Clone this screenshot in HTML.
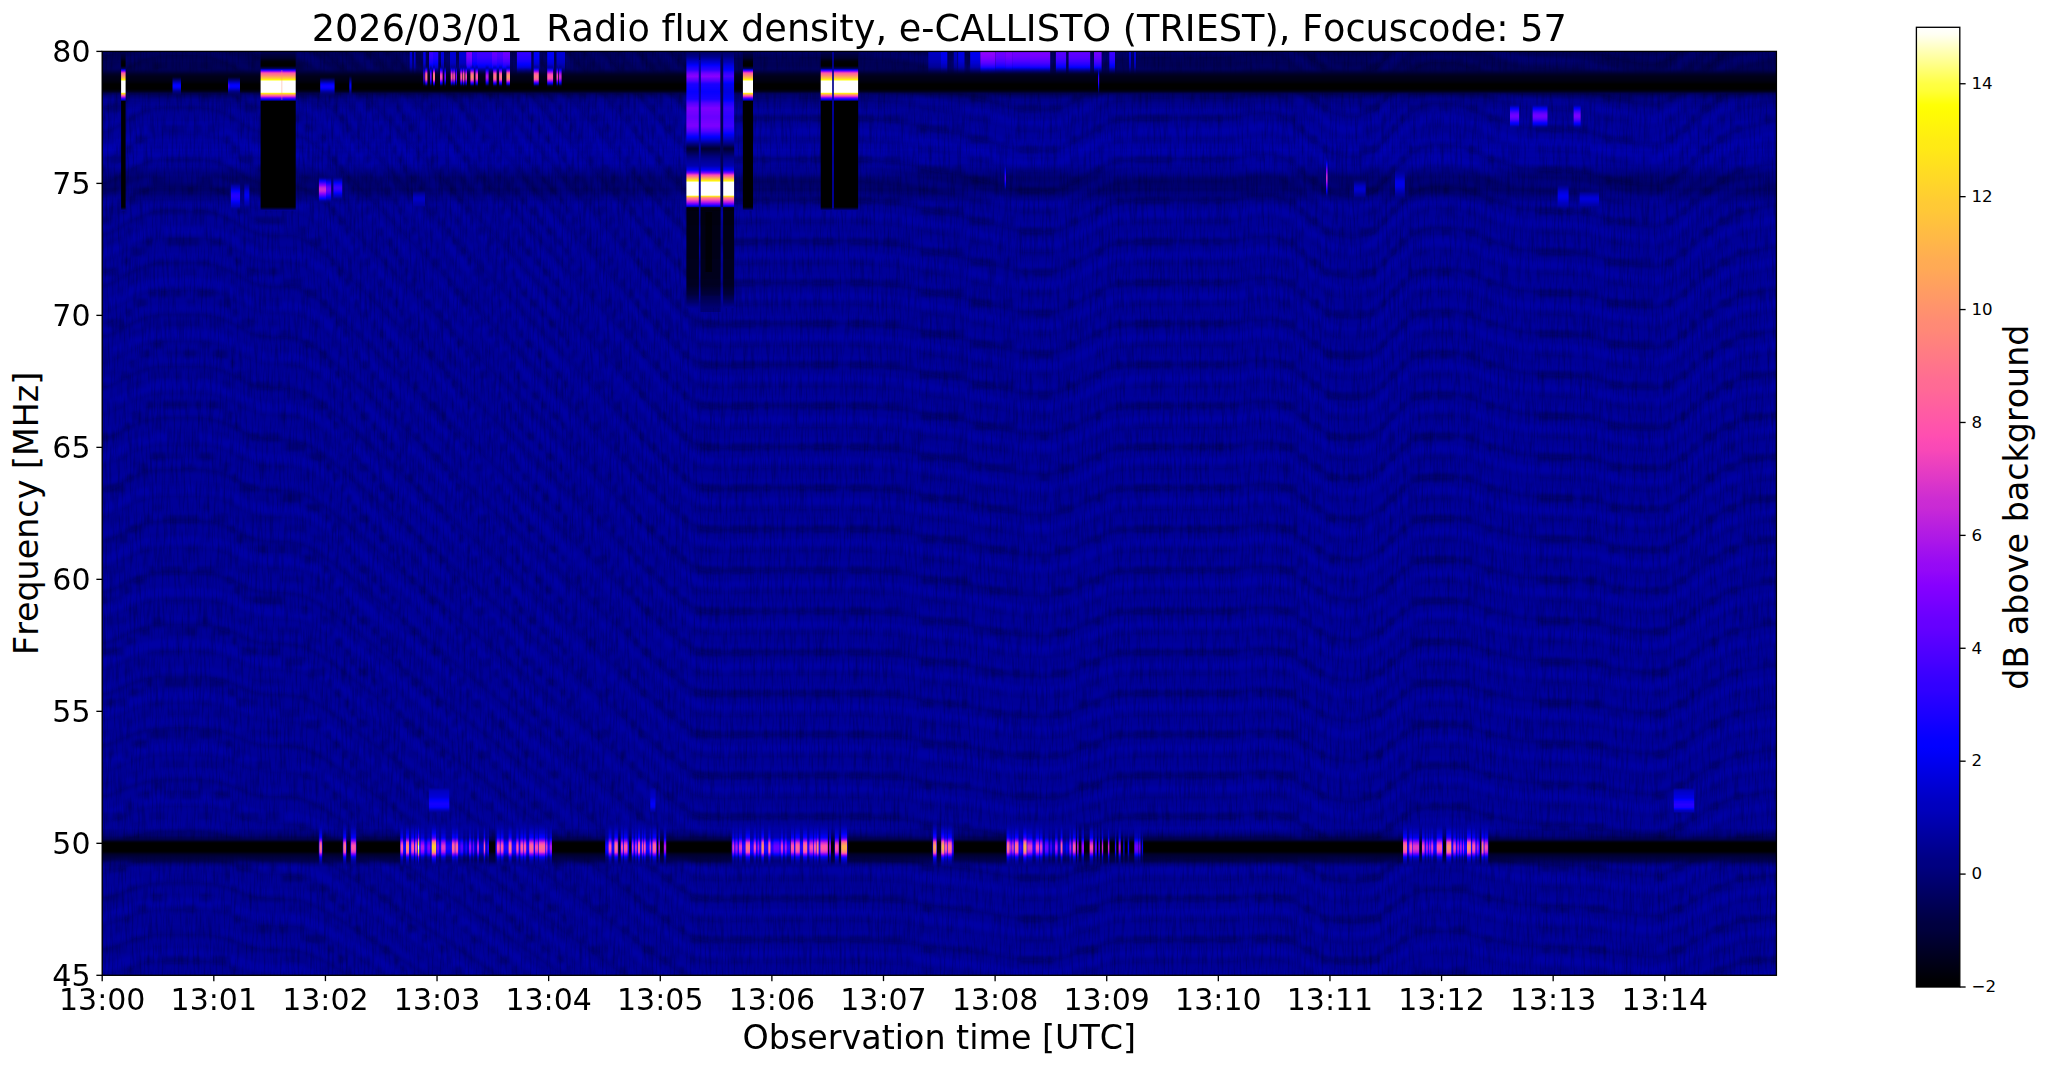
<!DOCTYPE html>
<html lang="en"><head><meta charset="utf-8"><title>e-CALLISTO TRIEST spectrogram</title>
<style>
html,body{margin:0;padding:0;background:#fff;overflow:hidden}
svg{display:block;font-family:"DejaVu Sans","Liberation Sans",sans-serif;fill:#000}
text{font-variant-ligatures:none;font-feature-settings:"liga" 0,"clig" 0;font-kerning:none}
</style></head><body>
<svg width="2047" height="1067" viewBox="0 0 2047 1067">
<defs>
<linearGradient id="cb" x1="0" y1="0" x2="0" y2="1"><stop offset="0.0000" stop-color="#ffffff"/><stop offset="0.0074" stop-color="#fffff3"/><stop offset="0.0147" stop-color="#ffffda"/><stop offset="0.0221" stop-color="#ffffc0"/><stop offset="0.0294" stop-color="#ffffa7"/><stop offset="0.0368" stop-color="#ffff8e"/><stop offset="0.0441" stop-color="#ffff75"/><stop offset="0.0515" stop-color="#ffff5c"/><stop offset="0.0588" stop-color="#ffff43"/><stop offset="0.0662" stop-color="#ffff37"/><stop offset="0.0735" stop-color="#ffff1e"/><stop offset="0.0809" stop-color="#ffff05"/><stop offset="0.0882" stop-color="#fffc03"/><stop offset="0.0956" stop-color="#fff807"/><stop offset="0.1029" stop-color="#fff40b"/><stop offset="0.1103" stop-color="#fff00f"/><stop offset="0.1176" stop-color="#ffec13"/><stop offset="0.1250" stop-color="#ffea15"/><stop offset="0.1324" stop-color="#ffe619"/><stop offset="0.1397" stop-color="#ffe21d"/><stop offset="0.1471" stop-color="#ffde21"/><stop offset="0.1544" stop-color="#ffda25"/><stop offset="0.1618" stop-color="#ffd629"/><stop offset="0.1691" stop-color="#ffd22d"/><stop offset="0.1765" stop-color="#ffce31"/><stop offset="0.1838" stop-color="#ffca35"/><stop offset="0.1912" stop-color="#ffc837"/><stop offset="0.1985" stop-color="#ffc43b"/><stop offset="0.2059" stop-color="#ffc03f"/><stop offset="0.2132" stop-color="#ffbc43"/><stop offset="0.2206" stop-color="#ffb847"/><stop offset="0.2279" stop-color="#ffb44b"/><stop offset="0.2353" stop-color="#ffb04f"/><stop offset="0.2426" stop-color="#ffac53"/><stop offset="0.2500" stop-color="#ffaa55"/><stop offset="0.2574" stop-color="#ffa659"/><stop offset="0.2647" stop-color="#ffa25d"/><stop offset="0.2721" stop-color="#ff9e61"/><stop offset="0.2794" stop-color="#ff9a65"/><stop offset="0.2868" stop-color="#ff9669"/><stop offset="0.2941" stop-color="#ff926d"/><stop offset="0.3015" stop-color="#ff8e71"/><stop offset="0.3088" stop-color="#ff8a75"/><stop offset="0.3162" stop-color="#ff8877"/><stop offset="0.3235" stop-color="#ff847b"/><stop offset="0.3309" stop-color="#ff807f"/><stop offset="0.3382" stop-color="#ff7c83"/><stop offset="0.3456" stop-color="#ff7887"/><stop offset="0.3529" stop-color="#ff748b"/><stop offset="0.3603" stop-color="#ff708f"/><stop offset="0.3676" stop-color="#ff6c93"/><stop offset="0.3750" stop-color="#ff6a95"/><stop offset="0.3824" stop-color="#ff6699"/><stop offset="0.3897" stop-color="#ff629d"/><stop offset="0.3971" stop-color="#ff5ea1"/><stop offset="0.4044" stop-color="#ff5aa5"/><stop offset="0.4118" stop-color="#ff56a9"/><stop offset="0.4191" stop-color="#ff52ad"/><stop offset="0.4265" stop-color="#ff4eb1"/><stop offset="0.4338" stop-color="#fb4ab5"/><stop offset="0.4412" stop-color="#f848b7"/><stop offset="0.4485" stop-color="#f144bb"/><stop offset="0.4559" stop-color="#eb40bf"/><stop offset="0.4632" stop-color="#e53cc3"/><stop offset="0.4706" stop-color="#df38c7"/><stop offset="0.4779" stop-color="#d834cb"/><stop offset="0.4853" stop-color="#d230cf"/><stop offset="0.4926" stop-color="#cc2cd3"/><stop offset="0.5000" stop-color="#c92ad5"/><stop offset="0.5074" stop-color="#c326d9"/><stop offset="0.5147" stop-color="#bc22dd"/><stop offset="0.5221" stop-color="#b61ee1"/><stop offset="0.5294" stop-color="#b01ae5"/><stop offset="0.5368" stop-color="#aa16e9"/><stop offset="0.5441" stop-color="#a312ed"/><stop offset="0.5515" stop-color="#9d0ef1"/><stop offset="0.5588" stop-color="#970af5"/><stop offset="0.5662" stop-color="#9408f7"/><stop offset="0.5735" stop-color="#8d04fb"/><stop offset="0.5809" stop-color="#8700ff"/><stop offset="0.5882" stop-color="#8100ff"/><stop offset="0.5956" stop-color="#7b00ff"/><stop offset="0.6029" stop-color="#7400ff"/><stop offset="0.6103" stop-color="#6e00ff"/><stop offset="0.6176" stop-color="#6800ff"/><stop offset="0.6250" stop-color="#6500ff"/><stop offset="0.6324" stop-color="#5f00ff"/><stop offset="0.6397" stop-color="#5800ff"/><stop offset="0.6471" stop-color="#5200ff"/><stop offset="0.6544" stop-color="#4c00ff"/><stop offset="0.6618" stop-color="#4600ff"/><stop offset="0.6691" stop-color="#3f00ff"/><stop offset="0.6765" stop-color="#3900ff"/><stop offset="0.6838" stop-color="#3300ff"/><stop offset="0.6912" stop-color="#3000ff"/><stop offset="0.6985" stop-color="#2900ff"/><stop offset="0.7059" stop-color="#2300ff"/><stop offset="0.7132" stop-color="#1d00ff"/><stop offset="0.7206" stop-color="#1700ff"/><stop offset="0.7279" stop-color="#1000ff"/><stop offset="0.7353" stop-color="#0a00ff"/><stop offset="0.7426" stop-color="#0400ff"/><stop offset="0.7500" stop-color="#0100ff"/><stop offset="0.7574" stop-color="#0000f8"/><stop offset="0.7647" stop-color="#0000f0"/><stop offset="0.7721" stop-color="#0000e8"/><stop offset="0.7794" stop-color="#0000e0"/><stop offset="0.7868" stop-color="#0000d8"/><stop offset="0.7941" stop-color="#0000d0"/><stop offset="0.8015" stop-color="#0000c8"/><stop offset="0.8088" stop-color="#0000c0"/><stop offset="0.8162" stop-color="#0000bc"/><stop offset="0.8235" stop-color="#0000b4"/><stop offset="0.8309" stop-color="#0000ac"/><stop offset="0.8382" stop-color="#0000a4"/><stop offset="0.8456" stop-color="#00009c"/><stop offset="0.8529" stop-color="#000094"/><stop offset="0.8603" stop-color="#00008c"/><stop offset="0.8676" stop-color="#000084"/><stop offset="0.8750" stop-color="#000080"/><stop offset="0.8824" stop-color="#000078"/><stop offset="0.8897" stop-color="#000070"/><stop offset="0.8971" stop-color="#000068"/><stop offset="0.9044" stop-color="#000060"/><stop offset="0.9118" stop-color="#000058"/><stop offset="0.9191" stop-color="#000050"/><stop offset="0.9265" stop-color="#000048"/><stop offset="0.9338" stop-color="#000040"/><stop offset="0.9412" stop-color="#00003c"/><stop offset="0.9485" stop-color="#000034"/><stop offset="0.9559" stop-color="#00002c"/><stop offset="0.9632" stop-color="#000024"/><stop offset="0.9706" stop-color="#00001c"/><stop offset="0.9779" stop-color="#000014"/><stop offset="0.9853" stop-color="#00000c"/><stop offset="0.9926" stop-color="#000004"/><stop offset="1.0000" stop-color="#000000"/></linearGradient>
<clipPath id="axclip"><rect x="102.20" y="51.40" width="1674.20" height="923.90"/></clipPath>
<linearGradient id="g1" gradientUnits="userSpaceOnUse" x1="0" y1="51.40" x2="0" y2="975.30"><stop offset="0" stop-color="#000058"/><stop offset="0.004329" stop-color="#000058"/><stop offset="0.005411" stop-color="#00005c"/><stop offset="0.01082" stop-color="#00005c"/><stop offset="0.0119" stop-color="#000058"/><stop offset="0.04654" stop-color="#000058"/><stop offset="0.04762" stop-color="#000068"/><stop offset="0.0487" stop-color="#000070"/><stop offset="0.04978" stop-color="#000078"/><stop offset="0.05087" stop-color="#000080"/><stop offset="0.05195" stop-color="#000088"/><stop offset="0.05411" stop-color="#000088"/><stop offset="0.05519" stop-color="#00008c"/><stop offset="0.05628" stop-color="#00008c"/><stop offset="0.05736" stop-color="#000090"/><stop offset="0.05952" stop-color="#000090"/><stop offset="0.06061" stop-color="#000094"/><stop offset="0.06169" stop-color="#000094"/><stop offset="0.06277" stop-color="#000098"/><stop offset="0.07468" stop-color="#000098"/><stop offset="0.07576" stop-color="#00009c"/><stop offset="0.09416" stop-color="#00009c"/><stop offset="0.09524" stop-color="#0000a0"/><stop offset="0.09957" stop-color="#0000a0"/><stop offset="0.1006" stop-color="#0000a4"/><stop offset="0.105" stop-color="#0000a4"/><stop offset="0.1061" stop-color="#0000a8"/><stop offset="0.1071" stop-color="#0000a8"/><stop offset="0.1082" stop-color="#0000a4"/><stop offset="0.1136" stop-color="#0000a4"/><stop offset="0.1147" stop-color="#0000a0"/><stop offset="0.1212" stop-color="#0000a0"/><stop offset="0.1223" stop-color="#00009c"/><stop offset="0.1234" stop-color="#000098"/><stop offset="0.1245" stop-color="#000098"/><stop offset="0.1255" stop-color="#000094"/><stop offset="0.1266" stop-color="#000090"/><stop offset="0.1277" stop-color="#00008c"/><stop offset="0.1288" stop-color="#00008c"/><stop offset="0.1299" stop-color="#000088"/><stop offset="0.131" stop-color="#000084"/><stop offset="0.132" stop-color="#000080"/><stop offset="0.1331" stop-color="#00007c"/><stop offset="0.1342" stop-color="#000078"/><stop offset="0.1353" stop-color="#000074"/><stop offset="0.1364" stop-color="#000070"/><stop offset="0.1472" stop-color="#000070"/><stop offset="0.1483" stop-color="#00006c"/><stop offset="0.1504" stop-color="#00006c"/><stop offset="0.1515" stop-color="#000070"/><stop offset="0.1526" stop-color="#000074"/><stop offset="0.1537" stop-color="#000074"/><stop offset="0.1548" stop-color="#000078"/><stop offset="0.1558" stop-color="#00007c"/><stop offset="0.1569" stop-color="#000080"/><stop offset="0.158" stop-color="#000084"/><stop offset="0.1591" stop-color="#000088"/><stop offset="0.1602" stop-color="#000088"/><stop offset="0.1613" stop-color="#00008c"/><stop offset="0.1623" stop-color="#000090"/><stop offset="0.1634" stop-color="#000094"/><stop offset="0.1645" stop-color="#000094"/><stop offset="0.1656" stop-color="#000098"/><stop offset="0.8409" stop-color="#000098"/><stop offset="0.842" stop-color="#000090"/><stop offset="0.8431" stop-color="#00008c"/><stop offset="0.8442" stop-color="#000088"/><stop offset="0.8452" stop-color="#000084"/><stop offset="0.8463" stop-color="#000080"/><stop offset="0.8474" stop-color="#000078"/><stop offset="0.8485" stop-color="#000074"/><stop offset="0.8496" stop-color="#000068"/><stop offset="0.8506" stop-color="#00005c"/><stop offset="0.8517" stop-color="#000058"/><stop offset="0.8766" stop-color="#000058"/><stop offset="0.8777" stop-color="#000064"/><stop offset="0.8788" stop-color="#000074"/><stop offset="0.8799" stop-color="#000080"/><stop offset="0.881" stop-color="#000088"/><stop offset="0.882" stop-color="#000090"/><stop offset="0.8831" stop-color="#000098"/><stop offset="1" stop-color="#000098"/></linearGradient>
<filter id="tb" x="0" y="0" width="100%" height="100%"><feGaussianBlur stdDeviation="1.1 1.6"/></filter>
<polyline id="wl" points="98,-382.3 107,-384.2 116,-388.6 125,-394.1 134,-399.1 143,-402.9 152,-405.5 161,-406.8 170,-407.0 179,-407.0 188,-407.0 197,-407.0 206,-406.4 215,-404.6 224,-401.6 233,-397.3 242,-391.9 251,-386.8 260,-383.7 269,-382.4 278,-382.1 287,-381.9 296,-380.8 305,-377.9 314,-372.5 323,-365.7 332,-358.1 341,-349.7 350,-340.8 359,-331.8 368,-322.8 377,-313.8 386,-304.8 395,-295.8 404,-286.8 413,-277.8 422,-268.8 431,-259.8 440,-250.8 449,-241.8 458,-232.8 467,-223.8 476,-214.8 485,-205.8 494,-196.8 503,-187.8 512,-178.8 521,-169.8 530,-160.8 539,-151.8 548,-142.8 557,-133.8 566,-124.8 575,-115.8 584,-106.8 593,-97.8 602,-88.8 611,-79.8 620,-70.8 629,-61.8 638,-52.8 647,-43.8 656,-34.8 665,-26.0 674,-17.8 683,-10.5 692,-5.0 701,-1.4 710,0.5 719,1.3 728,1.1 737,0.8 746,0.5 755,0.3" fill="none" vector-effect="non-scaling-stroke"/>
<polyline id="wr" points="755,0.0 764,0.0 773,0.0 782,0.0 791,0.0 800,0.0 809,0.0 818,0.0 827,0.0 836,0.0 845,0.0 854,0.0 863,0.4 872,1.1 881,1.9 890,2.8 899,3.6 908,4.5 917,5.8 926,7.3 935,8.8 944,10.3 953,11.8 962,13.3 971,14.8 980,16.4 989,18.2 998,20.2 1007,22.3 1016,24.1 1025,25.0 1034,25.0 1043,25.0 1052,25.0 1061,23.6 1070,20.2 1079,16.2 1088,12.2 1097,8.3 1106,4.6 1115,2.5 1124,1.5 1133,0.6 1142,0.1 1151,0.0 1160,0.0 1169,0.0 1178,0.0 1187,0.0 1196,0.0 1205,0.0 1214,0.0 1223,0.0 1232,-0.3 1241,-1.4 1250,-3.1 1259,-4.0 1268,-3.9 1277,-3.2 1286,-0.4 1295,5.2 1304,11.2 1313,16.8 1322,21.8 1331,26.3 1340,28.8 1349,29.9 1358,29.8 1367,26.9 1376,22.4 1385,15.8 1394,7.9 1403,0.7 1412,-5.0 1421,-9.2 1430,-11.0 1439,-11.0 1448,-11.0 1457,-10.4 1466,-8.3 1475,-5.3 1484,-2.5 1493,0.1 1502,2.7 1511,5.2 1520,6.9 1529,7.6 1538,8.0 1547,8.4 1556,8.8 1565,9.2 1574,9.6 1583,10.5 1592,12.0 1601,13.8 1610,15.6 1619,17.4 1628,19.1 1637,20.4 1646,21.1 1655,21.2 1664,18.9 1673,15.0 1682,10.3 1691,4.2 1700,-2.7 1709,-8.9 1718,-14.4 1727,-19.4 1736,-22.8 1745,-24.6 1754,-26.2 1763,-27.9 1772,-29.4 1781,-29.9" fill="none" vector-effect="non-scaling-stroke"/>
<filter id="vn" x="0" y="0" width="100%" height="100%" color-interpolation-filters="sRGB"><feTurbulence type="fractalNoise" baseFrequency="0.5 0.035" numOctaves="2" seed="7" result="n"/><feColorMatrix in="n" type="matrix" values="0 0 0 0 0  0 0 0 0 0  0 0 0 0 0.05  0.62 0 0 0 -0.275"/></filter>
<linearGradient id="g2" gradientUnits="userSpaceOnUse" x1="0" y1="66.00" x2="0" y2="99.00"><stop offset="0" stop-color="#000058" stop-opacity="0.03"/><stop offset="0.0303" stop-color="#000058" stop-opacity="0.05"/><stop offset="0.06061" stop-color="#000054" stop-opacity="0.06"/><stop offset="0.09091" stop-color="#00004c" stop-opacity="0.23"/><stop offset="0.1212" stop-color="#000044" stop-opacity="0.41"/><stop offset="0.1515" stop-color="#00003c" stop-opacity="0.58"/><stop offset="0.1818" stop-color="#000034" stop-opacity="0.75"/><stop offset="0.2121" stop-color="#000030" stop-opacity="0.88"/><stop offset="0.2424" stop-color="#000028"/><stop offset="0.2727" stop-color="#000024"/><stop offset="0.303" stop-color="#00001c"/><stop offset="0.3333" stop-color="#000018"/><stop offset="0.3636" stop-color="#000018"/><stop offset="0.3939" stop-color="#000014"/><stop offset="0.4242" stop-color="#000014"/><stop offset="0.4545" stop-color="#000010"/><stop offset="0.4848" stop-color="#00000c"/><stop offset="0.5152" stop-color="#000008"/><stop offset="0.5455" stop-color="#000000"/><stop offset="0.697" stop-color="#000000"/><stop offset="0.7273" stop-color="#00000c"/><stop offset="0.7576" stop-color="#000018"/><stop offset="0.7879" stop-color="#000028"/><stop offset="0.8182" stop-color="#00003c" stop-opacity="0.61"/><stop offset="0.8485" stop-color="#000050" stop-opacity="0.18"/><stop offset="0.8788" stop-color="#000064" stop-opacity="0"/><stop offset="0.9091" stop-color="#00006c" stop-opacity="0"/><stop offset="0.9394" stop-color="#000074" stop-opacity="0"/><stop offset="0.9697" stop-color="#00007c" stop-opacity="0"/><stop offset="1" stop-color="#000084" stop-opacity="0"/></linearGradient>
<linearGradient id="g3" gradientUnits="userSpaceOnUse" x1="0" y1="832.00" x2="0" y2="866.00"><stop offset="0" stop-color="#000084" stop-opacity="0"/><stop offset="0.02941" stop-color="#000080" stop-opacity="0"/><stop offset="0.05882" stop-color="#00007c" stop-opacity="0"/><stop offset="0.08824" stop-color="#000078" stop-opacity="0"/><stop offset="0.1176" stop-color="#00006c" stop-opacity="0"/><stop offset="0.1471" stop-color="#000060" stop-opacity="0"/><stop offset="0.1765" stop-color="#000054" stop-opacity="0.13"/><stop offset="0.2059" stop-color="#000048" stop-opacity="0.38"/><stop offset="0.2353" stop-color="#000038" stop-opacity="0.7"/><stop offset="0.2647" stop-color="#000024"/><stop offset="0.2941" stop-color="#000010"/><stop offset="0.3235" stop-color="#000000"/><stop offset="0.5588" stop-color="#000000"/><stop offset="0.5882" stop-color="#000008"/><stop offset="0.6176" stop-color="#000018"/><stop offset="0.6471" stop-color="#000028"/><stop offset="0.6765" stop-color="#00002c" stop-opacity="0.92"/><stop offset="0.7059" stop-color="#000030" stop-opacity="0.83"/><stop offset="0.7353" stop-color="#000034" stop-opacity="0.75"/><stop offset="0.7647" stop-color="#000038" stop-opacity="0.67"/><stop offset="0.7941" stop-color="#00003c" stop-opacity="0.58"/><stop offset="0.8235" stop-color="#000040" stop-opacity="0.5"/><stop offset="0.8529" stop-color="#000050" stop-opacity="0.18"/><stop offset="0.8824" stop-color="#000060" stop-opacity="0"/><stop offset="0.9118" stop-color="#000070" stop-opacity="0"/><stop offset="0.9412" stop-color="#00007c" stop-opacity="0"/><stop offset="0.9706" stop-color="#000084" stop-opacity="0"/><stop offset="1" stop-color="#000090" stop-opacity="0"/></linearGradient>
<linearGradient id="g4" gradientUnits="userSpaceOnUse" x1="0" y1="51.40" x2="0" y2="210.50"><stop offset="0" stop-color="#000054"/><stop offset="0.004695" stop-color="#000050"/><stop offset="0.00939" stop-color="#00004c"/><stop offset="0.01408" stop-color="#000048"/><stop offset="0.01878" stop-color="#000040"/><stop offset="0.02347" stop-color="#00003c"/><stop offset="0.02817" stop-color="#000038"/><stop offset="0.03286" stop-color="#000034"/><stop offset="0.03756" stop-color="#000030"/><stop offset="0.04225" stop-color="#00002c"/><stop offset="0.04695" stop-color="#000024"/><stop offset="0.05164" stop-color="#00001c"/><stop offset="0.05634" stop-color="#000014"/><stop offset="0.06103" stop-color="#00000c"/><stop offset="0.06573" stop-color="#000004"/><stop offset="0.07042" stop-color="#000004"/><stop offset="0.07512" stop-color="#000000"/><stop offset="0.0892" stop-color="#000000"/><stop offset="0.0939" stop-color="#00000c"/><stop offset="0.09859" stop-color="#000024"/><stop offset="0.1033" stop-color="#000040"/><stop offset="0.108" stop-color="#000060"/><stop offset="0.1127" stop-color="#0000bc"/><stop offset="0.1174" stop-color="#1000ff"/><stop offset="0.1221" stop-color="#5800ff"/><stop offset="0.1268" stop-color="#9d0ef1"/><stop offset="0.1315" stop-color="#d834cb"/><stop offset="0.1362" stop-color="#ff58a7"/><stop offset="0.1408" stop-color="#ff6699"/><stop offset="0.1455" stop-color="#ff7689"/><stop offset="0.1502" stop-color="#ff847b"/><stop offset="0.1549" stop-color="#ff946b"/><stop offset="0.1596" stop-color="#ffa659"/><stop offset="0.1643" stop-color="#ffb847"/><stop offset="0.169" stop-color="#ffca35"/><stop offset="0.1737" stop-color="#ffe21d"/><stop offset="0.1784" stop-color="#fffe01"/><stop offset="0.1831" stop-color="#ffff8e"/><stop offset="0.1878" stop-color="#ffffff"/><stop offset="0.2535" stop-color="#ffffff"/><stop offset="0.2582" stop-color="#ffffcd"/><stop offset="0.2629" stop-color="#fff609"/><stop offset="0.2676" stop-color="#ffc639"/><stop offset="0.2723" stop-color="#ff9669"/><stop offset="0.277" stop-color="#ff6897"/><stop offset="0.2817" stop-color="#ee42bd"/><stop offset="0.2864" stop-color="#b31ce3"/><stop offset="0.2911" stop-color="#7800ff"/><stop offset="0.2958" stop-color="#3c00ff"/><stop offset="0.3005" stop-color="#0d00ff"/><stop offset="0.3052" stop-color="#0000d4"/><stop offset="0.3099" stop-color="#000060"/><stop offset="0.3146" stop-color="#000000"/><stop offset="0.9765" stop-color="#000000"/><stop offset="0.9812" stop-color="#000014"/><stop offset="0.9859" stop-color="#000030"/><stop offset="0.9906" stop-color="#000050"/><stop offset="0.9953" stop-color="#000074"/><stop offset="1" stop-color="#000098"/></linearGradient>
<linearGradient id="g5" gradientUnits="userSpaceOnUse" x1="0" y1="51.40" x2="0" y2="308.00"><stop offset="0" stop-color="#000064"/><stop offset="0.003115" stop-color="#000068"/><stop offset="0.006231" stop-color="#000070"/><stop offset="0.009346" stop-color="#000074"/><stop offset="0.01246" stop-color="#000078"/><stop offset="0.01558" stop-color="#000080"/><stop offset="0.01869" stop-color="#000084"/><stop offset="0.02181" stop-color="#000090"/><stop offset="0.02492" stop-color="#000098"/><stop offset="0.02804" stop-color="#0000a4"/><stop offset="0.03115" stop-color="#0000b0"/><stop offset="0.03427" stop-color="#0000b8"/><stop offset="0.03738" stop-color="#0000c4"/><stop offset="0.0405" stop-color="#0000d0"/><stop offset="0.04361" stop-color="#0000d8"/><stop offset="0.04673" stop-color="#0000e4"/><stop offset="0.04984" stop-color="#0000f0"/><stop offset="0.05296" stop-color="#0000fc"/><stop offset="0.05607" stop-color="#0700ff"/><stop offset="0.05919" stop-color="#1000ff"/><stop offset="0.06231" stop-color="#1700ff"/><stop offset="0.06542" stop-color="#1d00ff"/><stop offset="0.06854" stop-color="#2300ff"/><stop offset="0.07165" stop-color="#2900ff"/><stop offset="0.07477" stop-color="#3900ff"/><stop offset="0.07788" stop-color="#4900ff"/><stop offset="0.081" stop-color="#5800ff"/><stop offset="0.08411" stop-color="#6800ff"/><stop offset="0.08723" stop-color="#7100ff"/><stop offset="0.09034" stop-color="#7b00ff"/><stop offset="0.09346" stop-color="#8100ff"/><stop offset="0.09657" stop-color="#8a02fd"/><stop offset="0.09969" stop-color="#8100ff"/><stop offset="0.1028" stop-color="#7800ff"/><stop offset="0.1059" stop-color="#6b00ff"/><stop offset="0.109" stop-color="#6200ff"/><stop offset="0.1121" stop-color="#5800ff"/><stop offset="0.1153" stop-color="#4c00ff"/><stop offset="0.1184" stop-color="#3f00ff"/><stop offset="0.1215" stop-color="#3000ff"/><stop offset="0.1246" stop-color="#2300ff"/><stop offset="0.1277" stop-color="#1a00ff"/><stop offset="0.1308" stop-color="#1700ff"/><stop offset="0.134" stop-color="#1400ff"/><stop offset="0.1371" stop-color="#1400ff"/><stop offset="0.1402" stop-color="#1000ff"/><stop offset="0.1433" stop-color="#1000ff"/><stop offset="0.1464" stop-color="#0d00ff"/><stop offset="0.1495" stop-color="#0a00ff"/><stop offset="0.1526" stop-color="#0a00ff"/><stop offset="0.1558" stop-color="#0700ff"/><stop offset="0.1589" stop-color="#0700ff"/><stop offset="0.162" stop-color="#0a00ff"/><stop offset="0.1651" stop-color="#0a00ff"/><stop offset="0.1682" stop-color="#0d00ff"/><stop offset="0.1713" stop-color="#1000ff"/><stop offset="0.1745" stop-color="#1000ff"/><stop offset="0.1776" stop-color="#1400ff"/><stop offset="0.1807" stop-color="#1700ff"/><stop offset="0.1838" stop-color="#1700ff"/><stop offset="0.1869" stop-color="#1d00ff"/><stop offset="0.19" stop-color="#2900ff"/><stop offset="0.1931" stop-color="#3600ff"/><stop offset="0.1963" stop-color="#3f00ff"/><stop offset="0.1994" stop-color="#4c00ff"/><stop offset="0.2025" stop-color="#5500ff"/><stop offset="0.2056" stop-color="#5b00ff"/><stop offset="0.2087" stop-color="#6200ff"/><stop offset="0.2118" stop-color="#6800ff"/><stop offset="0.215" stop-color="#6e00ff"/><stop offset="0.2181" stop-color="#7800ff"/><stop offset="0.2212" stop-color="#7b00ff"/><stop offset="0.2243" stop-color="#7b00ff"/><stop offset="0.2274" stop-color="#7800ff"/><stop offset="0.2305" stop-color="#7800ff"/><stop offset="0.2336" stop-color="#7400ff"/><stop offset="0.2368" stop-color="#7400ff"/><stop offset="0.2399" stop-color="#7100ff"/><stop offset="0.243" stop-color="#7100ff"/><stop offset="0.2461" stop-color="#6e00ff"/><stop offset="0.2492" stop-color="#6b00ff"/><stop offset="0.2523" stop-color="#6b00ff"/><stop offset="0.2555" stop-color="#6800ff"/><stop offset="0.2586" stop-color="#6b00ff"/><stop offset="0.2617" stop-color="#6b00ff"/><stop offset="0.2648" stop-color="#6e00ff"/><stop offset="0.2679" stop-color="#6e00ff"/><stop offset="0.271" stop-color="#7100ff"/><stop offset="0.2741" stop-color="#7400ff"/><stop offset="0.2773" stop-color="#7400ff"/><stop offset="0.2804" stop-color="#7800ff"/><stop offset="0.2835" stop-color="#7800ff"/><stop offset="0.2866" stop-color="#7b00ff"/><stop offset="0.2897" stop-color="#7b00ff"/><stop offset="0.2928" stop-color="#7800ff"/><stop offset="0.296" stop-color="#7100ff"/><stop offset="0.2991" stop-color="#6b00ff"/><stop offset="0.3022" stop-color="#6200ff"/><stop offset="0.3053" stop-color="#5b00ff"/><stop offset="0.3084" stop-color="#5500ff"/><stop offset="0.3115" stop-color="#4c00ff"/><stop offset="0.3146" stop-color="#4200ff"/><stop offset="0.3178" stop-color="#3600ff"/><stop offset="0.3209" stop-color="#2900ff"/><stop offset="0.324" stop-color="#2000ff"/><stop offset="0.3271" stop-color="#1400ff"/><stop offset="0.3302" stop-color="#0a00ff"/><stop offset="0.3333" stop-color="#0100ff"/><stop offset="0.3364" stop-color="#0000f4"/><stop offset="0.3396" stop-color="#0000e8"/><stop offset="0.3427" stop-color="#0000dc"/><stop offset="0.3458" stop-color="#0000d0"/><stop offset="0.3489" stop-color="#0000c0"/><stop offset="0.352" stop-color="#0000b0"/><stop offset="0.3551" stop-color="#0000a0"/><stop offset="0.3583" stop-color="#00008c"/><stop offset="0.3614" stop-color="#00007c"/><stop offset="0.3645" stop-color="#000070"/><stop offset="0.3676" stop-color="#000060"/><stop offset="0.3707" stop-color="#000050"/><stop offset="0.3738" stop-color="#000044"/><stop offset="0.3769" stop-color="#000034"/><stop offset="0.3801" stop-color="#000034"/><stop offset="0.3832" stop-color="#000038"/><stop offset="0.3863" stop-color="#000040"/><stop offset="0.3894" stop-color="#000048"/><stop offset="0.3925" stop-color="#000050"/><stop offset="0.3956" stop-color="#000058"/><stop offset="0.3988" stop-color="#000060"/><stop offset="0.4019" stop-color="#000068"/><stop offset="0.405" stop-color="#000070"/><stop offset="0.4081" stop-color="#000078"/><stop offset="0.4112" stop-color="#000080"/><stop offset="0.4143" stop-color="#000084"/><stop offset="0.4174" stop-color="#00008c"/><stop offset="0.4206" stop-color="#000090"/><stop offset="0.4237" stop-color="#000094"/><stop offset="0.4268" stop-color="#000098"/><stop offset="0.4299" stop-color="#00009c"/><stop offset="0.433" stop-color="#0000a0"/><stop offset="0.4361" stop-color="#0000a4"/><stop offset="0.4393" stop-color="#0000a8"/><stop offset="0.4424" stop-color="#0000ac"/><stop offset="0.4455" stop-color="#0000b0"/><stop offset="0.4486" stop-color="#0000bc"/><stop offset="0.4517" stop-color="#0000cc"/><stop offset="0.4548" stop-color="#0000d8"/><stop offset="0.4579" stop-color="#0000e8"/><stop offset="0.4611" stop-color="#0000f4"/><stop offset="0.4642" stop-color="#1400ff"/><stop offset="0.4673" stop-color="#3600ff"/><stop offset="0.4704" stop-color="#5800ff"/><stop offset="0.4735" stop-color="#8100ff"/><stop offset="0.4766" stop-color="#b01ae5"/><stop offset="0.4798" stop-color="#df38c7"/><stop offset="0.4829" stop-color="#ff50af"/><stop offset="0.486" stop-color="#ff6897"/><stop offset="0.4891" stop-color="#ff807f"/><stop offset="0.4922" stop-color="#ff9867"/><stop offset="0.4953" stop-color="#ffb04f"/><stop offset="0.4984" stop-color="#ffc837"/><stop offset="0.5016" stop-color="#ffe01f"/><stop offset="0.5047" stop-color="#fff807"/><stop offset="0.5078" stop-color="#ffff9b"/><stop offset="0.5109" stop-color="#ffffff"/><stop offset="0.5576" stop-color="#ffffff"/><stop offset="0.5607" stop-color="#fffff3"/><stop offset="0.5639" stop-color="#fff609"/><stop offset="0.567" stop-color="#ffbe41"/><stop offset="0.5701" stop-color="#ff8c73"/><stop offset="0.5732" stop-color="#ff748b"/><stop offset="0.5763" stop-color="#ff5ca3"/><stop offset="0.5794" stop-color="#f546b9"/><stop offset="0.5826" stop-color="#dc36c9"/><stop offset="0.5857" stop-color="#c326d9"/><stop offset="0.5888" stop-color="#aa16e9"/><stop offset="0.5919" stop-color="#8a02fd"/><stop offset="0.595" stop-color="#6500ff"/><stop offset="0.5981" stop-color="#3f00ff"/><stop offset="0.6012" stop-color="#1000ff"/><stop offset="0.6044" stop-color="#0000d4"/><stop offset="0.6075" stop-color="#000038"/><stop offset="0.6106" stop-color="#00000c"/><stop offset="0.6199" stop-color="#00000c"/><stop offset="0.6231" stop-color="#000010"/><stop offset="0.676" stop-color="#000010"/><stop offset="0.6791" stop-color="#000014"/><stop offset="0.7321" stop-color="#000014"/><stop offset="0.7352" stop-color="#000018"/><stop offset="0.8069" stop-color="#000018"/><stop offset="0.81" stop-color="#00001c"/><stop offset="0.8847" stop-color="#00001c"/><stop offset="0.8879" stop-color="#000020"/><stop offset="0.9097" stop-color="#000020"/><stop offset="0.9128" stop-color="#000024"/><stop offset="0.9159" stop-color="#000024"/><stop offset="0.919" stop-color="#000028"/><stop offset="0.9221" stop-color="#00002c"/><stop offset="0.9252" stop-color="#00002c"/><stop offset="0.9283" stop-color="#000030"/><stop offset="0.9315" stop-color="#000030"/><stop offset="0.9346" stop-color="#000034"/><stop offset="0.9377" stop-color="#000034"/><stop offset="0.9408" stop-color="#000038"/><stop offset="0.9439" stop-color="#000038"/><stop offset="0.947" stop-color="#00003c"/><stop offset="0.9502" stop-color="#000040"/><stop offset="0.9533" stop-color="#000048"/><stop offset="0.9564" stop-color="#00004c"/><stop offset="0.9595" stop-color="#000050"/><stop offset="0.9626" stop-color="#000054"/><stop offset="0.9657" stop-color="#000058"/><stop offset="0.9688" stop-color="#000060"/><stop offset="0.972" stop-color="#000064"/><stop offset="0.9751" stop-color="#000068"/><stop offset="0.9782" stop-color="#00006c"/><stop offset="0.9813" stop-color="#000074"/><stop offset="0.9844" stop-color="#000078"/><stop offset="0.9875" stop-color="#000080"/><stop offset="0.9907" stop-color="#000084"/><stop offset="0.9938" stop-color="#00008c"/><stop offset="0.9969" stop-color="#000090"/><stop offset="1" stop-color="#000098"/></linearGradient>
<linearGradient id="g6" gradientUnits="userSpaceOnUse" x1="0" y1="51.40" x2="0" y2="308.00"><stop offset="0" stop-color="#000064"/><stop offset="0.003115" stop-color="#000068"/><stop offset="0.006231" stop-color="#000070"/><stop offset="0.009346" stop-color="#000074"/><stop offset="0.01246" stop-color="#000078"/><stop offset="0.01558" stop-color="#00007c"/><stop offset="0.01869" stop-color="#000080"/><stop offset="0.02181" stop-color="#000088"/><stop offset="0.02492" stop-color="#000090"/><stop offset="0.02804" stop-color="#000098"/><stop offset="0.03115" stop-color="#0000a0"/><stop offset="0.03427" stop-color="#0000a8"/><stop offset="0.03738" stop-color="#0000b0"/><stop offset="0.0405" stop-color="#0000b4"/><stop offset="0.04361" stop-color="#0000bc"/><stop offset="0.04673" stop-color="#0000c8"/><stop offset="0.04984" stop-color="#0000d0"/><stop offset="0.05296" stop-color="#0000d8"/><stop offset="0.05607" stop-color="#0000e0"/><stop offset="0.05919" stop-color="#0000e8"/><stop offset="0.06231" stop-color="#0000ec"/><stop offset="0.06542" stop-color="#0000f4"/><stop offset="0.06854" stop-color="#0000f8"/><stop offset="0.07165" stop-color="#0100ff"/><stop offset="0.07477" stop-color="#0a00ff"/><stop offset="0.07788" stop-color="#1700ff"/><stop offset="0.081" stop-color="#2300ff"/><stop offset="0.08411" stop-color="#2d00ff"/><stop offset="0.08723" stop-color="#3300ff"/><stop offset="0.09034" stop-color="#3900ff"/><stop offset="0.09346" stop-color="#3f00ff"/><stop offset="0.09657" stop-color="#4600ff"/><stop offset="0.09969" stop-color="#3f00ff"/><stop offset="0.1028" stop-color="#3600ff"/><stop offset="0.1059" stop-color="#3000ff"/><stop offset="0.109" stop-color="#2900ff"/><stop offset="0.1121" stop-color="#2000ff"/><stop offset="0.1153" stop-color="#1700ff"/><stop offset="0.1184" stop-color="#0d00ff"/><stop offset="0.1215" stop-color="#0400ff"/><stop offset="0.1246" stop-color="#0000f8"/><stop offset="0.1277" stop-color="#0000f0"/><stop offset="0.1308" stop-color="#0000ec"/><stop offset="0.1371" stop-color="#0000ec"/><stop offset="0.1402" stop-color="#0000e8"/><stop offset="0.1433" stop-color="#0000e8"/><stop offset="0.1464" stop-color="#0000e4"/><stop offset="0.1495" stop-color="#0000e4"/><stop offset="0.1526" stop-color="#0000e0"/><stop offset="0.162" stop-color="#0000e0"/><stop offset="0.1651" stop-color="#0000e4"/><stop offset="0.1682" stop-color="#0000e4"/><stop offset="0.1713" stop-color="#0000e8"/><stop offset="0.1745" stop-color="#0000e8"/><stop offset="0.1776" stop-color="#0000ec"/><stop offset="0.1807" stop-color="#0000ec"/><stop offset="0.1838" stop-color="#0000f0"/><stop offset="0.1869" stop-color="#0000f4"/><stop offset="0.19" stop-color="#0100ff"/><stop offset="0.1931" stop-color="#0700ff"/><stop offset="0.1963" stop-color="#1000ff"/><stop offset="0.1994" stop-color="#1a00ff"/><stop offset="0.2025" stop-color="#2000ff"/><stop offset="0.2056" stop-color="#2300ff"/><stop offset="0.2087" stop-color="#2900ff"/><stop offset="0.2118" stop-color="#2d00ff"/><stop offset="0.215" stop-color="#3300ff"/><stop offset="0.2181" stop-color="#3600ff"/><stop offset="0.2212" stop-color="#3c00ff"/><stop offset="0.2243" stop-color="#3900ff"/><stop offset="0.2305" stop-color="#3900ff"/><stop offset="0.2336" stop-color="#3600ff"/><stop offset="0.2368" stop-color="#3600ff"/><stop offset="0.2399" stop-color="#3300ff"/><stop offset="0.2461" stop-color="#3300ff"/><stop offset="0.2492" stop-color="#3000ff"/><stop offset="0.2523" stop-color="#3000ff"/><stop offset="0.2555" stop-color="#2d00ff"/><stop offset="0.2586" stop-color="#3000ff"/><stop offset="0.2617" stop-color="#3000ff"/><stop offset="0.2648" stop-color="#3300ff"/><stop offset="0.271" stop-color="#3300ff"/><stop offset="0.2741" stop-color="#3600ff"/><stop offset="0.2804" stop-color="#3600ff"/><stop offset="0.2835" stop-color="#3900ff"/><stop offset="0.2866" stop-color="#3900ff"/><stop offset="0.2897" stop-color="#3c00ff"/><stop offset="0.2928" stop-color="#3900ff"/><stop offset="0.296" stop-color="#3300ff"/><stop offset="0.2991" stop-color="#3000ff"/><stop offset="0.3022" stop-color="#2900ff"/><stop offset="0.3053" stop-color="#2300ff"/><stop offset="0.3084" stop-color="#2000ff"/><stop offset="0.3115" stop-color="#1a00ff"/><stop offset="0.3146" stop-color="#1000ff"/><stop offset="0.3178" stop-color="#0a00ff"/><stop offset="0.3209" stop-color="#0100ff"/><stop offset="0.324" stop-color="#0000f4"/><stop offset="0.3271" stop-color="#0000ec"/><stop offset="0.3302" stop-color="#0000e4"/><stop offset="0.3333" stop-color="#0000dc"/><stop offset="0.3364" stop-color="#0000d0"/><stop offset="0.3396" stop-color="#0000c8"/><stop offset="0.3427" stop-color="#0000c0"/><stop offset="0.3458" stop-color="#0000b4"/><stop offset="0.3489" stop-color="#0000ac"/><stop offset="0.352" stop-color="#0000a0"/><stop offset="0.3551" stop-color="#000094"/><stop offset="0.3583" stop-color="#000088"/><stop offset="0.3614" stop-color="#00007c"/><stop offset="0.3645" stop-color="#000070"/><stop offset="0.3676" stop-color="#000060"/><stop offset="0.3707" stop-color="#000050"/><stop offset="0.3738" stop-color="#000044"/><stop offset="0.3769" stop-color="#000034"/><stop offset="0.3801" stop-color="#000034"/><stop offset="0.3832" stop-color="#000038"/><stop offset="0.3863" stop-color="#000040"/><stop offset="0.3894" stop-color="#000048"/><stop offset="0.3925" stop-color="#000050"/><stop offset="0.3956" stop-color="#000058"/><stop offset="0.3988" stop-color="#000060"/><stop offset="0.4019" stop-color="#000068"/><stop offset="0.405" stop-color="#000070"/><stop offset="0.4081" stop-color="#000078"/><stop offset="0.4112" stop-color="#000080"/><stop offset="0.4143" stop-color="#000084"/><stop offset="0.4174" stop-color="#00008c"/><stop offset="0.4206" stop-color="#000090"/><stop offset="0.4237" stop-color="#000094"/><stop offset="0.4268" stop-color="#000098"/><stop offset="0.4299" stop-color="#00009c"/><stop offset="0.433" stop-color="#0000a0"/><stop offset="0.4361" stop-color="#0000a4"/><stop offset="0.4393" stop-color="#0000a8"/><stop offset="0.4424" stop-color="#0000ac"/><stop offset="0.4455" stop-color="#0000b0"/><stop offset="0.4486" stop-color="#0000bc"/><stop offset="0.4517" stop-color="#0000cc"/><stop offset="0.4548" stop-color="#0000d8"/><stop offset="0.4579" stop-color="#0000e8"/><stop offset="0.4611" stop-color="#0000f4"/><stop offset="0.4642" stop-color="#1400ff"/><stop offset="0.4673" stop-color="#3600ff"/><stop offset="0.4704" stop-color="#5800ff"/><stop offset="0.4735" stop-color="#8100ff"/><stop offset="0.4766" stop-color="#b01ae5"/><stop offset="0.4798" stop-color="#df38c7"/><stop offset="0.4829" stop-color="#ff50af"/><stop offset="0.486" stop-color="#ff6897"/><stop offset="0.4891" stop-color="#ff807f"/><stop offset="0.4922" stop-color="#ff9867"/><stop offset="0.4953" stop-color="#ffb04f"/><stop offset="0.4984" stop-color="#ffc837"/><stop offset="0.5016" stop-color="#ffe01f"/><stop offset="0.5047" stop-color="#fff807"/><stop offset="0.5078" stop-color="#ffff9b"/><stop offset="0.5109" stop-color="#ffffff"/><stop offset="0.5576" stop-color="#ffffff"/><stop offset="0.5607" stop-color="#fffff3"/><stop offset="0.5639" stop-color="#fff609"/><stop offset="0.567" stop-color="#ffbe41"/><stop offset="0.5701" stop-color="#ff8c73"/><stop offset="0.5732" stop-color="#ff748b"/><stop offset="0.5763" stop-color="#ff5ca3"/><stop offset="0.5794" stop-color="#f546b9"/><stop offset="0.5826" stop-color="#dc36c9"/><stop offset="0.5857" stop-color="#c326d9"/><stop offset="0.5888" stop-color="#aa16e9"/><stop offset="0.5919" stop-color="#8a02fd"/><stop offset="0.595" stop-color="#6500ff"/><stop offset="0.5981" stop-color="#3f00ff"/><stop offset="0.6012" stop-color="#1000ff"/><stop offset="0.6044" stop-color="#0000d4"/><stop offset="0.6075" stop-color="#000038"/><stop offset="0.6106" stop-color="#00000c"/><stop offset="0.6199" stop-color="#00000c"/><stop offset="0.6231" stop-color="#000010"/><stop offset="0.676" stop-color="#000010"/><stop offset="0.6791" stop-color="#000014"/><stop offset="0.7321" stop-color="#000014"/><stop offset="0.7352" stop-color="#000018"/><stop offset="0.8069" stop-color="#000018"/><stop offset="0.81" stop-color="#00001c"/><stop offset="0.8847" stop-color="#00001c"/><stop offset="0.8879" stop-color="#000020"/><stop offset="0.9097" stop-color="#000020"/><stop offset="0.9128" stop-color="#000024"/><stop offset="0.9159" stop-color="#000024"/><stop offset="0.919" stop-color="#000028"/><stop offset="0.9221" stop-color="#00002c"/><stop offset="0.9252" stop-color="#00002c"/><stop offset="0.9283" stop-color="#000030"/><stop offset="0.9315" stop-color="#000030"/><stop offset="0.9346" stop-color="#000034"/><stop offset="0.9377" stop-color="#000034"/><stop offset="0.9408" stop-color="#000038"/><stop offset="0.9439" stop-color="#000038"/><stop offset="0.947" stop-color="#00003c"/><stop offset="0.9502" stop-color="#000040"/><stop offset="0.9533" stop-color="#000048"/><stop offset="0.9564" stop-color="#00004c"/><stop offset="0.9595" stop-color="#000050"/><stop offset="0.9626" stop-color="#000054"/><stop offset="0.9657" stop-color="#000058"/><stop offset="0.9688" stop-color="#000060"/><stop offset="0.972" stop-color="#000064"/><stop offset="0.9751" stop-color="#000068"/><stop offset="0.9782" stop-color="#00006c"/><stop offset="0.9813" stop-color="#000074"/><stop offset="0.9844" stop-color="#000078"/><stop offset="0.9875" stop-color="#000080"/><stop offset="0.9907" stop-color="#000084"/><stop offset="0.9938" stop-color="#00008c"/><stop offset="0.9969" stop-color="#000090"/><stop offset="1" stop-color="#000098"/></linearGradient>
<linearGradient id="g7" gradientUnits="userSpaceOnUse" x1="0" y1="787.00" x2="0" y2="813.00"><stop offset="0" stop-color="#000098" stop-opacity="0"/><stop offset="0.03846" stop-color="#0000a0" stop-opacity="0.45"/><stop offset="0.07692" stop-color="#0000ac" stop-opacity="0.9"/><stop offset="0.1154" stop-color="#0000b4"/><stop offset="0.1538" stop-color="#0000c0"/><stop offset="0.1923" stop-color="#0000c4"/><stop offset="0.2308" stop-color="#0000c8"/><stop offset="0.2692" stop-color="#0000cc"/><stop offset="0.3077" stop-color="#0000d0"/><stop offset="0.3462" stop-color="#0000d4"/><stop offset="0.3846" stop-color="#0000d8"/><stop offset="0.4231" stop-color="#0000e4"/><stop offset="0.4615" stop-color="#0000f0"/><stop offset="0.5" stop-color="#0000fc"/><stop offset="0.5385" stop-color="#0400ff"/><stop offset="0.5769" stop-color="#0a00ff"/><stop offset="0.6154" stop-color="#1000ff"/><stop offset="0.6538" stop-color="#1400ff"/><stop offset="0.6923" stop-color="#1000ff"/><stop offset="0.7308" stop-color="#0d00ff"/><stop offset="0.7692" stop-color="#0a00ff"/><stop offset="0.8077" stop-color="#0000f4"/><stop offset="0.8462" stop-color="#0000d8"/><stop offset="0.8846" stop-color="#0000c0"/><stop offset="0.9231" stop-color="#0000b0"/><stop offset="0.9615" stop-color="#0000a4" stop-opacity="0.6"/><stop offset="1" stop-color="#000098" stop-opacity="0"/></linearGradient>
<linearGradient id="g8" gradientUnits="userSpaceOnUse" x1="0" y1="787.00" x2="0" y2="813.00"><stop offset="0" stop-color="#000098" stop-opacity="0"/><stop offset="0.03846" stop-color="#0000a0" stop-opacity="0.45"/><stop offset="0.07692" stop-color="#0000a8" stop-opacity="0.9"/><stop offset="0.1154" stop-color="#0000ac"/><stop offset="0.1538" stop-color="#0000b4"/><stop offset="0.1923" stop-color="#0000b8"/><stop offset="0.2308" stop-color="#0000bc"/><stop offset="0.2692" stop-color="#0000c0"/><stop offset="0.3077" stop-color="#0000c4"/><stop offset="0.3462" stop-color="#0000c4"/><stop offset="0.3846" stop-color="#0000c8"/><stop offset="0.4231" stop-color="#0000d0"/><stop offset="0.4615" stop-color="#0000dc"/><stop offset="0.5" stop-color="#0000e4"/><stop offset="0.5385" stop-color="#0000ec"/><stop offset="0.5769" stop-color="#0000f0"/><stop offset="0.6154" stop-color="#0000f8"/><stop offset="0.6538" stop-color="#0000fc"/><stop offset="0.6923" stop-color="#0000f8"/><stop offset="0.7308" stop-color="#0000f4"/><stop offset="0.7692" stop-color="#0000f0"/><stop offset="0.8077" stop-color="#0000dc"/><stop offset="0.8462" stop-color="#0000c8"/><stop offset="0.8846" stop-color="#0000b4"/><stop offset="0.9231" stop-color="#0000ac"/><stop offset="0.9615" stop-color="#0000a0" stop-opacity="0.6"/><stop offset="1" stop-color="#000098" stop-opacity="0"/></linearGradient>
<linearGradient id="g9" gradientUnits="userSpaceOnUse" x1="0" y1="787.50" x2="0" y2="813.50"><stop offset="0" stop-color="#000098" stop-opacity="0"/><stop offset="0.03846" stop-color="#0000a4" stop-opacity="0.45"/><stop offset="0.07692" stop-color="#0000b0" stop-opacity="0.9"/><stop offset="0.1154" stop-color="#0000bc"/><stop offset="0.1538" stop-color="#0000c4"/><stop offset="0.1923" stop-color="#0000cc"/><stop offset="0.2308" stop-color="#0000d0"/><stop offset="0.2692" stop-color="#0000d4"/><stop offset="0.3077" stop-color="#0000dc"/><stop offset="0.3462" stop-color="#0000e0"/><stop offset="0.3846" stop-color="#0000e4"/><stop offset="0.4231" stop-color="#0000f0"/><stop offset="0.4615" stop-color="#0100ff"/><stop offset="0.5" stop-color="#0a00ff"/><stop offset="0.5385" stop-color="#1700ff"/><stop offset="0.5769" stop-color="#1a00ff"/><stop offset="0.6154" stop-color="#2000ff"/><stop offset="0.6538" stop-color="#2600ff"/><stop offset="0.6923" stop-color="#2300ff"/><stop offset="0.7308" stop-color="#2000ff"/><stop offset="0.7692" stop-color="#1a00ff"/><stop offset="0.8077" stop-color="#0400ff"/><stop offset="0.8462" stop-color="#0000e4"/><stop offset="0.8846" stop-color="#0000c4"/><stop offset="0.9231" stop-color="#0000b8"/><stop offset="0.9615" stop-color="#0000a8" stop-opacity="0.6"/><stop offset="1" stop-color="#000098" stop-opacity="0"/></linearGradient>
<linearGradient id="g10" gradientUnits="userSpaceOnUse" x1="0" y1="74.75" x2="0" y2="97.25"><stop offset="0" stop-color="#000024" stop-opacity="0"/><stop offset="0.05263" stop-color="#000028" stop-opacity="0.17"/><stop offset="0.1053" stop-color="#000034" stop-opacity="0.45"/><stop offset="0.1579" stop-color="#000048" stop-opacity="0.86"/><stop offset="0.2105" stop-color="#000064"/><stop offset="0.2632" stop-color="#000088"/><stop offset="0.3158" stop-color="#0000ac"/><stop offset="0.3684" stop-color="#0000d0"/><stop offset="0.4211" stop-color="#0000f0"/><stop offset="0.4737" stop-color="#0100ff"/><stop offset="0.5263" stop-color="#0100ff"/><stop offset="0.5789" stop-color="#0000f0"/><stop offset="0.6316" stop-color="#0000d0"/><stop offset="0.6842" stop-color="#0000ac"/><stop offset="0.7368" stop-color="#00008c"/><stop offset="0.7895" stop-color="#000078"/><stop offset="0.8421" stop-color="#000070" stop-opacity="0.86"/><stop offset="0.8947" stop-color="#000074" stop-opacity="0.45"/><stop offset="0.9474" stop-color="#000074" stop-opacity="0.17"/><stop offset="1" stop-color="#000078" stop-opacity="0"/></linearGradient>
<linearGradient id="g11" gradientUnits="userSpaceOnUse" x1="0" y1="76.00" x2="0" y2="96.00"><stop offset="0" stop-color="#00001c" stop-opacity="0"/><stop offset="0.05882" stop-color="#000028" stop-opacity="0.19"/><stop offset="0.1176" stop-color="#000044" stop-opacity="0.53"/><stop offset="0.1765" stop-color="#00006c"/><stop offset="0.2353" stop-color="#0000a0"/><stop offset="0.2941" stop-color="#0000d8"/><stop offset="0.3529" stop-color="#1000ff"/><stop offset="0.4118" stop-color="#3900ff"/><stop offset="0.4706" stop-color="#4f00ff"/><stop offset="0.5294" stop-color="#4f00ff"/><stop offset="0.5882" stop-color="#3900ff"/><stop offset="0.6471" stop-color="#1000ff"/><stop offset="0.7059" stop-color="#0000d8"/><stop offset="0.7647" stop-color="#0000a4"/><stop offset="0.8235" stop-color="#000080"/><stop offset="0.8824" stop-color="#000070" stop-opacity="0.53"/><stop offset="0.9412" stop-color="#00006c" stop-opacity="0.19"/><stop offset="1" stop-color="#00006c" stop-opacity="0"/></linearGradient>
<linearGradient id="g12" gradientUnits="userSpaceOnUse" x1="0" y1="75.25" x2="0" y2="97.75"><stop offset="0" stop-color="#000020" stop-opacity="0"/><stop offset="0.05263" stop-color="#000024" stop-opacity="0.17"/><stop offset="0.1053" stop-color="#000034" stop-opacity="0.45"/><stop offset="0.1579" stop-color="#00004c" stop-opacity="0.86"/><stop offset="0.2105" stop-color="#00006c"/><stop offset="0.2632" stop-color="#000090"/><stop offset="0.3158" stop-color="#0000b8"/><stop offset="0.3684" stop-color="#0000e0"/><stop offset="0.4211" stop-color="#0100ff"/><stop offset="0.4737" stop-color="#0d00ff"/><stop offset="0.5263" stop-color="#0d00ff"/><stop offset="0.5789" stop-color="#0100ff"/><stop offset="0.6316" stop-color="#0000e0"/><stop offset="0.6842" stop-color="#0000bc"/><stop offset="0.7368" stop-color="#00009c"/><stop offset="0.7895" stop-color="#000084"/><stop offset="0.8421" stop-color="#00007c" stop-opacity="0.86"/><stop offset="0.8947" stop-color="#00007c" stop-opacity="0.45"/><stop offset="0.9474" stop-color="#000078" stop-opacity="0.17"/><stop offset="1" stop-color="#00007c" stop-opacity="0"/></linearGradient>
<linearGradient id="g13" gradientUnits="userSpaceOnUse" x1="0" y1="73.50" x2="0" y2="98.50"><stop offset="0" stop-color="#00002c" stop-opacity="0"/><stop offset="0.04762" stop-color="#00002c" stop-opacity="0.15"/><stop offset="0.09524" stop-color="#000034" stop-opacity="0.39"/><stop offset="0.1429" stop-color="#000044" stop-opacity="0.73"/><stop offset="0.1905" stop-color="#000058"/><stop offset="0.2381" stop-color="#000074"/><stop offset="0.2857" stop-color="#000094"/><stop offset="0.3333" stop-color="#0000b4"/><stop offset="0.381" stop-color="#0000d4"/><stop offset="0.4286" stop-color="#0000ec"/><stop offset="0.4762" stop-color="#0000f8"/><stop offset="0.5238" stop-color="#0000f8"/><stop offset="0.5714" stop-color="#0000ec"/><stop offset="0.619" stop-color="#0000d4"/><stop offset="0.6667" stop-color="#0000b4"/><stop offset="0.7143" stop-color="#000098"/><stop offset="0.7619" stop-color="#000088"/><stop offset="0.8095" stop-color="#00007c"/><stop offset="0.8571" stop-color="#000080" stop-opacity="0.73"/><stop offset="0.9048" stop-color="#00007c" stop-opacity="0.39"/><stop offset="0.9524" stop-color="#00007c" stop-opacity="0.15"/><stop offset="1" stop-color="#000080" stop-opacity="0"/></linearGradient>
<linearGradient id="g14" gradientUnits="userSpaceOnUse" x1="0" y1="179.75" x2="0" y2="212.25"><stop offset="0" stop-color="#000070" stop-opacity="0"/><stop offset="0.03571" stop-color="#000074" stop-opacity="0.1"/><stop offset="0.07143" stop-color="#00007c" stop-opacity="0.25"/><stop offset="0.1071" stop-color="#000084" stop-opacity="0.46"/><stop offset="0.1429" stop-color="#000090" stop-opacity="0.73"/><stop offset="0.1786" stop-color="#0000a0"/><stop offset="0.2143" stop-color="#0000b0"/><stop offset="0.25" stop-color="#0000c4"/><stop offset="0.2857" stop-color="#0000d8"/><stop offset="0.3214" stop-color="#0000ec"/><stop offset="0.3571" stop-color="#0100ff"/><stop offset="0.3929" stop-color="#1000ff"/><stop offset="0.4286" stop-color="#1a00ff"/><stop offset="0.4643" stop-color="#2000ff"/><stop offset="0.5" stop-color="#2300ff"/><stop offset="0.5357" stop-color="#2000ff"/><stop offset="0.5714" stop-color="#1a00ff"/><stop offset="0.6071" stop-color="#1400ff"/><stop offset="0.6429" stop-color="#0700ff"/><stop offset="0.6786" stop-color="#0000f8"/><stop offset="0.7143" stop-color="#0000e8"/><stop offset="0.75" stop-color="#0000dc"/><stop offset="0.7857" stop-color="#0000cc"/><stop offset="0.8214" stop-color="#0000c0"/><stop offset="0.8571" stop-color="#0000b4" stop-opacity="0.73"/><stop offset="0.8929" stop-color="#0000a8" stop-opacity="0.46"/><stop offset="0.9286" stop-color="#0000a0" stop-opacity="0.25"/><stop offset="0.9643" stop-color="#00009c" stop-opacity="0.1"/><stop offset="1" stop-color="#000098" stop-opacity="0"/></linearGradient>
<linearGradient id="g15" gradientUnits="userSpaceOnUse" x1="0" y1="180.00" x2="0" y2="210.00"><stop offset="0" stop-color="#000070" stop-opacity="0"/><stop offset="0.04" stop-color="#000074" stop-opacity="0.12"/><stop offset="0.08" stop-color="#000078" stop-opacity="0.3"/><stop offset="0.12" stop-color="#000080" stop-opacity="0.55"/><stop offset="0.16" stop-color="#00008c" stop-opacity="0.87"/><stop offset="0.2" stop-color="#000098"/><stop offset="0.24" stop-color="#0000a4"/><stop offset="0.28" stop-color="#0000b4"/><stop offset="0.32" stop-color="#0000c4"/><stop offset="0.36" stop-color="#0000d4"/><stop offset="0.4" stop-color="#0000e0"/><stop offset="0.44" stop-color="#0000e8"/><stop offset="0.48" stop-color="#0000f0"/><stop offset="0.52" stop-color="#0000f0"/><stop offset="0.56" stop-color="#0000ec"/><stop offset="0.6" stop-color="#0000e4"/><stop offset="0.64" stop-color="#0000d8"/><stop offset="0.68" stop-color="#0000d0"/><stop offset="0.72" stop-color="#0000c4"/><stop offset="0.76" stop-color="#0000bc"/><stop offset="0.8" stop-color="#0000b4"/><stop offset="0.84" stop-color="#0000ac" stop-opacity="0.87"/><stop offset="0.88" stop-color="#0000a4" stop-opacity="0.55"/><stop offset="0.92" stop-color="#0000a0" stop-opacity="0.3"/><stop offset="0.96" stop-color="#00009c" stop-opacity="0.12"/><stop offset="1" stop-color="#000098" stop-opacity="0"/></linearGradient>
<linearGradient id="g16" gradientUnits="userSpaceOnUse" x1="0" y1="174.50" x2="0" y2="204.50"><stop offset="0" stop-color="#00007c" stop-opacity="0"/><stop offset="0.04" stop-color="#000080" stop-opacity="0.12"/><stop offset="0.08" stop-color="#000090" stop-opacity="0.3"/><stop offset="0.12" stop-color="#0000a8" stop-opacity="0.55"/><stop offset="0.16" stop-color="#0000c8" stop-opacity="0.87"/><stop offset="0.2" stop-color="#0000f0"/><stop offset="0.24" stop-color="#1700ff"/><stop offset="0.28" stop-color="#3c00ff"/><stop offset="0.32" stop-color="#6500ff"/><stop offset="0.36" stop-color="#8700ff"/><stop offset="0.4" stop-color="#a614eb"/><stop offset="0.44" stop-color="#bf24db"/><stop offset="0.48" stop-color="#cc2cd3"/><stop offset="0.52" stop-color="#cc2cd3"/><stop offset="0.56" stop-color="#bf24db"/><stop offset="0.6" stop-color="#a614eb"/><stop offset="0.64" stop-color="#8a02fd"/><stop offset="0.68" stop-color="#6800ff"/><stop offset="0.72" stop-color="#4200ff"/><stop offset="0.76" stop-color="#2000ff"/><stop offset="0.8" stop-color="#0100ff"/><stop offset="0.84" stop-color="#0000dc" stop-opacity="0.87"/><stop offset="0.88" stop-color="#0000c0" stop-opacity="0.55"/><stop offset="0.92" stop-color="#0000ac" stop-opacity="0.3"/><stop offset="0.96" stop-color="#0000a0" stop-opacity="0.12"/><stop offset="1" stop-color="#000098" stop-opacity="0"/></linearGradient>
<linearGradient id="g17" gradientUnits="userSpaceOnUse" x1="0" y1="174.50" x2="0" y2="204.50"><stop offset="0" stop-color="#00007c" stop-opacity="0"/><stop offset="0.04" stop-color="#00007c" stop-opacity="0.12"/><stop offset="0.08" stop-color="#000084" stop-opacity="0.3"/><stop offset="0.12" stop-color="#000098" stop-opacity="0.55"/><stop offset="0.16" stop-color="#0000ac" stop-opacity="0.87"/><stop offset="0.2" stop-color="#0000c8"/><stop offset="0.24" stop-color="#0000e8"/><stop offset="0.28" stop-color="#0700ff"/><stop offset="0.32" stop-color="#2000ff"/><stop offset="0.36" stop-color="#3900ff"/><stop offset="0.4" stop-color="#4f00ff"/><stop offset="0.44" stop-color="#5f00ff"/><stop offset="0.48" stop-color="#6800ff"/><stop offset="0.52" stop-color="#6800ff"/><stop offset="0.56" stop-color="#5f00ff"/><stop offset="0.6" stop-color="#4f00ff"/><stop offset="0.64" stop-color="#3c00ff"/><stop offset="0.68" stop-color="#2300ff"/><stop offset="0.72" stop-color="#0d00ff"/><stop offset="0.76" stop-color="#0000f0"/><stop offset="0.8" stop-color="#0000d8"/><stop offset="0.84" stop-color="#0000c0" stop-opacity="0.87"/><stop offset="0.88" stop-color="#0000b0" stop-opacity="0.55"/><stop offset="0.92" stop-color="#0000a4" stop-opacity="0.3"/><stop offset="0.96" stop-color="#00009c" stop-opacity="0.12"/><stop offset="1" stop-color="#000098" stop-opacity="0"/></linearGradient>
<linearGradient id="g18" gradientUnits="userSpaceOnUse" x1="0" y1="174.25" x2="0" y2="201.75"><stop offset="0" stop-color="#00007c" stop-opacity="0"/><stop offset="0.04348" stop-color="#00007c" stop-opacity="0.13"/><stop offset="0.08696" stop-color="#000084" stop-opacity="0.34"/><stop offset="0.1304" stop-color="#000090" stop-opacity="0.63"/><stop offset="0.1739" stop-color="#0000a4"/><stop offset="0.2174" stop-color="#0000bc"/><stop offset="0.2609" stop-color="#0000d8"/><stop offset="0.3043" stop-color="#0000f4"/><stop offset="0.3478" stop-color="#0d00ff"/><stop offset="0.3913" stop-color="#2000ff"/><stop offset="0.4348" stop-color="#2d00ff"/><stop offset="0.4783" stop-color="#3600ff"/><stop offset="0.5217" stop-color="#3600ff"/><stop offset="0.5652" stop-color="#2d00ff"/><stop offset="0.6087" stop-color="#2000ff"/><stop offset="0.6522" stop-color="#0d00ff"/><stop offset="0.6957" stop-color="#0000f4"/><stop offset="0.7391" stop-color="#0000dc"/><stop offset="0.7826" stop-color="#0000c4"/><stop offset="0.8261" stop-color="#0000b4"/><stop offset="0.8696" stop-color="#0000a4" stop-opacity="0.63"/><stop offset="0.913" stop-color="#000098" stop-opacity="0.34"/><stop offset="0.9565" stop-color="#000094" stop-opacity="0.13"/><stop offset="1" stop-color="#000090" stop-opacity="0"/></linearGradient>
<linearGradient id="g19" gradientUnits="userSpaceOnUse" x1="0" y1="189.00" x2="0" y2="209.00"><stop offset="0" stop-color="#00006c" stop-opacity="0"/><stop offset="0.05882" stop-color="#000070" stop-opacity="0.19"/><stop offset="0.1176" stop-color="#00007c" stop-opacity="0.53"/><stop offset="0.1765" stop-color="#000088"/><stop offset="0.2353" stop-color="#000098"/><stop offset="0.2941" stop-color="#0000a8"/><stop offset="0.3529" stop-color="#0000b4"/><stop offset="0.4118" stop-color="#0000c0"/><stop offset="0.4706" stop-color="#0000c4"/><stop offset="0.5294" stop-color="#0000c4"/><stop offset="0.5882" stop-color="#0000c0"/><stop offset="0.6471" stop-color="#0000b8"/><stop offset="0.7059" stop-color="#0000b0"/><stop offset="0.7647" stop-color="#0000ac"/><stop offset="0.8235" stop-color="#0000a4"/><stop offset="0.8824" stop-color="#00009c" stop-opacity="0.53"/><stop offset="0.9412" stop-color="#000098" stop-opacity="0.19"/><stop offset="1" stop-color="#000098" stop-opacity="0"/></linearGradient>
<linearGradient id="g20" gradientUnits="userSpaceOnUse" x1="0" y1="102.25" x2="0" y2="129.75"><stop offset="0" stop-color="#00008c" stop-opacity="0"/><stop offset="0.04348" stop-color="#000094" stop-opacity="0.13"/><stop offset="0.08696" stop-color="#0000a4" stop-opacity="0.34"/><stop offset="0.1304" stop-color="#0000b8" stop-opacity="0.63"/><stop offset="0.1739" stop-color="#0000d0"/><stop offset="0.2174" stop-color="#0000f0"/><stop offset="0.2609" stop-color="#0d00ff"/><stop offset="0.3043" stop-color="#2600ff"/><stop offset="0.3478" stop-color="#3f00ff"/><stop offset="0.3913" stop-color="#5500ff"/><stop offset="0.4348" stop-color="#6500ff"/><stop offset="0.4783" stop-color="#6e00ff"/><stop offset="0.5217" stop-color="#6e00ff"/><stop offset="0.5652" stop-color="#6500ff"/><stop offset="0.6087" stop-color="#5500ff"/><stop offset="0.6522" stop-color="#3f00ff"/><stop offset="0.6957" stop-color="#2600ff"/><stop offset="0.7391" stop-color="#0d00ff"/><stop offset="0.7826" stop-color="#0000f4"/><stop offset="0.8261" stop-color="#0000d8"/><stop offset="0.8696" stop-color="#0000c0" stop-opacity="0.63"/><stop offset="0.913" stop-color="#0000b0" stop-opacity="0.34"/><stop offset="0.9565" stop-color="#0000a4" stop-opacity="0.13"/><stop offset="1" stop-color="#00009c" stop-opacity="0"/></linearGradient>
<linearGradient id="g21" gradientUnits="userSpaceOnUse" x1="0" y1="102.25" x2="0" y2="129.75"><stop offset="0" stop-color="#00008c" stop-opacity="0"/><stop offset="0.04348" stop-color="#000094" stop-opacity="0.13"/><stop offset="0.08696" stop-color="#0000a4" stop-opacity="0.34"/><stop offset="0.1304" stop-color="#0000bc" stop-opacity="0.63"/><stop offset="0.1739" stop-color="#0000d4"/><stop offset="0.2174" stop-color="#0000f4"/><stop offset="0.2609" stop-color="#1000ff"/><stop offset="0.3043" stop-color="#2d00ff"/><stop offset="0.3478" stop-color="#4600ff"/><stop offset="0.3913" stop-color="#5b00ff"/><stop offset="0.4348" stop-color="#6e00ff"/><stop offset="0.4783" stop-color="#7800ff"/><stop offset="0.5217" stop-color="#7800ff"/><stop offset="0.5652" stop-color="#6e00ff"/><stop offset="0.6087" stop-color="#5b00ff"/><stop offset="0.6522" stop-color="#4600ff"/><stop offset="0.6957" stop-color="#2d00ff"/><stop offset="0.7391" stop-color="#1400ff"/><stop offset="0.7826" stop-color="#0000f8"/><stop offset="0.8261" stop-color="#0000dc"/><stop offset="0.8696" stop-color="#0000c4" stop-opacity="0.63"/><stop offset="0.913" stop-color="#0000b0" stop-opacity="0.34"/><stop offset="0.9565" stop-color="#0000a4" stop-opacity="0.13"/><stop offset="1" stop-color="#00009c" stop-opacity="0"/></linearGradient>
<linearGradient id="g22" gradientUnits="userSpaceOnUse" x1="0" y1="181.00" x2="0" y2="211.00"><stop offset="0" stop-color="#000070" stop-opacity="0"/><stop offset="0.04" stop-color="#000074" stop-opacity="0.12"/><stop offset="0.08" stop-color="#000078" stop-opacity="0.3"/><stop offset="0.12" stop-color="#000080" stop-opacity="0.55"/><stop offset="0.16" stop-color="#00008c" stop-opacity="0.87"/><stop offset="0.2" stop-color="#000098"/><stop offset="0.24" stop-color="#0000a4"/><stop offset="0.28" stop-color="#0000b4"/><stop offset="0.32" stop-color="#0000c4"/><stop offset="0.36" stop-color="#0000d4"/><stop offset="0.4" stop-color="#0000e0"/><stop offset="0.44" stop-color="#0000e8"/><stop offset="0.48" stop-color="#0000f0"/><stop offset="0.52" stop-color="#0000f0"/><stop offset="0.56" stop-color="#0000ec"/><stop offset="0.6" stop-color="#0000e4"/><stop offset="0.64" stop-color="#0000d8"/><stop offset="0.68" stop-color="#0000d0"/><stop offset="0.72" stop-color="#0000c4"/><stop offset="0.76" stop-color="#0000bc"/><stop offset="0.8" stop-color="#0000b4"/><stop offset="0.84" stop-color="#0000ac" stop-opacity="0.87"/><stop offset="0.88" stop-color="#0000a4" stop-opacity="0.55"/><stop offset="0.92" stop-color="#0000a0" stop-opacity="0.3"/><stop offset="0.96" stop-color="#00009c" stop-opacity="0.12"/><stop offset="1" stop-color="#000098" stop-opacity="0"/></linearGradient>
<linearGradient id="g23" gradientUnits="userSpaceOnUse" x1="0" y1="189.00" x2="0" y2="209.00"><stop offset="0" stop-color="#00006c" stop-opacity="0"/><stop offset="0.05882" stop-color="#000074" stop-opacity="0.19"/><stop offset="0.1176" stop-color="#00007c" stop-opacity="0.53"/><stop offset="0.1765" stop-color="#00008c"/><stop offset="0.2353" stop-color="#0000a0"/><stop offset="0.2941" stop-color="#0000b0"/><stop offset="0.3529" stop-color="#0000c4"/><stop offset="0.4118" stop-color="#0000d0"/><stop offset="0.4706" stop-color="#0000d8"/><stop offset="0.5294" stop-color="#0000d8"/><stop offset="0.5882" stop-color="#0000d0"/><stop offset="0.6471" stop-color="#0000c8"/><stop offset="0.7059" stop-color="#0000bc"/><stop offset="0.7647" stop-color="#0000b0"/><stop offset="0.8235" stop-color="#0000a8"/><stop offset="0.8824" stop-color="#0000a0" stop-opacity="0.53"/><stop offset="0.9412" stop-color="#00009c" stop-opacity="0.19"/><stop offset="1" stop-color="#000098" stop-opacity="0"/></linearGradient>
<linearGradient id="g24" gradientUnits="userSpaceOnUse" x1="0" y1="177.75" x2="0" y2="200.25"><stop offset="0" stop-color="#000070" stop-opacity="0"/><stop offset="0.05263" stop-color="#000074" stop-opacity="0.17"/><stop offset="0.1053" stop-color="#00007c" stop-opacity="0.45"/><stop offset="0.1579" stop-color="#000084" stop-opacity="0.86"/><stop offset="0.2105" stop-color="#000090"/><stop offset="0.2632" stop-color="#0000a0"/><stop offset="0.3158" stop-color="#0000b0"/><stop offset="0.3684" stop-color="#0000c0"/><stop offset="0.4211" stop-color="#0000c8"/><stop offset="0.4737" stop-color="#0000d0"/><stop offset="0.5263" stop-color="#0000d0"/><stop offset="0.5789" stop-color="#0000c8"/><stop offset="0.6316" stop-color="#0000c0"/><stop offset="0.6842" stop-color="#0000b0"/><stop offset="0.7368" stop-color="#0000a4"/><stop offset="0.7895" stop-color="#00009c"/><stop offset="0.8421" stop-color="#000094" stop-opacity="0.86"/><stop offset="0.8947" stop-color="#00008c" stop-opacity="0.45"/><stop offset="0.9474" stop-color="#00008c" stop-opacity="0.17"/><stop offset="1" stop-color="#00008c" stop-opacity="0"/></linearGradient>
<linearGradient id="g25" gradientUnits="userSpaceOnUse" x1="0" y1="166.50" x2="0" y2="201.50"><stop offset="0" stop-color="#000098" stop-opacity="0"/><stop offset="0.03333" stop-color="#000094" stop-opacity="0.09"/><stop offset="0.06667" stop-color="#000094" stop-opacity="0.23"/><stop offset="0.1" stop-color="#000094" stop-opacity="0.42"/><stop offset="0.1333" stop-color="#000098" stop-opacity="0.65"/><stop offset="0.1667" stop-color="#00009c" stop-opacity="0.94"/><stop offset="0.2" stop-color="#0000a0"/><stop offset="0.2333" stop-color="#0000a8"/><stop offset="0.2667" stop-color="#0000b0"/><stop offset="0.3" stop-color="#0000b8"/><stop offset="0.3333" stop-color="#0000c4"/><stop offset="0.3667" stop-color="#0000d0"/><stop offset="0.4" stop-color="#0000dc"/><stop offset="0.4333" stop-color="#0000e4"/><stop offset="0.4667" stop-color="#0000e8"/><stop offset="0.5333" stop-color="#0000e8"/><stop offset="0.5667" stop-color="#0000e4"/><stop offset="0.6" stop-color="#0000dc"/><stop offset="0.6333" stop-color="#0000d0"/><stop offset="0.6667" stop-color="#0000c4"/><stop offset="0.7" stop-color="#0000b8"/><stop offset="0.7333" stop-color="#0000b0"/><stop offset="0.7667" stop-color="#0000a4"/><stop offset="0.8" stop-color="#00009c"/><stop offset="0.8333" stop-color="#000098" stop-opacity="0.94"/><stop offset="0.8667" stop-color="#000094" stop-opacity="0.65"/><stop offset="0.9" stop-color="#000090" stop-opacity="0.42"/><stop offset="0.9333" stop-color="#000090" stop-opacity="0.23"/><stop offset="0.9667" stop-color="#000090" stop-opacity="0.09"/><stop offset="1" stop-color="#000090" stop-opacity="0"/></linearGradient>
<linearGradient id="g26" gradientUnits="userSpaceOnUse" x1="0" y1="155.50" x2="0" y2="200.50"><stop offset="0" stop-color="#0000a4" stop-opacity="0"/><stop offset="0.02632" stop-color="#0000a8" stop-opacity="0.07"/><stop offset="0.05263" stop-color="#0000b0" stop-opacity="0.17"/><stop offset="0.07895" stop-color="#0000bc" stop-opacity="0.29"/><stop offset="0.1053" stop-color="#0000c8" stop-opacity="0.45"/><stop offset="0.1316" stop-color="#0000d8" stop-opacity="0.64"/><stop offset="0.1579" stop-color="#0000e8" stop-opacity="0.86"/><stop offset="0.1842" stop-color="#0100ff"/><stop offset="0.2105" stop-color="#1000ff"/><stop offset="0.2368" stop-color="#2300ff"/><stop offset="0.2632" stop-color="#3900ff"/><stop offset="0.2895" stop-color="#4f00ff"/><stop offset="0.3158" stop-color="#6500ff"/><stop offset="0.3421" stop-color="#7b00ff"/><stop offset="0.3684" stop-color="#8d04fb"/><stop offset="0.3947" stop-color="#a010ef"/><stop offset="0.4211" stop-color="#b01ae5"/><stop offset="0.4474" stop-color="#bc22dd"/><stop offset="0.4737" stop-color="#c628d7"/><stop offset="0.5" stop-color="#c92ad5"/><stop offset="0.5263" stop-color="#c628d7"/><stop offset="0.5526" stop-color="#bc22dd"/><stop offset="0.5789" stop-color="#b01ae5"/><stop offset="0.6053" stop-color="#a010ef"/><stop offset="0.6316" stop-color="#8a02fd"/><stop offset="0.6579" stop-color="#7400ff"/><stop offset="0.6842" stop-color="#5b00ff"/><stop offset="0.7105" stop-color="#4200ff"/><stop offset="0.7368" stop-color="#2900ff"/><stop offset="0.7632" stop-color="#1000ff"/><stop offset="0.7895" stop-color="#0000f8"/><stop offset="0.8158" stop-color="#0000e0"/><stop offset="0.8421" stop-color="#0000c8" stop-opacity="0.86"/><stop offset="0.8684" stop-color="#0000b8" stop-opacity="0.64"/><stop offset="0.8947" stop-color="#0000a8" stop-opacity="0.45"/><stop offset="0.9211" stop-color="#0000a0" stop-opacity="0.29"/><stop offset="0.9474" stop-color="#000094" stop-opacity="0.17"/><stop offset="0.9737" stop-color="#000090" stop-opacity="0.07"/><stop offset="1" stop-color="#00008c" stop-opacity="0"/></linearGradient>
<linearGradient id="g27" gradientUnits="userSpaceOnUse" x1="0" y1="163.00" x2="0" y2="193.00"><stop offset="0" stop-color="#0000a0" stop-opacity="0"/><stop offset="0.04" stop-color="#0000a4" stop-opacity="0.12"/><stop offset="0.08" stop-color="#0000a8" stop-opacity="0.3"/><stop offset="0.12" stop-color="#0000b0" stop-opacity="0.55"/><stop offset="0.16" stop-color="#0000bc" stop-opacity="0.87"/><stop offset="0.2" stop-color="#0000c8"/><stop offset="0.24" stop-color="#0000dc"/><stop offset="0.28" stop-color="#0000f0"/><stop offset="0.32" stop-color="#0700ff"/><stop offset="0.36" stop-color="#1700ff"/><stop offset="0.4" stop-color="#2600ff"/><stop offset="0.44" stop-color="#3300ff"/><stop offset="0.48" stop-color="#3900ff"/><stop offset="0.52" stop-color="#3900ff"/><stop offset="0.56" stop-color="#3300ff"/><stop offset="0.6" stop-color="#2600ff"/><stop offset="0.64" stop-color="#1700ff"/><stop offset="0.68" stop-color="#0100ff"/><stop offset="0.72" stop-color="#0000e8"/><stop offset="0.76" stop-color="#0000cc"/><stop offset="0.8" stop-color="#0000b4"/><stop offset="0.84" stop-color="#00009c" stop-opacity="0.87"/><stop offset="0.88" stop-color="#00008c" stop-opacity="0.55"/><stop offset="0.92" stop-color="#00007c" stop-opacity="0.3"/><stop offset="0.96" stop-color="#000078" stop-opacity="0.12"/><stop offset="1" stop-color="#000074" stop-opacity="0"/></linearGradient>
<linearGradient id="g28" gradientUnits="userSpaceOnUse" x1="0" y1="62.50" x2="0" y2="97.50"><stop offset="0" stop-color="#000058" stop-opacity="0"/><stop offset="0.03333" stop-color="#000060" stop-opacity="0.09"/><stop offset="0.06667" stop-color="#000064" stop-opacity="0.23"/><stop offset="0.1" stop-color="#000070" stop-opacity="0.42"/><stop offset="0.1333" stop-color="#00007c" stop-opacity="0.65"/><stop offset="0.1667" stop-color="#00008c" stop-opacity="0.94"/><stop offset="0.2" stop-color="#00009c"/><stop offset="0.2333" stop-color="#0000ac"/><stop offset="0.2667" stop-color="#0000c0"/><stop offset="0.3" stop-color="#0000dc"/><stop offset="0.3333" stop-color="#0000f4"/><stop offset="0.3667" stop-color="#0d00ff"/><stop offset="0.4" stop-color="#2000ff"/><stop offset="0.4333" stop-color="#2d00ff"/><stop offset="0.4667" stop-color="#3600ff"/><stop offset="0.5" stop-color="#3900ff"/><stop offset="0.5333" stop-color="#3600ff"/><stop offset="0.5667" stop-color="#2d00ff"/><stop offset="0.6" stop-color="#1d00ff"/><stop offset="0.6333" stop-color="#0700ff"/><stop offset="0.6667" stop-color="#0000e8"/><stop offset="0.7" stop-color="#0000c8"/><stop offset="0.7333" stop-color="#0000a8"/><stop offset="0.7667" stop-color="#000088"/><stop offset="0.8" stop-color="#000074"/><stop offset="0.8333" stop-color="#000064" stop-opacity="0.94"/><stop offset="0.8667" stop-color="#000064" stop-opacity="0.65"/><stop offset="0.9" stop-color="#000068" stop-opacity="0.42"/><stop offset="0.9333" stop-color="#000074" stop-opacity="0.23"/><stop offset="0.9667" stop-color="#000074" stop-opacity="0.09"/><stop offset="1" stop-color="#000078" stop-opacity="0"/></linearGradient>
<linearGradient id="g29" gradientUnits="userSpaceOnUse" x1="0" y1="51.40" x2="0" y2="75.00"><stop offset="0" stop-color="#0000d8"/><stop offset="0.05263" stop-color="#0000d8"/><stop offset="0.1053" stop-color="#0000d4"/><stop offset="0.2105" stop-color="#0000d4"/><stop offset="0.2632" stop-color="#0000d0"/><stop offset="0.3158" stop-color="#0000cc"/><stop offset="0.3684" stop-color="#0000c8"/><stop offset="0.4211" stop-color="#0000c4"/><stop offset="0.4737" stop-color="#0000c0"/><stop offset="0.5263" stop-color="#0000b8"/><stop offset="0.5789" stop-color="#0000b0"/><stop offset="0.6316" stop-color="#0000a8"/><stop offset="0.6842" stop-color="#0000a0" stop-opacity="0.95"/><stop offset="0.7368" stop-color="#000090" stop-opacity="0.79"/><stop offset="0.7895" stop-color="#000080" stop-opacity="0.63"/><stop offset="0.8421" stop-color="#00006c" stop-opacity="0.47"/><stop offset="0.8947" stop-color="#000054" stop-opacity="0.32"/><stop offset="0.9474" stop-color="#00003c" stop-opacity="0.16"/><stop offset="1" stop-color="#000024" stop-opacity="0"/></linearGradient>
<linearGradient id="g30" gradientUnits="userSpaceOnUse" x1="0" y1="51.40" x2="0" y2="75.00"><stop offset="0" stop-color="#0000f0"/><stop offset="0.05263" stop-color="#0000f0"/><stop offset="0.1053" stop-color="#0000ec"/><stop offset="0.2105" stop-color="#0000ec"/><stop offset="0.2632" stop-color="#0000e8"/><stop offset="0.3158" stop-color="#0000e4"/><stop offset="0.3684" stop-color="#0000e0"/><stop offset="0.4211" stop-color="#0000d8"/><stop offset="0.4737" stop-color="#0000d4"/><stop offset="0.5263" stop-color="#0000cc"/><stop offset="0.5789" stop-color="#0000c0"/><stop offset="0.6316" stop-color="#0000b8"/><stop offset="0.6842" stop-color="#0000ac" stop-opacity="0.95"/><stop offset="0.7368" stop-color="#00009c" stop-opacity="0.79"/><stop offset="0.7895" stop-color="#000088" stop-opacity="0.63"/><stop offset="0.8421" stop-color="#000074" stop-opacity="0.47"/><stop offset="0.8947" stop-color="#00005c" stop-opacity="0.32"/><stop offset="0.9474" stop-color="#000040" stop-opacity="0.16"/><stop offset="1" stop-color="#000024" stop-opacity="0"/></linearGradient>
<linearGradient id="g31" gradientUnits="userSpaceOnUse" x1="0" y1="51.40" x2="0" y2="75.00"><stop offset="0" stop-color="#3600ff"/><stop offset="0.05263" stop-color="#3600ff"/><stop offset="0.1053" stop-color="#3300ff"/><stop offset="0.1579" stop-color="#3300ff"/><stop offset="0.2105" stop-color="#3000ff"/><stop offset="0.2632" stop-color="#2d00ff"/><stop offset="0.3158" stop-color="#2600ff"/><stop offset="0.3684" stop-color="#2000ff"/><stop offset="0.4211" stop-color="#1a00ff"/><stop offset="0.4737" stop-color="#1400ff"/><stop offset="0.5263" stop-color="#0a00ff"/><stop offset="0.5789" stop-color="#0000fc"/><stop offset="0.6316" stop-color="#0000ec"/><stop offset="0.6842" stop-color="#0000dc" stop-opacity="0.95"/><stop offset="0.7368" stop-color="#0000c8" stop-opacity="0.79"/><stop offset="0.7895" stop-color="#0000ac" stop-opacity="0.63"/><stop offset="0.8421" stop-color="#00008c" stop-opacity="0.47"/><stop offset="0.8947" stop-color="#00006c" stop-opacity="0.32"/><stop offset="0.9474" stop-color="#000048" stop-opacity="0.16"/><stop offset="1" stop-color="#000024" stop-opacity="0"/></linearGradient>
<linearGradient id="g32" gradientUnits="userSpaceOnUse" x1="0" y1="51.40" x2="0" y2="75.00"><stop offset="0" stop-color="#2300ff"/><stop offset="0.05263" stop-color="#2300ff"/><stop offset="0.1053" stop-color="#2000ff"/><stop offset="0.1579" stop-color="#2000ff"/><stop offset="0.2105" stop-color="#1d00ff"/><stop offset="0.2632" stop-color="#1a00ff"/><stop offset="0.3158" stop-color="#1700ff"/><stop offset="0.3684" stop-color="#1000ff"/><stop offset="0.4211" stop-color="#0a00ff"/><stop offset="0.4737" stop-color="#0400ff"/><stop offset="0.5263" stop-color="#0000f8"/><stop offset="0.5789" stop-color="#0000ec"/><stop offset="0.6316" stop-color="#0000dc"/><stop offset="0.6842" stop-color="#0000d0" stop-opacity="0.95"/><stop offset="0.7368" stop-color="#0000bc" stop-opacity="0.79"/><stop offset="0.7895" stop-color="#0000a4" stop-opacity="0.63"/><stop offset="0.8421" stop-color="#000088" stop-opacity="0.47"/><stop offset="0.8947" stop-color="#000068" stop-opacity="0.32"/><stop offset="0.9474" stop-color="#000048" stop-opacity="0.16"/><stop offset="1" stop-color="#000024" stop-opacity="0"/></linearGradient>
<linearGradient id="g33" gradientUnits="userSpaceOnUse" x1="0" y1="51.40" x2="0" y2="75.00"><stop offset="0" stop-color="#0000e4"/><stop offset="0.05263" stop-color="#0000e4"/><stop offset="0.1053" stop-color="#0000e0"/><stop offset="0.2105" stop-color="#0000e0"/><stop offset="0.2632" stop-color="#0000dc"/><stop offset="0.3158" stop-color="#0000d8"/><stop offset="0.3684" stop-color="#0000d4"/><stop offset="0.4211" stop-color="#0000d0"/><stop offset="0.4737" stop-color="#0000c8"/><stop offset="0.5263" stop-color="#0000c0"/><stop offset="0.5789" stop-color="#0000b8"/><stop offset="0.6316" stop-color="#0000b0"/><stop offset="0.6842" stop-color="#0000a4" stop-opacity="0.95"/><stop offset="0.7368" stop-color="#000098" stop-opacity="0.79"/><stop offset="0.7895" stop-color="#000084" stop-opacity="0.63"/><stop offset="0.8421" stop-color="#000070" stop-opacity="0.47"/><stop offset="0.8947" stop-color="#000058" stop-opacity="0.32"/><stop offset="0.9474" stop-color="#000040" stop-opacity="0.16"/><stop offset="1" stop-color="#000024" stop-opacity="0"/></linearGradient>
<linearGradient id="g34" gradientUnits="userSpaceOnUse" x1="0" y1="51.40" x2="0" y2="75.00"><stop offset="0" stop-color="#8100ff"/><stop offset="0.05263" stop-color="#8100ff"/><stop offset="0.1053" stop-color="#7e00ff"/><stop offset="0.1579" stop-color="#7b00ff"/><stop offset="0.2105" stop-color="#7800ff"/><stop offset="0.2632" stop-color="#7400ff"/><stop offset="0.3158" stop-color="#6b00ff"/><stop offset="0.3684" stop-color="#6500ff"/><stop offset="0.4211" stop-color="#5b00ff"/><stop offset="0.4737" stop-color="#4f00ff"/><stop offset="0.5263" stop-color="#4200ff"/><stop offset="0.5789" stop-color="#3300ff"/><stop offset="0.6316" stop-color="#2300ff"/><stop offset="0.6842" stop-color="#1000ff" stop-opacity="0.95"/><stop offset="0.7368" stop-color="#0000f4" stop-opacity="0.79"/><stop offset="0.7895" stop-color="#0000d4" stop-opacity="0.63"/><stop offset="0.8421" stop-color="#0000ac" stop-opacity="0.47"/><stop offset="0.8947" stop-color="#000080" stop-opacity="0.32"/><stop offset="0.9474" stop-color="#000054" stop-opacity="0.16"/><stop offset="1" stop-color="#000024" stop-opacity="0"/></linearGradient>
<linearGradient id="g35" gradientUnits="userSpaceOnUse" x1="0" y1="51.40" x2="0" y2="75.00"><stop offset="0" stop-color="#2d00ff"/><stop offset="0.05263" stop-color="#2d00ff"/><stop offset="0.1053" stop-color="#2900ff"/><stop offset="0.1579" stop-color="#2900ff"/><stop offset="0.2105" stop-color="#2600ff"/><stop offset="0.2632" stop-color="#2300ff"/><stop offset="0.3158" stop-color="#1d00ff"/><stop offset="0.3684" stop-color="#1a00ff"/><stop offset="0.4211" stop-color="#1400ff"/><stop offset="0.4737" stop-color="#0a00ff"/><stop offset="0.5263" stop-color="#0100ff"/><stop offset="0.5789" stop-color="#0000f4"/><stop offset="0.6316" stop-color="#0000e4"/><stop offset="0.6842" stop-color="#0000d4" stop-opacity="0.95"/><stop offset="0.7368" stop-color="#0000c0" stop-opacity="0.79"/><stop offset="0.7895" stop-color="#0000a8" stop-opacity="0.63"/><stop offset="0.8421" stop-color="#000088" stop-opacity="0.47"/><stop offset="0.8947" stop-color="#000068" stop-opacity="0.32"/><stop offset="0.9474" stop-color="#000048" stop-opacity="0.16"/><stop offset="1" stop-color="#000024" stop-opacity="0"/></linearGradient>
<linearGradient id="g36" gradientUnits="userSpaceOnUse" x1="0" y1="51.40" x2="0" y2="75.00"><stop offset="0" stop-color="#3f00ff"/><stop offset="0.05263" stop-color="#3f00ff"/><stop offset="0.1053" stop-color="#3c00ff"/><stop offset="0.1579" stop-color="#3c00ff"/><stop offset="0.2105" stop-color="#3900ff"/><stop offset="0.2632" stop-color="#3600ff"/><stop offset="0.3158" stop-color="#3000ff"/><stop offset="0.3684" stop-color="#2900ff"/><stop offset="0.4211" stop-color="#2300ff"/><stop offset="0.4737" stop-color="#1a00ff"/><stop offset="0.5263" stop-color="#1000ff"/><stop offset="0.5789" stop-color="#0400ff"/><stop offset="0.6316" stop-color="#0000f4"/><stop offset="0.6842" stop-color="#0000e4" stop-opacity="0.95"/><stop offset="0.7368" stop-color="#0000cc" stop-opacity="0.79"/><stop offset="0.7895" stop-color="#0000b0" stop-opacity="0.63"/><stop offset="0.8421" stop-color="#000090" stop-opacity="0.47"/><stop offset="0.8947" stop-color="#000070" stop-opacity="0.32"/><stop offset="0.9474" stop-color="#00004c" stop-opacity="0.16"/><stop offset="1" stop-color="#000024" stop-opacity="0"/></linearGradient>
<linearGradient id="g37" gradientUnits="userSpaceOnUse" x1="0" y1="51.40" x2="0" y2="75.00"><stop offset="0" stop-color="#6500ff"/><stop offset="0.05263" stop-color="#6500ff"/><stop offset="0.1053" stop-color="#6200ff"/><stop offset="0.1579" stop-color="#6200ff"/><stop offset="0.2105" stop-color="#5b00ff"/><stop offset="0.2632" stop-color="#5800ff"/><stop offset="0.3158" stop-color="#5200ff"/><stop offset="0.3684" stop-color="#4c00ff"/><stop offset="0.4211" stop-color="#4200ff"/><stop offset="0.4737" stop-color="#3900ff"/><stop offset="0.5263" stop-color="#2d00ff"/><stop offset="0.5789" stop-color="#2000ff"/><stop offset="0.6316" stop-color="#1000ff"/><stop offset="0.6842" stop-color="#0100ff" stop-opacity="0.95"/><stop offset="0.7368" stop-color="#0000e4" stop-opacity="0.79"/><stop offset="0.7895" stop-color="#0000c4" stop-opacity="0.63"/><stop offset="0.8421" stop-color="#0000a0" stop-opacity="0.47"/><stop offset="0.8947" stop-color="#000078" stop-opacity="0.32"/><stop offset="0.9474" stop-color="#000050" stop-opacity="0.16"/><stop offset="1" stop-color="#000024" stop-opacity="0"/></linearGradient>
<linearGradient id="g38" gradientUnits="userSpaceOnUse" x1="0" y1="51.40" x2="0" y2="75.00"><stop offset="0" stop-color="#5200ff"/><stop offset="0.05263" stop-color="#5200ff"/><stop offset="0.1053" stop-color="#4f00ff"/><stop offset="0.1579" stop-color="#4f00ff"/><stop offset="0.2105" stop-color="#4c00ff"/><stop offset="0.2632" stop-color="#4600ff"/><stop offset="0.3158" stop-color="#4200ff"/><stop offset="0.3684" stop-color="#3900ff"/><stop offset="0.4211" stop-color="#3300ff"/><stop offset="0.4737" stop-color="#2900ff"/><stop offset="0.5263" stop-color="#1d00ff"/><stop offset="0.5789" stop-color="#1000ff"/><stop offset="0.6316" stop-color="#0400ff"/><stop offset="0.6842" stop-color="#0000f0" stop-opacity="0.95"/><stop offset="0.7368" stop-color="#0000d8" stop-opacity="0.79"/><stop offset="0.7895" stop-color="#0000bc" stop-opacity="0.63"/><stop offset="0.8421" stop-color="#000098" stop-opacity="0.47"/><stop offset="0.8947" stop-color="#000074" stop-opacity="0.32"/><stop offset="0.9474" stop-color="#00004c" stop-opacity="0.16"/><stop offset="1" stop-color="#000024" stop-opacity="0"/></linearGradient>
<linearGradient id="g39" gradientUnits="userSpaceOnUse" x1="0" y1="51.40" x2="0" y2="75.00"><stop offset="0" stop-color="#6e00ff"/><stop offset="0.05263" stop-color="#6e00ff"/><stop offset="0.1053" stop-color="#6b00ff"/><stop offset="0.1579" stop-color="#6b00ff"/><stop offset="0.2105" stop-color="#6500ff"/><stop offset="0.2632" stop-color="#6200ff"/><stop offset="0.3158" stop-color="#5b00ff"/><stop offset="0.3684" stop-color="#5200ff"/><stop offset="0.4211" stop-color="#4c00ff"/><stop offset="0.4737" stop-color="#3f00ff"/><stop offset="0.5263" stop-color="#3300ff"/><stop offset="0.5789" stop-color="#2600ff"/><stop offset="0.6316" stop-color="#1700ff"/><stop offset="0.6842" stop-color="#0400ff" stop-opacity="0.95"/><stop offset="0.7368" stop-color="#0000e8" stop-opacity="0.79"/><stop offset="0.7895" stop-color="#0000c8" stop-opacity="0.63"/><stop offset="0.8421" stop-color="#0000a4" stop-opacity="0.47"/><stop offset="0.8947" stop-color="#00007c" stop-opacity="0.32"/><stop offset="0.9474" stop-color="#000050" stop-opacity="0.16"/><stop offset="1" stop-color="#000024" stop-opacity="0"/></linearGradient>
<linearGradient id="g40" gradientUnits="userSpaceOnUse" x1="0" y1="51.40" x2="0" y2="75.00"><stop offset="0" stop-color="#3000ff"/><stop offset="0.1053" stop-color="#3000ff"/><stop offset="0.1579" stop-color="#2d00ff"/><stop offset="0.2105" stop-color="#2900ff"/><stop offset="0.2632" stop-color="#2600ff"/><stop offset="0.3158" stop-color="#2300ff"/><stop offset="0.3684" stop-color="#1d00ff"/><stop offset="0.4211" stop-color="#1700ff"/><stop offset="0.4737" stop-color="#0d00ff"/><stop offset="0.5263" stop-color="#0400ff"/><stop offset="0.5789" stop-color="#0000f8"/><stop offset="0.6316" stop-color="#0000e8"/><stop offset="0.6842" stop-color="#0000d8" stop-opacity="0.95"/><stop offset="0.7368" stop-color="#0000c4" stop-opacity="0.79"/><stop offset="0.7895" stop-color="#0000a8" stop-opacity="0.63"/><stop offset="0.8421" stop-color="#00008c" stop-opacity="0.47"/><stop offset="0.8947" stop-color="#00006c" stop-opacity="0.32"/><stop offset="0.9474" stop-color="#000048" stop-opacity="0.16"/><stop offset="1" stop-color="#000024" stop-opacity="0"/></linearGradient>
<linearGradient id="g41" gradientUnits="userSpaceOnUse" x1="0" y1="51.40" x2="0" y2="75.00"><stop offset="0" stop-color="#0000fc"/><stop offset="0.05263" stop-color="#0000fc"/><stop offset="0.1053" stop-color="#0000f8"/><stop offset="0.1579" stop-color="#0000f8"/><stop offset="0.2105" stop-color="#0000f4"/><stop offset="0.2632" stop-color="#0000f4"/><stop offset="0.3158" stop-color="#0000f0"/><stop offset="0.3684" stop-color="#0000e8"/><stop offset="0.4211" stop-color="#0000e4"/><stop offset="0.4737" stop-color="#0000dc"/><stop offset="0.5263" stop-color="#0000d4"/><stop offset="0.5789" stop-color="#0000c8"/><stop offset="0.6316" stop-color="#0000c0"/><stop offset="0.6842" stop-color="#0000b4" stop-opacity="0.95"/><stop offset="0.7368" stop-color="#0000a4" stop-opacity="0.79"/><stop offset="0.7895" stop-color="#000090" stop-opacity="0.63"/><stop offset="0.8421" stop-color="#000078" stop-opacity="0.47"/><stop offset="0.8947" stop-color="#00005c" stop-opacity="0.32"/><stop offset="0.9474" stop-color="#000040" stop-opacity="0.16"/><stop offset="1" stop-color="#000024" stop-opacity="0"/></linearGradient>
<linearGradient id="g42" gradientUnits="userSpaceOnUse" x1="0" y1="51.40" x2="0" y2="75.00"><stop offset="0" stop-color="#0000c0"/><stop offset="0.1053" stop-color="#0000c0"/><stop offset="0.1579" stop-color="#0000bc"/><stop offset="0.2105" stop-color="#0000bc"/><stop offset="0.2632" stop-color="#0000b8"/><stop offset="0.3158" stop-color="#0000b8"/><stop offset="0.3684" stop-color="#0000b4"/><stop offset="0.4211" stop-color="#0000b0"/><stop offset="0.4737" stop-color="#0000ac"/><stop offset="0.5263" stop-color="#0000a4"/><stop offset="0.5789" stop-color="#0000a0"/><stop offset="0.6316" stop-color="#000098"/><stop offset="0.6842" stop-color="#000090" stop-opacity="0.95"/><stop offset="0.7368" stop-color="#000084" stop-opacity="0.79"/><stop offset="0.7895" stop-color="#000078" stop-opacity="0.63"/><stop offset="0.8421" stop-color="#000064" stop-opacity="0.47"/><stop offset="0.8947" stop-color="#000050" stop-opacity="0.32"/><stop offset="0.9474" stop-color="#00003c" stop-opacity="0.16"/><stop offset="1" stop-color="#000024" stop-opacity="0"/></linearGradient>
<linearGradient id="g43" gradientUnits="userSpaceOnUse" x1="0" y1="51.40" x2="0" y2="75.00"><stop offset="0" stop-color="#8d04fb"/><stop offset="0.1053" stop-color="#8d04fb"/><stop offset="0.1579" stop-color="#8a02fd"/><stop offset="0.2105" stop-color="#8700ff"/><stop offset="0.2632" stop-color="#8100ff"/><stop offset="0.3158" stop-color="#7b00ff"/><stop offset="0.3684" stop-color="#7100ff"/><stop offset="0.4211" stop-color="#6500ff"/><stop offset="0.4737" stop-color="#5b00ff"/><stop offset="0.5263" stop-color="#4c00ff"/><stop offset="0.5789" stop-color="#3c00ff"/><stop offset="0.6316" stop-color="#2900ff"/><stop offset="0.6842" stop-color="#1700ff" stop-opacity="0.95"/><stop offset="0.7368" stop-color="#0100ff" stop-opacity="0.79"/><stop offset="0.7895" stop-color="#0000dc" stop-opacity="0.63"/><stop offset="0.8421" stop-color="#0000b0" stop-opacity="0.47"/><stop offset="0.8947" stop-color="#000084" stop-opacity="0.32"/><stop offset="0.9474" stop-color="#000058" stop-opacity="0.16"/><stop offset="1" stop-color="#000024" stop-opacity="0"/></linearGradient>
<linearGradient id="g44" gradientUnits="userSpaceOnUse" x1="0" y1="51.40" x2="0" y2="75.00"><stop offset="0" stop-color="#7b00ff"/><stop offset="0.1053" stop-color="#7b00ff"/><stop offset="0.1579" stop-color="#7800ff"/><stop offset="0.2105" stop-color="#7400ff"/><stop offset="0.2632" stop-color="#6e00ff"/><stop offset="0.3158" stop-color="#6800ff"/><stop offset="0.3684" stop-color="#5f00ff"/><stop offset="0.4211" stop-color="#5500ff"/><stop offset="0.4737" stop-color="#4c00ff"/><stop offset="0.5263" stop-color="#3f00ff"/><stop offset="0.5789" stop-color="#3000ff"/><stop offset="0.6316" stop-color="#2000ff"/><stop offset="0.6842" stop-color="#0d00ff" stop-opacity="0.95"/><stop offset="0.7368" stop-color="#0000f4" stop-opacity="0.79"/><stop offset="0.7895" stop-color="#0000d0" stop-opacity="0.63"/><stop offset="0.8421" stop-color="#0000ac" stop-opacity="0.47"/><stop offset="0.8947" stop-color="#000080" stop-opacity="0.32"/><stop offset="0.9474" stop-color="#000054" stop-opacity="0.16"/><stop offset="1" stop-color="#000024" stop-opacity="0"/></linearGradient>
<linearGradient id="g45" gradientUnits="userSpaceOnUse" x1="0" y1="51.40" x2="0" y2="75.00"><stop offset="0" stop-color="#7100ff"/><stop offset="0.1053" stop-color="#7100ff"/><stop offset="0.1579" stop-color="#6e00ff"/><stop offset="0.2105" stop-color="#6b00ff"/><stop offset="0.2632" stop-color="#6500ff"/><stop offset="0.3158" stop-color="#5f00ff"/><stop offset="0.3684" stop-color="#5800ff"/><stop offset="0.4211" stop-color="#4f00ff"/><stop offset="0.4737" stop-color="#4200ff"/><stop offset="0.5263" stop-color="#3600ff"/><stop offset="0.5789" stop-color="#2900ff"/><stop offset="0.6316" stop-color="#1a00ff"/><stop offset="0.6842" stop-color="#0700ff" stop-opacity="0.95"/><stop offset="0.7368" stop-color="#0000ec" stop-opacity="0.79"/><stop offset="0.7895" stop-color="#0000cc" stop-opacity="0.63"/><stop offset="0.8421" stop-color="#0000a8" stop-opacity="0.47"/><stop offset="0.8947" stop-color="#00007c" stop-opacity="0.32"/><stop offset="0.9474" stop-color="#000050" stop-opacity="0.16"/><stop offset="1" stop-color="#000024" stop-opacity="0"/></linearGradient>
<linearGradient id="g46" gradientUnits="userSpaceOnUse" x1="0" y1="51.40" x2="0" y2="75.00"><stop offset="0" stop-color="#5500ff"/><stop offset="0.1053" stop-color="#5500ff"/><stop offset="0.1579" stop-color="#5200ff"/><stop offset="0.2105" stop-color="#4f00ff"/><stop offset="0.2632" stop-color="#4c00ff"/><stop offset="0.3158" stop-color="#4600ff"/><stop offset="0.3684" stop-color="#3f00ff"/><stop offset="0.4211" stop-color="#3600ff"/><stop offset="0.4737" stop-color="#2d00ff"/><stop offset="0.5263" stop-color="#2000ff"/><stop offset="0.5789" stop-color="#1400ff"/><stop offset="0.6316" stop-color="#0700ff"/><stop offset="0.6842" stop-color="#0000f4" stop-opacity="0.95"/><stop offset="0.7368" stop-color="#0000dc" stop-opacity="0.79"/><stop offset="0.7895" stop-color="#0000bc" stop-opacity="0.63"/><stop offset="0.8421" stop-color="#00009c" stop-opacity="0.47"/><stop offset="0.8947" stop-color="#000074" stop-opacity="0.32"/><stop offset="0.9474" stop-color="#00004c" stop-opacity="0.16"/><stop offset="1" stop-color="#000024" stop-opacity="0"/></linearGradient>
<linearGradient id="g47" gradientUnits="userSpaceOnUse" x1="0" y1="51.40" x2="0" y2="75.00"><stop offset="0" stop-color="#5f00ff"/><stop offset="0.1053" stop-color="#5f00ff"/><stop offset="0.1579" stop-color="#5b00ff"/><stop offset="0.2105" stop-color="#5800ff"/><stop offset="0.2632" stop-color="#5500ff"/><stop offset="0.3158" stop-color="#4f00ff"/><stop offset="0.3684" stop-color="#4600ff"/><stop offset="0.4211" stop-color="#3f00ff"/><stop offset="0.4737" stop-color="#3300ff"/><stop offset="0.5263" stop-color="#2900ff"/><stop offset="0.5789" stop-color="#1d00ff"/><stop offset="0.6316" stop-color="#0d00ff"/><stop offset="0.6842" stop-color="#0000fc" stop-opacity="0.95"/><stop offset="0.7368" stop-color="#0000e0" stop-opacity="0.79"/><stop offset="0.7895" stop-color="#0000c0" stop-opacity="0.63"/><stop offset="0.8421" stop-color="#0000a0" stop-opacity="0.47"/><stop offset="0.8947" stop-color="#000078" stop-opacity="0.32"/><stop offset="0.9474" stop-color="#000050" stop-opacity="0.16"/><stop offset="1" stop-color="#000024" stop-opacity="0"/></linearGradient>
<linearGradient id="g48" gradientUnits="userSpaceOnUse" x1="0" y1="51.40" x2="0" y2="75.00"><stop offset="0" stop-color="#3900ff"/><stop offset="0.1053" stop-color="#3900ff"/><stop offset="0.1579" stop-color="#3600ff"/><stop offset="0.2105" stop-color="#3300ff"/><stop offset="0.2632" stop-color="#3000ff"/><stop offset="0.3158" stop-color="#2d00ff"/><stop offset="0.3684" stop-color="#2600ff"/><stop offset="0.4211" stop-color="#1d00ff"/><stop offset="0.4737" stop-color="#1700ff"/><stop offset="0.5263" stop-color="#0d00ff"/><stop offset="0.5789" stop-color="#0100ff"/><stop offset="0.6316" stop-color="#0000f0"/><stop offset="0.6842" stop-color="#0000e0" stop-opacity="0.95"/><stop offset="0.7368" stop-color="#0000c8" stop-opacity="0.79"/><stop offset="0.7895" stop-color="#0000b0" stop-opacity="0.63"/><stop offset="0.8421" stop-color="#000090" stop-opacity="0.47"/><stop offset="0.8947" stop-color="#00006c" stop-opacity="0.32"/><stop offset="0.9474" stop-color="#000048" stop-opacity="0.16"/><stop offset="1" stop-color="#000024" stop-opacity="0"/></linearGradient>
<linearGradient id="g49" gradientUnits="userSpaceOnUse" x1="0" y1="64.10" x2="0" y2="89.10"><stop offset="0" stop-color="#000058" stop-opacity="0"/><stop offset="0.04762" stop-color="#000060" stop-opacity="0.09"/><stop offset="0.09524" stop-color="#00006c" stop-opacity="0.29"/><stop offset="0.1429" stop-color="#000084" stop-opacity="0.63"/><stop offset="0.1905" stop-color="#0000a4"/><stop offset="0.2381" stop-color="#0000d0"/><stop offset="0.2857" stop-color="#0100ff"/><stop offset="0.3333" stop-color="#2900ff"/><stop offset="0.381" stop-color="#4900ff"/><stop offset="0.4286" stop-color="#5f00ff"/><stop offset="0.4762" stop-color="#6800ff"/><stop offset="0.5238" stop-color="#6800ff"/><stop offset="0.5714" stop-color="#5f00ff"/><stop offset="0.619" stop-color="#4900ff"/><stop offset="0.6667" stop-color="#2300ff"/><stop offset="0.7143" stop-color="#0000f0"/><stop offset="0.7619" stop-color="#0000ac"/><stop offset="0.8095" stop-color="#000070"/><stop offset="0.8571" stop-color="#00003c" stop-opacity="0.63"/><stop offset="0.9048" stop-color="#00001c" stop-opacity="0.29"/><stop offset="0.9524" stop-color="#000008" stop-opacity="0.09"/><stop offset="1" stop-color="#000000" stop-opacity="0"/></linearGradient>
<linearGradient id="g50" gradientUnits="userSpaceOnUse" x1="0" y1="64.10" x2="0" y2="89.10"><stop offset="0" stop-color="#000058" stop-opacity="0"/><stop offset="0.04762" stop-color="#000064" stop-opacity="0.09"/><stop offset="0.09524" stop-color="#000080" stop-opacity="0.29"/><stop offset="0.1429" stop-color="#0000b0" stop-opacity="0.63"/><stop offset="0.1905" stop-color="#0000f0"/><stop offset="0.2381" stop-color="#3600ff"/><stop offset="0.2857" stop-color="#8100ff"/><stop offset="0.3333" stop-color="#c92ad5"/><stop offset="0.381" stop-color="#ff50af"/><stop offset="0.4286" stop-color="#ff6a95"/><stop offset="0.4762" stop-color="#ff748b"/><stop offset="0.5238" stop-color="#ff748b"/><stop offset="0.5714" stop-color="#ff6a95"/><stop offset="0.619" stop-color="#ff50af"/><stop offset="0.6667" stop-color="#c326d9"/><stop offset="0.7143" stop-color="#7400ff"/><stop offset="0.7619" stop-color="#1d00ff"/><stop offset="0.8095" stop-color="#0000bc"/><stop offset="0.8571" stop-color="#000068" stop-opacity="0.63"/><stop offset="0.9048" stop-color="#000030" stop-opacity="0.29"/><stop offset="0.9524" stop-color="#00000c" stop-opacity="0.09"/><stop offset="1" stop-color="#000000" stop-opacity="0"/></linearGradient>
<linearGradient id="g51" gradientUnits="userSpaceOnUse" x1="0" y1="64.10" x2="0" y2="89.10"><stop offset="0" stop-color="#000058" stop-opacity="0"/><stop offset="0.04762" stop-color="#000064" stop-opacity="0.09"/><stop offset="0.09524" stop-color="#000080" stop-opacity="0.29"/><stop offset="0.1429" stop-color="#0000b4" stop-opacity="0.63"/><stop offset="0.1905" stop-color="#0000fc"/><stop offset="0.2381" stop-color="#4200ff"/><stop offset="0.2857" stop-color="#9106f9"/><stop offset="0.3333" stop-color="#dc36c9"/><stop offset="0.381" stop-color="#ff5ea1"/><stop offset="0.4286" stop-color="#ff7887"/><stop offset="0.4762" stop-color="#ff827d"/><stop offset="0.5238" stop-color="#ff827d"/><stop offset="0.5714" stop-color="#ff7887"/><stop offset="0.619" stop-color="#ff5ca3"/><stop offset="0.6667" stop-color="#d532cd"/><stop offset="0.7143" stop-color="#8100ff"/><stop offset="0.7619" stop-color="#2600ff"/><stop offset="0.8095" stop-color="#0000c4"/><stop offset="0.8571" stop-color="#00006c" stop-opacity="0.63"/><stop offset="0.9048" stop-color="#000030" stop-opacity="0.29"/><stop offset="0.9524" stop-color="#000010" stop-opacity="0.09"/><stop offset="1" stop-color="#000000" stop-opacity="0"/></linearGradient>
<linearGradient id="g52" gradientUnits="userSpaceOnUse" x1="0" y1="64.10" x2="0" y2="89.10"><stop offset="0" stop-color="#000058" stop-opacity="0"/><stop offset="0.04762" stop-color="#000064" stop-opacity="0.09"/><stop offset="0.09524" stop-color="#000078" stop-opacity="0.29"/><stop offset="0.1429" stop-color="#0000a0" stop-opacity="0.63"/><stop offset="0.1905" stop-color="#0000d8"/><stop offset="0.2381" stop-color="#1a00ff"/><stop offset="0.2857" stop-color="#5800ff"/><stop offset="0.3333" stop-color="#9408f7"/><stop offset="0.381" stop-color="#c628d7"/><stop offset="0.4286" stop-color="#e83ec1"/><stop offset="0.4762" stop-color="#f546b9"/><stop offset="0.5238" stop-color="#f546b9"/><stop offset="0.5714" stop-color="#e83ec1"/><stop offset="0.619" stop-color="#c628d7"/><stop offset="0.6667" stop-color="#8d04fb"/><stop offset="0.7143" stop-color="#4900ff"/><stop offset="0.7619" stop-color="#0000fc"/><stop offset="0.8095" stop-color="#0000a0"/><stop offset="0.8571" stop-color="#000058" stop-opacity="0.63"/><stop offset="0.9048" stop-color="#000028" stop-opacity="0.29"/><stop offset="0.9524" stop-color="#00000c" stop-opacity="0.09"/><stop offset="1" stop-color="#000000" stop-opacity="0"/></linearGradient>
<linearGradient id="g53" gradientUnits="userSpaceOnUse" x1="0" y1="64.10" x2="0" y2="89.10"><stop offset="0" stop-color="#000058" stop-opacity="0"/><stop offset="0.04762" stop-color="#000064" stop-opacity="0.09"/><stop offset="0.09524" stop-color="#00007c" stop-opacity="0.29"/><stop offset="0.1429" stop-color="#0000a8" stop-opacity="0.63"/><stop offset="0.1905" stop-color="#0000e0"/><stop offset="0.2381" stop-color="#2300ff"/><stop offset="0.2857" stop-color="#6500ff"/><stop offset="0.3333" stop-color="#a614eb"/><stop offset="0.381" stop-color="#dc36c9"/><stop offset="0.4286" stop-color="#fe4cb3"/><stop offset="0.4762" stop-color="#ff56a9"/><stop offset="0.5238" stop-color="#ff56a9"/><stop offset="0.5714" stop-color="#fe4cb3"/><stop offset="0.619" stop-color="#d834cb"/><stop offset="0.6667" stop-color="#a010ef"/><stop offset="0.7143" stop-color="#5500ff"/><stop offset="0.7619" stop-color="#0700ff"/><stop offset="0.8095" stop-color="#0000a8"/><stop offset="0.8571" stop-color="#000060" stop-opacity="0.63"/><stop offset="0.9048" stop-color="#00002c" stop-opacity="0.29"/><stop offset="0.9524" stop-color="#00000c" stop-opacity="0.09"/><stop offset="1" stop-color="#000000" stop-opacity="0"/></linearGradient>
<linearGradient id="g54" gradientUnits="userSpaceOnUse" x1="0" y1="64.10" x2="0" y2="89.10"><stop offset="0" stop-color="#000058" stop-opacity="0"/><stop offset="0.04762" stop-color="#000060" stop-opacity="0.09"/><stop offset="0.09524" stop-color="#000070" stop-opacity="0.29"/><stop offset="0.1429" stop-color="#00008c" stop-opacity="0.63"/><stop offset="0.1905" stop-color="#0000b0"/><stop offset="0.2381" stop-color="#0000dc"/><stop offset="0.2857" stop-color="#1000ff"/><stop offset="0.3333" stop-color="#3c00ff"/><stop offset="0.381" stop-color="#5f00ff"/><stop offset="0.4286" stop-color="#7800ff"/><stop offset="0.4762" stop-color="#8100ff"/><stop offset="0.5238" stop-color="#8100ff"/><stop offset="0.5714" stop-color="#7400ff"/><stop offset="0.619" stop-color="#5b00ff"/><stop offset="0.6667" stop-color="#3600ff"/><stop offset="0.7143" stop-color="#0100ff"/><stop offset="0.7619" stop-color="#0000b8"/><stop offset="0.8095" stop-color="#000078"/><stop offset="0.8571" stop-color="#000044" stop-opacity="0.63"/><stop offset="0.9048" stop-color="#00001c" stop-opacity="0.29"/><stop offset="0.9524" stop-color="#000008" stop-opacity="0.09"/><stop offset="1" stop-color="#000000" stop-opacity="0"/></linearGradient>
<linearGradient id="g55" gradientUnits="userSpaceOnUse" x1="0" y1="64.10" x2="0" y2="89.10"><stop offset="0" stop-color="#000058" stop-opacity="0"/><stop offset="0.04762" stop-color="#000064" stop-opacity="0.09"/><stop offset="0.09524" stop-color="#000084" stop-opacity="0.29"/><stop offset="0.1429" stop-color="#0000b4" stop-opacity="0.63"/><stop offset="0.1905" stop-color="#0000fc"/><stop offset="0.2381" stop-color="#4200ff"/><stop offset="0.2857" stop-color="#9408f7"/><stop offset="0.3333" stop-color="#df38c7"/><stop offset="0.381" stop-color="#ff609f"/><stop offset="0.4286" stop-color="#ff7a85"/><stop offset="0.4762" stop-color="#ff8679"/><stop offset="0.5238" stop-color="#ff8679"/><stop offset="0.5714" stop-color="#ff7a85"/><stop offset="0.619" stop-color="#ff609f"/><stop offset="0.6667" stop-color="#d834cb"/><stop offset="0.7143" stop-color="#8400ff"/><stop offset="0.7619" stop-color="#2900ff"/><stop offset="0.8095" stop-color="#0000c4"/><stop offset="0.8571" stop-color="#00006c" stop-opacity="0.63"/><stop offset="0.9048" stop-color="#000030" stop-opacity="0.29"/><stop offset="0.9524" stop-color="#000010" stop-opacity="0.09"/><stop offset="1" stop-color="#000000" stop-opacity="0"/></linearGradient>
<linearGradient id="g56" gradientUnits="userSpaceOnUse" x1="0" y1="64.10" x2="0" y2="89.10"><stop offset="0" stop-color="#000058" stop-opacity="0"/><stop offset="0.04762" stop-color="#000060" stop-opacity="0.09"/><stop offset="0.09524" stop-color="#000074" stop-opacity="0.29"/><stop offset="0.1429" stop-color="#000094" stop-opacity="0.63"/><stop offset="0.1905" stop-color="#0000c0"/><stop offset="0.2381" stop-color="#0000f8"/><stop offset="0.2857" stop-color="#2d00ff"/><stop offset="0.3333" stop-color="#5f00ff"/><stop offset="0.381" stop-color="#8700ff"/><stop offset="0.4286" stop-color="#a312ed"/><stop offset="0.4762" stop-color="#b01ae5"/><stop offset="0.5238" stop-color="#b01ae5"/><stop offset="0.5714" stop-color="#a312ed"/><stop offset="0.619" stop-color="#8700ff"/><stop offset="0.6667" stop-color="#5800ff"/><stop offset="0.7143" stop-color="#1d00ff"/><stop offset="0.7619" stop-color="#0000d4"/><stop offset="0.8095" stop-color="#000088"/><stop offset="0.8571" stop-color="#00004c" stop-opacity="0.63"/><stop offset="0.9048" stop-color="#000020" stop-opacity="0.29"/><stop offset="0.9524" stop-color="#000008" stop-opacity="0.09"/><stop offset="1" stop-color="#000000" stop-opacity="0"/></linearGradient>
<linearGradient id="g57" gradientUnits="userSpaceOnUse" x1="0" y1="64.10" x2="0" y2="89.10"><stop offset="0" stop-color="#000058" stop-opacity="0"/><stop offset="0.04762" stop-color="#000064" stop-opacity="0.09"/><stop offset="0.09524" stop-color="#000084" stop-opacity="0.29"/><stop offset="0.1429" stop-color="#0000b8" stop-opacity="0.63"/><stop offset="0.1905" stop-color="#0400ff"/><stop offset="0.2381" stop-color="#4c00ff"/><stop offset="0.2857" stop-color="#9d0ef1"/><stop offset="0.3333" stop-color="#ee42bd"/><stop offset="0.381" stop-color="#ff6c93"/><stop offset="0.4286" stop-color="#ff8679"/><stop offset="0.4762" stop-color="#ff926d"/><stop offset="0.5238" stop-color="#ff926d"/><stop offset="0.5714" stop-color="#ff8679"/><stop offset="0.619" stop-color="#ff6a95"/><stop offset="0.6667" stop-color="#e83ec1"/><stop offset="0.7143" stop-color="#9106f9"/><stop offset="0.7619" stop-color="#3000ff"/><stop offset="0.8095" stop-color="#0000cc"/><stop offset="0.8571" stop-color="#000070" stop-opacity="0.63"/><stop offset="0.9048" stop-color="#000034" stop-opacity="0.29"/><stop offset="0.9524" stop-color="#000010" stop-opacity="0.09"/><stop offset="1" stop-color="#000000" stop-opacity="0"/></linearGradient>
<linearGradient id="g58" gradientUnits="userSpaceOnUse" x1="0" y1="64.10" x2="0" y2="89.10"><stop offset="0" stop-color="#000058" stop-opacity="0"/><stop offset="0.04762" stop-color="#000060" stop-opacity="0.09"/><stop offset="0.09524" stop-color="#000074" stop-opacity="0.29"/><stop offset="0.1429" stop-color="#000098" stop-opacity="0.63"/><stop offset="0.1905" stop-color="#0000c8"/><stop offset="0.2381" stop-color="#0400ff"/><stop offset="0.2857" stop-color="#3c00ff"/><stop offset="0.3333" stop-color="#7100ff"/><stop offset="0.381" stop-color="#9d0ef1"/><stop offset="0.4286" stop-color="#b920df"/><stop offset="0.4762" stop-color="#c628d7"/><stop offset="0.5238" stop-color="#c628d7"/><stop offset="0.5714" stop-color="#b920df"/><stop offset="0.619" stop-color="#9a0cf3"/><stop offset="0.6667" stop-color="#6b00ff"/><stop offset="0.7143" stop-color="#2d00ff"/><stop offset="0.7619" stop-color="#0000e0"/><stop offset="0.8095" stop-color="#000090"/><stop offset="0.8571" stop-color="#000050" stop-opacity="0.63"/><stop offset="0.9048" stop-color="#000024" stop-opacity="0.29"/><stop offset="0.9524" stop-color="#00000c" stop-opacity="0.09"/><stop offset="1" stop-color="#000000" stop-opacity="0"/></linearGradient>
<linearGradient id="g59" gradientUnits="userSpaceOnUse" x1="0" y1="819.30" x2="0" y2="867.30"><stop offset="0" stop-color="#000098" stop-opacity="0"/><stop offset="0.02083" stop-color="#000098" stop-opacity="0.06"/><stop offset="0.04167" stop-color="#000098" stop-opacity="0.12"/><stop offset="0.0625" stop-color="#00009c" stop-opacity="0.18"/><stop offset="0.08333" stop-color="#00009c" stop-opacity="0.24"/><stop offset="0.1042" stop-color="#00009c" stop-opacity="0.31"/><stop offset="0.125" stop-color="#0000a0" stop-opacity="0.38"/><stop offset="0.1458" stop-color="#0000a0" stop-opacity="0.45"/><stop offset="0.1667" stop-color="#0000a0" stop-opacity="0.52"/><stop offset="0.1875" stop-color="#0000a0" stop-opacity="0.61"/><stop offset="0.2083" stop-color="#0000a0" stop-opacity="0.75"/><stop offset="0.2292" stop-color="#00009c" stop-opacity="0.88"/><stop offset="0.25" stop-color="#00009c"/><stop offset="0.2708" stop-color="#000098"/><stop offset="0.2917" stop-color="#000098"/><stop offset="0.3125" stop-color="#00009c"/><stop offset="0.3333" stop-color="#00009c"/><stop offset="0.3542" stop-color="#000098"/><stop offset="0.375" stop-color="#000098"/><stop offset="0.3958" stop-color="#0000a0"/><stop offset="0.4167" stop-color="#0000b0"/><stop offset="0.4375" stop-color="#0000c4"/><stop offset="0.4583" stop-color="#0000d8"/><stop offset="0.4792" stop-color="#0000f0"/><stop offset="0.5" stop-color="#0000fc"/><stop offset="0.5208" stop-color="#0a00ff"/><stop offset="0.5417" stop-color="#1400ff"/><stop offset="0.5625" stop-color="#1a00ff"/><stop offset="0.6042" stop-color="#1a00ff"/><stop offset="0.625" stop-color="#1400ff"/><stop offset="0.6458" stop-color="#0d00ff"/><stop offset="0.6667" stop-color="#0400ff"/><stop offset="0.6875" stop-color="#0000f8"/><stop offset="0.7083" stop-color="#0000e0"/><stop offset="0.7292" stop-color="#0000c8"/><stop offset="0.75" stop-color="#0000ac"/><stop offset="0.7708" stop-color="#000094"/><stop offset="0.7917" stop-color="#000080"/><stop offset="0.8125" stop-color="#00007c"/><stop offset="0.8333" stop-color="#000074"/><stop offset="0.8542" stop-color="#000070"/><stop offset="0.875" stop-color="#000074"/><stop offset="0.8958" stop-color="#000078" stop-opacity="0.89"/><stop offset="0.9167" stop-color="#000084" stop-opacity="0.71"/><stop offset="0.9375" stop-color="#000088" stop-opacity="0.53"/><stop offset="0.9583" stop-color="#000090" stop-opacity="0.36"/><stop offset="0.9792" stop-color="#000094" stop-opacity="0.18"/><stop offset="1" stop-color="#000098" stop-opacity="0"/></linearGradient>
<linearGradient id="g60" gradientUnits="userSpaceOnUse" x1="0" y1="819.30" x2="0" y2="867.30"><stop offset="0" stop-color="#000098" stop-opacity="0"/><stop offset="0.02083" stop-color="#000098" stop-opacity="0.06"/><stop offset="0.04167" stop-color="#000098" stop-opacity="0.12"/><stop offset="0.0625" stop-color="#000098" stop-opacity="0.18"/><stop offset="0.08333" stop-color="#000098" stop-opacity="0.24"/><stop offset="0.1042" stop-color="#00009c" stop-opacity="0.31"/><stop offset="0.125" stop-color="#00009c" stop-opacity="0.38"/><stop offset="0.1458" stop-color="#00009c" stop-opacity="0.45"/><stop offset="0.1667" stop-color="#00009c" stop-opacity="0.52"/><stop offset="0.1875" stop-color="#00009c" stop-opacity="0.61"/><stop offset="0.2083" stop-color="#000098" stop-opacity="0.75"/><stop offset="0.2292" stop-color="#000094" stop-opacity="0.88"/><stop offset="0.25" stop-color="#000090"/><stop offset="0.2708" stop-color="#000090"/><stop offset="0.2917" stop-color="#00008c"/><stop offset="0.3333" stop-color="#00008c"/><stop offset="0.3542" stop-color="#000084"/><stop offset="0.375" stop-color="#000080"/><stop offset="0.3958" stop-color="#000084"/><stop offset="0.4167" stop-color="#00008c"/><stop offset="0.4375" stop-color="#000098"/><stop offset="0.4583" stop-color="#0000a4"/><stop offset="0.4792" stop-color="#0000b4"/><stop offset="0.5" stop-color="#0000bc"/><stop offset="0.5208" stop-color="#0000c8"/><stop offset="0.5417" stop-color="#0000d0"/><stop offset="0.5625" stop-color="#0000d8"/><stop offset="0.6042" stop-color="#0000d8"/><stop offset="0.625" stop-color="#0000d4"/><stop offset="0.6458" stop-color="#0000cc"/><stop offset="0.6667" stop-color="#0000c4"/><stop offset="0.6875" stop-color="#0000bc"/><stop offset="0.7083" stop-color="#0000a8"/><stop offset="0.7292" stop-color="#000098"/><stop offset="0.75" stop-color="#000088"/><stop offset="0.7708" stop-color="#000078"/><stop offset="0.7917" stop-color="#00006c"/><stop offset="0.8125" stop-color="#000064"/><stop offset="0.8333" stop-color="#000060"/><stop offset="0.8542" stop-color="#000060"/><stop offset="0.875" stop-color="#000068"/><stop offset="0.8958" stop-color="#000070" stop-opacity="0.89"/><stop offset="0.9167" stop-color="#00007c" stop-opacity="0.71"/><stop offset="0.9375" stop-color="#000084" stop-opacity="0.53"/><stop offset="0.9583" stop-color="#00008c" stop-opacity="0.36"/><stop offset="0.9792" stop-color="#000094" stop-opacity="0.18"/><stop offset="1" stop-color="#000098" stop-opacity="0"/></linearGradient>
<linearGradient id="g61" gradientUnits="userSpaceOnUse" x1="0" y1="819.30" x2="0" y2="867.30"><stop offset="0" stop-color="#000098" stop-opacity="0"/><stop offset="0.02083" stop-color="#000098" stop-opacity="0.06"/><stop offset="0.04167" stop-color="#000098" stop-opacity="0.12"/><stop offset="0.0625" stop-color="#00009c" stop-opacity="0.18"/><stop offset="0.08333" stop-color="#00009c" stop-opacity="0.24"/><stop offset="0.1042" stop-color="#00009c" stop-opacity="0.31"/><stop offset="0.125" stop-color="#0000a0" stop-opacity="0.38"/><stop offset="0.1458" stop-color="#0000a0" stop-opacity="0.45"/><stop offset="0.1667" stop-color="#0000a0" stop-opacity="0.52"/><stop offset="0.1875" stop-color="#0000a0" stop-opacity="0.61"/><stop offset="0.2083" stop-color="#0000a0" stop-opacity="0.75"/><stop offset="0.2292" stop-color="#0000a0" stop-opacity="0.88"/><stop offset="0.25" stop-color="#00009c"/><stop offset="0.2917" stop-color="#00009c"/><stop offset="0.3125" stop-color="#0000a0"/><stop offset="0.3333" stop-color="#0000a0"/><stop offset="0.3542" stop-color="#00009c"/><stop offset="0.375" stop-color="#00009c"/><stop offset="0.3958" stop-color="#0000a4"/><stop offset="0.4167" stop-color="#0000b8"/><stop offset="0.4375" stop-color="#0000c8"/><stop offset="0.4583" stop-color="#0000e0"/><stop offset="0.4792" stop-color="#0000f8"/><stop offset="0.5" stop-color="#0700ff"/><stop offset="0.5208" stop-color="#1000ff"/><stop offset="0.5417" stop-color="#1d00ff"/><stop offset="0.5625" stop-color="#2300ff"/><stop offset="0.6042" stop-color="#2300ff"/><stop offset="0.625" stop-color="#1d00ff"/><stop offset="0.6458" stop-color="#1700ff"/><stop offset="0.6667" stop-color="#0d00ff"/><stop offset="0.6875" stop-color="#0400ff"/><stop offset="0.7083" stop-color="#0000e8"/><stop offset="0.7292" stop-color="#0000d0"/><stop offset="0.75" stop-color="#0000b4"/><stop offset="0.7708" stop-color="#000098"/><stop offset="0.7917" stop-color="#000084"/><stop offset="0.8125" stop-color="#00007c"/><stop offset="0.8333" stop-color="#000074"/><stop offset="0.8542" stop-color="#000070"/><stop offset="0.875" stop-color="#000074"/><stop offset="0.8958" stop-color="#00007c" stop-opacity="0.89"/><stop offset="0.9167" stop-color="#000084" stop-opacity="0.71"/><stop offset="0.9375" stop-color="#000088" stop-opacity="0.53"/><stop offset="0.9583" stop-color="#000090" stop-opacity="0.36"/><stop offset="0.9792" stop-color="#000094" stop-opacity="0.18"/><stop offset="1" stop-color="#000098" stop-opacity="0"/></linearGradient>
<linearGradient id="g62" gradientUnits="userSpaceOnUse" x1="0" y1="819.30" x2="0" y2="867.30"><stop offset="0" stop-color="#000098" stop-opacity="0"/><stop offset="0.02083" stop-color="#000098" stop-opacity="0.06"/><stop offset="0.04167" stop-color="#000098" stop-opacity="0.12"/><stop offset="0.0625" stop-color="#00009c" stop-opacity="0.18"/><stop offset="0.08333" stop-color="#00009c" stop-opacity="0.24"/><stop offset="0.1042" stop-color="#00009c" stop-opacity="0.31"/><stop offset="0.125" stop-color="#0000a0" stop-opacity="0.38"/><stop offset="0.1458" stop-color="#0000a0" stop-opacity="0.45"/><stop offset="0.1667" stop-color="#0000a0" stop-opacity="0.52"/><stop offset="0.1875" stop-color="#0000a4" stop-opacity="0.61"/><stop offset="0.2083" stop-color="#0000a0" stop-opacity="0.75"/><stop offset="0.2292" stop-color="#0000a0" stop-opacity="0.88"/><stop offset="0.25" stop-color="#0000a0"/><stop offset="0.2708" stop-color="#00009c"/><stop offset="0.2917" stop-color="#0000a0"/><stop offset="0.3125" stop-color="#0000a0"/><stop offset="0.3333" stop-color="#0000a4"/><stop offset="0.3542" stop-color="#0000a0"/><stop offset="0.375" stop-color="#0000a0"/><stop offset="0.3958" stop-color="#0000ac"/><stop offset="0.4167" stop-color="#0000bc"/><stop offset="0.4375" stop-color="#0000d0"/><stop offset="0.4583" stop-color="#0000e8"/><stop offset="0.4792" stop-color="#0400ff"/><stop offset="0.5" stop-color="#0d00ff"/><stop offset="0.5208" stop-color="#1a00ff"/><stop offset="0.5417" stop-color="#2600ff"/><stop offset="0.5625" stop-color="#2d00ff"/><stop offset="0.6042" stop-color="#2d00ff"/><stop offset="0.625" stop-color="#2600ff"/><stop offset="0.6458" stop-color="#2000ff"/><stop offset="0.6667" stop-color="#1700ff"/><stop offset="0.6875" stop-color="#0d00ff"/><stop offset="0.7083" stop-color="#0000f0"/><stop offset="0.7292" stop-color="#0000d8"/><stop offset="0.75" stop-color="#0000bc"/><stop offset="0.7708" stop-color="#0000a0"/><stop offset="0.7917" stop-color="#000088"/><stop offset="0.8125" stop-color="#000080"/><stop offset="0.8333" stop-color="#000078"/><stop offset="0.8542" stop-color="#000074"/><stop offset="0.875" stop-color="#000074"/><stop offset="0.8958" stop-color="#00007c" stop-opacity="0.89"/><stop offset="0.9167" stop-color="#000084" stop-opacity="0.71"/><stop offset="0.9375" stop-color="#00008c" stop-opacity="0.53"/><stop offset="0.9583" stop-color="#000090" stop-opacity="0.36"/><stop offset="0.9792" stop-color="#000094" stop-opacity="0.18"/><stop offset="1" stop-color="#000098" stop-opacity="0"/></linearGradient>
<linearGradient id="g63" gradientUnits="userSpaceOnUse" x1="0" y1="819.30" x2="0" y2="867.30"><stop offset="0" stop-color="#000098" stop-opacity="0"/><stop offset="0.02083" stop-color="#000098" stop-opacity="0.06"/><stop offset="0.04167" stop-color="#00009c" stop-opacity="0.12"/><stop offset="0.0625" stop-color="#00009c" stop-opacity="0.18"/><stop offset="0.08333" stop-color="#00009c" stop-opacity="0.24"/><stop offset="0.1042" stop-color="#0000a0" stop-opacity="0.31"/><stop offset="0.125" stop-color="#0000a0" stop-opacity="0.38"/><stop offset="0.1458" stop-color="#0000a0" stop-opacity="0.45"/><stop offset="0.1667" stop-color="#0000a4" stop-opacity="0.52"/><stop offset="0.1875" stop-color="#0000a4" stop-opacity="0.61"/><stop offset="0.2083" stop-color="#0000a4" stop-opacity="0.75"/><stop offset="0.2292" stop-color="#0000a0" stop-opacity="0.88"/><stop offset="0.25" stop-color="#0000a0"/><stop offset="0.2917" stop-color="#0000a0"/><stop offset="0.3125" stop-color="#0000a4"/><stop offset="0.3333" stop-color="#0000a8"/><stop offset="0.3542" stop-color="#0000a4"/><stop offset="0.375" stop-color="#0000a4"/><stop offset="0.3958" stop-color="#0000b0"/><stop offset="0.4167" stop-color="#0000c8"/><stop offset="0.4375" stop-color="#0000dc"/><stop offset="0.4583" stop-color="#0000f4"/><stop offset="0.4792" stop-color="#0d00ff"/><stop offset="0.5" stop-color="#1a00ff"/><stop offset="0.5208" stop-color="#2600ff"/><stop offset="0.5417" stop-color="#3300ff"/><stop offset="0.5625" stop-color="#3900ff"/><stop offset="0.6042" stop-color="#3900ff"/><stop offset="0.625" stop-color="#3600ff"/><stop offset="0.6458" stop-color="#2d00ff"/><stop offset="0.6667" stop-color="#2300ff"/><stop offset="0.6875" stop-color="#1700ff"/><stop offset="0.7083" stop-color="#0100ff"/><stop offset="0.7292" stop-color="#0000e0"/><stop offset="0.75" stop-color="#0000c4"/><stop offset="0.7708" stop-color="#0000a8"/><stop offset="0.7917" stop-color="#000090"/><stop offset="0.8125" stop-color="#000084"/><stop offset="0.8333" stop-color="#00007c"/><stop offset="0.8542" stop-color="#000078"/><stop offset="0.875" stop-color="#000078"/><stop offset="0.8958" stop-color="#00007c" stop-opacity="0.89"/><stop offset="0.9167" stop-color="#000088" stop-opacity="0.71"/><stop offset="0.9375" stop-color="#00008c" stop-opacity="0.53"/><stop offset="0.9583" stop-color="#000090" stop-opacity="0.36"/><stop offset="0.9792" stop-color="#000094" stop-opacity="0.18"/><stop offset="1" stop-color="#000098" stop-opacity="0"/></linearGradient>
<linearGradient id="g64" gradientUnits="userSpaceOnUse" x1="0" y1="819.30" x2="0" y2="867.30"><stop offset="0" stop-color="#000098" stop-opacity="0"/><stop offset="0.02083" stop-color="#000098" stop-opacity="0.06"/><stop offset="0.04167" stop-color="#000098" stop-opacity="0.12"/><stop offset="0.0625" stop-color="#000098" stop-opacity="0.18"/><stop offset="0.08333" stop-color="#000098" stop-opacity="0.24"/><stop offset="0.1042" stop-color="#000098" stop-opacity="0.31"/><stop offset="0.125" stop-color="#00009c" stop-opacity="0.38"/><stop offset="0.1458" stop-color="#00009c" stop-opacity="0.45"/><stop offset="0.1667" stop-color="#00009c" stop-opacity="0.52"/><stop offset="0.1875" stop-color="#00009c" stop-opacity="0.61"/><stop offset="0.2083" stop-color="#000098" stop-opacity="0.75"/><stop offset="0.2292" stop-color="#000094" stop-opacity="0.88"/><stop offset="0.25" stop-color="#000090"/><stop offset="0.2708" stop-color="#000090"/><stop offset="0.2917" stop-color="#00008c"/><stop offset="0.3125" stop-color="#00008c"/><stop offset="0.3333" stop-color="#000088"/><stop offset="0.3542" stop-color="#000084"/><stop offset="0.375" stop-color="#000080"/><stop offset="0.3958" stop-color="#000084"/><stop offset="0.4167" stop-color="#00008c"/><stop offset="0.4375" stop-color="#000094"/><stop offset="0.4583" stop-color="#0000a0"/><stop offset="0.4792" stop-color="#0000b0"/><stop offset="0.5" stop-color="#0000b8"/><stop offset="0.5208" stop-color="#0000c0"/><stop offset="0.5417" stop-color="#0000cc"/><stop offset="0.5625" stop-color="#0000d0"/><stop offset="0.6042" stop-color="#0000d0"/><stop offset="0.625" stop-color="#0000cc"/><stop offset="0.6458" stop-color="#0000c4"/><stop offset="0.6667" stop-color="#0000bc"/><stop offset="0.6875" stop-color="#0000b4"/><stop offset="0.7083" stop-color="#0000a4"/><stop offset="0.7292" stop-color="#000094"/><stop offset="0.75" stop-color="#000084"/><stop offset="0.7708" stop-color="#000074"/><stop offset="0.7917" stop-color="#000068"/><stop offset="0.8125" stop-color="#000064"/><stop offset="0.8333" stop-color="#000060"/><stop offset="0.8542" stop-color="#000060"/><stop offset="0.875" stop-color="#000068"/><stop offset="0.8958" stop-color="#000070" stop-opacity="0.89"/><stop offset="0.9167" stop-color="#00007c" stop-opacity="0.71"/><stop offset="0.9375" stop-color="#000084" stop-opacity="0.53"/><stop offset="0.9583" stop-color="#00008c" stop-opacity="0.36"/><stop offset="0.9792" stop-color="#000094" stop-opacity="0.18"/><stop offset="1" stop-color="#000098" stop-opacity="0"/></linearGradient>
<linearGradient id="g65" gradientUnits="userSpaceOnUse" x1="0" y1="819.30" x2="0" y2="867.30"><stop offset="0" stop-color="#000098" stop-opacity="0"/><stop offset="0.02083" stop-color="#00009c" stop-opacity="0.06"/><stop offset="0.04167" stop-color="#0000a0" stop-opacity="0.12"/><stop offset="0.0625" stop-color="#0000a4" stop-opacity="0.18"/><stop offset="0.08333" stop-color="#0000a8" stop-opacity="0.24"/><stop offset="0.1042" stop-color="#0000ac" stop-opacity="0.31"/><stop offset="0.125" stop-color="#0000b0" stop-opacity="0.38"/><stop offset="0.1458" stop-color="#0000b4" stop-opacity="0.45"/><stop offset="0.1667" stop-color="#0000b8" stop-opacity="0.52"/><stop offset="0.1875" stop-color="#0000bc" stop-opacity="0.61"/><stop offset="0.2083" stop-color="#0000c0" stop-opacity="0.75"/><stop offset="0.2292" stop-color="#0000c4" stop-opacity="0.88"/><stop offset="0.25" stop-color="#0000cc"/><stop offset="0.2708" stop-color="#0000d0"/><stop offset="0.2917" stop-color="#0000d8"/><stop offset="0.3125" stop-color="#0000e8"/><stop offset="0.3333" stop-color="#0000f4"/><stop offset="0.3542" stop-color="#0100ff"/><stop offset="0.375" stop-color="#0a00ff"/><stop offset="0.3958" stop-color="#2900ff"/><stop offset="0.4167" stop-color="#5500ff"/><stop offset="0.4375" stop-color="#8100ff"/><stop offset="0.4583" stop-color="#b01ae5"/><stop offset="0.4792" stop-color="#e53cc3"/><stop offset="0.5" stop-color="#fe4cb3"/><stop offset="0.5208" stop-color="#ff5ca3"/><stop offset="0.5417" stop-color="#ff6c93"/><stop offset="0.5625" stop-color="#ff748b"/><stop offset="0.6042" stop-color="#ff748b"/><stop offset="0.625" stop-color="#ff6e91"/><stop offset="0.6458" stop-color="#ff629d"/><stop offset="0.6667" stop-color="#ff56a9"/><stop offset="0.6875" stop-color="#f848b7"/><stop offset="0.7083" stop-color="#c326d9"/><stop offset="0.7292" stop-color="#9106f9"/><stop offset="0.75" stop-color="#5b00ff"/><stop offset="0.7708" stop-color="#2600ff"/><stop offset="0.7917" stop-color="#0000fc"/><stop offset="0.8125" stop-color="#0000e4"/><stop offset="0.8333" stop-color="#0000cc"/><stop offset="0.8542" stop-color="#0000b8"/><stop offset="0.875" stop-color="#0000a8"/><stop offset="0.8958" stop-color="#0000a4" stop-opacity="0.89"/><stop offset="0.9167" stop-color="#0000a4" stop-opacity="0.71"/><stop offset="0.9375" stop-color="#0000a0" stop-opacity="0.53"/><stop offset="0.9583" stop-color="#0000a0" stop-opacity="0.36"/><stop offset="0.9792" stop-color="#00009c" stop-opacity="0.18"/><stop offset="1" stop-color="#000098" stop-opacity="0"/></linearGradient>
<linearGradient id="g66" gradientUnits="userSpaceOnUse" x1="0" y1="819.30" x2="0" y2="867.30"><stop offset="0" stop-color="#000098" stop-opacity="0"/><stop offset="0.02083" stop-color="#00009c" stop-opacity="0.06"/><stop offset="0.04167" stop-color="#0000a0" stop-opacity="0.12"/><stop offset="0.0625" stop-color="#0000a0" stop-opacity="0.18"/><stop offset="0.08333" stop-color="#0000a4" stop-opacity="0.24"/><stop offset="0.1042" stop-color="#0000a8" stop-opacity="0.31"/><stop offset="0.125" stop-color="#0000ac" stop-opacity="0.38"/><stop offset="0.1458" stop-color="#0000b0" stop-opacity="0.45"/><stop offset="0.1667" stop-color="#0000b4" stop-opacity="0.52"/><stop offset="0.1875" stop-color="#0000b8" stop-opacity="0.61"/><stop offset="0.2083" stop-color="#0000bc" stop-opacity="0.75"/><stop offset="0.2292" stop-color="#0000c0" stop-opacity="0.88"/><stop offset="0.25" stop-color="#0000c4"/><stop offset="0.2708" stop-color="#0000c8"/><stop offset="0.2917" stop-color="#0000d0"/><stop offset="0.3125" stop-color="#0000dc"/><stop offset="0.3333" stop-color="#0000e8"/><stop offset="0.3542" stop-color="#0000f0"/><stop offset="0.375" stop-color="#0000f8"/><stop offset="0.3958" stop-color="#1700ff"/><stop offset="0.4167" stop-color="#3f00ff"/><stop offset="0.4375" stop-color="#6500ff"/><stop offset="0.4583" stop-color="#9106f9"/><stop offset="0.4792" stop-color="#bc22dd"/><stop offset="0.5" stop-color="#d532cd"/><stop offset="0.5208" stop-color="#eb40bf"/><stop offset="0.5417" stop-color="#ff4eb1"/><stop offset="0.5625" stop-color="#ff56a9"/><stop offset="0.6042" stop-color="#ff56a9"/><stop offset="0.625" stop-color="#ff50af"/><stop offset="0.6458" stop-color="#f546b9"/><stop offset="0.6667" stop-color="#e53cc3"/><stop offset="0.6875" stop-color="#cf2ed1"/><stop offset="0.7083" stop-color="#a010ef"/><stop offset="0.7292" stop-color="#7100ff"/><stop offset="0.75" stop-color="#4200ff"/><stop offset="0.7708" stop-color="#1400ff"/><stop offset="0.7917" stop-color="#0000e8"/><stop offset="0.8125" stop-color="#0000d4"/><stop offset="0.8333" stop-color="#0000bc"/><stop offset="0.8542" stop-color="#0000ac"/><stop offset="0.875" stop-color="#0000a0"/><stop offset="0.8958" stop-color="#00009c" stop-opacity="0.89"/><stop offset="0.9167" stop-color="#0000a0" stop-opacity="0.71"/><stop offset="0.9375" stop-color="#00009c" stop-opacity="0.53"/><stop offset="0.9583" stop-color="#00009c" stop-opacity="0.36"/><stop offset="0.9792" stop-color="#00009c" stop-opacity="0.18"/><stop offset="1" stop-color="#000098" stop-opacity="0"/></linearGradient>
<linearGradient id="g67" gradientUnits="userSpaceOnUse" x1="0" y1="819.30" x2="0" y2="867.30"><stop offset="0" stop-color="#000098" stop-opacity="0"/><stop offset="0.02083" stop-color="#00009c" stop-opacity="0.06"/><stop offset="0.04167" stop-color="#0000a0" stop-opacity="0.12"/><stop offset="0.0625" stop-color="#0000a4" stop-opacity="0.18"/><stop offset="0.08333" stop-color="#0000a8" stop-opacity="0.24"/><stop offset="0.1042" stop-color="#0000ac" stop-opacity="0.31"/><stop offset="0.125" stop-color="#0000b4" stop-opacity="0.38"/><stop offset="0.1458" stop-color="#0000b8" stop-opacity="0.45"/><stop offset="0.1667" stop-color="#0000bc" stop-opacity="0.52"/><stop offset="0.1875" stop-color="#0000c0" stop-opacity="0.61"/><stop offset="0.2083" stop-color="#0000c8" stop-opacity="0.75"/><stop offset="0.2292" stop-color="#0000cc" stop-opacity="0.88"/><stop offset="0.25" stop-color="#0000d4"/><stop offset="0.2708" stop-color="#0000d8"/><stop offset="0.2917" stop-color="#0000e4"/><stop offset="0.3125" stop-color="#0000f4"/><stop offset="0.3333" stop-color="#0400ff"/><stop offset="0.3542" stop-color="#0d00ff"/><stop offset="0.375" stop-color="#1700ff"/><stop offset="0.3958" stop-color="#3c00ff"/><stop offset="0.4167" stop-color="#6e00ff"/><stop offset="0.4375" stop-color="#a010ef"/><stop offset="0.4583" stop-color="#d230cf"/><stop offset="0.4792" stop-color="#ff54ab"/><stop offset="0.5" stop-color="#ff6897"/><stop offset="0.5208" stop-color="#ff7887"/><stop offset="0.5417" stop-color="#ff8a75"/><stop offset="0.5625" stop-color="#ff926d"/><stop offset="0.6042" stop-color="#ff926d"/><stop offset="0.625" stop-color="#ff8c73"/><stop offset="0.6458" stop-color="#ff7e81"/><stop offset="0.6667" stop-color="#ff728d"/><stop offset="0.6875" stop-color="#ff629d"/><stop offset="0.7083" stop-color="#e53cc3"/><stop offset="0.7292" stop-color="#ad18e7"/><stop offset="0.75" stop-color="#7400ff"/><stop offset="0.7708" stop-color="#3c00ff"/><stop offset="0.7917" stop-color="#0d00ff"/><stop offset="0.8125" stop-color="#0000f4"/><stop offset="0.8333" stop-color="#0000d8"/><stop offset="0.8542" stop-color="#0000c0"/><stop offset="0.875" stop-color="#0000b0"/><stop offset="0.8958" stop-color="#0000a8" stop-opacity="0.89"/><stop offset="0.9167" stop-color="#0000a8" stop-opacity="0.71"/><stop offset="0.9375" stop-color="#0000a4" stop-opacity="0.53"/><stop offset="0.9583" stop-color="#0000a0" stop-opacity="0.36"/><stop offset="0.9792" stop-color="#00009c" stop-opacity="0.18"/><stop offset="1" stop-color="#000098" stop-opacity="0"/></linearGradient>
<linearGradient id="g68" gradientUnits="userSpaceOnUse" x1="0" y1="819.30" x2="0" y2="867.30"><stop offset="0" stop-color="#000098" stop-opacity="0"/><stop offset="0.02083" stop-color="#00009c" stop-opacity="0.06"/><stop offset="0.04167" stop-color="#0000a4" stop-opacity="0.12"/><stop offset="0.0625" stop-color="#0000ac" stop-opacity="0.18"/><stop offset="0.08333" stop-color="#0000b0" stop-opacity="0.24"/><stop offset="0.1042" stop-color="#0000b8" stop-opacity="0.31"/><stop offset="0.125" stop-color="#0000c0" stop-opacity="0.38"/><stop offset="0.1458" stop-color="#0000c8" stop-opacity="0.45"/><stop offset="0.1667" stop-color="#0000d0" stop-opacity="0.52"/><stop offset="0.1875" stop-color="#0000d8" stop-opacity="0.61"/><stop offset="0.2083" stop-color="#0000e0" stop-opacity="0.75"/><stop offset="0.2292" stop-color="#0000ec" stop-opacity="0.88"/><stop offset="0.25" stop-color="#0000f4"/><stop offset="0.2708" stop-color="#0100ff"/><stop offset="0.2917" stop-color="#1000ff"/><stop offset="0.3125" stop-color="#2300ff"/><stop offset="0.3333" stop-color="#3600ff"/><stop offset="0.3542" stop-color="#4900ff"/><stop offset="0.375" stop-color="#5800ff"/><stop offset="0.3958" stop-color="#9106f9"/><stop offset="0.4167" stop-color="#d834cb"/><stop offset="0.4375" stop-color="#ff629d"/><stop offset="0.4583" stop-color="#ff926d"/><stop offset="0.4792" stop-color="#ffc43b"/><stop offset="0.5" stop-color="#ffde21"/><stop offset="0.5208" stop-color="#fff609"/><stop offset="0.5417" stop-color="#ffff5c"/><stop offset="0.5625" stop-color="#ffffa7"/><stop offset="0.6042" stop-color="#ffffa7"/><stop offset="0.625" stop-color="#ffff75"/><stop offset="0.6458" stop-color="#ffff05"/><stop offset="0.6667" stop-color="#ffee11"/><stop offset="0.6875" stop-color="#ffd629"/><stop offset="0.7083" stop-color="#ffa25d"/><stop offset="0.7292" stop-color="#ff708f"/><stop offset="0.75" stop-color="#e53cc3"/><stop offset="0.7708" stop-color="#9408f7"/><stop offset="0.7917" stop-color="#5200ff"/><stop offset="0.8125" stop-color="#3300ff"/><stop offset="0.8333" stop-color="#1400ff"/><stop offset="0.8542" stop-color="#0000f4"/><stop offset="0.875" stop-color="#0000d8"/><stop offset="0.8958" stop-color="#0000c8" stop-opacity="0.89"/><stop offset="0.9167" stop-color="#0000c0" stop-opacity="0.71"/><stop offset="0.9375" stop-color="#0000b8" stop-opacity="0.53"/><stop offset="0.9583" stop-color="#0000ac" stop-opacity="0.36"/><stop offset="0.9792" stop-color="#0000a4" stop-opacity="0.18"/><stop offset="1" stop-color="#000098" stop-opacity="0"/></linearGradient>
<linearGradient id="g69" gradientUnits="userSpaceOnUse" x1="0" y1="819.30" x2="0" y2="867.30"><stop offset="0" stop-color="#000098" stop-opacity="0"/><stop offset="0.02083" stop-color="#00009c" stop-opacity="0.06"/><stop offset="0.04167" stop-color="#00009c" stop-opacity="0.12"/><stop offset="0.0625" stop-color="#0000a0" stop-opacity="0.18"/><stop offset="0.08333" stop-color="#0000a0" stop-opacity="0.24"/><stop offset="0.1042" stop-color="#0000a4" stop-opacity="0.31"/><stop offset="0.125" stop-color="#0000a8" stop-opacity="0.38"/><stop offset="0.1458" stop-color="#0000ac" stop-opacity="0.45"/><stop offset="0.1667" stop-color="#0000ac" stop-opacity="0.52"/><stop offset="0.1875" stop-color="#0000b0" stop-opacity="0.61"/><stop offset="0.2083" stop-color="#0000b0" stop-opacity="0.75"/><stop offset="0.2292" stop-color="#0000b4" stop-opacity="0.88"/><stop offset="0.25" stop-color="#0000b4"/><stop offset="0.2708" stop-color="#0000b4"/><stop offset="0.2917" stop-color="#0000bc"/><stop offset="0.3125" stop-color="#0000c4"/><stop offset="0.3333" stop-color="#0000cc"/><stop offset="0.3542" stop-color="#0000d0"/><stop offset="0.375" stop-color="#0000d4"/><stop offset="0.3958" stop-color="#0000ec"/><stop offset="0.4167" stop-color="#1000ff"/><stop offset="0.4375" stop-color="#2d00ff"/><stop offset="0.4583" stop-color="#4c00ff"/><stop offset="0.4792" stop-color="#6e00ff"/><stop offset="0.5" stop-color="#8400ff"/><stop offset="0.5208" stop-color="#9408f7"/><stop offset="0.5417" stop-color="#a614eb"/><stop offset="0.5625" stop-color="#b01ae5"/><stop offset="0.6042" stop-color="#b01ae5"/><stop offset="0.625" stop-color="#aa16e9"/><stop offset="0.6458" stop-color="#9a0cf3"/><stop offset="0.6667" stop-color="#8d04fb"/><stop offset="0.6875" stop-color="#7e00ff"/><stop offset="0.7083" stop-color="#5800ff"/><stop offset="0.7292" stop-color="#3600ff"/><stop offset="0.75" stop-color="#1000ff"/><stop offset="0.7708" stop-color="#0000e4"/><stop offset="0.7917" stop-color="#0000c0"/><stop offset="0.8125" stop-color="#0000b0"/><stop offset="0.8333" stop-color="#0000a0"/><stop offset="0.8542" stop-color="#000094"/><stop offset="0.875" stop-color="#000090"/><stop offset="0.8958" stop-color="#000090" stop-opacity="0.89"/><stop offset="0.9167" stop-color="#000094" stop-opacity="0.71"/><stop offset="0.9375" stop-color="#000094" stop-opacity="0.53"/><stop offset="0.9583" stop-color="#000098" stop-opacity="0.36"/><stop offset="0.9792" stop-color="#000098" stop-opacity="0.18"/><stop offset="1" stop-color="#000098" stop-opacity="0"/></linearGradient>
<linearGradient id="g70" gradientUnits="userSpaceOnUse" x1="0" y1="819.30" x2="0" y2="867.30"><stop offset="0" stop-color="#000098" stop-opacity="0"/><stop offset="0.02083" stop-color="#000098" stop-opacity="0.06"/><stop offset="0.04167" stop-color="#00009c" stop-opacity="0.12"/><stop offset="0.0625" stop-color="#00009c" stop-opacity="0.18"/><stop offset="0.08333" stop-color="#0000a0" stop-opacity="0.24"/><stop offset="0.1042" stop-color="#0000a0" stop-opacity="0.31"/><stop offset="0.125" stop-color="#0000a4" stop-opacity="0.38"/><stop offset="0.1458" stop-color="#0000a8" stop-opacity="0.45"/><stop offset="0.1667" stop-color="#0000a8" stop-opacity="0.52"/><stop offset="0.1875" stop-color="#0000ac" stop-opacity="0.61"/><stop offset="0.2083" stop-color="#0000ac" stop-opacity="0.75"/><stop offset="0.2292" stop-color="#0000ac" stop-opacity="0.88"/><stop offset="0.25" stop-color="#0000ac"/><stop offset="0.2708" stop-color="#0000ac"/><stop offset="0.2917" stop-color="#0000b0"/><stop offset="0.3125" stop-color="#0000b8"/><stop offset="0.3333" stop-color="#0000bc"/><stop offset="0.3542" stop-color="#0000bc"/><stop offset="0.375" stop-color="#0000c0"/><stop offset="0.3958" stop-color="#0000d4"/><stop offset="0.4167" stop-color="#0000f4"/><stop offset="0.4375" stop-color="#1000ff"/><stop offset="0.4583" stop-color="#2900ff"/><stop offset="0.4792" stop-color="#4900ff"/><stop offset="0.5" stop-color="#5800ff"/><stop offset="0.5208" stop-color="#6800ff"/><stop offset="0.5417" stop-color="#7800ff"/><stop offset="0.5625" stop-color="#8100ff"/><stop offset="0.6042" stop-color="#8100ff"/><stop offset="0.625" stop-color="#7b00ff"/><stop offset="0.6458" stop-color="#6e00ff"/><stop offset="0.6667" stop-color="#6200ff"/><stop offset="0.6875" stop-color="#5500ff"/><stop offset="0.7083" stop-color="#3600ff"/><stop offset="0.7292" stop-color="#1700ff"/><stop offset="0.75" stop-color="#0000f4"/><stop offset="0.7708" stop-color="#0000cc"/><stop offset="0.7917" stop-color="#0000ac"/><stop offset="0.8125" stop-color="#0000a0"/><stop offset="0.8333" stop-color="#000094"/><stop offset="0.8542" stop-color="#000088"/><stop offset="0.875" stop-color="#000084"/><stop offset="0.8958" stop-color="#000088" stop-opacity="0.89"/><stop offset="0.9167" stop-color="#000090" stop-opacity="0.71"/><stop offset="0.9375" stop-color="#000090" stop-opacity="0.53"/><stop offset="0.9583" stop-color="#000094" stop-opacity="0.36"/><stop offset="0.9792" stop-color="#000098" stop-opacity="0.18"/><stop offset="1" stop-color="#000098" stop-opacity="0"/></linearGradient>
<linearGradient id="g71" gradientUnits="userSpaceOnUse" x1="0" y1="819.30" x2="0" y2="867.30"><stop offset="0" stop-color="#000098" stop-opacity="0"/><stop offset="0.02083" stop-color="#00009c" stop-opacity="0.06"/><stop offset="0.04167" stop-color="#0000a0" stop-opacity="0.12"/><stop offset="0.0625" stop-color="#0000a8" stop-opacity="0.18"/><stop offset="0.08333" stop-color="#0000ac" stop-opacity="0.24"/><stop offset="0.1042" stop-color="#0000b4" stop-opacity="0.31"/><stop offset="0.125" stop-color="#0000b8" stop-opacity="0.38"/><stop offset="0.1458" stop-color="#0000c0" stop-opacity="0.45"/><stop offset="0.1667" stop-color="#0000c4" stop-opacity="0.52"/><stop offset="0.1875" stop-color="#0000cc" stop-opacity="0.61"/><stop offset="0.2083" stop-color="#0000d4" stop-opacity="0.75"/><stop offset="0.2292" stop-color="#0000d8" stop-opacity="0.88"/><stop offset="0.25" stop-color="#0000e0"/><stop offset="0.2708" stop-color="#0000e8"/><stop offset="0.2917" stop-color="#0000f8"/><stop offset="0.3125" stop-color="#0a00ff"/><stop offset="0.3333" stop-color="#1a00ff"/><stop offset="0.3542" stop-color="#2600ff"/><stop offset="0.375" stop-color="#3600ff"/><stop offset="0.3958" stop-color="#6200ff"/><stop offset="0.4167" stop-color="#9d0ef1"/><stop offset="0.4375" stop-color="#d834cb"/><stop offset="0.4583" stop-color="#ff5ca3"/><stop offset="0.4792" stop-color="#ff8679"/><stop offset="0.5" stop-color="#ff9c63"/><stop offset="0.5208" stop-color="#ffb04f"/><stop offset="0.5417" stop-color="#ffc43b"/><stop offset="0.5625" stop-color="#ffce31"/><stop offset="0.6042" stop-color="#ffce31"/><stop offset="0.625" stop-color="#ffc837"/><stop offset="0.6458" stop-color="#ffb847"/><stop offset="0.6667" stop-color="#ffa857"/><stop offset="0.6875" stop-color="#ff9669"/><stop offset="0.7083" stop-color="#ff6a95"/><stop offset="0.7292" stop-color="#e83ec1"/><stop offset="0.75" stop-color="#a614eb"/><stop offset="0.7708" stop-color="#6200ff"/><stop offset="0.7917" stop-color="#2d00ff"/><stop offset="0.8125" stop-color="#1400ff"/><stop offset="0.8333" stop-color="#0000f8"/><stop offset="0.8542" stop-color="#0000d8"/><stop offset="0.875" stop-color="#0000c4"/><stop offset="0.8958" stop-color="#0000b8" stop-opacity="0.89"/><stop offset="0.9167" stop-color="#0000b4" stop-opacity="0.71"/><stop offset="0.9375" stop-color="#0000ac" stop-opacity="0.53"/><stop offset="0.9583" stop-color="#0000a8" stop-opacity="0.36"/><stop offset="0.9792" stop-color="#0000a0" stop-opacity="0.18"/><stop offset="1" stop-color="#000098" stop-opacity="0"/></linearGradient>
<linearGradient id="g72" gradientUnits="userSpaceOnUse" x1="0" y1="819.30" x2="0" y2="867.30"><stop offset="0" stop-color="#000098" stop-opacity="0"/><stop offset="0.02083" stop-color="#00009c" stop-opacity="0.06"/><stop offset="0.04167" stop-color="#00009c" stop-opacity="0.12"/><stop offset="0.0625" stop-color="#0000a0" stop-opacity="0.18"/><stop offset="0.08333" stop-color="#0000a4" stop-opacity="0.24"/><stop offset="0.1042" stop-color="#0000a8" stop-opacity="0.31"/><stop offset="0.125" stop-color="#0000ac" stop-opacity="0.38"/><stop offset="0.1458" stop-color="#0000ac" stop-opacity="0.45"/><stop offset="0.1667" stop-color="#0000b0" stop-opacity="0.52"/><stop offset="0.1875" stop-color="#0000b4" stop-opacity="0.61"/><stop offset="0.2083" stop-color="#0000b8" stop-opacity="0.75"/><stop offset="0.2292" stop-color="#0000b8" stop-opacity="0.88"/><stop offset="0.25" stop-color="#0000bc"/><stop offset="0.2708" stop-color="#0000bc"/><stop offset="0.2917" stop-color="#0000c4"/><stop offset="0.3125" stop-color="#0000d0"/><stop offset="0.3333" stop-color="#0000d8"/><stop offset="0.3542" stop-color="#0000e0"/><stop offset="0.375" stop-color="#0000e4"/><stop offset="0.3958" stop-color="#0400ff"/><stop offset="0.4167" stop-color="#2600ff"/><stop offset="0.4375" stop-color="#4900ff"/><stop offset="0.4583" stop-color="#6e00ff"/><stop offset="0.4792" stop-color="#970af5"/><stop offset="0.5" stop-color="#ad18e7"/><stop offset="0.5208" stop-color="#bf24db"/><stop offset="0.5417" stop-color="#d532cd"/><stop offset="0.5625" stop-color="#df38c7"/><stop offset="0.6042" stop-color="#df38c7"/><stop offset="0.625" stop-color="#d834cb"/><stop offset="0.6458" stop-color="#c92ad5"/><stop offset="0.6667" stop-color="#b920df"/><stop offset="0.6875" stop-color="#a614eb"/><stop offset="0.7083" stop-color="#7b00ff"/><stop offset="0.7292" stop-color="#5200ff"/><stop offset="0.75" stop-color="#2900ff"/><stop offset="0.7708" stop-color="#0100ff"/><stop offset="0.7917" stop-color="#0000d4"/><stop offset="0.8125" stop-color="#0000c0"/><stop offset="0.8333" stop-color="#0000b0"/><stop offset="0.8542" stop-color="#0000a0"/><stop offset="0.875" stop-color="#000098"/><stop offset="0.8958" stop-color="#000094" stop-opacity="0.89"/><stop offset="0.9167" stop-color="#000098" stop-opacity="0.71"/><stop offset="0.9375" stop-color="#000098" stop-opacity="0.53"/><stop offset="0.9583" stop-color="#000098" stop-opacity="0.36"/><stop offset="0.9792" stop-color="#000098" stop-opacity="0.18"/><stop offset="1" stop-color="#000098" stop-opacity="0"/></linearGradient>
<linearGradient id="g73" gradientUnits="userSpaceOnUse" x1="0" y1="819.30" x2="0" y2="867.30"><stop offset="0" stop-color="#000098" stop-opacity="0"/><stop offset="0.02083" stop-color="#00009c" stop-opacity="0.06"/><stop offset="0.04167" stop-color="#0000a0" stop-opacity="0.12"/><stop offset="0.0625" stop-color="#0000a4" stop-opacity="0.18"/><stop offset="0.08333" stop-color="#0000a4" stop-opacity="0.24"/><stop offset="0.1042" stop-color="#0000ac" stop-opacity="0.31"/><stop offset="0.125" stop-color="#0000b0" stop-opacity="0.38"/><stop offset="0.1458" stop-color="#0000b4" stop-opacity="0.45"/><stop offset="0.1667" stop-color="#0000b8" stop-opacity="0.52"/><stop offset="0.1875" stop-color="#0000bc" stop-opacity="0.61"/><stop offset="0.2083" stop-color="#0000c0" stop-opacity="0.75"/><stop offset="0.2292" stop-color="#0000c4" stop-opacity="0.88"/><stop offset="0.25" stop-color="#0000c8"/><stop offset="0.2708" stop-color="#0000cc"/><stop offset="0.2917" stop-color="#0000d4"/><stop offset="0.3125" stop-color="#0000e4"/><stop offset="0.3333" stop-color="#0000f0"/><stop offset="0.3542" stop-color="#0000f8"/><stop offset="0.375" stop-color="#0100ff"/><stop offset="0.3958" stop-color="#2000ff"/><stop offset="0.4167" stop-color="#4900ff"/><stop offset="0.4375" stop-color="#7400ff"/><stop offset="0.4583" stop-color="#a010ef"/><stop offset="0.4792" stop-color="#cf2ed1"/><stop offset="0.5" stop-color="#eb40bf"/><stop offset="0.5208" stop-color="#ff4eb1"/><stop offset="0.5417" stop-color="#ff5ea1"/><stop offset="0.5625" stop-color="#ff6699"/><stop offset="0.6042" stop-color="#ff6699"/><stop offset="0.625" stop-color="#ff609f"/><stop offset="0.6458" stop-color="#ff54ab"/><stop offset="0.6667" stop-color="#f848b7"/><stop offset="0.6875" stop-color="#e23ac5"/><stop offset="0.7083" stop-color="#b01ae5"/><stop offset="0.7292" stop-color="#8100ff"/><stop offset="0.75" stop-color="#4f00ff"/><stop offset="0.7708" stop-color="#1d00ff"/><stop offset="0.7917" stop-color="#0000f0"/><stop offset="0.8125" stop-color="#0000dc"/><stop offset="0.8333" stop-color="#0000c4"/><stop offset="0.8542" stop-color="#0000b0"/><stop offset="0.875" stop-color="#0000a4"/><stop offset="0.8958" stop-color="#0000a0" stop-opacity="0.89"/><stop offset="0.9167" stop-color="#0000a0" stop-opacity="0.71"/><stop offset="0.9375" stop-color="#0000a0" stop-opacity="0.53"/><stop offset="0.9583" stop-color="#00009c" stop-opacity="0.36"/><stop offset="0.9792" stop-color="#00009c" stop-opacity="0.18"/><stop offset="1" stop-color="#000098" stop-opacity="0"/></linearGradient>
<linearGradient id="g74" gradientUnits="userSpaceOnUse" x1="0" y1="819.30" x2="0" y2="867.30"><stop offset="0" stop-color="#000098" stop-opacity="0"/><stop offset="0.02083" stop-color="#000098" stop-opacity="0.06"/><stop offset="0.04167" stop-color="#00009c" stop-opacity="0.12"/><stop offset="0.0625" stop-color="#00009c" stop-opacity="0.18"/><stop offset="0.08333" stop-color="#00009c" stop-opacity="0.24"/><stop offset="0.1042" stop-color="#0000a0" stop-opacity="0.31"/><stop offset="0.125" stop-color="#0000a0" stop-opacity="0.38"/><stop offset="0.1458" stop-color="#0000a4" stop-opacity="0.45"/><stop offset="0.1667" stop-color="#0000a4" stop-opacity="0.52"/><stop offset="0.1875" stop-color="#0000a8" stop-opacity="0.61"/><stop offset="0.2083" stop-color="#0000a4" stop-opacity="0.75"/><stop offset="0.2292" stop-color="#0000a4" stop-opacity="0.88"/><stop offset="0.25" stop-color="#0000a4"/><stop offset="0.2708" stop-color="#0000a4"/><stop offset="0.2917" stop-color="#0000a8"/><stop offset="0.3125" stop-color="#0000ac"/><stop offset="0.375" stop-color="#0000ac"/><stop offset="0.3958" stop-color="#0000bc"/><stop offset="0.4167" stop-color="#0000d4"/><stop offset="0.4375" stop-color="#0000f0"/><stop offset="0.4583" stop-color="#0a00ff"/><stop offset="0.4792" stop-color="#2300ff"/><stop offset="0.5" stop-color="#3000ff"/><stop offset="0.5208" stop-color="#3c00ff"/><stop offset="0.5417" stop-color="#4c00ff"/><stop offset="0.5625" stop-color="#5200ff"/><stop offset="0.6042" stop-color="#5200ff"/><stop offset="0.625" stop-color="#4c00ff"/><stop offset="0.6458" stop-color="#4200ff"/><stop offset="0.6667" stop-color="#3900ff"/><stop offset="0.6875" stop-color="#2d00ff"/><stop offset="0.7083" stop-color="#1000ff"/><stop offset="0.7292" stop-color="#0000f4"/><stop offset="0.75" stop-color="#0000d4"/><stop offset="0.7708" stop-color="#0000b4"/><stop offset="0.7917" stop-color="#000098"/><stop offset="0.8125" stop-color="#000090"/><stop offset="0.8333" stop-color="#000084"/><stop offset="0.8542" stop-color="#00007c"/><stop offset="0.875" stop-color="#00007c"/><stop offset="0.8958" stop-color="#000080" stop-opacity="0.89"/><stop offset="0.9167" stop-color="#000088" stop-opacity="0.71"/><stop offset="0.9375" stop-color="#00008c" stop-opacity="0.53"/><stop offset="0.9583" stop-color="#000090" stop-opacity="0.36"/><stop offset="0.9792" stop-color="#000094" stop-opacity="0.18"/><stop offset="1" stop-color="#000098" stop-opacity="0"/></linearGradient>
<linearGradient id="g75" gradientUnits="userSpaceOnUse" x1="0" y1="819.30" x2="0" y2="867.30"><stop offset="0" stop-color="#000098" stop-opacity="0"/><stop offset="0.02083" stop-color="#000098" stop-opacity="0.06"/><stop offset="0.04167" stop-color="#00009c" stop-opacity="0.12"/><stop offset="0.0625" stop-color="#0000a0" stop-opacity="0.18"/><stop offset="0.08333" stop-color="#0000a0" stop-opacity="0.24"/><stop offset="0.1042" stop-color="#0000a4" stop-opacity="0.31"/><stop offset="0.125" stop-color="#0000a4" stop-opacity="0.38"/><stop offset="0.1458" stop-color="#0000a8" stop-opacity="0.45"/><stop offset="0.1667" stop-color="#0000ac" stop-opacity="0.52"/><stop offset="0.1875" stop-color="#0000ac" stop-opacity="0.61"/><stop offset="0.2083" stop-color="#0000ac" stop-opacity="0.75"/><stop offset="0.2292" stop-color="#0000b0" stop-opacity="0.88"/><stop offset="0.25" stop-color="#0000b0"/><stop offset="0.2708" stop-color="#0000b0"/><stop offset="0.2917" stop-color="#0000b4"/><stop offset="0.3125" stop-color="#0000bc"/><stop offset="0.3333" stop-color="#0000c4"/><stop offset="0.3542" stop-color="#0000c8"/><stop offset="0.375" stop-color="#0000c8"/><stop offset="0.3958" stop-color="#0000e0"/><stop offset="0.4167" stop-color="#0400ff"/><stop offset="0.4375" stop-color="#1d00ff"/><stop offset="0.4583" stop-color="#3c00ff"/><stop offset="0.4792" stop-color="#5b00ff"/><stop offset="0.5" stop-color="#6e00ff"/><stop offset="0.5208" stop-color="#7e00ff"/><stop offset="0.5417" stop-color="#9106f9"/><stop offset="0.5625" stop-color="#970af5"/><stop offset="0.6042" stop-color="#970af5"/><stop offset="0.625" stop-color="#9106f9"/><stop offset="0.6458" stop-color="#8400ff"/><stop offset="0.6667" stop-color="#7800ff"/><stop offset="0.6875" stop-color="#6800ff"/><stop offset="0.7083" stop-color="#4600ff"/><stop offset="0.7292" stop-color="#2600ff"/><stop offset="0.75" stop-color="#0400ff"/><stop offset="0.7708" stop-color="#0000d8"/><stop offset="0.7917" stop-color="#0000b8"/><stop offset="0.8125" stop-color="#0000a8"/><stop offset="0.8333" stop-color="#000098"/><stop offset="0.8542" stop-color="#00008c"/><stop offset="0.875" stop-color="#00008c"/><stop offset="0.8958" stop-color="#00008c" stop-opacity="0.89"/><stop offset="0.9167" stop-color="#000090" stop-opacity="0.71"/><stop offset="0.9375" stop-color="#000094" stop-opacity="0.53"/><stop offset="0.9583" stop-color="#000094" stop-opacity="0.36"/><stop offset="0.9792" stop-color="#000098" stop-opacity="0.18"/><stop offset="1" stop-color="#000098" stop-opacity="0"/></linearGradient>
<linearGradient id="g76" gradientUnits="userSpaceOnUse" x1="0" y1="819.30" x2="0" y2="867.30"><stop offset="0" stop-color="#000098" stop-opacity="0"/><stop offset="0.02083" stop-color="#000098" stop-opacity="0.06"/><stop offset="0.04167" stop-color="#00009c" stop-opacity="0.12"/><stop offset="0.0625" stop-color="#00009c" stop-opacity="0.18"/><stop offset="0.08333" stop-color="#0000a0" stop-opacity="0.24"/><stop offset="0.1042" stop-color="#0000a0" stop-opacity="0.31"/><stop offset="0.125" stop-color="#0000a4" stop-opacity="0.38"/><stop offset="0.1458" stop-color="#0000a4" stop-opacity="0.45"/><stop offset="0.1667" stop-color="#0000a8" stop-opacity="0.52"/><stop offset="0.1875" stop-color="#0000a8" stop-opacity="0.61"/><stop offset="0.2083" stop-color="#0000a8" stop-opacity="0.75"/><stop offset="0.2292" stop-color="#0000a8" stop-opacity="0.88"/><stop offset="0.25" stop-color="#0000a8"/><stop offset="0.2708" stop-color="#0000a8"/><stop offset="0.2917" stop-color="#0000ac"/><stop offset="0.3125" stop-color="#0000b0"/><stop offset="0.3333" stop-color="#0000b4"/><stop offset="0.3542" stop-color="#0000b4"/><stop offset="0.375" stop-color="#0000b8"/><stop offset="0.3958" stop-color="#0000c8"/><stop offset="0.4167" stop-color="#0000e4"/><stop offset="0.4375" stop-color="#0100ff"/><stop offset="0.4583" stop-color="#1a00ff"/><stop offset="0.4792" stop-color="#3600ff"/><stop offset="0.5" stop-color="#4600ff"/><stop offset="0.5208" stop-color="#5200ff"/><stop offset="0.5417" stop-color="#6200ff"/><stop offset="0.5625" stop-color="#6800ff"/><stop offset="0.6042" stop-color="#6800ff"/><stop offset="0.625" stop-color="#6500ff"/><stop offset="0.6458" stop-color="#5800ff"/><stop offset="0.6667" stop-color="#4f00ff"/><stop offset="0.6875" stop-color="#3f00ff"/><stop offset="0.7083" stop-color="#2300ff"/><stop offset="0.7292" stop-color="#0700ff"/><stop offset="0.75" stop-color="#0000e4"/><stop offset="0.7708" stop-color="#0000c0"/><stop offset="0.7917" stop-color="#0000a4"/><stop offset="0.8125" stop-color="#000098"/><stop offset="0.8333" stop-color="#00008c"/><stop offset="0.8542" stop-color="#000084"/><stop offset="0.875" stop-color="#000080"/><stop offset="0.8958" stop-color="#000084" stop-opacity="0.89"/><stop offset="0.9167" stop-color="#00008c" stop-opacity="0.71"/><stop offset="0.9375" stop-color="#000090" stop-opacity="0.53"/><stop offset="0.9583" stop-color="#000094" stop-opacity="0.36"/><stop offset="0.9792" stop-color="#000098" stop-opacity="0.18"/><stop offset="1" stop-color="#000098" stop-opacity="0"/></linearGradient>
<linearGradient id="g77" gradientUnits="userSpaceOnUse" x1="0" y1="819.30" x2="0" y2="867.30"><stop offset="0" stop-color="#000098" stop-opacity="0"/><stop offset="0.02083" stop-color="#00009c" stop-opacity="0.06"/><stop offset="0.04167" stop-color="#00009c" stop-opacity="0.12"/><stop offset="0.0625" stop-color="#0000a0" stop-opacity="0.18"/><stop offset="0.08333" stop-color="#0000a4" stop-opacity="0.24"/><stop offset="0.1042" stop-color="#0000a4" stop-opacity="0.31"/><stop offset="0.125" stop-color="#0000a8" stop-opacity="0.38"/><stop offset="0.1458" stop-color="#0000ac" stop-opacity="0.45"/><stop offset="0.1667" stop-color="#0000b0" stop-opacity="0.52"/><stop offset="0.1875" stop-color="#0000b0" stop-opacity="0.61"/><stop offset="0.2083" stop-color="#0000b4" stop-opacity="0.75"/><stop offset="0.2292" stop-color="#0000b4" stop-opacity="0.88"/><stop offset="0.25" stop-color="#0000b8"/><stop offset="0.2708" stop-color="#0000b8"/><stop offset="0.2917" stop-color="#0000c0"/><stop offset="0.3125" stop-color="#0000c8"/><stop offset="0.3333" stop-color="#0000d0"/><stop offset="0.3542" stop-color="#0000d8"/><stop offset="0.375" stop-color="#0000dc"/><stop offset="0.3958" stop-color="#0000f8"/><stop offset="0.4167" stop-color="#1a00ff"/><stop offset="0.4375" stop-color="#3c00ff"/><stop offset="0.4583" stop-color="#5f00ff"/><stop offset="0.4792" stop-color="#8400ff"/><stop offset="0.5" stop-color="#970af5"/><stop offset="0.5208" stop-color="#aa16e9"/><stop offset="0.5417" stop-color="#bc22dd"/><stop offset="0.5625" stop-color="#c92ad5"/><stop offset="0.6042" stop-color="#c92ad5"/><stop offset="0.625" stop-color="#bf24db"/><stop offset="0.6458" stop-color="#b31ce3"/><stop offset="0.6667" stop-color="#a312ed"/><stop offset="0.6875" stop-color="#9106f9"/><stop offset="0.7083" stop-color="#6b00ff"/><stop offset="0.7292" stop-color="#4200ff"/><stop offset="0.75" stop-color="#1d00ff"/><stop offset="0.7708" stop-color="#0000f0"/><stop offset="0.7917" stop-color="#0000cc"/><stop offset="0.8125" stop-color="#0000b8"/><stop offset="0.8333" stop-color="#0000a8"/><stop offset="0.8542" stop-color="#000098"/><stop offset="0.875" stop-color="#000094"/><stop offset="0.8958" stop-color="#000090" stop-opacity="0.89"/><stop offset="0.9167" stop-color="#000098" stop-opacity="0.71"/><stop offset="0.9375" stop-color="#000098" stop-opacity="0.53"/><stop offset="0.9583" stop-color="#000098" stop-opacity="0.36"/><stop offset="0.9792" stop-color="#000098" stop-opacity="0.18"/><stop offset="1" stop-color="#000098" stop-opacity="0"/></linearGradient>
<linearGradient id="g78" gradientUnits="userSpaceOnUse" x1="0" y1="819.30" x2="0" y2="867.30"><stop offset="0" stop-color="#000098" stop-opacity="0"/><stop offset="0.02083" stop-color="#00009c" stop-opacity="0.06"/><stop offset="0.04167" stop-color="#00009c" stop-opacity="0.12"/><stop offset="0.0625" stop-color="#0000a0" stop-opacity="0.18"/><stop offset="0.08333" stop-color="#0000a4" stop-opacity="0.24"/><stop offset="0.1042" stop-color="#0000a8" stop-opacity="0.31"/><stop offset="0.125" stop-color="#0000ac" stop-opacity="0.38"/><stop offset="0.1458" stop-color="#0000b0" stop-opacity="0.45"/><stop offset="0.1667" stop-color="#0000b4" stop-opacity="0.52"/><stop offset="0.1875" stop-color="#0000b8" stop-opacity="0.61"/><stop offset="0.2083" stop-color="#0000b8" stop-opacity="0.75"/><stop offset="0.2292" stop-color="#0000bc" stop-opacity="0.88"/><stop offset="0.25" stop-color="#0000c0"/><stop offset="0.2708" stop-color="#0000c4"/><stop offset="0.2917" stop-color="#0000cc"/><stop offset="0.3125" stop-color="#0000d4"/><stop offset="0.3333" stop-color="#0000e0"/><stop offset="0.3542" stop-color="#0000e8"/><stop offset="0.375" stop-color="#0000f0"/><stop offset="0.3958" stop-color="#0d00ff"/><stop offset="0.4167" stop-color="#3300ff"/><stop offset="0.4375" stop-color="#5800ff"/><stop offset="0.4583" stop-color="#7e00ff"/><stop offset="0.4792" stop-color="#aa16e9"/><stop offset="0.5" stop-color="#bf24db"/><stop offset="0.5208" stop-color="#d532cd"/><stop offset="0.5417" stop-color="#eb40bf"/><stop offset="0.5625" stop-color="#f848b7"/><stop offset="0.6042" stop-color="#f848b7"/><stop offset="0.625" stop-color="#ee42bd"/><stop offset="0.6458" stop-color="#df38c7"/><stop offset="0.6667" stop-color="#cf2ed1"/><stop offset="0.6875" stop-color="#b920df"/><stop offset="0.7083" stop-color="#8d04fb"/><stop offset="0.7292" stop-color="#6200ff"/><stop offset="0.75" stop-color="#3600ff"/><stop offset="0.7708" stop-color="#0a00ff"/><stop offset="0.7917" stop-color="#0000e0"/><stop offset="0.8125" stop-color="#0000c8"/><stop offset="0.8333" stop-color="#0000b4"/><stop offset="0.8542" stop-color="#0000a4"/><stop offset="0.875" stop-color="#00009c"/><stop offset="0.8958" stop-color="#000098" stop-opacity="0.89"/><stop offset="0.9167" stop-color="#00009c" stop-opacity="0.71"/><stop offset="0.9375" stop-color="#00009c" stop-opacity="0.53"/><stop offset="0.9583" stop-color="#00009c" stop-opacity="0.36"/><stop offset="0.9792" stop-color="#00009c" stop-opacity="0.18"/><stop offset="1" stop-color="#000098" stop-opacity="0"/></linearGradient>
<linearGradient id="g79" gradientUnits="userSpaceOnUse" x1="0" y1="819.30" x2="0" y2="867.30"><stop offset="0" stop-color="#000098" stop-opacity="0"/><stop offset="0.02083" stop-color="#00009c" stop-opacity="0.06"/><stop offset="0.04167" stop-color="#0000a0" stop-opacity="0.12"/><stop offset="0.0625" stop-color="#0000a4" stop-opacity="0.18"/><stop offset="0.08333" stop-color="#0000a8" stop-opacity="0.24"/><stop offset="0.1042" stop-color="#0000ac" stop-opacity="0.31"/><stop offset="0.125" stop-color="#0000b0" stop-opacity="0.38"/><stop offset="0.1458" stop-color="#0000b4" stop-opacity="0.45"/><stop offset="0.1667" stop-color="#0000b8" stop-opacity="0.52"/><stop offset="0.1875" stop-color="#0000bc" stop-opacity="0.61"/><stop offset="0.2083" stop-color="#0000c0" stop-opacity="0.75"/><stop offset="0.2292" stop-color="#0000c4" stop-opacity="0.88"/><stop offset="0.25" stop-color="#0000c8"/><stop offset="0.2708" stop-color="#0000cc"/><stop offset="0.2917" stop-color="#0000d4"/><stop offset="0.3125" stop-color="#0000e4"/><stop offset="0.3333" stop-color="#0000f0"/><stop offset="0.3542" stop-color="#0000f8"/><stop offset="0.375" stop-color="#0400ff"/><stop offset="0.3958" stop-color="#2300ff"/><stop offset="0.4167" stop-color="#4c00ff"/><stop offset="0.4375" stop-color="#7800ff"/><stop offset="0.4583" stop-color="#a312ed"/><stop offset="0.4792" stop-color="#d532cd"/><stop offset="0.5" stop-color="#ee42bd"/><stop offset="0.5208" stop-color="#ff52ad"/><stop offset="0.5417" stop-color="#ff609f"/><stop offset="0.5625" stop-color="#ff6897"/><stop offset="0.6042" stop-color="#ff6897"/><stop offset="0.625" stop-color="#ff629d"/><stop offset="0.6458" stop-color="#ff58a7"/><stop offset="0.6667" stop-color="#fe4cb3"/><stop offset="0.6875" stop-color="#e83ec1"/><stop offset="0.7083" stop-color="#b31ce3"/><stop offset="0.7292" stop-color="#8400ff"/><stop offset="0.75" stop-color="#5200ff"/><stop offset="0.7708" stop-color="#2000ff"/><stop offset="0.7917" stop-color="#0000f4"/><stop offset="0.8125" stop-color="#0000dc"/><stop offset="0.8333" stop-color="#0000c4"/><stop offset="0.8542" stop-color="#0000b0"/><stop offset="0.875" stop-color="#0000a4"/><stop offset="0.8958" stop-color="#0000a0" stop-opacity="0.89"/><stop offset="0.9167" stop-color="#0000a0" stop-opacity="0.71"/><stop offset="0.9375" stop-color="#0000a0" stop-opacity="0.53"/><stop offset="0.9583" stop-color="#00009c" stop-opacity="0.36"/><stop offset="0.9792" stop-color="#00009c" stop-opacity="0.18"/><stop offset="1" stop-color="#000098" stop-opacity="0"/></linearGradient>
<linearGradient id="g80" gradientUnits="userSpaceOnUse" x1="0" y1="819.30" x2="0" y2="867.30"><stop offset="0" stop-color="#000098" stop-opacity="0"/><stop offset="0.02083" stop-color="#00009c" stop-opacity="0.06"/><stop offset="0.04167" stop-color="#0000a0" stop-opacity="0.12"/><stop offset="0.0625" stop-color="#0000a4" stop-opacity="0.18"/><stop offset="0.08333" stop-color="#0000ac" stop-opacity="0.24"/><stop offset="0.1042" stop-color="#0000b0" stop-opacity="0.31"/><stop offset="0.125" stop-color="#0000b4" stop-opacity="0.38"/><stop offset="0.1458" stop-color="#0000bc" stop-opacity="0.45"/><stop offset="0.1667" stop-color="#0000c0" stop-opacity="0.52"/><stop offset="0.1875" stop-color="#0000c8" stop-opacity="0.61"/><stop offset="0.2083" stop-color="#0000cc" stop-opacity="0.75"/><stop offset="0.2292" stop-color="#0000d4" stop-opacity="0.88"/><stop offset="0.25" stop-color="#0000d8"/><stop offset="0.2708" stop-color="#0000e0"/><stop offset="0.2917" stop-color="#0000f0"/><stop offset="0.3125" stop-color="#0100ff"/><stop offset="0.3333" stop-color="#1000ff"/><stop offset="0.3542" stop-color="#1a00ff"/><stop offset="0.375" stop-color="#2600ff"/><stop offset="0.3958" stop-color="#4f00ff"/><stop offset="0.4167" stop-color="#8400ff"/><stop offset="0.4375" stop-color="#bc22dd"/><stop offset="0.4583" stop-color="#f546b9"/><stop offset="0.4792" stop-color="#ff6c93"/><stop offset="0.5" stop-color="#ff827d"/><stop offset="0.5208" stop-color="#ff946b"/><stop offset="0.5417" stop-color="#ffa857"/><stop offset="0.5625" stop-color="#ffb04f"/><stop offset="0.6042" stop-color="#ffb04f"/><stop offset="0.625" stop-color="#ffaa55"/><stop offset="0.6458" stop-color="#ff9c63"/><stop offset="0.6667" stop-color="#ff8e71"/><stop offset="0.6875" stop-color="#ff7c83"/><stop offset="0.7083" stop-color="#ff54ab"/><stop offset="0.7292" stop-color="#cc2cd3"/><stop offset="0.75" stop-color="#8d04fb"/><stop offset="0.7708" stop-color="#4f00ff"/><stop offset="0.7917" stop-color="#1d00ff"/><stop offset="0.8125" stop-color="#0400ff"/><stop offset="0.8333" stop-color="#0000e8"/><stop offset="0.8542" stop-color="#0000cc"/><stop offset="0.875" stop-color="#0000bc"/><stop offset="0.8958" stop-color="#0000b0" stop-opacity="0.89"/><stop offset="0.9167" stop-color="#0000b0" stop-opacity="0.71"/><stop offset="0.9375" stop-color="#0000a8" stop-opacity="0.53"/><stop offset="0.9583" stop-color="#0000a4" stop-opacity="0.36"/><stop offset="0.9792" stop-color="#0000a0" stop-opacity="0.18"/><stop offset="1" stop-color="#000098" stop-opacity="0"/></linearGradient>
<linearGradient id="g81" gradientUnits="userSpaceOnUse" x1="0" y1="819.30" x2="0" y2="867.30"><stop offset="0" stop-color="#000098" stop-opacity="0"/><stop offset="0.02083" stop-color="#00009c" stop-opacity="0.06"/><stop offset="0.04167" stop-color="#0000a0" stop-opacity="0.12"/><stop offset="0.0625" stop-color="#0000a4" stop-opacity="0.18"/><stop offset="0.08333" stop-color="#0000a8" stop-opacity="0.24"/><stop offset="0.1042" stop-color="#0000b0" stop-opacity="0.31"/><stop offset="0.125" stop-color="#0000b4" stop-opacity="0.38"/><stop offset="0.1458" stop-color="#0000b8" stop-opacity="0.45"/><stop offset="0.1667" stop-color="#0000c0" stop-opacity="0.52"/><stop offset="0.1875" stop-color="#0000c4" stop-opacity="0.61"/><stop offset="0.2083" stop-color="#0000c8" stop-opacity="0.75"/><stop offset="0.2292" stop-color="#0000d0" stop-opacity="0.88"/><stop offset="0.25" stop-color="#0000d4"/><stop offset="0.2708" stop-color="#0000dc"/><stop offset="0.2917" stop-color="#0000e8"/><stop offset="0.3125" stop-color="#0000fc"/><stop offset="0.3333" stop-color="#0a00ff"/><stop offset="0.3542" stop-color="#1400ff"/><stop offset="0.375" stop-color="#2000ff"/><stop offset="0.3958" stop-color="#4600ff"/><stop offset="0.4167" stop-color="#7b00ff"/><stop offset="0.4375" stop-color="#ad18e7"/><stop offset="0.4583" stop-color="#e53cc3"/><stop offset="0.4792" stop-color="#ff609f"/><stop offset="0.5" stop-color="#ff748b"/><stop offset="0.5208" stop-color="#ff8679"/><stop offset="0.5417" stop-color="#ff9867"/><stop offset="0.5625" stop-color="#ffa25d"/><stop offset="0.6042" stop-color="#ffa25d"/><stop offset="0.625" stop-color="#ff9a65"/><stop offset="0.6458" stop-color="#ff8e71"/><stop offset="0.6667" stop-color="#ff807f"/><stop offset="0.6875" stop-color="#ff6e91"/><stop offset="0.7083" stop-color="#f848b7"/><stop offset="0.7292" stop-color="#bc22dd"/><stop offset="0.75" stop-color="#8100ff"/><stop offset="0.7708" stop-color="#4600ff"/><stop offset="0.7917" stop-color="#1400ff"/><stop offset="0.8125" stop-color="#0000fc"/><stop offset="0.8333" stop-color="#0000e0"/><stop offset="0.8542" stop-color="#0000c8"/><stop offset="0.875" stop-color="#0000b8"/><stop offset="0.8958" stop-color="#0000ac" stop-opacity="0.89"/><stop offset="0.9167" stop-color="#0000ac" stop-opacity="0.71"/><stop offset="0.9375" stop-color="#0000a8" stop-opacity="0.53"/><stop offset="0.9583" stop-color="#0000a4" stop-opacity="0.36"/><stop offset="0.9792" stop-color="#0000a0" stop-opacity="0.18"/><stop offset="1" stop-color="#000098" stop-opacity="0"/></linearGradient>
<linearGradient id="g82" gradientUnits="userSpaceOnUse" x1="0" y1="819.30" x2="0" y2="867.30"><stop offset="0" stop-color="#000098" stop-opacity="0"/><stop offset="0.02083" stop-color="#000098" stop-opacity="0.06"/><stop offset="0.04167" stop-color="#000098" stop-opacity="0.12"/><stop offset="0.0625" stop-color="#00009c" stop-opacity="0.18"/><stop offset="0.08333" stop-color="#00009c" stop-opacity="0.24"/><stop offset="0.1042" stop-color="#00009c" stop-opacity="0.31"/><stop offset="0.125" stop-color="#00009c" stop-opacity="0.38"/><stop offset="0.1458" stop-color="#0000a0" stop-opacity="0.45"/><stop offset="0.1667" stop-color="#0000a0" stop-opacity="0.52"/><stop offset="0.1875" stop-color="#0000a0" stop-opacity="0.61"/><stop offset="0.2083" stop-color="#00009c" stop-opacity="0.75"/><stop offset="0.2292" stop-color="#00009c" stop-opacity="0.88"/><stop offset="0.25" stop-color="#000098"/><stop offset="0.3333" stop-color="#000098"/><stop offset="0.3542" stop-color="#000094"/><stop offset="0.375" stop-color="#000090"/><stop offset="0.3958" stop-color="#000098"/><stop offset="0.4167" stop-color="#0000a8"/><stop offset="0.4375" stop-color="#0000b8"/><stop offset="0.4583" stop-color="#0000c8"/><stop offset="0.4792" stop-color="#0000e0"/><stop offset="0.5" stop-color="#0000ec"/><stop offset="0.5208" stop-color="#0000f8"/><stop offset="0.5417" stop-color="#0700ff"/><stop offset="0.5625" stop-color="#0a00ff"/><stop offset="0.6042" stop-color="#0a00ff"/><stop offset="0.625" stop-color="#0700ff"/><stop offset="0.6458" stop-color="#0100ff"/><stop offset="0.6667" stop-color="#0000f4"/><stop offset="0.6875" stop-color="#0000e8"/><stop offset="0.7083" stop-color="#0000d0"/><stop offset="0.7292" stop-color="#0000bc"/><stop offset="0.75" stop-color="#0000a4"/><stop offset="0.7708" stop-color="#00008c"/><stop offset="0.7917" stop-color="#00007c"/><stop offset="0.8125" stop-color="#000074"/><stop offset="0.8333" stop-color="#000070"/><stop offset="0.8542" stop-color="#00006c"/><stop offset="0.875" stop-color="#000070"/><stop offset="0.8958" stop-color="#000078" stop-opacity="0.89"/><stop offset="0.9167" stop-color="#000080" stop-opacity="0.71"/><stop offset="0.9375" stop-color="#000088" stop-opacity="0.53"/><stop offset="0.9583" stop-color="#00008c" stop-opacity="0.36"/><stop offset="0.9792" stop-color="#000094" stop-opacity="0.18"/><stop offset="1" stop-color="#000098" stop-opacity="0"/></linearGradient>
<linearGradient id="g83" gradientUnits="userSpaceOnUse" x1="0" y1="819.30" x2="0" y2="867.30"><stop offset="0" stop-color="#000098" stop-opacity="0"/><stop offset="0.02083" stop-color="#000098" stop-opacity="0.06"/><stop offset="0.04167" stop-color="#000098" stop-opacity="0.12"/><stop offset="0.0625" stop-color="#000098" stop-opacity="0.18"/><stop offset="0.08333" stop-color="#00009c" stop-opacity="0.24"/><stop offset="0.1042" stop-color="#00009c" stop-opacity="0.31"/><stop offset="0.125" stop-color="#00009c" stop-opacity="0.38"/><stop offset="0.1458" stop-color="#00009c" stop-opacity="0.45"/><stop offset="0.1667" stop-color="#0000a0" stop-opacity="0.52"/><stop offset="0.1875" stop-color="#00009c" stop-opacity="0.61"/><stop offset="0.2083" stop-color="#00009c" stop-opacity="0.75"/><stop offset="0.2292" stop-color="#000098" stop-opacity="0.88"/><stop offset="0.25" stop-color="#000098"/><stop offset="0.2708" stop-color="#000094"/><stop offset="0.3333" stop-color="#000094"/><stop offset="0.3542" stop-color="#000090"/><stop offset="0.375" stop-color="#00008c"/><stop offset="0.3958" stop-color="#000094"/><stop offset="0.4167" stop-color="#0000a0"/><stop offset="0.4375" stop-color="#0000ac"/><stop offset="0.4583" stop-color="#0000bc"/><stop offset="0.4792" stop-color="#0000d0"/><stop offset="0.5" stop-color="#0000dc"/><stop offset="0.5208" stop-color="#0000e8"/><stop offset="0.5417" stop-color="#0000f4"/><stop offset="0.5625" stop-color="#0000fc"/><stop offset="0.6042" stop-color="#0000fc"/><stop offset="0.625" stop-color="#0000f8"/><stop offset="0.6458" stop-color="#0000ec"/><stop offset="0.6667" stop-color="#0000e4"/><stop offset="0.6875" stop-color="#0000dc"/><stop offset="0.7083" stop-color="#0000c4"/><stop offset="0.7292" stop-color="#0000b0"/><stop offset="0.75" stop-color="#00009c"/><stop offset="0.7708" stop-color="#000084"/><stop offset="0.7917" stop-color="#000074"/><stop offset="0.8125" stop-color="#000070"/><stop offset="0.8333" stop-color="#00006c"/><stop offset="0.8542" stop-color="#000068"/><stop offset="0.875" stop-color="#00006c"/><stop offset="0.8958" stop-color="#000074" stop-opacity="0.89"/><stop offset="0.9167" stop-color="#000080" stop-opacity="0.71"/><stop offset="0.9375" stop-color="#000088" stop-opacity="0.53"/><stop offset="0.9583" stop-color="#00008c" stop-opacity="0.36"/><stop offset="0.9792" stop-color="#000094" stop-opacity="0.18"/><stop offset="1" stop-color="#000098" stop-opacity="0"/></linearGradient>
<linearGradient id="g84" gradientUnits="userSpaceOnUse" x1="0" y1="819.30" x2="0" y2="867.30"><stop offset="0" stop-color="#000098" stop-opacity="0"/><stop offset="0.02083" stop-color="#00009c" stop-opacity="0.06"/><stop offset="0.04167" stop-color="#0000a0" stop-opacity="0.12"/><stop offset="0.0625" stop-color="#0000a4" stop-opacity="0.18"/><stop offset="0.08333" stop-color="#0000a8" stop-opacity="0.24"/><stop offset="0.1042" stop-color="#0000ac" stop-opacity="0.31"/><stop offset="0.125" stop-color="#0000b0" stop-opacity="0.38"/><stop offset="0.1458" stop-color="#0000b4" stop-opacity="0.45"/><stop offset="0.1667" stop-color="#0000bc" stop-opacity="0.52"/><stop offset="0.1875" stop-color="#0000c0" stop-opacity="0.61"/><stop offset="0.2083" stop-color="#0000c4" stop-opacity="0.75"/><stop offset="0.2292" stop-color="#0000c8" stop-opacity="0.88"/><stop offset="0.25" stop-color="#0000d0"/><stop offset="0.2708" stop-color="#0000d4"/><stop offset="0.2917" stop-color="#0000e0"/><stop offset="0.3125" stop-color="#0000f0"/><stop offset="0.3333" stop-color="#0000fc"/><stop offset="0.3542" stop-color="#0700ff"/><stop offset="0.375" stop-color="#1000ff"/><stop offset="0.3958" stop-color="#3300ff"/><stop offset="0.4167" stop-color="#6200ff"/><stop offset="0.4375" stop-color="#9106f9"/><stop offset="0.4583" stop-color="#c326d9"/><stop offset="0.4792" stop-color="#f848b7"/><stop offset="0.5" stop-color="#ff5aa5"/><stop offset="0.5208" stop-color="#ff6a95"/><stop offset="0.5417" stop-color="#ff7c83"/><stop offset="0.5625" stop-color="#ff847b"/><stop offset="0.6042" stop-color="#ff847b"/><stop offset="0.625" stop-color="#ff7e81"/><stop offset="0.6458" stop-color="#ff708f"/><stop offset="0.6667" stop-color="#ff649b"/><stop offset="0.6875" stop-color="#ff54ab"/><stop offset="0.7083" stop-color="#d532cd"/><stop offset="0.7292" stop-color="#9d0ef1"/><stop offset="0.75" stop-color="#6800ff"/><stop offset="0.7708" stop-color="#3000ff"/><stop offset="0.7917" stop-color="#0400ff"/><stop offset="0.8125" stop-color="#0000ec"/><stop offset="0.8333" stop-color="#0000d4"/><stop offset="0.8542" stop-color="#0000bc"/><stop offset="0.875" stop-color="#0000ac"/><stop offset="0.8958" stop-color="#0000a4" stop-opacity="0.89"/><stop offset="0.9167" stop-color="#0000a8" stop-opacity="0.71"/><stop offset="0.9375" stop-color="#0000a4" stop-opacity="0.53"/><stop offset="0.9583" stop-color="#0000a0" stop-opacity="0.36"/><stop offset="0.9792" stop-color="#00009c" stop-opacity="0.18"/><stop offset="1" stop-color="#000098" stop-opacity="0"/></linearGradient>
</defs>
<rect x="102.20" y="51.40" width="1674.20" height="923.90" fill="#000084"/>
<rect x="102.20" y="51.40" width="1674.20" height="923.90" fill="url(#g1)"/>
<g clip-path="url(#axclip)"><g filter="url(#tb)">
<g stroke="#000020" stroke-opacity="0.10" stroke-width="6.0">
<use href="#wl" transform="translate(0 34.7) scale(1 1.344)"/>
<use href="#wr" transform="translate(0 34.7) scale(1 1.344)"/>
<use href="#wl" transform="translate(0 75.8) scale(1 1.318)"/>
<use href="#wr" transform="translate(0 75.8) scale(1 1.318)"/>
<use href="#wl" transform="translate(0 116.9) scale(1 1.292)"/>
<use href="#wr" transform="translate(0 116.9) scale(1 1.292)"/>
<use href="#wl" transform="translate(0 158.0) scale(1 1.266)"/>
<use href="#wr" transform="translate(0 158.0) scale(1 1.266)"/>
<use href="#wl" transform="translate(0 199.1) scale(1 1.240)"/>
<use href="#wr" transform="translate(0 199.1) scale(1 1.240)"/>
<use href="#wl" transform="translate(0 240.2) scale(1 1.214)"/>
<use href="#wr" transform="translate(0 240.2) scale(1 1.214)"/>
<use href="#wl" transform="translate(0 281.3) scale(1 1.188)"/>
<use href="#wr" transform="translate(0 281.3) scale(1 1.188)"/>
<use href="#wl" transform="translate(0 322.4) scale(1 1.162)"/>
<use href="#wr" transform="translate(0 322.4) scale(1 1.162)"/>
<use href="#wl" transform="translate(0 363.5) scale(1 1.136)"/>
<use href="#wr" transform="translate(0 363.5) scale(1 1.136)"/>
<use href="#wl" transform="translate(0 404.6) scale(1 1.110)"/>
<use href="#wr" transform="translate(0 404.6) scale(1 1.110)"/>
<use href="#wl" transform="translate(0 445.7) scale(1 1.084)"/>
<use href="#wr" transform="translate(0 445.7) scale(1 1.084)"/>
<use href="#wl" transform="translate(0 486.8) scale(1 1.058)"/>
<use href="#wr" transform="translate(0 486.8) scale(1 1.058)"/>
<use href="#wl" transform="translate(0 527.9) scale(1 1.033)"/>
<use href="#wr" transform="translate(0 527.9) scale(1 1.033)"/>
<use href="#wl" transform="translate(0 569.0) scale(1 1.007)"/>
<use href="#wr" transform="translate(0 569.0) scale(1 1.007)"/>
<use href="#wl" transform="translate(0 610.1) scale(1 0.981)"/>
<use href="#wr" transform="translate(0 610.1) scale(1 0.981)"/>
<use href="#wl" transform="translate(0 651.2) scale(1 0.955)"/>
<use href="#wr" transform="translate(0 651.2) scale(1 0.955)"/>
<use href="#wl" transform="translate(0 692.3) scale(1 0.929)"/>
<use href="#wr" transform="translate(0 692.3) scale(1 0.929)"/>
<use href="#wl" transform="translate(0 733.4) scale(1 0.903)"/>
<use href="#wr" transform="translate(0 733.4) scale(1 0.903)"/>
<use href="#wl" transform="translate(0 774.5) scale(1 0.877)"/>
<use href="#wr" transform="translate(0 774.5) scale(1 0.877)"/>
<use href="#wl" transform="translate(0 815.6) scale(1 0.851)"/>
<use href="#wr" transform="translate(0 815.6) scale(1 0.851)"/>
<use href="#wl" transform="translate(0 856.7) scale(1 0.825)"/>
<use href="#wr" transform="translate(0 856.7) scale(1 0.825)"/>
<use href="#wl" transform="translate(0 897.8) scale(1 0.799)"/>
<use href="#wr" transform="translate(0 897.8) scale(1 0.799)"/>
<use href="#wl" transform="translate(0 938.9) scale(1 0.773)"/>
<use href="#wr" transform="translate(0 938.9) scale(1 0.773)"/>
<use href="#wl" transform="translate(0 980.0) scale(1 0.747)"/>
<use href="#wr" transform="translate(0 980.0) scale(1 0.747)"/>
<use href="#wl" transform="translate(0 1021.1) scale(1 0.721)"/>
<use href="#wl" transform="translate(0 1062.2) scale(1 0.695)"/>
<use href="#wl" transform="translate(0 1103.3) scale(1 0.669)"/>
<use href="#wl" transform="translate(0 1144.4) scale(1 0.643)"/>
<use href="#wl" transform="translate(0 1185.5) scale(1 0.617)"/>
<use href="#wl" transform="translate(0 1226.6) scale(1 0.591)"/>
</g>
<g stroke="#000020" stroke-opacity="0.05" stroke-width="5.5">
<use href="#wl" transform="translate(0 14.1) scale(1 1.357)"/>
<use href="#wr" transform="translate(0 14.1) scale(1 1.357)"/>
<use href="#wl" transform="translate(0 55.2) scale(1 1.331)"/>
<use href="#wr" transform="translate(0 55.2) scale(1 1.331)"/>
<use href="#wl" transform="translate(0 96.3) scale(1 1.305)"/>
<use href="#wr" transform="translate(0 96.3) scale(1 1.305)"/>
<use href="#wl" transform="translate(0 137.4) scale(1 1.279)"/>
<use href="#wr" transform="translate(0 137.4) scale(1 1.279)"/>
<use href="#wl" transform="translate(0 178.6) scale(1 1.253)"/>
<use href="#wr" transform="translate(0 178.6) scale(1 1.253)"/>
<use href="#wl" transform="translate(0 219.7) scale(1 1.227)"/>
<use href="#wr" transform="translate(0 219.7) scale(1 1.227)"/>
<use href="#wl" transform="translate(0 260.8) scale(1 1.201)"/>
<use href="#wr" transform="translate(0 260.8) scale(1 1.201)"/>
<use href="#wl" transform="translate(0 301.9) scale(1 1.175)"/>
<use href="#wr" transform="translate(0 301.9) scale(1 1.175)"/>
<use href="#wl" transform="translate(0 342.9) scale(1 1.149)"/>
<use href="#wr" transform="translate(0 342.9) scale(1 1.149)"/>
<use href="#wl" transform="translate(0 384.1) scale(1 1.123)"/>
<use href="#wr" transform="translate(0 384.1) scale(1 1.123)"/>
<use href="#wl" transform="translate(0 425.2) scale(1 1.097)"/>
<use href="#wr" transform="translate(0 425.2) scale(1 1.097)"/>
<use href="#wl" transform="translate(0 466.2) scale(1 1.071)"/>
<use href="#wr" transform="translate(0 466.2) scale(1 1.071)"/>
<use href="#wl" transform="translate(0 507.4) scale(1 1.045)"/>
<use href="#wr" transform="translate(0 507.4) scale(1 1.045)"/>
<use href="#wl" transform="translate(0 548.5) scale(1 1.020)"/>
<use href="#wr" transform="translate(0 548.5) scale(1 1.020)"/>
<use href="#wl" transform="translate(0 589.6) scale(1 0.994)"/>
<use href="#wr" transform="translate(0 589.6) scale(1 0.994)"/>
<use href="#wl" transform="translate(0 630.6) scale(1 0.968)"/>
<use href="#wr" transform="translate(0 630.6) scale(1 0.968)"/>
<use href="#wl" transform="translate(0 671.8) scale(1 0.942)"/>
<use href="#wr" transform="translate(0 671.8) scale(1 0.942)"/>
<use href="#wl" transform="translate(0 712.9) scale(1 0.916)"/>
<use href="#wr" transform="translate(0 712.9) scale(1 0.916)"/>
<use href="#wl" transform="translate(0 754.0) scale(1 0.890)"/>
<use href="#wr" transform="translate(0 754.0) scale(1 0.890)"/>
<use href="#wl" transform="translate(0 795.1) scale(1 0.864)"/>
<use href="#wr" transform="translate(0 795.1) scale(1 0.864)"/>
<use href="#wl" transform="translate(0 836.1) scale(1 0.838)"/>
<use href="#wr" transform="translate(0 836.1) scale(1 0.838)"/>
<use href="#wl" transform="translate(0 877.2) scale(1 0.812)"/>
<use href="#wr" transform="translate(0 877.2) scale(1 0.812)"/>
<use href="#wl" transform="translate(0 918.4) scale(1 0.786)"/>
<use href="#wr" transform="translate(0 918.4) scale(1 0.786)"/>
<use href="#wl" transform="translate(0 959.5) scale(1 0.760)"/>
<use href="#wr" transform="translate(0 959.5) scale(1 0.760)"/>
<use href="#wl" transform="translate(0 1000.6) scale(1 0.734)"/>
<use href="#wr" transform="translate(0 1000.6) scale(1 0.734)"/>
<use href="#wl" transform="translate(0 1041.7) scale(1 0.708)"/>
<use href="#wl" transform="translate(0 1082.8) scale(1 0.682)"/>
<use href="#wl" transform="translate(0 1123.9) scale(1 0.656)"/>
<use href="#wl" transform="translate(0 1165.0) scale(1 0.630)"/>
<use href="#wl" transform="translate(0 1206.0) scale(1 0.604)"/>
</g>
<g stroke="#1818ff" stroke-opacity="0.12" stroke-width="9.0">
<use href="#wl" transform="translate(0 9.2) scale(1 1.360)"/>
<use href="#wl" transform="translate(0 50.3) scale(1 1.334)"/>
<use href="#wr" transform="translate(0 50.3) scale(1 1.334)"/>
<use href="#wl" transform="translate(0 91.4) scale(1 1.308)"/>
<use href="#wr" transform="translate(0 91.4) scale(1 1.308)"/>
<use href="#wl" transform="translate(0 132.5) scale(1 1.282)"/>
<use href="#wr" transform="translate(0 132.5) scale(1 1.282)"/>
<use href="#wl" transform="translate(0 173.6) scale(1 1.256)"/>
<use href="#wr" transform="translate(0 173.6) scale(1 1.256)"/>
<use href="#wl" transform="translate(0 214.7) scale(1 1.230)"/>
<use href="#wr" transform="translate(0 214.7) scale(1 1.230)"/>
<use href="#wl" transform="translate(0 255.8) scale(1 1.204)"/>
<use href="#wr" transform="translate(0 255.8) scale(1 1.204)"/>
<use href="#wl" transform="translate(0 296.9) scale(1 1.178)"/>
<use href="#wr" transform="translate(0 296.9) scale(1 1.178)"/>
<use href="#wl" transform="translate(0 338.0) scale(1 1.152)"/>
<use href="#wr" transform="translate(0 338.0) scale(1 1.152)"/>
<use href="#wl" transform="translate(0 379.1) scale(1 1.126)"/>
<use href="#wr" transform="translate(0 379.1) scale(1 1.126)"/>
<use href="#wl" transform="translate(0 420.2) scale(1 1.100)"/>
<use href="#wr" transform="translate(0 420.2) scale(1 1.100)"/>
<use href="#wl" transform="translate(0 461.3) scale(1 1.075)"/>
<use href="#wr" transform="translate(0 461.3) scale(1 1.075)"/>
<use href="#wl" transform="translate(0 502.4) scale(1 1.049)"/>
<use href="#wr" transform="translate(0 502.4) scale(1 1.049)"/>
<use href="#wl" transform="translate(0 543.5) scale(1 1.023)"/>
<use href="#wr" transform="translate(0 543.5) scale(1 1.023)"/>
<use href="#wl" transform="translate(0 584.6) scale(1 0.997)"/>
<use href="#wr" transform="translate(0 584.6) scale(1 0.997)"/>
<use href="#wl" transform="translate(0 625.7) scale(1 0.971)"/>
<use href="#wr" transform="translate(0 625.7) scale(1 0.971)"/>
<use href="#wl" transform="translate(0 666.8) scale(1 0.945)"/>
<use href="#wr" transform="translate(0 666.8) scale(1 0.945)"/>
<use href="#wl" transform="translate(0 707.9) scale(1 0.919)"/>
<use href="#wr" transform="translate(0 707.9) scale(1 0.919)"/>
<use href="#wl" transform="translate(0 749.0) scale(1 0.893)"/>
<use href="#wr" transform="translate(0 749.0) scale(1 0.893)"/>
<use href="#wl" transform="translate(0 790.1) scale(1 0.867)"/>
<use href="#wr" transform="translate(0 790.1) scale(1 0.867)"/>
<use href="#wl" transform="translate(0 831.2) scale(1 0.841)"/>
<use href="#wr" transform="translate(0 831.2) scale(1 0.841)"/>
<use href="#wl" transform="translate(0 872.3) scale(1 0.815)"/>
<use href="#wr" transform="translate(0 872.3) scale(1 0.815)"/>
<use href="#wl" transform="translate(0 913.4) scale(1 0.789)"/>
<use href="#wr" transform="translate(0 913.4) scale(1 0.789)"/>
<use href="#wl" transform="translate(0 954.5) scale(1 0.763)"/>
<use href="#wr" transform="translate(0 954.5) scale(1 0.763)"/>
<use href="#wl" transform="translate(0 995.6) scale(1 0.737)"/>
<use href="#wr" transform="translate(0 995.6) scale(1 0.737)"/>
<use href="#wl" transform="translate(0 1036.7) scale(1 0.711)"/>
<use href="#wl" transform="translate(0 1077.8) scale(1 0.685)"/>
<use href="#wl" transform="translate(0 1118.9) scale(1 0.659)"/>
<use href="#wl" transform="translate(0 1160.0) scale(1 0.633)"/>
<use href="#wl" transform="translate(0 1201.1) scale(1 0.608)"/>
<use href="#wl" transform="translate(0 1242.2) scale(1 0.582)"/>
</g>
<g stroke="#1818ff" stroke-opacity="0.06" stroke-width="7.0">
<use href="#wl" transform="translate(0 29.8) scale(1 1.347)"/>
<use href="#wr" transform="translate(0 29.8) scale(1 1.347)"/>
<use href="#wl" transform="translate(0 70.9) scale(1 1.321)"/>
<use href="#wr" transform="translate(0 70.9) scale(1 1.321)"/>
<use href="#wl" transform="translate(0 112.0) scale(1 1.295)"/>
<use href="#wr" transform="translate(0 112.0) scale(1 1.295)"/>
<use href="#wl" transform="translate(0 153.1) scale(1 1.269)"/>
<use href="#wr" transform="translate(0 153.1) scale(1 1.269)"/>
<use href="#wl" transform="translate(0 194.2) scale(1 1.243)"/>
<use href="#wr" transform="translate(0 194.2) scale(1 1.243)"/>
<use href="#wl" transform="translate(0 235.3) scale(1 1.217)"/>
<use href="#wr" transform="translate(0 235.3) scale(1 1.217)"/>
<use href="#wl" transform="translate(0 276.4) scale(1 1.191)"/>
<use href="#wr" transform="translate(0 276.4) scale(1 1.191)"/>
<use href="#wl" transform="translate(0 317.5) scale(1 1.165)"/>
<use href="#wr" transform="translate(0 317.5) scale(1 1.165)"/>
<use href="#wl" transform="translate(0 358.6) scale(1 1.139)"/>
<use href="#wr" transform="translate(0 358.6) scale(1 1.139)"/>
<use href="#wl" transform="translate(0 399.7) scale(1 1.113)"/>
<use href="#wr" transform="translate(0 399.7) scale(1 1.113)"/>
<use href="#wl" transform="translate(0 440.8) scale(1 1.088)"/>
<use href="#wr" transform="translate(0 440.8) scale(1 1.088)"/>
<use href="#wl" transform="translate(0 481.9) scale(1 1.062)"/>
<use href="#wr" transform="translate(0 481.9) scale(1 1.062)"/>
<use href="#wl" transform="translate(0 523.0) scale(1 1.036)"/>
<use href="#wr" transform="translate(0 523.0) scale(1 1.036)"/>
<use href="#wl" transform="translate(0 564.1) scale(1 1.010)"/>
<use href="#wr" transform="translate(0 564.1) scale(1 1.010)"/>
<use href="#wl" transform="translate(0 605.2) scale(1 0.984)"/>
<use href="#wr" transform="translate(0 605.2) scale(1 0.984)"/>
<use href="#wl" transform="translate(0 646.3) scale(1 0.958)"/>
<use href="#wr" transform="translate(0 646.3) scale(1 0.958)"/>
<use href="#wl" transform="translate(0 687.4) scale(1 0.932)"/>
<use href="#wr" transform="translate(0 687.4) scale(1 0.932)"/>
<use href="#wl" transform="translate(0 728.5) scale(1 0.906)"/>
<use href="#wr" transform="translate(0 728.5) scale(1 0.906)"/>
<use href="#wl" transform="translate(0 769.6) scale(1 0.880)"/>
<use href="#wr" transform="translate(0 769.6) scale(1 0.880)"/>
<use href="#wl" transform="translate(0 810.7) scale(1 0.854)"/>
<use href="#wr" transform="translate(0 810.7) scale(1 0.854)"/>
<use href="#wl" transform="translate(0 851.8) scale(1 0.828)"/>
<use href="#wr" transform="translate(0 851.8) scale(1 0.828)"/>
<use href="#wl" transform="translate(0 892.9) scale(1 0.802)"/>
<use href="#wr" transform="translate(0 892.9) scale(1 0.802)"/>
<use href="#wl" transform="translate(0 934.0) scale(1 0.776)"/>
<use href="#wr" transform="translate(0 934.0) scale(1 0.776)"/>
<use href="#wl" transform="translate(0 975.1) scale(1 0.750)"/>
<use href="#wr" transform="translate(0 975.1) scale(1 0.750)"/>
<use href="#wl" transform="translate(0 1016.2) scale(1 0.724)"/>
<use href="#wl" transform="translate(0 1057.3) scale(1 0.698)"/>
<use href="#wl" transform="translate(0 1098.4) scale(1 0.672)"/>
<use href="#wl" transform="translate(0 1139.5) scale(1 0.646)"/>
<use href="#wl" transform="translate(0 1180.6) scale(1 0.620)"/>
<use href="#wl" transform="translate(0 1221.7) scale(1 0.595)"/>
</g>
<path d="M107 56.8h13M134 56.8h11M226 56.8h5M245 56.8h8M260 56.8h7M279 56.8h4M316 56.8h8M334 56.8h2M339 56.8h2M350 56.8h3M363 56.8h3M370 56.8h2M382 56.8h5M397 56.8h2M400 56.8h2M410 56.8h6M426 56.8h2M431 56.8h3M445 56.8h3M457 56.8h2M462 56.8h2M472 56.8h3M490 56.8h2M495 56.8h2M506 56.8h5M518 56.8h2M521 56.8h2M536 56.8h4M551 56.8h3M558 56.8h2M567 56.8h3M580 56.8h2M585 56.8h2M596 56.8h7M614 56.8h2M617 56.8h2M629 56.8h4M640 56.8h2M645 56.8h3M660 56.8h4M678 56.8h2M682 56.8h2M701 56.8h21M731 56.8h39M782 56.8h5M799 56.8h37M850 56.8h24M882 56.8h20M967 56.8h3M977 56.8h6M984 56.8h8M1007 56.8h2M1070 56.8h3M1077 56.8h14M1114 56.8h10M1133 56.8h38M1185 56.8h9M1198 56.8h36M1282 56.8h15M1307 56.8h3M1316 56.8h2M1383 56.8h2M1387 56.8h2M1400 56.8h4M1455 56.8h9M1488 56.8h6M1601 56.8h4M1610 56.8h12M1630 56.8h20M1667 56.8h2M1674 56.8h3M1691 56.8h3M1714 56.8h3M1722 56.8h5M1759 56.8h17M127 67.0h5M152 67.0h3M161 67.0h5M199 67.0h12M233 67.0h4M282 67.0h4M303 67.0h2M326 67.0h4M340 67.0h2M345 67.0h2M354 67.0h4M372 67.0h2M376 67.0h2M390 67.0h4M401 67.0h2M404 67.0h2M418 67.0h4M434 67.0h3M441 67.0h2M450 67.0h3M464 67.0h2M468 67.0h2M479 67.0h7M496 67.0h2M500 67.0h2M513 67.0h3M523 67.0h2M529 67.0h2M543 67.0h4M560 67.0h2M564 67.0h2M572 67.0h5M587 67.0h2M591 67.0h2M608 67.0h3M620 67.0h2M624 67.0h2M635 67.0h3M650 67.0h3M656 67.0h2M668 67.0h7M684 67.0h2M689 67.0h2M919 67.0h44M1014 67.0h3M1036 67.0h6M1046 67.0h5M1057 67.0h8M1097 67.0h5M1241 67.0h12M1300 67.0h4M1320 67.0h2M1325 67.0h3M1341 67.0h3M1360 67.0h7M1379 67.0h2M1391 67.0h5M1407 67.0h2M1412 67.0h17M1440 67.0h11M1467 67.0h3M1479 67.0h5M1536 67.0h53M1655 67.0h10M1682 67.0h5M1697 67.0h4M1709 67.0h3M1734 67.0h6M108 77.3h16M142 77.3h4M150 77.3h3M164 77.3h19M197 77.3h3M210 77.3h4M224 77.3h4M239 77.3h13M305 77.3h3M315 77.3h6M332 77.3h3M346 77.3h2M350 77.3h2M360 77.3h7M378 77.3h2M382 77.3h3M396 77.3h2M406 77.3h2M411 77.3h2M424 77.3h4M443 77.3h2M446 77.3h2M456 77.3h4M469 77.3h2M473 77.3h2M490 77.3h3M503 77.3h2M508 77.3h2M518 77.3h3M532 77.3h3M538 77.3h2M551 77.3h6M565 77.3h2M569 77.3h2M580 77.3h4M594 77.3h2M600 77.3h4M614 77.3h3M628 77.3h2M632 77.3h2M641 77.3h4M659 77.3h2M663 77.3h2M679 77.3h3M694 77.3h9M720 77.3h13M756 77.3h7M769 77.3h31M807 77.3h5M834 77.3h5M848 77.3h4M872 77.3h12M900 77.3h13M969 77.3h20M1071 77.3h7M1108 77.3h8M1123 77.3h12M1170 77.3h4M1181 77.3h20M1208 77.3h6M1222 77.3h16M1258 77.3h4M1277 77.3h13M1296 77.3h2M1309 77.3h8M1351 77.3h5M1384 77.3h3M1399 77.3h2M1404 77.3h2M1486 77.3h3M1493 77.3h17M1604 77.3h8M1619 77.3h14M1668 77.3h7M1690 77.3h2M1694 77.3h2M1716 77.3h8M1745 77.3h17M1773 77.3h4M102 87.6h3M130 87.6h2M138 87.6h5M227 87.6h3M232 87.6h2M256 87.6h17M274 87.6h11M320 87.6h3M326 87.6h2M338 87.6h4M351 87.6h2M354 87.6h2M370 87.6h4M385 87.6h2M390 87.6h2M400 87.6h3M414 87.6h2M419 87.6h2M431 87.6h7M448 87.6h2M451 87.6h2M463 87.6h3M475 87.6h2M481 87.6h3M496 87.6h3M511 87.6h2M514 87.6h2M523 87.6h4M540 87.6h2M545 87.6h2M560 87.6h3M570 87.6h2M575 87.6h2M587 87.6h4M605 87.6h2M610 87.6h2M620 87.6h5M634 87.6h2M637 87.6h2M651 87.6h5M667 87.6h2M673 87.6h3M685 87.6h4M917 87.6h3M926 87.6h5M947 87.6h10M960 87.6h5M1016 87.6h23M1049 87.6h9M1095 87.6h3M1101 87.6h3M1244 87.6h6M1299 87.6h2M1304 87.6h2M1322 87.6h4M1363 87.6h17M1390 87.6h2M1395 87.6h2M1408 87.6h6M1444 87.6h4M1468 87.6h13M1515 87.6h9M1534 87.6h3M1545 87.6h2M1561 87.6h7M1575 87.6h7M1588 87.6h4M1659 87.6h2M1680 87.6h3M1687 87.6h2M1699 87.6h12M1732 87.6h3M1739 87.6h3M123 97.8h2M128 97.8h2M151 97.8h17M176 97.8h5M198 97.8h14M234 97.8h2M239 97.8h2M300 97.8h7M328 97.8h2M331 97.8h2M344 97.8h4M355 97.8h2M360 97.8h3M376 97.8h4M392 97.8h2M396 97.8h2M405 97.8h3M421 97.8h2M425 97.8h2M441 97.8h4M452 97.8h2M457 97.8h2M468 97.8h4M485 97.8h3M491 97.8h2M502 97.8h5M516 97.8h2M519 97.8h2M532 97.8h5M547 97.8h3M554 97.8h3M565 97.8h3M578 97.8h2M583 97.8h2M594 97.8h6M612 97.8h2M616 97.8h2M628 97.8h4M639 97.8h2M644 97.8h2M660 97.8h4M677 97.8h2M682 97.8h2M700 97.8h22M731 97.8h39M782 97.8h5M798 97.8h38M850 97.8h24M882 97.8h20M968 97.8h2M987 97.8h5M1005 97.8h6M1069 97.8h3M1077 97.8h5M1088 97.8h2M1114 97.8h10M1133 97.8h38M1185 97.8h10M1198 97.8h37M1281 97.8h16M1308 97.8h3M1316 97.8h3M1383 97.8h2M1387 97.8h2M1400 97.8h5M1455 97.8h9M1488 97.8h6M1601 97.8h4M1611 97.8h10M1632 97.8h20M1667 97.8h2M1673 97.8h4M1691 97.8h3M1715 97.8h2M1723 97.8h6M1761 97.8h13M102 108.1h3M120 108.1h3M140 108.1h8M187 108.1h7M217 108.1h12M241 108.1h4M255 108.1h5M267 108.1h12M311 108.1h12M333 108.1h2M337 108.1h3M349 108.1h3M363 108.1h3M370 108.1h2M382 108.1h6M397 108.1h2M400 108.1h2M411 108.1h6M427 108.1h2M433 108.1h3M447 108.1h3M459 108.1h2M464 108.1h2M474 108.1h4M493 108.1h2M497 108.1h2M510 108.1h3M521 108.1h2M525 108.1h2M540 108.1h4M558 108.1h2M562 108.1h2M570 108.1h4M585 108.1h2M589 108.1h2M606 108.1h4M618 108.1h2M623 108.1h2M634 108.1h3M648 108.1h3M655 108.1h2M668 108.1h6M684 108.1h2M688 108.1h3M919 108.1h44M1015 108.1h3M1038 108.1h12M1056 108.1h6M1097 108.1h5M1241 108.1h12M1300 108.1h5M1321 108.1h2M1326 108.1h3M1338 108.1h9M1359 108.1h5M1379 108.1h2M1391 108.1h5M1407 108.1h2M1413 108.1h18M1439 108.1h13M1466 108.1h4M1478 108.1h6M1536 108.1h53M1656 108.1h8M1682 108.1h5M1697 108.1h4M1710 108.1h3M1735 108.1h6M102 118.3h2M129 118.3h6M231 118.3h4M259 118.3h9M278 118.3h4M299 118.3h4M325 118.3h4M339 118.3h2M344 118.3h2M354 118.3h3M372 118.3h2M376 118.3h2M390 118.3h4M402 118.3h2M405 118.3h2M419 118.3h4M437 118.3h2M442 118.3h2M451 118.3h4M466 118.3h2M469 118.3h2M483 118.3h7M499 118.3h2M504 118.3h2M515 118.3h3M527 118.3h3M534 118.3h3M547 118.3h6M564 118.3h2M567 118.3h2M578 118.3h4M592 118.3h2M597 118.3h3M613 118.3h3M626 118.3h2M631 118.3h2M640 118.3h4M658 118.3h2M663 118.3h2M678 118.3h4M694 118.3h9M720 118.3h12M756 118.3h7M769 118.3h31M806 118.3h6M834 118.3h5M848 118.3h3M872 118.3h12M900 118.3h13M969 118.3h21M1071 118.3h7M1107 118.3h9M1123 118.3h12M1170 118.3h4M1181 118.3h20M1208 118.3h7M1222 118.3h16M1258 118.3h5M1276 118.3h14M1296 118.3h2M1310 118.3h7M1383 118.3h4M1399 118.3h2M1404 118.3h2M1486 118.3h3M1493 118.3h5M1499 118.3h12M1604 118.3h9M1618 118.3h17M1644 118.3h4M1668 118.3h6M1690 118.3h2M1694 118.3h2M1717 118.3h8M1758 118.3h6M1771 118.3h6M121 128.6h6M146 128.6h3M153 128.6h10M185 128.6h11M202 128.6h6M215 128.6h8M237 128.6h7M302 128.6h3M310 128.6h7M331 128.6h3M346 128.6h2M349 128.6h2M359 128.6h7M378 128.6h2M383 128.6h2M396 128.6h3M407 128.6h2M412 128.6h3M425 128.6h5M444 128.6h2M447 128.6h2M458 128.6h4M471 128.6h2M475 128.6h2M492 128.6h4M507 128.6h2M511 128.6h2M520 128.6h4M537 128.6h2M542 128.6h2M557 128.6h4M569 128.6h2M572 128.6h2M585 128.6h4M602 128.6h3M609 128.6h2M619 128.6h4M633 128.6h2M636 128.6h2M649 128.6h7M666 128.6h2M673 128.6h2M685 128.6h4M917 128.6h3M927 128.6h3M948 128.6h8M961 128.6h5M1017 128.6h23M1048 128.6h9M1095 128.6h2M1101 128.6h3M1245 128.6h4M1299 128.6h2M1304 128.6h2M1322 128.6h5M1361 128.6h19M1390 128.6h2M1395 128.6h2M1408 128.6h7M1443 128.6h6M1468 128.6h13M1516 128.6h7M1534 128.6h3M1562 128.6h5M1575 128.6h7M1588 128.6h5M1680 128.6h3M1687 128.6h2M1699 128.6h12M1733 128.6h3M1740 128.6h3M102 138.9h6M133 138.9h3M144 138.9h3M221 138.9h5M230 138.9h2M252 138.9h29M315 138.9h6M325 138.9h2M336 138.9h5M350 138.9h2M354 138.9h2M370 138.9h4M385 138.9h2M391 138.9h2M400 138.9h3M415 138.9h2M420 138.9h2M434 138.9h6M449 138.9h2M452 138.9h2M465 138.9h3M478 138.9h3M486 138.9h3M498 138.9h4M513 138.9h2M517 138.9h2M527 138.9h6M544 138.9h2M550 138.9h2M564 138.9h2M575 138.9h2M580 138.9h2M592 138.9h4M611 138.9h2M615 138.9h2M627 138.9h4M638 138.9h2M642 138.9h3M659 138.9h4M677 138.9h2M681 138.9h2M700 138.9h22M731 138.9h39M782 138.9h6M798 138.9h38M850 138.9h24M882 138.9h20M968 138.9h3M988 138.9h5M1003 138.9h9M1068 138.9h4M1076 138.9h4M1114 138.9h10M1133 138.9h38M1185 138.9h11M1197 138.9h38M1281 138.9h16M1308 138.9h3M1317 138.9h2M1382 138.9h2M1386 138.9h2M1400 138.9h5M1456 138.9h7M1488 138.9h6M1602 138.9h4M1611 138.9h9M1633 138.9h20M1666 138.9h3M1673 138.9h3M1691 138.9h3M1715 138.9h3M1724 138.9h6M1763 138.9h9M125 149.1h2M131 149.1h3M155 149.1h6M232 149.1h2M236 149.1h2M285 149.1h20M326 149.1h2M331 149.1h2M343 149.1h4M355 149.1h2M360 149.1h2M376 149.1h4M393 149.1h2M396 149.1h2M405 149.1h4M422 149.1h2M426 149.1h2M443 149.1h3M454 149.1h2M459 149.1h2M470 149.1h4M489 149.1h2M494 149.1h2M506 149.1h4M518 149.1h2M522 149.1h2M537 149.1h4M554 149.1h2M559 149.1h2M569 149.1h3M583 149.1h2M587 149.1h2M603 149.1h5M617 149.1h2M621 149.1h2M633 149.1h3M647 149.1h3M654 149.1h2M667 149.1h6M684 149.1h2M688 149.1h2M919 149.1h45M1015 149.1h4M1039 149.1h10M1055 149.1h5M1096 149.1h6M1242 149.1h11M1301 149.1h4M1321 149.1h2M1326 149.1h4M1336 149.1h13M1358 149.1h4M1378 149.1h3M1391 149.1h5M1407 149.1h2M1413 149.1h20M1437 149.1h16M1466 149.1h3M1477 149.1h6M1536 149.1h41M1580 149.1h10M1657 149.1h6M1682 149.1h5M1698 149.1h3M1710 149.1h3M1735 149.1h6M105 159.4h5M123 159.4h3M145 159.4h7M166 159.4h33M211 159.4h14M238 159.4h2M250 159.4h5M308 159.4h13M332 159.4h2M336 159.4h2M349 159.4h3M362 159.4h3M370 159.4h2M382 159.4h6M398 159.4h2M401 159.4h2M413 159.4h5M428 159.4h3M436 159.4h3M448 159.4h3M461 159.4h2M466 159.4h2M476 159.4h7M496 159.4h2M500 159.4h2M513 159.4h3M524 159.4h2M529 159.4h3M544 159.4h5M562 159.4h2M565 159.4h2M575 159.4h5M590 159.4h2M594 159.4h3M611 159.4h4M625 159.4h2M630 159.4h2M639 159.4h4M658 159.4h2M662 159.4h2M678 159.4h4M694 159.4h9M720 159.4h12M756 159.4h7M769 159.4h31M806 159.4h6M834 159.4h5M847 159.4h4M872 159.4h12M900 159.4h13M970 159.4h21M1070 159.4h7M1107 159.4h9M1123 159.4h12M1170 159.4h4M1181 159.4h20M1208 159.4h7M1222 159.4h16M1257 159.4h7M1276 159.4h14M1296 159.4h2M1310 159.4h8M1383 159.4h4M1399 159.4h2M1404 159.4h2M1486 159.4h2M1493 159.4h5M1500 159.4h11M1605 159.4h31M1641 159.4h9M1667 159.4h7M1690 159.4h2M1694 159.4h2M1717 159.4h10M1760 159.4h15M103 169.6h3M131 169.6h11M228 169.6h5M254 169.6h5M268 169.6h11M285 169.6h14M324 169.6h4M338 169.6h2M343 169.6h2M353 169.6h4M372 169.6h2M376 169.6h2M391 169.6h4M402 169.6h2M406 169.6h2M420 169.6h4M439 169.6h2M444 169.6h2M453 169.6h4M468 169.6h2M471 169.6h2M488 169.6h4M502 169.6h2M508 169.6h2M518 169.6h3M533 169.6h3M539 169.6h2M553 169.6h6M567 169.6h2M570 169.6h2M583 169.6h4M599 169.6h3M607 169.6h2M617 169.6h4M632 169.6h2M635 169.6h2M648 169.6h7M665 169.6h3M672 169.6h3M685 169.6h4M917 169.6h3M928 169.6h2M949 169.6h5M962 169.6h4M1018 169.6h24M1046 169.6h10M1094 169.6h3M1101 169.6h3M1245 169.6h4M1300 169.6h2M1304 169.6h2M1322 169.6h6M1339 169.6h7M1360 169.6h19M1389 169.6h2M1395 169.6h2M1408 169.6h7M1422 169.6h4M1442 169.6h8M1468 169.6h12M1516 169.6h7M1534 169.6h4M1562 169.6h5M1574 169.6h9M1588 169.6h6M1679 169.6h4M1686 169.6h2M1700 169.6h12M1734 169.6h3M1741 169.6h3M124 179.9h5M150 179.9h2M164 179.9h19M197 179.9h3M210 179.9h4M235 179.9h5M298 179.9h5M307 179.9h4M330 179.9h3M345 179.9h2M349 179.9h2M359 179.9h7M378 179.9h2M383 179.9h2M396 179.9h3M407 179.9h3M414 179.9h2M426 179.9h6M445 179.9h2M449 179.9h2M460 179.9h4M473 179.9h2M478 179.9h3M495 179.9h4M510 179.9h2M514 179.9h2M523 179.9h5M541 179.9h2M546 179.9h2M562 179.9h3M573 179.9h2M578 179.9h2M590 179.9h4M610 179.9h2M614 179.9h2M625 179.9h5M638 179.9h2M641 179.9h2M658 179.9h4M677 179.9h2M681 179.9h2M699 179.9h23M730 179.9h41M781 179.9h7M798 179.9h38M850 179.9h24M882 179.9h20M968 179.9h3M989 179.9h6M1002 179.9h11M1067 179.9h4M1076 179.9h4M1114 179.9h10M1133 179.9h38M1185 179.9h50M1280 179.9h17M1308 179.9h4M1317 179.9h3M1382 179.9h2M1386 179.9h2M1400 179.9h5M1457 179.9h5M1487 179.9h7M1603 179.9h3M1612 179.9h7M1634 179.9h20M1666 179.9h2M1672 179.9h4M1691 179.9h3M1716 179.9h2M1725 179.9h7M1765 179.9h5M103 190.2h18M137 190.2h6M148 190.2h2M168 190.2h7M181 190.2h7M193 190.2h5M213 190.2h6M228 190.2h2M243 190.2h15M269 190.2h9M310 190.2h7M323 190.2h3M335 190.2h5M350 190.2h2M353 190.2h2M369 190.2h5M385 190.2h3M391 190.2h2M401 190.2h3M416 190.2h2M421 190.2h2M437 190.2h5M450 190.2h2M454 190.2h2M467 190.2h3M482 190.2h4M490 190.2h2M501 190.2h5M516 190.2h2M519 190.2h2M533 190.2h5M549 190.2h3M556 190.2h3M567 190.2h3M581 190.2h2M586 190.2h2M599 190.2h8M616 190.2h2M620 190.2h2M632 190.2h4M645 190.2h3M653 190.2h3M666 190.2h7M684 190.2h2M688 190.2h2M919 190.2h45M1016 190.2h4M1040 190.2h8M1054 190.2h4M1096 190.2h6M1242 190.2h11M1301 190.2h4M1321 190.2h2M1327 190.2h24M1355 190.2h6M1378 190.2h2M1390 190.2h6M1407 190.2h2M1413 190.2h31M1448 190.2h5M1466 190.2h3M1477 190.2h6M1537 190.2h39M1581 190.2h9M1658 190.2h4M1682 190.2h5M1698 190.2h4M1711 190.2h3M1736 190.2h6M128 200.4h2M134 200.4h5M229 200.4h2M234 200.4h2M282 200.4h20M325 200.4h2M330 200.4h2M343 200.4h4M355 200.4h2M359 200.4h3M376 200.4h4M393 200.4h2M397 200.4h2M406 200.4h5M423 200.4h2M427 200.4h3M444 200.4h3M456 200.4h2M461 200.4h2M472 200.4h4M492 200.4h2M496 200.4h2M510 200.4h3M521 200.4h2M525 200.4h2M541 200.4h4M559 200.4h2M563 200.4h2M572 200.4h5M588 200.4h2M592 200.4h2M610 200.4h3M623 200.4h2M628 200.4h2M638 200.4h4M657 200.4h2M661 200.4h2M678 200.4h4M693 200.4h10M720 200.4h12M756 200.4h7M769 200.4h31M806 200.4h7M834 200.4h5M847 200.4h4M872 200.4h12M900 200.4h14M970 200.4h22M1005 200.4h6M1069 200.4h8M1107 200.4h9M1123 200.4h12M1170 200.4h4M1180 200.4h21M1208 200.4h7M1222 200.4h16M1257 200.4h8M1275 200.4h15M1296 200.4h2M1311 200.4h7M1383 200.4h4M1399 200.4h2M1404 200.4h2M1486 200.4h2M1492 200.4h6M1500 200.4h11M1605 200.4h46M1667 200.4h6M1690 200.4h2M1694 200.4h2M1718 200.4h11M1762 200.4h11M109 210.7h13M126 210.7h2M149 210.7h37M195 210.7h21M236 210.7h2M242 210.7h8M305 210.7h11M331 210.7h2M335 210.7h2M348 210.7h3M361 210.7h4M370 210.7h2M383 210.7h5M398 210.7h2M401 210.7h2M414 210.7h5M430 210.7h3M438 210.7h3M449 210.7h3M464 210.7h2M468 210.7h2M480 210.7h8M498 210.7h2M503 210.7h2M515 210.7h3M528 210.7h3M535 210.7h3M549 210.7h7M565 210.7h2M568 210.7h2M581 210.7h4M595 210.7h3M604 210.7h3M616 210.7h4M631 210.7h2M635 210.7h2M646 210.7h8M665 210.7h2M671 210.7h3M685 210.7h4M917 210.7h4M963 210.7h3M1019 210.7h36M1094 210.7h3M1101 210.7h3M1246 210.7h2M1300 210.7h2M1304 210.7h2M1323 210.7h6M1337 210.7h11M1358 210.7h21M1389 210.7h2M1395 210.7h2M1408 210.7h8M1419 210.7h9M1441 210.7h10M1467 210.7h13M1516 210.7h6M1535 210.7h3M1563 210.7h3M1574 210.7h9M1589 210.7h7M1679 210.7h4M1686 210.7h2M1700 210.7h12M1735 210.7h2M1742 210.7h4M1752 210.7h5M106 220.9h12M135 220.9h11M224 220.9h7M247 220.9h8M281 220.9h4M322 220.9h5M337 220.9h2M343 220.9h2M353 220.9h3M372 220.9h2M376 220.9h2M391 220.9h4M402 220.9h2M406 220.9h2M421 220.9h4M441 220.9h2M445 220.9h2M455 220.9h5M469 220.9h2M473 220.9h2M491 220.9h4M506 220.9h2M511 220.9h2M520 220.9h4M538 220.9h2M543 220.9h2M559 220.9h4M570 220.9h2M575 220.9h2M588 220.9h4M608 220.9h2M612 220.9h2M624 220.9h4M637 220.9h2M640 220.9h2M658 220.9h4M676 220.9h2M681 220.9h2M699 220.9h23M730 220.9h41M781 220.9h7M798 220.9h38M850 220.9h24M882 220.9h20M969 220.9h3M990 220.9h6M1000 220.9h14M1065 220.9h5M1075 220.9h4M1113 220.9h11M1133 220.9h39M1184 220.9h51M1280 220.9h17M1309 220.9h3M1318 220.9h2M1382 220.9h2M1386 220.9h2M1400 220.9h5M1458 220.9h4M1487 220.9h7M1603 220.9h4M1613 220.9h4M1636 220.9h7M1649 220.9h5M1665 220.9h3M1672 220.9h3M1691 220.9h3M1716 220.9h3M1727 220.9h6M127 231.2h5M153 231.2h10M202 231.2h6M233 231.2h4M284 231.2h15M305 231.2h3M329 231.2h3M344 231.2h2M348 231.2h2M358 231.2h7M378 231.2h2M383 231.2h2M397 231.2h3M408 231.2h3M415 231.2h2M428 231.2h7M447 231.2h2M450 231.2h2M462 231.2h4M475 231.2h3M483 231.2h4M497 231.2h5M513 231.2h2M517 231.2h2M527 231.2h7M545 231.2h3M552 231.2h3M565 231.2h3M578 231.2h2M584 231.2h2M596 231.2h8M615 231.2h2M618 231.2h2M631 231.2h4M644 231.2h2M652 231.2h3M666 231.2h6M684 231.2h2M688 231.2h2M919 231.2h46M1017 231.2h4M1042 231.2h4M1053 231.2h4M1096 231.2h6M1242 231.2h10M1301 231.2h4M1322 231.2h2M1328 231.2h11M1346 231.2h13M1377 231.2h3M1390 231.2h6M1407 231.2h2M1414 231.2h29M1449 231.2h5M1465 231.2h4M1476 231.2h7M1537 231.2h39M1581 231.2h10M1681 231.2h6M1698 231.2h4M1711 231.2h3M1737 231.2h7M106 241.5h18M144 241.5h3M151 241.5h3M162 241.5h5M199 241.5h5M206 241.5h6M222 241.5h5M239 241.5h15M307 241.5h4M321 241.5h3M334 241.5h5M349 241.5h2M353 241.5h2M369 241.5h5M385 241.5h3M392 241.5h2M401 241.5h3M417 241.5h2M422 241.5h2M439 241.5h5M452 241.5h2M456 241.5h2M469 241.5h3M487 241.5h3M493 241.5h2M505 241.5h5M518 241.5h2M522 241.5h2M538 241.5h4M556 241.5h3M561 241.5h2M570 241.5h4M586 241.5h2M590 241.5h2M608 241.5h4M621 241.5h3M627 241.5h2M637 241.5h4M656 241.5h2M661 241.5h2M677 241.5h4M693 241.5h9M720 241.5h12M756 241.5h7M769 241.5h31M806 241.5h7M834 241.5h5M847 241.5h4M872 241.5h12M900 241.5h14M971 241.5h22M1004 241.5h8M1068 241.5h8M1107 241.5h9M1123 241.5h12M1170 241.5h4M1180 241.5h21M1207 241.5h8M1222 241.5h17M1256 241.5h9M1275 241.5h15M1296 241.5h2M1311 241.5h8M1383 241.5h3M1399 241.5h2M1404 241.5h2M1486 241.5h2M1492 241.5h5M1500 241.5h11M1606 241.5h46M1667 241.5h6M1690 241.5h2M1694 241.5h2M1718 241.5h12M1764 241.5h7M102 251.7h2M130 251.7h3M140 251.7h5M226 251.7h3M232 251.7h2M258 251.7h11M278 251.7h19M324 251.7h2M329 251.7h2M342 251.7h4M354 251.7h2M359 251.7h2M376 251.7h4M393 251.7h2M397 251.7h2M406 251.7h6M424 251.7h2M429 251.7h3M446 251.7h3M458 251.7h3M464 251.7h2M474 251.7h6M495 251.7h2M499 251.7h2M513 251.7h3M524 251.7h2M530 251.7h3M545 251.7h6M563 251.7h2M567 251.7h2M578 251.7h5M593 251.7h2M600 251.7h4M615 251.7h3M630 251.7h2M634 251.7h2M644 251.7h8M664 251.7h2M670 251.7h4M684 251.7h4M918 251.7h3M963 251.7h4M1020 251.7h34M1094 251.7h3M1101 251.7h2M1300 251.7h2M1304 251.7h3M1323 251.7h7M1335 251.7h15M1357 251.7h21M1389 251.7h2M1395 251.7h2M1408 251.7h22M1440 251.7h12M1467 251.7h12M1517 251.7h5M1535 251.7h3M1574 251.7h9M1589 251.7h9M1678 251.7h4M1686 251.7h2M1700 251.7h12M1736 251.7h2M1743 251.7h17M1775 251.7h2M122 262.0h3M128 262.0h3M152 262.0h13M200 262.0h10M234 262.0h2M239 262.0h3M302 262.0h8M330 262.0h2M334 262.0h2M348 262.0h3M361 262.0h3M370 262.0h2M383 262.0h6M398 262.0h2M402 262.0h2M415 262.0h5M432 262.0h4M440 262.0h2M451 262.0h3M466 262.0h2M470 262.0h2M486 262.0h5M501 262.0h3M507 262.0h2M518 262.0h3M534 262.0h3M540 262.0h2M556 262.0h5M569 262.0h2M572 262.0h2M586 262.0h4M606 262.0h2M611 262.0h2M622 262.0h5M636 262.0h2M640 262.0h2M657 262.0h4M676 262.0h2M681 262.0h2M698 262.0h24M730 262.0h41M781 262.0h8M798 262.0h38M850 262.0h24M882 262.0h21M969 262.0h3M991 262.0h15M1010 262.0h5M1062 262.0h8M1075 262.0h3M1113 262.0h11M1133 262.0h39M1184 262.0h26M1212 262.0h24M1279 262.0h18M1309 262.0h4M1318 262.0h2M1381 262.0h2M1386 262.0h2M1400 262.0h5M1487 262.0h7M1604 262.0h3M1651 262.0h4M1665 262.0h2M1671 262.0h4M1690 262.0h4M1717 262.0h3M1729 262.0h4M102 272.2h2M118 272.2h5M142 272.2h7M184 272.2h12M215 272.2h13M241 272.2h6M257 272.2h13M277 272.2h4M318 272.2h8M336 272.2h2M342 272.2h2M352 272.2h4M372 272.2h2M376 272.2h2M391 272.2h4M403 272.2h2M407 272.2h2M422 272.2h5M442 272.2h2M446 272.2h2M457 272.2h5M471 272.2h2M476 272.2h2M494 272.2h4M510 272.2h2M514 272.2h2M523 272.2h6M542 272.2h2M548 272.2h2M563 272.2h3M575 272.2h3M581 272.2h2M593 272.2h7M613 272.2h2M617 272.2h2M630 272.2h4M642 272.2h3M650 272.2h3M665 272.2h6M683 272.2h2M688 272.2h2M920 272.2h45M1018 272.2h5M1027 272.2h7M1052 272.2h4M1096 272.2h6M1242 272.2h10M1301 272.2h4M1322 272.2h2M1329 272.2h8M1348 272.2h10M1376 272.2h3M1390 272.2h6M1407 272.2h2M1414 272.2h9M1426 272.2h16M1450 272.2h4M1465 272.2h3M1475 272.2h8M1537 272.2h38M1582 272.2h9M1681 272.2h6M1698 272.2h5M1711 272.2h3M1738 272.2h7M129 282.5h7M230 282.5h5M263 282.5h2M280 282.5h4M302 282.5h3M328 282.5h3M343 282.5h2M348 282.5h2M358 282.5h7M378 282.5h2M383 282.5h3M397 282.5h3M409 282.5h3M416 282.5h2M430 282.5h8M448 282.5h2M451 282.5h2M465 282.5h3M479 282.5h4M488 282.5h2M500 282.5h6M516 282.5h2M519 282.5h2M534 282.5h5M552 282.5h3M559 282.5h2M568 282.5h4M584 282.5h2M588 282.5h2M606 282.5h5M620 282.5h2M625 282.5h2M636 282.5h4M655 282.5h2M660 282.5h2M677 282.5h4M692 282.5h10M720 282.5h12M755 282.5h8M769 282.5h31M806 282.5h7M834 282.5h5M847 282.5h4M872 282.5h12M900 282.5h14M971 282.5h23M1002 282.5h11M1067 282.5h9M1107 282.5h9M1123 282.5h12M1161 282.5h2M1170 282.5h5M1180 282.5h8M1190 282.5h10M1207 282.5h8M1223 282.5h16M1256 282.5h10M1274 282.5h16M1296 282.5h2M1312 282.5h7M1382 282.5h4M1399 282.5h2M1404 282.5h2M1486 282.5h2M1492 282.5h5M1500 282.5h11M1606 282.5h47M1666 282.5h6M1689 282.5h2M1694 282.5h2M1719 282.5h13M120 292.8h7M148 292.8h2M156 292.8h4M168 292.8h7M181 292.8h7M193 292.8h5M213 292.8h7M237 292.8h8M304 292.8h4M317 292.8h5M333 292.8h5M349 292.8h2M352 292.8h2M369 292.8h5M386 292.8h3M392 292.8h2M402 292.8h3M418 292.8h2M423 292.8h2M441 292.8h4M453 292.8h2M458 292.8h3M470 292.8h4M491 292.8h2M495 292.8h2M509 292.8h4M521 292.8h2M525 292.8h3M542 292.8h5M561 292.8h2M565 292.8h2M575 292.8h6M591 292.8h2M596 292.8h4M614 292.8h3M629 292.8h2M633 292.8h2M643 292.8h8M663 292.8h2M670 292.8h3M684 292.8h4M918 292.8h3M964 292.8h3M1021 292.8h32M1093 292.8h4M1101 292.8h2M1300 292.8h2M1305 292.8h2M1324 292.8h53M1389 292.8h2M1395 292.8h2M1409 292.8h22M1438 292.8h14M1467 292.8h12M1517 292.8h4M1535 292.8h3M1573 292.8h11M1590 292.8h10M1678 292.8h4M1686 292.8h2M1700 292.8h13M1736 292.8h3M1744 292.8h18M1773 292.8h4M102 303.0h4M133 303.0h5M146 303.0h2M186 303.0h9M217 303.0h8M230 303.0h2M254 303.0h29M322 303.0h2M327 303.0h2M340 303.0h5M354 303.0h2M358 303.0h2M376 303.0h4M394 303.0h2M397 303.0h2M407 303.0h6M425 303.0h2M431 303.0h4M447 303.0h3M461 303.0h2M466 303.0h2M477 303.0h9M497 303.0h2M502 303.0h3M515 303.0h3M529 303.0h3M536 303.0h3M551 303.0h7M567 303.0h2M570 303.0h2M584 303.0h4M603 303.0h3M609 303.0h2M620 303.0h5M635 303.0h2M639 303.0h2M656 303.0h5M675 303.0h2M680 303.0h2M697 303.0h25M730 303.0h29M760 303.0h11M781 303.0h8M798 303.0h38M850 303.0h24M882 303.0h21M969 303.0h4M992 303.0h12M1012 303.0h4M1059 303.0h10M1074 303.0h3M1113 303.0h11M1133 303.0h39M1184 303.0h26M1212 303.0h24M1279 303.0h18M1310 303.0h4M1319 303.0h2M1381 303.0h2M1385 303.0h2M1400 303.0h5M1487 303.0h7M1604 303.0h4M1652 303.0h4M1664 303.0h3M1671 303.0h3M1690 303.0h4M1717 303.0h3M1730 303.0h4M125 313.3h2M131 313.3h3M231 313.3h2M236 313.3h2M298 313.3h9M329 313.3h2M333 313.3h2M347 313.3h3M360 313.3h4M369 313.3h3M383 313.3h6M399 313.3h2M402 313.3h2M416 313.3h5M435 313.3h4M442 313.3h2M452 313.3h4M468 313.3h2M471 313.3h2M490 313.3h4M505 313.3h3M511 313.3h2M520 313.3h4M539 313.3h2M544 313.3h2M561 313.3h3M573 313.3h2M578 313.3h3M591 313.3h5M612 313.3h2M616 313.3h2M629 313.3h4M641 313.3h2M648 313.3h4M664 313.3h6M683 313.3h2M687 313.3h2M920 313.3h45M1019 313.3h17M1051 313.3h4M1095 313.3h7M1242 313.3h10M1301 313.3h5M1323 313.3h2M1330 313.3h5M1350 313.3h6M1365 313.3h6M1374 313.3h5M1390 313.3h5M1407 313.3h2M1415 313.3h6M1428 313.3h13M1451 313.3h4M1464 313.3h4M1474 313.3h8M1537 313.3h38M1582 313.3h10M1680 313.3h7M1698 313.3h5M1712 313.3h3M1738 313.3h21M1775 313.3h2M103 323.5h4M123 323.5h3M146 323.5h7M163 323.5h38M209 323.5h15M238 323.5h3M252 323.5h5M269 323.5h9M311 323.5h13M335 323.5h2M340 323.5h3M352 323.5h3M372 323.5h2M376 323.5h2M392 323.5h4M404 323.5h2M408 323.5h2M423 323.5h5M444 323.5h2M448 323.5h2M459 323.5h5M473 323.5h2M479 323.5h5M497 323.5h4M513 323.5h2M517 323.5h2M528 323.5h7M547 323.5h3M555 323.5h3M567 323.5h3M582 323.5h2M586 323.5h2M603 323.5h6M618 323.5h2M624 323.5h2M635 323.5h4M654 323.5h3M660 323.5h2M676 323.5h5M692 323.5h10M720 323.5h12M755 323.5h8M769 323.5h31M806 323.5h7M834 323.5h5M847 323.5h4M872 323.5h12M900 323.5h14M971 323.5h24M1001 323.5h13M1065 323.5h10M1107 323.5h9M1123 323.5h12M1161 323.5h2M1170 323.5h5M1180 323.5h8M1191 323.5h9M1207 323.5h8M1223 323.5h16M1255 323.5h12M1274 323.5h9M1286 323.5h3M1296 323.5h2M1312 323.5h8M1382 323.5h4M1399 323.5h2M1404 323.5h2M1485 323.5h3M1492 323.5h5M1500 323.5h12M1528 323.5h3M1607 323.5h47M1666 323.5h6M1689 323.5h2M1694 323.5h2M1719 323.5h14M102 333.8h2M132 333.8h11M228 333.8h5M256 333.8h15M276 333.8h5M288 333.8h14M326 333.8h4M342 333.8h2M347 333.8h2M357 333.8h7M378 333.8h2M383 333.8h3M397 333.8h3M411 333.8h2M417 333.8h2M432 333.8h8M449 333.8h2M453 333.8h2M467 333.8h3M485 333.8h3M492 333.8h2M504 333.8h6M518 333.8h2M522 333.8h2M539 333.8h4M559 333.8h2M563 333.8h2M573 333.8h5M589 333.8h2M594 333.8h2M612 333.8h4M627 333.8h2M632 333.8h2M642 333.8h7M663 333.8h2M669 333.8h3M684 333.8h4M918 333.8h3M964 333.8h3M1023 333.8h4M1034 333.8h18M1082 333.8h2M1093 333.8h4M1100 333.8h3M1300 333.8h2M1305 333.8h2M1324 333.8h52M1388 333.8h3M1394 333.8h3M1409 333.8h25M1436 333.8h17M1466 333.8h12M1518 333.8h3M1535 333.8h4M1573 333.8h11M1590 333.8h11M1677 333.8h5M1686 333.8h2M1701 333.8h12M1737 333.8h3M1745 333.8h8M1756 333.8h8M1771 333.8h5M124 344.1h5M151 344.1h3M162 344.1h5M199 344.1h5M206 344.1h6M235 344.1h5M301 344.1h4M310 344.1h9M332 344.1h5M348 344.1h2M352 344.1h2M369 344.1h5M386 344.1h3M392 344.1h2M402 344.1h4M420 344.1h2M424 344.1h2M443 344.1h3M455 344.1h2M461 344.1h2M472 344.1h5M494 344.1h2M498 344.1h2M512 344.1h4M524 344.1h2M531 344.1h4M547 344.1h7M565 344.1h2M568 344.1h2M582 344.1h4M598 344.1h5M607 344.1h2M619 344.1h5M634 344.1h2M638 344.1h2M655 344.1h5M674 344.1h3M680 344.1h2M696 344.1h26M730 344.1h28M761 344.1h10M780 344.1h9M798 344.1h38M849 344.1h25M882 344.1h21M970 344.1h3M993 344.1h10M1013 344.1h3M1058 344.1h10M1074 344.1h3M1113 344.1h12M1133 344.1h39M1184 344.1h26M1213 344.1h23M1278 344.1h19M1310 344.1h4M1319 344.1h2M1381 344.1h2M1385 344.1h2M1400 344.1h5M1487 344.1h6M1605 344.1h3M1625 344.1h3M1653 344.1h4M1663 344.1h3M1671 344.1h3M1690 344.1h4M1718 344.1h3M1732 344.1h3M102 354.3h19M139 354.3h5M149 354.3h3M165 354.3h19M196 354.3h4M211 354.3h4M227 354.3h3M244 354.3h17M266 354.3h14M318 354.3h5M326 354.3h2M339 354.3h5M353 354.3h2M357 354.3h3M376 354.3h4M394 354.3h2M398 354.3h2M408 354.3h7M426 354.3h3M434 354.3h4M448 354.3h4M463 354.3h2M468 354.3h2M482 354.3h8M501 354.3h2M507 354.3h2M518 354.3h3M536 354.3h2M541 354.3h2M558 354.3h4M570 354.3h2M575 354.3h2M589 354.3h4M610 354.3h2M614 354.3h2M628 354.3h4M640 354.3h2M646 354.3h4M664 354.3h6M683 354.3h2M687 354.3h2M920 354.3h46M1020 354.3h17M1050 354.3h4M1095 354.3h6M1243 354.3h8M1301 354.3h5M1323 354.3h2M1363 354.3h15M1390 354.3h5M1407 354.3h3M1416 354.3h3M1429 354.3h11M1452 354.3h4M1464 354.3h3M1474 354.3h8M1537 354.3h37M1583 354.3h10M1680 354.3h7M1698 354.3h6M1712 354.3h3M1739 354.3h22M1773 354.3h4M128 364.6h2M135 364.6h6M229 364.6h2M234 364.6h2M284 364.6h20M328 364.6h2M332 364.6h2M346 364.6h4M360 364.6h3M369 364.6h3M383 364.6h7M399 364.6h2M403 364.6h2M418 364.6h4M438 364.6h3M444 364.6h2M454 364.6h5M470 364.6h2M474 364.6h2M493 364.6h4M510 364.6h2M514 364.6h2M524 364.6h6M544 364.6h2M550 364.6h3M565 364.6h3M579 364.6h2M584 364.6h2M599 364.6h8M617 364.6h2M622 364.6h2M635 364.6h3M653 364.6h3M659 364.6h2M676 364.6h4M692 364.6h9M720 364.6h12M755 364.6h9M769 364.6h30M805 364.6h8M835 364.6h4M847 364.6h4M872 364.6h12M900 364.6h15M972 364.6h43M1062 364.6h12M1107 364.6h9M1123 364.6h12M1160 364.6h3M1170 364.6h5M1179 364.6h8M1191 364.6h9M1207 364.6h8M1223 364.6h16M1255 364.6h13M1273 364.6h9M1287 364.6h2M1296 364.6h2M1313 364.6h7M1382 364.6h4M1399 364.6h2M1404 364.6h2M1485 364.6h3M1492 364.6h5M1500 364.6h12M1527 364.6h4M1607 364.6h48M1665 364.6h6M1689 364.6h2M1694 364.6h2M1720 364.6h14M107 374.8h15M126 374.8h2M150 374.8h20M173 374.8h9M197 374.8h17M235 374.8h3M242 374.8h10M308 374.8h14M334 374.8h2M339 374.8h3M351 374.8h4M371 374.8h3M376 374.8h2M392 374.8h4M404 374.8h2M409 374.8h3M425 374.8h5M445 374.8h2M449 374.8h2M462 374.8h4M476 374.8h3M486 374.8h3M500 374.8h5M516 374.8h2M519 374.8h2M535 374.8h5M555 374.8h2M561 374.8h2M570 374.8h5M587 374.8h2M591 374.8h2M611 374.8h3M626 374.8h2M631 374.8h2M641 374.8h6M662 374.8h2M668 374.8h3M684 374.8h4M918 374.8h3M965 374.8h3M1036 374.8h15M1080 374.8h7M1092 374.8h4M1100 374.8h3M1300 374.8h2M1305 374.8h3M1325 374.8h40M1371 374.8h4M1388 374.8h2M1394 374.8h3M1409 374.8h44M1466 374.8h11M1535 374.8h4M1573 374.8h11M1591 374.8h10M1677 374.8h4M1686 374.8h2M1701 374.8h13M1738 374.8h2M1759 374.8h15M104 385.1h4M136 385.1h11M188 385.1h5M222 385.1h8M251 385.1h5M270 385.1h7M283 385.1h14M325 385.1h4M341 385.1h3M346 385.1h2M357 385.1h6M378 385.1h2M384 385.1h3M398 385.1h3M412 385.1h3M419 385.1h2M435 385.1h7M451 385.1h2M455 385.1h2M469 385.1h3M490 385.1h2M494 385.1h2M509 385.1h4M521 385.1h2M526 385.1h3M543 385.1h5M563 385.1h2M566 385.1h2M579 385.1h5M595 385.1h3M605 385.1h3M617 385.1h5M633 385.1h2M637 385.1h2M654 385.1h5M674 385.1h3M680 385.1h2M695 385.1h27M730 385.1h28M761 385.1h10M780 385.1h9M797 385.1h12M810 385.1h27M849 385.1h25M882 385.1h21M970 385.1h4M994 385.1h7M1014 385.1h3M1056 385.1h10M1073 385.1h3M1113 385.1h12M1133 385.1h39M1184 385.1h25M1213 385.1h23M1278 385.1h19M1311 385.1h4M1320 385.1h2M1380 385.1h2M1385 385.1h2M1400 385.1h5M1487 385.1h6M1605 385.1h4M1623 385.1h7M1654 385.1h5M1662 385.1h4M1670 385.1h3M1690 385.1h4M1718 385.1h4M1733 385.1h3M127 395.4h5M156 395.4h4M232 395.4h5M287 395.4h15M307 395.4h4M331 395.4h5M348 395.4h2M352 395.4h2M368 395.4h6M387 395.4h2M393 395.4h2M403 395.4h3M421 395.4h2M426 395.4h2M444 395.4h4M458 395.4h2M463 395.4h2M475 395.4h7M497 395.4h2M501 395.4h3M515 395.4h3M530 395.4h3M538 395.4h2M554 395.4h6M568 395.4h2M572 395.4h2M587 395.4h4M609 395.4h2M613 395.4h2M626 395.4h5M639 395.4h2M645 395.4h3M663 395.4h6M683 395.4h2M687 395.4h2M920 395.4h46M1021 395.4h18M1049 395.4h4M1095 395.4h6M1243 395.4h8M1301 395.4h5M1324 395.4h2M1361 395.4h17M1389 395.4h6M1408 395.4h2M1431 395.4h7M1452 395.4h4M1463 395.4h4M1473 395.4h9M1538 395.4h36M1583 395.4h11M1680 395.4h7M1698 395.4h7M1713 395.4h3M1740 395.4h23M1772 395.4h5M105 405.6h19M145 405.6h3M153 405.6h11M186 405.6h9M201 405.6h8M218 405.6h8M239 405.6h16M272 405.6h3M310 405.6h10M325 405.6h2M338 405.6h6M353 405.6h2M357 405.6h2M376 405.6h5M395 405.6h2M398 405.6h2M409 405.6h7M428 405.6h3M437 405.6h3M450 405.6h3M466 405.6h2M470 405.6h2M488 405.6h5M505 405.6h2M511 405.6h2M521 405.6h4M540 405.6h2M545 405.6h3M563 405.6h3M576 405.6h2M582 405.6h2M595 405.6h10M616 405.6h2M620 405.6h2M634 405.6h3M651 405.6h4M658 405.6h2M675 405.6h5M691 405.6h10M720 405.6h12M755 405.6h9M769 405.6h30M805 405.6h8M835 405.6h5M847 405.6h4M871 405.6h13M900 405.6h15M972 405.6h44M1059 405.6h15M1106 405.6h10M1123 405.6h11M1160 405.6h4M1171 405.6h4M1179 405.6h8M1192 405.6h8M1207 405.6h9M1223 405.6h8M1232 405.6h7M1255 405.6h14M1272 405.6h9M1296 405.6h3M1314 405.6h7M1381 405.6h4M1399 405.6h2M1404 405.6h2M1485 405.6h3M1492 405.6h5M1500 405.6h12M1527 405.6h5M1608 405.6h48M1664 405.6h7M1689 405.6h2M1694 405.6h2M1721 405.6h14M130 415.9h3M142 415.9h4M225 415.9h3M232 415.9h2M261 415.9h4M280 415.9h21M327 415.9h2M331 415.9h2M346 415.9h3M359 415.9h3M369 415.9h2M383 415.9h7M400 415.9h2M403 415.9h2M419 415.9h4M441 415.9h2M445 415.9h2M456 415.9h6M472 415.9h2M476 415.9h4M496 415.9h4M513 415.9h2M517 415.9h2M529 415.9h7M549 415.9h4M558 415.9h2M568 415.9h4M585 415.9h2M589 415.9h2M609 415.9h4M624 415.9h2M629 415.9h2M640 415.9h5M661 415.9h2M667 415.9h3M683 415.9h5M918 415.9h3M939 415.9h2M965 415.9h3M1037 415.9h13M1079 415.9h9M1091 415.9h5M1100 415.9h3M1300 415.9h2M1305 415.9h3M1325 415.9h38M1388 415.9h2M1394 415.9h3M1409 415.9h45M1466 415.9h10M1536 415.9h3M1572 415.9h13M1591 415.9h11M1676 415.9h5M1686 415.9h2M1702 415.9h12M1739 415.9h2M1762 415.9h11M122 426.1h3M129 426.1h2M154 426.1h8M203 426.1h4M233 426.1h2M239 426.1h3M305 426.1h14M332 426.1h2M338 426.1h2M351 426.1h3M371 426.1h2M376 426.1h2M393 426.1h4M405 426.1h2M410 426.1h3M426 426.1h7M447 426.1h2M451 426.1h2M464 426.1h4M481 426.1h5M490 426.1h2M503 426.1h6M518 426.1h2M522 426.1h2M540 426.1h5M561 426.1h2M564 426.1h2M575 426.1h6M592 426.1h2M600 426.1h5M616 426.1h4M632 426.1h2M636 426.1h2M653 426.1h5M673 426.1h3M679 426.1h2M695 426.1h27M730 426.1h28M761 426.1h10M780 426.1h10M797 426.1h11M810 426.1h27M849 426.1h25M882 426.1h21M971 426.1h4M996 426.1h3M1015 426.1h3M1055 426.1h8M1072 426.1h4M1113 426.1h12M1133 426.1h39M1184 426.1h25M1213 426.1h23M1259 426.1h3M1277 426.1h20M1311 426.1h5M1320 426.1h2M1380 426.1h2M1385 426.1h2M1400 426.1h5M1487 426.1h6M1606 426.1h3M1622 426.1h10M1655 426.1h10M1670 426.1h3M1690 426.1h4M1719 426.1h4M1734 426.1h3M108 436.4h15M144 436.4h7M167 436.4h31M212 436.4h16M241 436.4h10M259 436.4h8M280 436.4h3M323 436.4h5M340 436.4h3M346 436.4h2M356 436.4h7M378 436.4h2M384 436.4h3M398 436.4h3M414 436.4h2M420 436.4h2M438 436.4h6M452 436.4h2M458 436.4h2M471 436.4h4M493 436.4h2M497 436.4h2M512 436.4h4M525 436.4h2M533 436.4h3M549 436.4h8M566 436.4h2M570 436.4h2M585 436.4h4M607 436.4h2M612 436.4h2M624 436.4h6M638 436.4h2M643 436.4h3M662 436.4h6M682 436.4h2M687 436.4h2M920 436.4h47M1023 436.4h4M1034 436.4h6M1048 436.4h4M1095 436.4h6M1243 436.4h8M1301 436.4h5M1324 436.4h3M1340 436.4h6M1360 436.4h17M1389 436.4h6M1408 436.4h2M1433 436.4h4M1453 436.4h4M1463 436.4h4M1473 436.4h8M1538 436.4h36M1583 436.4h14M1679 436.4h7M1698 436.4h8M1713 436.4h3M1741 436.4h25M1769 436.4h8M129 446.7h9M230 446.7h5M282 446.7h5M304 446.7h3M330 446.7h4M347 446.7h2M351 446.7h2M368 446.7h6M387 446.7h3M393 446.7h2M403 446.7h4M422 446.7h2M427 446.7h3M446 446.7h3M460 446.7h3M466 446.7h2M478 446.7h10M500 446.7h2M506 446.7h2M518 446.7h3M537 446.7h2M542 446.7h2M560 446.7h4M573 446.7h2M579 446.7h2M592 446.7h8M614 446.7h2M619 446.7h2M633 446.7h3M649 446.7h4M657 446.7h2M675 446.7h5M691 446.7h10M720 446.7h12M755 446.7h9M770 446.7h29M805 446.7h8M835 446.7h5M846 446.7h5M871 446.7h13M901 446.7h14M973 446.7h43M1058 446.7h15M1106 446.7h10M1123 446.7h11M1159 446.7h5M1171 446.7h5M1179 446.7h8M1192 446.7h8M1207 446.7h9M1224 446.7h6M1233 446.7h6M1254 446.7h26M1297 446.7h2M1314 446.7h7M1381 446.7h4M1399 446.7h2M1404 446.7h2M1485 446.7h3M1492 446.7h5M1500 446.7h12M1526 446.7h6M1608 446.7h16M1629 446.7h28M1664 446.7h7M1689 446.7h2M1694 446.7h2M1722 446.7h13M109 456.9h6M119 456.9h8M149 456.9h3M165 456.9h19M196 456.9h4M211 456.9h5M237 456.9h10M307 456.9h4M323 456.9h3M337 456.9h6M352 456.9h2M356 456.9h3M376 456.9h5M395 456.9h2M399 456.9h2M411 456.9h6M430 456.9h4M440 456.9h2M451 456.9h4M468 456.9h2M472 456.9h2M492 456.9h4M509 456.9h2M514 456.9h2M524 456.9h7M545 456.9h2M553 456.9h3M566 456.9h4M583 456.9h2M587 456.9h2M607 456.9h5M622 456.9h2M628 456.9h2M639 456.9h4M661 456.9h2M666 456.9h3M683 456.9h4M918 456.9h3M937 456.9h5M966 456.9h3M1039 456.9h10M1078 456.9h18M1100 456.9h3M1300 456.9h2M1306 456.9h3M1326 456.9h35M1388 456.9h2M1394 456.9h3M1409 456.9h46M1465 456.9h10M1536 456.9h3M1572 456.9h5M1580 456.9h5M1592 456.9h11M1676 456.9h5M1686 456.9h2M1702 456.9h13M1739 456.9h3M1764 456.9h7M102 467.2h2M134 467.2h6M147 467.2h3M171 467.2h2M182 467.2h7M192 467.2h5M214 467.2h9M229 467.2h3M255 467.2h16M276 467.2h10M325 467.2h2M330 467.2h2M345 467.2h4M358 467.2h3M368 467.2h3M384 467.2h7M400 467.2h2M404 467.2h2M420 467.2h5M442 467.2h2M447 467.2h2M459 467.2h5M474 467.2h2M482 467.2h5M499 467.2h5M516 467.2h2M519 467.2h2M536 467.2h5M557 467.2h3M562 467.2h2M573 467.2h5M590 467.2h2M596 467.2h4M615 467.2h3M631 467.2h2M635 467.2h2M651 467.2h7M672 467.2h3M679 467.2h2M694 467.2h28M730 467.2h28M761 467.2h10M780 467.2h10M797 467.2h11M811 467.2h26M849 467.2h25M882 467.2h21M971 467.2h5M981 467.2h5M1015 467.2h4M1054 467.2h5M1072 467.2h3M1113 467.2h12M1132 467.2h40M1183 467.2h26M1214 467.2h23M1258 467.2h5M1277 467.2h20M1312 467.2h4M1321 467.2h2M1379 467.2h2M1384 467.2h2M1400 467.2h5M1487 467.2h6M1606 467.2h4M1621 467.2h12M1656 467.2h9M1669 467.2h3M1690 467.2h5M1719 467.2h6M1735 467.2h2M125 477.4h3M131 477.4h4M231 477.4h2M236 477.4h2M302 477.4h8M331 477.4h2M337 477.4h2M350 477.4h4M371 477.4h2M376 477.4h2M393 477.4h4M405 477.4h2M412 477.4h3M428 477.4h9M448 477.4h2M452 477.4h2M467 477.4h3M488 477.4h2M493 477.4h2M508 477.4h5M521 477.4h2M526 477.4h4M545 477.4h6M564 477.4h2M568 477.4h2M583 477.4h4M603 477.4h4M610 477.4h2M622 477.4h6M637 477.4h2M642 477.4h2M662 477.4h5M682 477.4h2M686 477.4h2M920 477.4h47M1036 477.4h6M1047 477.4h4M1094 477.4h7M1243 477.4h7M1302 477.4h5M1325 477.4h2M1338 477.4h10M1358 477.4h6M1371 477.4h4M1389 477.4h6M1408 477.4h2M1453 477.4h5M1462 477.4h4M1472 477.4h9M1538 477.4h35M1584 477.4h15M1678 477.4h8M1699 477.4h8M1714 477.4h3M1741 477.4h36M102 487.7h3M123 487.7h3M148 487.7h7M160 487.7h27M194 487.7h26M238 487.7h3M254 487.7h6M266 487.7h14M321 487.7h6M339 487.7h2M345 487.7h2M356 487.7h6M378 487.7h2M384 487.7h4M399 487.7h3M415 487.7h3M421 487.7h2M441 487.7h4M454 487.7h2M460 487.7h3M473 487.7h5M496 487.7h2M501 487.7h2M515 487.7h3M531 487.7h4M539 487.7h2M557 487.7h5M570 487.7h2M575 487.7h3M590 487.7h5M613 487.7h2M617 487.7h2M632 487.7h3M647 487.7h5M656 487.7h3M674 487.7h6M691 487.7h9M720 487.7h12M755 487.7h9M770 487.7h29M805 487.7h9M835 487.7h5M846 487.7h5M871 487.7h13M901 487.7h14M974 487.7h43M1056 487.7h17M1106 487.7h10M1123 487.7h11M1159 487.7h5M1171 487.7h5M1179 487.7h7M1193 487.7h6M1207 487.7h9M1224 487.7h5M1234 487.7h6M1254 487.7h26M1297 487.7h2M1315 487.7h7M1380 487.7h5M1399 487.7h2M1404 487.7h2M1485 487.7h3M1492 487.7h4M1500 487.7h12M1526 487.7h7M1609 487.7h14M1631 487.7h27M1663 487.7h7M1689 487.7h2M1694 487.7h2M1723 487.7h13M132 498.0h13M227 498.0h5M258 498.0h10M279 498.0h4M301 498.0h4M329 498.0h4M347 498.0h2M351 498.0h2M367 498.0h7M387 498.0h3M394 498.0h2M404 498.0h4M423 498.0h2M429 498.0h4M447 498.0h4M463 498.0h2M468 498.0h2M486 498.0h6M504 498.0h3M510 498.0h2M521 498.0h4M542 498.0h2M547 498.0h3M564 498.0h4M579 498.0h3M585 498.0h2M604 498.0h6M620 498.0h2M626 498.0h3M638 498.0h4M660 498.0h2M665 498.0h3M683 498.0h4M918 498.0h4M937 498.0h6M966 498.0h3M1040 498.0h8M1078 498.0h18M1100 498.0h3M1300 498.0h2M1306 498.0h3M1327 498.0h12M1346 498.0h13M1388 498.0h2M1394 498.0h3M1409 498.0h46M1465 498.0h9M1536 498.0h3M1572 498.0h4M1581 498.0h4M1593 498.0h10M1675 498.0h5M1685 498.0h3M1703 498.0h12M1740 498.0h3M124 508.2h6M152 508.2h12M201 508.2h9M234 508.2h6M304 508.2h3M320 508.2h4M335 508.2h6M352 508.2h2M356 508.2h2M376 508.2h5M395 508.2h2M399 508.2h2M412 508.2h7M433 508.2h5M442 508.2h2M453 508.2h5M470 508.2h2M474 508.2h2M495 508.2h4M513 508.2h2M517 508.2h2M530 508.2h8M552 508.2h4M560 508.2h2M570 508.2h5M588 508.2h2M593 508.2h3M613 508.2h4M630 508.2h2M634 508.2h2M649 508.2h8M671 508.2h4M679 508.2h2M693 508.2h29M730 508.2h27M762 508.2h10M779 508.2h11M797 508.2h11M811 508.2h26M849 508.2h25M882 508.2h22M971 508.2h17M1016 508.2h4M1053 508.2h5M1071 508.2h3M1113 508.2h12M1132 508.2h40M1183 508.2h26M1214 508.2h23M1257 508.2h7M1276 508.2h22M1313 508.2h4M1321 508.2h2M1378 508.2h3M1384 508.2h2M1400 508.2h5M1487 508.2h6M1607 508.2h3M1620 508.2h14M1644 508.2h5M1657 508.2h7M1669 508.2h3M1690 508.2h5M1720 508.2h8M1735 508.2h3M102 518.5h7M114 518.5h6M142 518.5h4M150 518.5h3M162 518.5h5M198 518.5h4M208 518.5h5M226 518.5h3M246 518.5h36M323 518.5h3M329 518.5h2M344 518.5h4M358 518.5h3M368 518.5h3M384 518.5h7M400 518.5h2M404 518.5h2M421 518.5h5M444 518.5h2M448 518.5h2M462 518.5h4M477 518.5h4M488 518.5h3M503 518.5h6M518 518.5h2M522 518.5h2M541 518.5h5M562 518.5h2M566 518.5h2M579 518.5h6M598 518.5h5M608 518.5h2M621 518.5h5M637 518.5h2M641 518.5h2M661 518.5h5M682 518.5h2M686 518.5h2M920 518.5h47M1037 518.5h13M1081 518.5h3M1094 518.5h7M1244 518.5h6M1302 518.5h5M1325 518.5h3M1336 518.5h14M1356 518.5h6M1389 518.5h6M1408 518.5h2M1454 518.5h12M1472 518.5h9M1538 518.5h35M1584 518.5h16M1678 518.5h8M1699 518.5h9M1714 518.5h3M1742 518.5h35M128 528.7h2M136 528.7h7M228 528.7h3M234 528.7h2M286 528.7h21M330 528.7h2M335 528.7h3M350 528.7h3M371 528.7h2M376 528.7h2M394 528.7h3M406 528.7h3M413 528.7h3M430 528.7h10M450 528.7h2M454 528.7h2M469 528.7h4M492 528.7h2M496 528.7h2M512 528.7h4M525 528.7h3M534 528.7h3M551 528.7h8M568 528.7h2M572 528.7h3M588 528.7h4M611 528.7h2M616 528.7h2M630 528.7h4M645 528.7h4M655 528.7h3M673 528.7h6M690 528.7h9M720 528.7h12M755 528.7h9M770 528.7h29M805 528.7h9M835 528.7h5M846 528.7h4M871 528.7h13M901 528.7h14M974 528.7h44M1055 528.7h17M1106 528.7h10M1123 528.7h11M1159 528.7h5M1171 528.7h5M1178 528.7h8M1193 528.7h6M1207 528.7h9M1224 528.7h4M1234 528.7h6M1254 528.7h25M1297 528.7h2M1316 528.7h6M1380 528.7h5M1399 528.7h2M1404 528.7h2M1485 528.7h3M1492 528.7h4M1500 528.7h13M1525 528.7h8M1609 528.7h13M1632 528.7h38M1689 528.7h2M1694 528.7h2M1725 528.7h12M105 539.0h16M126 539.0h2M151 539.0h15M199 539.0h12M235 539.0h2M243 539.0h12M273 539.0h2M311 539.0h15M337 539.0h3M344 539.0h2M355 539.0h6M378 539.0h2M385 539.0h3M399 539.0h3M417 539.0h2M422 539.0h2M443 539.0h4M457 539.0h2M463 539.0h2M476 539.0h10M499 539.0h2M505 539.0h3M518 539.0h3M538 539.0h2M543 539.0h3M562 539.0h4M576 539.0h3M583 539.0h2M598 539.0h10M618 539.0h3M624 539.0h3M637 539.0h4M659 539.0h2M665 539.0h2M683 539.0h4M919 539.0h3M936 539.0h7M966 539.0h3M1041 539.0h6M1077 539.0h18M1100 539.0h3M1301 539.0h2M1306 539.0h4M1327 539.0h10M1348 539.0h10M1387 539.0h2M1393 539.0h3M1409 539.0h47M1464 539.0h10M1536 539.0h4M1571 539.0h5M1581 539.0h5M1594 539.0h10M1674 539.0h6M1685 539.0h2M1704 539.0h12M1741 539.0h4M1753 539.0h4M1775 539.0h2M102 549.3h4M138 549.3h11M184 549.3h12M217 549.3h13M253 549.3h6M267 549.3h12M285 549.3h16M328 549.3h4M346 549.3h2M350 549.3h2M367 549.3h7M388 549.3h3M394 549.3h2M404 549.3h6M424 549.3h3M432 549.3h5M449 549.3h3M466 549.3h2M470 549.3h2M490 549.3h5M509 549.3h2M514 549.3h2M524 549.3h8M547 549.3h3M556 549.3h3M568 549.3h4M586 549.3h2M591 549.3h2M612 549.3h3M628 549.3h2M633 549.3h2M646 549.3h10M670 549.3h4M678 549.3h2M693 549.3h29M730 549.3h27M762 549.3h10M779 549.3h12M797 549.3h10M811 549.3h26M849 549.3h25M882 549.3h22M972 549.3h17M1006 549.3h5M1017 549.3h5M1030 549.3h2M1053 549.3h3M1070 549.3h4M1113 549.3h12M1132 549.3h40M1183 549.3h26M1214 549.3h23M1257 549.3h7M1276 549.3h22M1314 549.3h3M1321 549.3h3M1378 549.3h3M1384 549.3h2M1400 549.3h5M1486 549.3h7M1607 549.3h4M1619 549.3h17M1641 549.3h9M1658 549.3h5M1668 549.3h3M1690 549.3h5M1721 549.3h9M1736 549.3h3M127 559.5h6M232 559.5h5M300 559.5h4M310 559.5h11M334 559.5h6M351 559.5h2M355 559.5h2M376 559.5h5M396 559.5h2M400 559.5h2M414 559.5h6M437 559.5h4M444 559.5h2M455 559.5h6M472 559.5h2M478 559.5h5M498 559.5h5M516 559.5h2M519 559.5h2M537 559.5h5M560 559.5h2M564 559.5h2M576 559.5h6M594 559.5h3M606 559.5h2M619 559.5h5M636 559.5h2M640 559.5h2M660 559.5h5M682 559.5h2M686 559.5h2M921 559.5h47M1039 559.5h10M1080 559.5h6M1093 559.5h8M1244 559.5h6M1302 559.5h6M1326 559.5h4M1334 559.5h7M1345 559.5h15M1388 559.5h6M1408 559.5h2M1455 559.5h10M1471 559.5h9M1538 559.5h35M1584 559.5h17M1677 559.5h9M1699 559.5h10M1715 559.5h3M1744 559.5h32M103 569.8h21M147 569.8h2M155 569.8h6M182 569.8h7M192 569.8h5M215 569.8h10M239 569.8h18M268 569.8h11M321 569.8h3M328 569.8h2M343 569.8h5M357 569.8h3M367 569.8h4M384 569.8h8M401 569.8h2M405 569.8h2M423 569.8h5M446 569.8h2M449 569.8h2M464 569.8h4M484 569.8h4M492 569.8h2M508 569.8h5M521 569.8h2M527 569.8h4M546 569.8h9M566 569.8h2M570 569.8h2M586 569.8h4M610 569.8h2M614 569.8h2M629 569.8h4M643 569.8h4M654 569.8h3M672 569.8h7M690 569.8h7M721 569.8h11M754 569.8h10M770 569.8h14M786 569.8h13M805 569.8h9M835 569.8h5M846 569.8h4M871 569.8h13M901 569.8h14M975 569.8h6M987 569.8h32M1054 569.8h17M1106 569.8h10M1123 569.8h11M1159 569.8h6M1171 569.8h15M1193 569.8h6M1206 569.8h10M1225 569.8h3M1234 569.8h6M1254 569.8h25M1297 569.8h2M1316 569.8h7M1379 569.8h5M1399 569.8h2M1404 569.8h2M1484 569.8h3M1492 569.8h4M1500 569.8h13M1525 569.8h8M1610 569.8h11M1633 569.8h12M1648 569.8h21M1689 569.8h2M1694 569.8h2M1728 569.8h10M131 580.0h3M144 580.0h3M187 580.0h7M222 580.0h6M232 580.0h2M282 580.0h22M329 580.0h2M334 580.0h2M349 580.0h4M371 580.0h2M376 580.0h2M394 580.0h4M407 580.0h3M415 580.0h3M433 580.0h9M451 580.0h2M457 580.0h2M471 580.0h4M495 580.0h2M500 580.0h2M515 580.0h3M533 580.0h3M540 580.0h2M560 580.0h4M573 580.0h2M580 580.0h2M594 580.0h11M617 580.0h2M622 580.0h3M636 580.0h4M658 580.0h3M664 580.0h2M683 580.0h4M919 580.0h3M936 580.0h8M967 580.0h3M1076 580.0h19M1100 580.0h2M1301 580.0h2M1307 580.0h3M1328 580.0h8M1351 580.0h5M1387 580.0h2M1393 580.0h3M1409 580.0h48M1464 580.0h9M1536 580.0h4M1571 580.0h4M1582 580.0h4M1597 580.0h8M1674 580.0h5M1685 580.0h2M1706 580.0h10M1742 580.0h18M1773 580.0h4M121 590.3h4M129 590.3h2M233 590.3h2M239 590.3h4M307 590.3h17M336 590.3h3M343 590.3h2M355 590.3h5M378 590.3h3M385 590.3h4M400 590.3h3M418 590.3h2M424 590.3h2M444 590.3h4M460 590.3h2M466 590.3h2M481 590.3h10M503 590.3h3M510 590.3h2M521 590.3h4M543 590.3h2M550 590.3h4M566 590.3h4M583 590.3h2M588 590.3h2M610 590.3h4M627 590.3h2M632 590.3h2M644 590.3h11M669 590.3h4M678 590.3h2M692 590.3h30M730 590.3h27M762 590.3h10M779 590.3h12M797 590.3h10M811 590.3h26M849 590.3h24M882 590.3h22M972 590.3h18M1005 590.3h7M1018 590.3h17M1052 590.3h3M1069 590.3h4M1113 590.3h12M1132 590.3h40M1183 590.3h25M1214 590.3h23M1256 590.3h9M1275 590.3h23M1314 590.3h4M1322 590.3h2M1364 590.3h5M1377 590.3h3M1383 590.3h2M1400 590.3h5M1486 590.3h7M1608 590.3h4M1618 590.3h6M1630 590.3h22M1659 590.3h3M1668 590.3h3M1690 590.3h5M1722 590.3h10M1737 590.3h3M106 600.6h17M145 600.6h7M164 600.6h37M210 600.6h17M241 600.6h12M282 600.6h4M326 600.6h5M345 600.6h2M349 600.6h2M366 600.6h8M389 600.6h2M395 600.6h2M405 600.6h6M426 600.6h3M436 600.6h4M450 600.6h4M468 600.6h2M472 600.6h2M494 600.6h4M513 600.6h2M517 600.6h2M531 600.6h8M556 600.6h3M562 600.6h2M573 600.6h6M591 600.6h3M600 600.6h6M617 600.6h5M635 600.6h2M639 600.6h2M659 600.6h5M681 600.6h2M686 600.6h2M921 600.6h47M1040 600.6h8M1079 600.6h8M1093 600.6h8M1244 600.6h5M1302 600.6h6M1327 600.6h12M1347 600.6h12M1388 600.6h6M1408 600.6h3M1446 600.6h2M1455 600.6h10M1471 600.6h8M1539 600.6h33M1585 600.6h17M1676 600.6h10M1699 600.6h11M1715 600.6h4M1745 600.6h7M1758 600.6h16M129 610.8h11M229 610.8h5M285 610.8h16M307 610.8h5M333 610.8h6M351 610.8h2M355 610.8h2M376 610.8h5M396 610.8h2M400 610.8h2M416 610.8h5M440 610.8h3M445 610.8h2M458 610.8h6M474 610.8h3M486 610.8h3M502 610.8h6M518 610.8h2M523 610.8h2M542 610.8h6M564 610.8h2M568 610.8h2M583 610.8h5M608 610.8h2M613 610.8h2M627 610.8h5M642 610.8h3M652 610.8h4M671 610.8h7M690 610.8h6M721 610.8h11M754 610.8h10M770 610.8h13M786 610.8h13M805 610.8h9M835 610.8h5M846 610.8h4M871 610.8h13M901 610.8h15M988 610.8h19M1010 610.8h10M1053 610.8h18M1106 610.8h10M1123 610.8h11M1159 610.8h6M1171 610.8h15M1194 610.8h5M1206 610.8h10M1225 610.8h2M1235 610.8h5M1253 610.8h25M1297 610.8h2M1317 610.8h6M1379 610.8h5M1399 610.8h2M1404 610.8h2M1484 610.8h3M1492 610.8h4M1500 610.8h13M1525 610.8h8M1610 610.8h10M1635 610.8h7M1650 610.8h19M1689 610.8h2M1694 610.8h2M1730 610.8h8M106 621.1h21M150 621.1h3M162 621.1h5M198 621.1h4M208 621.1h5M237 621.1h15M310 621.1h12M326 621.1h2M342 621.1h5M357 621.1h2M367 621.1h4M385 621.1h7M401 621.1h2M406 621.1h2M424 621.1h6M447 621.1h2M451 621.1h2M467 621.1h4M490 621.1h2M495 621.1h2M512 621.1h4M526 621.1h3M535 621.1h3M555 621.1h6M570 621.1h2M576 621.1h3M591 621.1h8M615 621.1h2M620 621.1h3M635 621.1h4M658 621.1h2M663 621.1h3M682 621.1h4M919 621.1h3M935 621.1h10M967 621.1h3M1076 621.1h19M1100 621.1h2M1301 621.1h2M1307 621.1h4M1330 621.1h4M1387 621.1h2M1393 621.1h3M1410 621.1h47M1463 621.1h9M1537 621.1h3M1571 621.1h4M1582 621.1h4M1599 621.1h6M1673 621.1h5M1685 621.1h2M1707 621.1h10M1743 621.1h19M1772 621.1h5M135 631.3h7M148 631.3h3M166 631.3h19M195 631.3h4M212 631.3h7M229 631.3h2M258 631.3h10M279 631.3h21M328 631.3h2M333 631.3h2M349 631.3h3M370 631.3h3M376 631.3h3M395 631.3h3M408 631.3h3M417 631.3h2M437 631.3h7M453 631.3h2M460 631.3h2M473 631.3h7M498 631.3h2M504 631.3h3M518 631.3h4M539 631.3h2M545 631.3h3M564 631.3h3M580 631.3h3M586 631.3h2M608 631.3h5M625 631.3h2M631 631.3h2M643 631.3h10M668 631.3h4M677 631.3h3M692 631.3h30M730 631.3h27M762 631.3h10M779 631.3h12M796 631.3h11M812 631.3h25M849 631.3h24M882 631.3h22M973 631.3h18M1003 631.3h10M1019 631.3h17M1051 631.3h3M1068 631.3h5M1113 631.3h12M1132 631.3h41M1183 631.3h25M1214 631.3h23M1256 631.3h10M1275 631.3h23M1315 631.3h4M1322 631.3h3M1362 631.3h11M1375 631.3h5M1383 631.3h2M1400 631.3h5M1486 631.3h7M1608 631.3h5M1617 631.3h6M1631 631.3h22M1667 631.3h3M1690 631.3h5M1724 631.3h9M1738 631.3h2M125 641.6h3M132 641.6h5M231 641.6h2M236 641.6h2M304 641.6h17M335 641.6h2M342 641.6h2M354 641.6h5M378 641.6h3M386 641.6h3M400 641.6h4M420 641.6h2M425 641.6h2M446 641.6h4M463 641.6h2M468 641.6h2M489 641.6h5M508 641.6h3M513 641.6h2M525 641.6h9M549 641.6h5M559 641.6h2M570 641.6h5M589 641.6h2M595 641.6h5M616 641.6h4M634 641.6h2M638 641.6h2M658 641.6h6M681 641.6h2M686 641.6h2M921 641.6h17M942 641.6h26M1042 641.6h5M1078 641.6h10M1092 641.6h9M1245 641.6h4M1302 641.6h6M1327 641.6h10M1349 641.6h8M1388 641.6h6M1408 641.6h3M1444 641.6h5M1456 641.6h8M1470 641.6h8M1539 641.6h33M1585 641.6h18M1676 641.6h10M1699 641.6h11M1716 641.6h3M1761 641.6h12M102 651.9h2M123 651.9h3M149 651.9h34M197 651.9h19M238 651.9h3M257 651.9h12M278 651.9h4M325 651.9h5M344 651.9h2M349 651.9h2M365 651.9h8M389 651.9h3M395 651.9h2M406 651.9h7M428 651.9h3M439 651.9h3M452 651.9h5M470 651.9h2M475 651.9h3M497 651.9h5M516 651.9h2M519 651.9h2M539 651.9h5M562 651.9h2M566 651.9h2M580 651.9h6M604 651.9h4M611 651.9h2M625 651.9h6M641 651.9h2M650 651.9h4M670 651.9h8M690 651.9h5M721 651.9h11M754 651.9h10M770 651.9h13M787 651.9h12M805 651.9h9M835 651.9h6M846 651.9h4M871 651.9h13M901 651.9h15M990 651.9h15M1012 651.9h10M1030 651.9h2M1052 651.9h18M1106 651.9h10M1123 651.9h11M1158 651.9h7M1171 651.9h14M1194 651.9h4M1206 651.9h10M1235 651.9h5M1253 651.9h6M1262 651.9h16M1297 651.9h2M1318 651.9h6M1378 651.9h6M1399 651.9h2M1404 651.9h2M1484 651.9h3M1491 651.9h5M1500 651.9h13M1524 651.9h10M1611 651.9h8M1638 651.9h2M1651 651.9h17M1689 651.9h2M1694 651.9h2M1732 651.9h7M133 662.1h13M190 662.1h2M226 662.1h6M281 662.1h4M303 662.1h4M332 662.1h5M350 662.1h2M354 662.1h2M376 662.1h5M397 662.1h2M400 662.1h2M417 662.1h6M442 662.1h2M447 662.1h2M461 662.1h5M479 662.1h6M491 662.1h2M507 662.1h5M522 662.1h2M528 662.1h5M548 662.1h10M568 662.1h2M573 662.1h2M589 662.1h6M614 662.1h2M619 662.1h2M634 662.1h4M657 662.1h2M662 662.1h3M682 662.1h4M919 662.1h3M935 662.1h10M957 662.1h4M968 662.1h2M1075 662.1h5M1085 662.1h9M1099 662.1h3M1301 662.1h2M1307 662.1h5M1386 662.1h3M1393 662.1h3M1410 662.1h49M1462 662.1h10M1537 662.1h3M1570 662.1h4M1583 662.1h4M1601 662.1h5M1673 662.1h5M1685 662.1h2M1708 662.1h9M1744 662.1h10M1756 662.1h9M1769 662.1h6M124 672.4h6M154 672.4h7M234 672.4h6M306 672.4h5M325 672.4h2M340 672.4h6M356 672.4h2M366 672.4h4M385 672.4h8M402 672.4h2M407 672.4h2M425 672.4h9M449 672.4h2M453 672.4h2M469 672.4h4M494 672.4h2M499 672.4h2M515 672.4h4M534 672.4h3M541 672.4h2M562 672.4h3M576 672.4h4M584 672.4h2M605 672.4h6M623 672.4h2M629 672.4h2M641 672.4h10M667 672.4h4M677 672.4h2M692 672.4h30M730 672.4h27M762 672.4h10M778 672.4h13M796 672.4h11M812 672.4h25M849 672.4h24M882 672.4h23M974 672.4h18M1002 672.4h12M1020 672.4h18M1050 672.4h3M1066 672.4h6M1113 672.4h12M1132 672.4h41M1183 672.4h25M1214 672.4h24M1256 672.4h10M1274 672.4h24M1316 672.4h3M1323 672.4h2M1341 672.4h4M1360 672.4h19M1383 672.4h2M1400 672.4h5M1486 672.4h7M1507 672.4h2M1609 672.4h13M1633 672.4h20M1667 672.4h3M1690 672.4h5M1728 672.4h6M1738 672.4h3M102 682.6h4M144 682.6h3M152 682.6h5M159 682.6h5M187 682.6h7M200 682.6h10M224 682.6h4M251 682.6h33M327 682.6h2M332 682.6h2M348 682.6h4M370 682.6h3M376 682.6h3M395 682.6h4M410 682.6h3M418 682.6h3M440 682.6h5M456 682.6h2M463 682.6h2M476 682.6h13M502 682.6h3M509 682.6h3M521 682.6h5M544 682.6h3M554 682.6h4M568 682.6h4M587 682.6h2M592 682.6h3M614 682.6h5M632 682.6h2M637 682.6h2M658 682.6h5M681 682.6h2M685 682.6h2M921 682.6h16M943 682.6h26M1077 682.6h23M1245 682.6h3M1302 682.6h7M1328 682.6h7M1388 682.6h6M1408 682.6h3M1442 682.6h8M1456 682.6h8M1470 682.6h7M1539 682.6h33M1586 682.6h17M1675 682.6h11M1700 682.6h11M1716 682.6h4M1763 682.6h8M128 692.9h3M138 692.9h7M227 692.9h3M234 692.9h2M300 692.9h10M333 692.9h3M340 692.9h3M354 692.9h5M378 692.9h3M386 692.9h4M400 692.9h4M421 692.9h2M427 692.9h3M447 692.9h4M465 692.9h2M470 692.9h2M493 692.9h4M512 692.9h2M516 692.9h2M533 692.9h7M559 692.9h2M564 692.9h2M576 692.9h7M597 692.9h7M609 692.9h2M623 692.9h6M639 692.9h2M647 692.9h6M669 692.9h9M689 692.9h5M721 692.9h10M754 692.9h10M770 692.9h12M787 692.9h11M805 692.9h9M836 692.9h5M845 692.9h5M871 692.9h13M901 692.9h15M991 692.9h13M1013 692.9h22M1052 692.9h17M1105 692.9h11M1123 692.9h11M1158 692.9h7M1171 692.9h14M1195 692.9h3M1206 692.9h10M1235 692.9h5M1253 692.9h5M1263 692.9h14M1297 692.9h2M1318 692.9h6M1363 692.9h7M1377 692.9h6M1399 692.9h2M1405 692.9h2M1484 692.9h3M1491 692.9h5M1500 692.9h14M1524 692.9h10M1612 692.9h6M1652 692.9h16M1689 692.9h2M1694 692.9h2M1733 692.9h7M103 703.2h4M115 703.2h5M126 703.2h3M153 703.2h10M202 703.2h7M235 703.2h2M245 703.2h12M269 703.2h9M323 703.2h5M343 703.2h2M348 703.2h2M364 703.2h9M390 703.2h2M395 703.2h2M407 703.2h8M430 703.2h6M442 703.2h2M454 703.2h6M472 703.2h2M480 703.2h7M501 703.2h7M519 703.2h2M523 703.2h2M544 703.2h8M566 703.2h2M570 703.2h2M587 703.2h5M612 703.2h2M617 703.2h2M633 703.2h4M655 703.2h3M662 703.2h2M682 703.2h4M919 703.2h3M934 703.2h12M956 703.2h6M968 703.2h3M1074 703.2h5M1086 703.2h8M1099 703.2h3M1301 703.2h2M1308 703.2h4M1386 703.2h2M1392 703.2h4M1410 703.2h61M1537 703.2h4M1554 703.2h2M1570 703.2h4M1583 703.2h4M1602 703.2h4M1672 703.2h5M1684 703.2h3M1709 703.2h9M1747 703.2h2M1760 703.2h13M102 713.4h2M141 713.4h9M168 713.4h9M180 713.4h18M214 713.4h15M255 713.4h15M277 713.4h4M299 713.4h5M331 713.4h5M350 713.4h2M354 713.4h2M376 713.4h5M397 713.4h2M401 713.4h2M419 713.4h5M444 713.4h2M448 713.4h2M464 713.4h5M488 713.4h3M494 713.4h2M512 713.4h4M526 713.4h5M537 713.4h3M558 713.4h5M573 713.4h3M580 713.4h3M597 713.4h12M620 713.4h3M628 713.4h2M640 713.4h8M666 713.4h4M676 713.4h3M691 713.4h32M729 713.4h27M763 713.4h9M778 713.4h14M796 713.4h10M812 713.4h25M849 713.4h24M882 713.4h23M975 713.4h7M986 713.4h8M1001 713.4h7M1010 713.4h5M1022 713.4h8M1032 713.4h7M1049 713.4h4M1061 713.4h10M1113 713.4h12M1132 713.4h41M1182 713.4h26M1215 713.4h23M1255 713.4h12M1274 713.4h24M1316 713.4h4M1323 713.4h3M1339 713.4h8M1359 713.4h19M1382 713.4h2M1400 713.4h5M1486 713.4h7M1506 713.4h2M1609 713.4h12M1634 713.4h10M1649 713.4h5M1666 713.4h3M1690 713.4h5M1731 713.4h4M1739 713.4h3M127 723.7h7M232 723.7h5M303 723.7h4M322 723.7h3M339 723.7h6M355 723.7h3M365 723.7h5M386 723.7h7M403 723.7h2M408 723.7h3M427 723.7h12M450 723.7h2M456 723.7h2M471 723.7h5M497 723.7h2M503 723.7h3M518 723.7h4M540 723.7h3M547 723.7h4M566 723.7h3M584 723.7h3M590 723.7h2M613 723.7h4M631 723.7h2M636 723.7h2M657 723.7h5M680 723.7h2M685 723.7h2M921 723.7h15M943 723.7h26M1076 723.7h24M1303 723.7h6M1330 723.7h3M1387 723.7h7M1408 723.7h3M1441 723.7h10M1457 723.7h6M1469 723.7h7M1539 723.7h32M1586 723.7h18M1674 723.7h11M1700 723.7h11M1717 723.7h4M102 733.9h22M148 733.9h3M166 733.9h19M195 733.9h4M212 733.9h9M240 733.9h21M265 733.9h16M325 733.9h2M330 733.9h2M347 733.9h4M370 733.9h3M376 733.9h3M395 733.9h4M411 733.9h4M420 733.9h2M443 733.9h4M459 733.9h3M465 733.9h2M485 733.9h8M507 733.9h3M513 733.9h2M525 733.9h10M553 733.9h4M561 733.9h2M573 733.9h7M593 733.9h4M607 733.9h2M621 733.9h7M638 733.9h2M644 733.9h6M668 733.9h9M689 733.9h4M721 733.9h10M754 733.9h10M770 733.9h12M788 733.9h10M804 733.9h10M836 733.9h5M845 733.9h5M871 733.9h13M901 733.9h15M992 733.9h10M1014 733.9h23M1051 733.9h16M1105 733.9h11M1123 733.9h11M1158 733.9h7M1171 733.9h14M1195 733.9h2M1206 733.9h11M1236 733.9h5M1252 733.9h5M1264 733.9h13M1297 733.9h3M1319 733.9h6M1361 733.9h12M1375 733.9h8M1399 733.9h2M1405 733.9h2M1484 733.9h3M1491 733.9h5M1500 733.9h14M1524 733.9h10M1613 733.9h4M1653 733.9h14M1689 733.9h2M1694 733.9h2M1734 733.9h7M131 744.2h4M146 744.2h3M183 744.2h14M216 744.2h11M231 744.2h2M284 744.2h22M332 744.2h2M339 744.2h3M353 744.2h5M379 744.2h2M387 744.2h3M401 744.2h4M422 744.2h2M429 744.2h5M449 744.2h4M468 744.2h2M472 744.2h3M496 744.2h5M516 744.2h2M519 744.2h2M540 744.2h6M564 744.2h2M568 744.2h2M584 744.2h5M611 744.2h2M615 744.2h2M632 744.2h4M654 744.2h3M661 744.2h2M681 744.2h5M919 744.2h4M934 744.2h13M955 744.2h8M968 744.2h3M1074 744.2h4M1087 744.2h7M1099 744.2h3M1301 744.2h3M1308 744.2h5M1386 744.2h2M1392 744.2h4M1410 744.2h34M1449 744.2h22M1537 744.2h4M1553 744.2h4M1570 744.2h4M1584 744.2h4M1602 744.2h5M1626 744.2h2M1672 744.2h4M1684 744.2h3M1710 744.2h9M1762 744.2h9M107 754.5h8M121 754.5h4M129 754.5h3M233 754.5h2M239 754.5h5M312 754.5h15M341 754.5h3M347 754.5h2M363 754.5h10M390 754.5h3M396 754.5h2M408 754.5h9M435 754.5h5M444 754.5h2M457 754.5h7M475 754.5h4M489 754.5h3M506 754.5h6M522 754.5h2M529 754.5h5M552 754.5h8M570 754.5h2M576 754.5h4M593 754.5h13M619 754.5h2M626 754.5h2M639 754.5h6M665 754.5h4M676 754.5h2M691 754.5h32M729 754.5h27M763 754.5h10M778 754.5h14M796 754.5h10M812 754.5h26M848 754.5h25M882 754.5h24M908 754.5h3M976 754.5h4M988 754.5h7M999 754.5h6M1012 754.5h4M1035 754.5h6M1048 754.5h4M1058 754.5h12M1112 754.5h13M1132 754.5h41M1182 754.5h26M1215 754.5h23M1255 754.5h13M1273 754.5h25M1317 754.5h3M1324 754.5h3M1337 754.5h12M1357 754.5h6M1370 754.5h7M1382 754.5h2M1400 754.5h5M1486 754.5h7M1506 754.5h3M1528 754.5h3M1610 754.5h10M1636 754.5h5M1651 754.5h4M1666 754.5h3M1690 754.5h5M1732 754.5h4M1740 754.5h3M1775 754.5h2M104 764.7h5M112 764.7h10M147 764.7h7M161 764.7h27M194 764.7h31M242 764.7h14M270 764.7h8M284 764.7h16M329 764.7h5M349 764.7h2M353 764.7h2M376 764.7h6M398 764.7h2M401 764.7h2M420 764.7h6M446 764.7h2M450 764.7h2M467 764.7h4M492 764.7h2M498 764.7h2M515 764.7h4M536 764.7h3M542 764.7h3M563 764.7h4M581 764.7h3M587 764.7h2M611 764.7h4M630 764.7h2M635 764.7h2M655 764.7h6M680 764.7h2M685 764.7h2M921 764.7h15M944 764.7h26M1076 764.7h24M1303 764.7h7M1387 764.7h6M1409 764.7h3M1422 764.7h6M1440 764.7h11M1458 764.7h4M1469 764.7h6M1539 764.7h32M1586 764.7h19M1674 764.7h11M1701 764.7h11M1718 764.7h5M130 775.0h13M229 775.0h5M289 775.0h3M298 775.0h6M310 775.0h14M337 775.0h7M355 775.0h2M363 775.0h7M386 775.0h8M403 775.0h2M409 775.0h4M430 775.0h12M452 775.0h2M459 775.0h3M474 775.0h11M501 775.0h3M509 775.0h2M521 775.0h6M546 775.0h4M558 775.0h2M570 775.0h5M590 775.0h3M601 775.0h6M619 775.0h7M637 775.0h2M642 775.0h4M666 775.0h11M689 775.0h3M721 775.0h10M754 775.0h11M770 775.0h12M788 775.0h10M804 775.0h11M836 775.0h5M845 775.0h5M871 775.0h13M901 775.0h15M993 775.0h8M1015 775.0h23M1050 775.0h12M1105 775.0h11M1123 775.0h11M1158 775.0h7M1171 775.0h14M1206 775.0h11M1236 775.0h5M1252 775.0h5M1265 775.0h11M1297 775.0h3M1319 775.0h6M1340 775.0h6M1360 775.0h23M1398 775.0h3M1405 775.0h2M1483 775.0h4M1491 775.0h4M1500 775.0h14M1523 775.0h12M1654 775.0h13M1689 775.0h2M1694 775.0h2M1735 775.0h7M104 785.2h23M152 785.2h4M159 785.2h5M200 785.2h11M236 785.2h18M271 785.2h6M323 785.2h3M329 785.2h2M347 785.2h4M370 785.2h3M376 785.2h3M396 785.2h4M414 785.2h3M421 785.2h3M444 785.2h4M462 785.2h3M468 785.2h2M491 785.2h5M512 785.2h2M516 785.2h2M535 785.2h6M561 785.2h2M565 785.2h2M581 785.2h6M608 785.2h3M614 785.2h2M630 785.2h5M652 785.2h4M660 785.2h2M681 785.2h4M919 785.2h4M933 785.2h15M953 785.2h11M969 785.2h3M1073 785.2h4M1088 785.2h5M1099 785.2h3M1302 785.2h2M1309 785.2h5M1386 785.2h2M1392 785.2h4M1410 785.2h33M1450 785.2h20M1537 785.2h4M1552 785.2h6M1569 785.2h4M1584 785.2h4M1603 785.2h4M1624 785.2h6M1671 785.2h4M1684 785.2h3M1711 785.2h9M1765 785.2h4M137 795.5h7M149 795.5h3M163 795.5h6M175 795.5h6M198 795.5h4M209 795.5h6M228 795.5h3M261 795.5h3M281 795.5h22M331 795.5h2M337 795.5h3M353 795.5h4M379 795.5h2M387 795.5h4M402 795.5h4M424 795.5h2M433 795.5h6M451 795.5h5M470 795.5h2M476 795.5h4M499 795.5h8M519 795.5h2M523 795.5h3M546 795.5h10M568 795.5h2M573 795.5h2M591 795.5h8M617 795.5h2M623 795.5h3M638 795.5h5M664 795.5h3M675 795.5h3M690 795.5h33M729 795.5h27M763 795.5h10M778 795.5h15M795 795.5h11M812 795.5h26M848 795.5h25M882 795.5h30M990 795.5h14M1013 795.5h4M1036 795.5h7M1046 795.5h5M1057 795.5h12M1112 795.5h13M1132 795.5h41M1182 795.5h26M1215 795.5h23M1255 795.5h14M1271 795.5h27M1318 795.5h3M1325 795.5h3M1335 795.5h26M1372 795.5h4M1382 795.5h2M1400 795.5h5M1486 795.5h6M1506 795.5h3M1528 795.5h3M1610 795.5h9M1652 795.5h4M1665 795.5h3M1690 795.5h5M1733 795.5h3M1741 795.5h4M1751 795.5h8M1773 795.5h4M125 805.8h3M133 805.8h6M230 805.8h2M236 805.8h2M307 805.8h19M340 805.8h3M347 805.8h2M361 805.8h12M391 805.8h2M396 805.8h2M409 805.8h9M440 805.8h2M445 805.8h2M460 805.8h6M482 805.8h7M493 805.8h2M511 805.8h5M527 805.8h6M538 805.8h3M561 805.8h4M577 805.8h4M585 805.8h2M609 805.8h5M628 805.8h2M633 805.8h2M654 805.8h6M680 805.8h2M685 805.8h2M921 805.8h14M945 805.8h12M962 805.8h8M1075 805.8h25M1303 805.8h8M1387 805.8h6M1409 805.8h3M1421 805.8h9M1439 805.8h13M1469 805.8h5M1540 805.8h31M1587 805.8h18M1673 805.8h12M1702 805.8h11M1718 805.8h9M109 816.0h3M122 816.0h4M150 816.0h16M199 816.0h14M238 816.0h3M259 816.0h7M280 816.0h4M328 816.0h5M348 816.0h2M353 816.0h2M376 816.0h6M398 816.0h2M402 816.0h2M422 816.0h6M447 816.0h2M452 816.0h2M469 816.0h5M496 816.0h2M502 816.0h3M518 816.0h4M542 816.0h2M550 816.0h6M568 816.0h4M588 816.0h2M594 816.0h6M617 816.0h6M636 816.0h2M641 816.0h3M665 816.0h11M688 816.0h4M711 816.0h2M721 816.0h10M754 816.0h11M771 816.0h10M788 816.0h10M804 816.0h11M836 816.0h6M845 816.0h5M871 816.0h13M901 816.0h15M994 816.0h6M1016 816.0h23M1049 816.0h9M1105 816.0h11M1123 816.0h11M1158 816.0h7M1171 816.0h14M1206 816.0h11M1236 816.0h5M1252 816.0h4M1265 816.0h11M1298 816.0h2M1320 816.0h6M1338 816.0h10M1358 816.0h24M1398 816.0h3M1405 816.0h2M1483 816.0h4M1491 816.0h4M1500 816.0h15M1523 816.0h12M1655 816.0h11M1688 816.0h2M1694 816.0h2M1736 816.0h7M1775 816.0h2M134 826.3h14M185 826.3h10M223 826.3h9M283 826.3h16M306 826.3h7M316 826.3h3M335 826.3h8M354 826.3h2M362 826.3h7M387 826.3h7M404 826.3h2M411 826.3h4M435 826.3h9M455 826.3h2M462 826.3h3M478 826.3h13M506 826.3h4M513 826.3h2M526 826.3h11M557 826.3h3M563 826.3h2M577 826.3h7M605 826.3h4M612 826.3h2M629 826.3h5M648 826.3h6M659 826.3h2M681 826.3h4M920 826.3h3M933 826.3h16M952 826.3h12M969 826.3h3M1072 826.3h4M1090 826.3h2M1099 826.3h3M1302 826.3h2M1309 826.3h6M1385 826.3h2M1392 826.3h3M1411 826.3h30M1450 826.3h20M1538 826.3h4M1551 826.3h8M1569 826.3h4M1584 826.3h4M1604 826.3h4M1623 826.3h9M1671 826.3h4M1684 826.3h3M1711 826.3h10M123 836.5h7M234 836.5h6M310 836.5h14M328 836.5h2M346 836.5h4M369 836.5h4M376 836.5h3M396 836.5h4M416 836.5h3M423 836.5h2M446 836.5h4M465 836.5h2M470 836.5h2M495 836.5h5M515 836.5h2M520 836.5h2M541 836.5h7M566 836.5h2M570 836.5h2M588 836.5h6M615 836.5h2M621 836.5h3M637 836.5h4M663 836.5h3M674 836.5h3M690 836.5h33M729 836.5h27M763 836.5h10M777 836.5h16M794 836.5h12M813 836.5h25M848 836.5h25M882 836.5h30M991 836.5h12M1014 836.5h4M1038 836.5h12M1056 836.5h12M1112 836.5h13M1132 836.5h41M1182 836.5h26M1215 836.5h23M1254 836.5h45M1318 836.5h3M1325 836.5h4M1334 836.5h6M1347 836.5h12M1381 836.5h2M1400 836.5h6M1485 836.5h7M1505 836.5h5M1527 836.5h5M1611 836.5h7M1653 836.5h4M1665 836.5h3M1690 836.5h5M1734 836.5h3M1742 836.5h20M1772 836.5h5M102 846.8h2M145 846.8h4M153 846.8h9M183 846.8h14M203 846.8h4M217 846.8h10M254 846.8h17M277 846.8h10M295 846.8h2M330 846.8h2M335 846.8h4M352 846.8h5M379 846.8h2M388 846.8h4M402 846.8h5M425 846.8h3M439 846.8h3M453 846.8h7M473 846.8h2M485 846.8h5M505 846.8h7M522 846.8h2M531 846.8h5M557 846.8h6M573 846.8h3M581 846.8h3M606 846.8h6M626 846.8h3M632 846.8h2M651 846.8h8M679 846.8h2M684 846.8h2M922 846.8h13M946 846.8h10M963 846.8h7M1074 846.8h26M1303 846.8h9M1386 846.8h7M1409 846.8h3M1420 846.8h12M1438 846.8h14M1468 846.8h5M1540 846.8h30M1587 846.8h19M1673 846.8h12M1707 846.8h6M1719 846.8h12M128 857.1h3M141 857.1h5M188 857.1h5M226 857.1h4M233 857.1h2M303 857.1h21M338 857.1h4M346 857.1h2M360 857.1h13M392 857.1h2M397 857.1h2M411 857.1h9M442 857.1h2M447 857.1h2M464 857.1h5M491 857.1h2M496 857.1h3M515 857.1h4M537 857.1h3M544 857.1h3M565 857.1h4M585 857.1h3M591 857.1h3M615 857.1h6M635 857.1h2M640 857.1h2M664 857.1h11M688 857.1h4M711 857.1h2M721 857.1h10M754 857.1h11M771 857.1h10M789 857.1h9M804 857.1h11M836 857.1h6M844 857.1h6M870 857.1h14M902 857.1h15M1017 857.1h24M1048 857.1h9M1105 857.1h11M1123 857.1h10M1157 857.1h9M1172 857.1h12M1206 857.1h11M1236 857.1h5M1252 857.1h4M1266 857.1h9M1298 857.1h2M1321 857.1h6M1337 857.1h14M1356 857.1h26M1398 857.1h3M1405 857.1h2M1483 857.1h4M1491 857.1h4M1500 857.1h15M1522 857.1h13M1577 857.1h3M1656 857.1h10M1688 857.1h2M1694 857.1h2M1737 857.1h7M1753 857.1h5M1774 857.1h3M102 867.3h3M126 867.3h3M155 867.3h5M235 867.3h2M253 867.3h7M266 867.3h6M276 867.3h4M327 867.3h5M348 867.3h2M352 867.3h2M376 867.3h6M399 867.3h2M403 867.3h2M423 867.3h8M449 867.3h2M454 867.3h3M471 867.3h7M500 867.3h2M508 867.3h3M521 867.3h7M549 867.3h6M560 867.3h2M573 867.3h8M596 867.3h9M610 867.3h2M627 867.3h5M645 867.3h7M658 867.3h2M680 867.3h5M920 867.3h3M933 867.3h32M969 867.3h4M1008 867.3h2M1072 867.3h4M1099 867.3h3M1302 867.3h2M1310 867.3h6M1385 867.3h2M1391 867.3h4M1411 867.3h12M1428 867.3h12M1451 867.3h18M1538 867.3h4M1550 867.3h9M1568 867.3h5M1585 867.3h4M1604 867.3h4M1622 867.3h11M1644 867.3h5M1670 867.3h4M1683 867.3h3M1712 867.3h10M143 877.6h8M165 877.6h35M211 877.6h18M258 877.6h9M280 877.6h3M303 877.6h4M334 877.6h8M354 877.6h2M361 877.6h8M387 877.6h8M405 877.6h2M413 877.6h4M440 877.6h5M458 877.6h3M465 877.6h2M489 877.6h6M512 877.6h2M516 877.6h2M537 877.6h6M563 877.6h2M567 877.6h2M586 877.6h5M613 877.6h2M619 877.6h2M636 877.6h4M662 877.6h3M673 877.6h4M690 877.6h33M729 877.6h27M763 877.6h10M777 877.6h29M813 877.6h25M848 877.6h25M882 877.6h31M992 877.6h10M1015 877.6h4M1039 877.6h10M1055 877.6h9M1112 877.6h13M1131 877.6h42M1182 877.6h25M1215 877.6h23M1254 877.6h45M1319 877.6h3M1326 877.6h12M1349 877.6h8M1381 877.6h2M1400 877.6h6M1485 877.6h7M1505 877.6h5M1526 877.6h6M1612 877.6h5M1654 877.6h4M1664 877.6h3M1690 877.6h5M1735 877.6h3M1743 877.6h21M1769 877.6h6M127 887.8h8M231 887.8h6M306 887.8h6M315 887.8h5M326 887.8h3M345 887.8h5M369 887.8h3M376 887.8h3M397 887.8h4M418 887.8h2M424 887.8h3M448 887.8h4M468 887.8h2M473 887.8h2M498 887.8h8M519 887.8h2M523 887.8h3M548 887.8h11M570 887.8h2M577 887.8h4M597 887.8h13M623 887.8h4M631 887.8h2M647 887.8h11M679 887.8h2M684 887.8h2M922 887.8h13M946 887.8h9M963 887.8h8M1074 887.8h26M1303 887.8h10M1386 887.8h7M1409 887.8h4M1419 887.8h26M1448 887.8h5M1468 887.8h4M1540 887.8h30M1587 887.8h19M1626 887.8h3M1672 887.8h13M1709 887.8h5M1720 887.8h12M102 898.1h22M149 898.1h3M163 898.1h6M175 898.1h6M198 898.1h3M209 898.1h6M240 898.1h43M328 898.1h2M334 898.1h3M351 898.1h5M379 898.1h3M389 898.1h3M403 898.1h5M427 898.1h6M442 898.1h2M456 898.1h7M476 898.1h8M491 898.1h3M511 898.1h4M528 898.1h7M540 898.1h2M563 898.1h4M582 898.1h3M588 898.1h3M614 898.1h5M634 898.1h2M639 898.1h2M664 898.1h10M688 898.1h3M710 898.1h3M721 898.1h10M753 898.1h12M771 898.1h10M789 898.1h9M804 898.1h11M836 898.1h6M844 898.1h6M870 898.1h14M902 898.1h15M1018 898.1h25M1046 898.1h10M1105 898.1h11M1123 898.1h10M1157 898.1h9M1172 898.1h12M1206 898.1h11M1236 898.1h5M1251 898.1h5M1266 898.1h9M1298 898.1h2M1321 898.1h7M1335 898.1h46M1398 898.1h3M1405 898.1h2M1482 898.1h4M1491 898.1h4M1500 898.1h15M1522 898.1h13M1577 898.1h4M1657 898.1h8M1688 898.1h2M1694 898.1h3M1737 898.1h10M1749 898.1h12M1772 898.1h5M132 908.4h5M147 908.4h3M167 908.4h19M195 908.4h4M213 908.4h12M231 908.4h2M288 908.4h5M298 908.4h12M336 908.4h4M345 908.4h2M359 908.4h14M392 908.4h3M397 908.4h2M414 908.4h8M444 908.4h2M449 908.4h2M467 908.4h4M495 908.4h2M501 908.4h3M518 908.4h4M543 908.4h3M555 908.4h4M570 908.4h6M592 908.4h4M608 908.4h2M624 908.4h7M642 908.4h6M657 908.4h3M680 908.4h5M920 908.4h3M932 908.4h33M970 908.4h4M984 908.4h2M1006 908.4h6M1071 908.4h4M1098 908.4h3M1302 908.4h3M1311 908.4h6M1385 908.4h2M1391 908.4h4M1411 908.4h11M1430 908.4h9M1452 908.4h17M1538 908.4h4M1549 908.4h11M1568 908.4h4M1585 908.4h4M1605 908.4h4M1621 908.4h14M1642 908.4h8M1670 908.4h3M1683 908.4h3M1713 908.4h14M105 918.6h20M129 918.6h4M232 918.6h3M239 918.6h14M271 918.6h5M325 918.6h5M347 918.6h2M352 918.6h2M376 918.6h7M399 918.6h2M403 918.6h2M425 918.6h13M451 918.6h2M458 918.6h3M474 918.6h15M505 918.6h4M513 918.6h2M527 918.6h11M560 918.6h2M565 918.6h2M582 918.6h6M612 918.6h2M617 918.6h2M635 918.6h4M661 918.6h3M671 918.6h5M689 918.6h34M729 918.6h27M763 918.6h11M777 918.6h29M813 918.6h25M848 918.6h25M882 918.6h31M993 918.6h8M1016 918.6h4M1041 918.6h7M1054 918.6h4M1112 918.6h13M1131 918.6h30M1163 918.6h10M1182 918.6h25M1215 918.6h24M1254 918.6h45M1320 918.6h2M1327 918.6h9M1352 918.6h3M1380 918.6h3M1400 918.6h6M1485 918.6h7M1505 918.6h5M1526 918.6h7M1614 918.6h2M1655 918.6h5M1662 918.6h5M1690 918.6h5M1736 918.6h3M1744 918.6h8M1759 918.6h14M102 928.9h4M116 928.9h5M148 928.9h36M196 928.9h25M242 928.9h16M267 928.9h13M286 928.9h17M333 928.9h7M353 928.9h2M360 928.9h8M388 928.9h7M405 928.9h3M416 928.9h3M443 928.9h4M462 928.9h3M468 928.9h2M493 928.9h6M515 928.9h2M520 928.9h2M543 928.9h10M568 928.9h2M573 928.9h3M592 928.9h15M621 928.9h3M629 928.9h2M644 928.9h13M679 928.9h2M684 928.9h2M922 928.9h12M947 928.9h7M964 928.9h7M1073 928.9h26M1304 928.9h10M1386 928.9h6M1409 928.9h4M1418 928.9h25M1449 928.9h5M1467 928.9h5M1540 928.9h14M1556 928.9h14M1588 928.9h19M1624 928.9h7M1671 928.9h13M1710 928.9h4M1722 928.9h11M130 939.1h15M228 939.1h6M302 939.1h4M324 939.1h3M343 939.1h6M368 939.1h4M376 939.1h3M397 939.1h4M419 939.1h3M426 939.1h4M450 939.1h5M470 939.1h2M477 939.1h10M504 939.1h8M522 939.1h3M533 939.1h5M560 939.1h5M578 939.1h4M586 939.1h2M612 939.1h5M633 939.1h2M637 939.1h2M663 939.1h10M688 939.1h3M710 939.1h3M721 939.1h10M753 939.1h12M771 939.1h10M789 939.1h9M804 939.1h11M836 939.1h14M870 939.1h14M902 939.1h15M1019 939.1h36M1104 939.1h12M1123 939.1h10M1157 939.1h9M1172 939.1h12M1205 939.1h12M1237 939.1h5M1251 939.1h4M1267 939.1h7M1298 939.1h2M1322 939.1h7M1333 939.1h48M1398 939.1h3M1405 939.1h2M1482 939.1h4M1491 939.1h4M1500 939.1h16M1521 939.1h14M1576 939.1h6M1658 939.1h6M1688 939.1h2M1694 939.1h3M1738 939.1h25M1770 939.1h7M102 949.4h25M153 949.4h9M203 949.4h4M236 949.4h21M268 949.4h11M327 949.4h2M332 949.4h3M351 949.4h4M379 949.4h3M389 949.4h4M403 949.4h7M431 949.4h8M444 949.4h2M459 949.4h7M488 949.4h4M495 949.4h3M515 949.4h4M539 949.4h3M546 949.4h5M567 949.4h5M589 949.4h3M601 949.4h7M622 949.4h7M641 949.4h3M655 949.4h4M680 949.4h4M920 949.4h4M932 949.4h6M942 949.4h24M970 949.4h5M981 949.4h7M1004 949.4h9M1070 949.4h4M1098 949.4h3M1302 949.4h3M1312 949.4h5M1384 949.4h3M1391 949.4h4M1411 949.4h10M1432 949.4h6M1452 949.4h17M1538 949.4h5M1549 949.4h12M1568 949.4h4M1585 949.4h5M1605 949.4h4M1620 949.4h18M1639 949.4h13M1669 949.4h4M1683 949.4h3M1713 949.4h18M140 959.7h6M151 959.7h4M160 959.7h5M188 959.7h5M200 959.7h12M227 959.7h3M283 959.7h23M335 959.7h3M344 959.7h2M358 959.7h15M393 959.7h2M398 959.7h2M416 959.7h7M446 959.7h2M451 959.7h2M469 959.7h5M498 959.7h3M507 959.7h4M522 959.7h8M555 959.7h4M563 959.7h2M578 959.7h7M610 959.7h2M615 959.7h2M633 959.7h5M661 959.7h2M669 959.7h6M689 959.7h34M729 959.7h26M763 959.7h11M776 959.7h30M813 959.7h25M848 959.7h25M882 959.7h32M995 959.7h4M1017 959.7h4M1043 959.7h3M1053 959.7h4M1111 959.7h14M1131 959.7h29M1163 959.7h11M1181 959.7h26M1215 959.7h24M1254 959.7h45M1320 959.7h3M1328 959.7h7M1364 959.7h3M1380 959.7h2M1400 959.7h6M1485 959.7h7M1505 959.7h6M1526 959.7h7M1655 959.7h11M1689 959.7h6M1737 959.7h3M1762 959.7h9M125 969.9h3M133 969.9h9M229 969.9h3M236 969.9h2M322 969.9h7M346 969.9h2M351 969.9h2M376 969.9h7M400 969.9h2M404 969.9h2M427 969.9h14M453 969.9h3M462 969.9h3M483 969.9h11M511 969.9h3M516 969.9h2M538 969.9h7M565 969.9h2M570 969.9h2M589 969.9h9M619 969.9h2M627 969.9h3M642 969.9h14M678 969.9h2M684 969.9h2M922 969.9h12M949 969.9h3M964 969.9h8M1072 969.9h27M1304 969.9h11M1386 969.9h6M1409 969.9h5M1417 969.9h25M1450 969.9h4M1467 969.9h4M1541 969.9h12M1557 969.9h12M1588 969.9h19M1623 969.9h9M1671 969.9h13M1711 969.9h4M1725 969.9h9" stroke="#000018" stroke-opacity="0.08" stroke-width="8.0" fill="none"/>
<path d="M102 56.8h5M253 56.8h7M267 56.8h12M336 56.8h3M366 56.8h4M398 56.8h2M427 56.8h4M459 56.8h3M492 56.8h3M519 56.8h2M554 56.8h4M582 56.8h3M615 56.8h2M642 56.8h3M679 56.8h3M970 56.8h7M983 56.8h2M1073 56.8h4M1310 56.8h6M1384 56.8h3M1605 56.8h5M1622 56.8h8M1669 56.8h5M1717 56.8h5M155 67.0h6M286 67.0h17M342 67.0h3M374 67.0h2M402 67.0h2M437 67.0h4M465 67.0h3M498 67.0h2M525 67.0h4M562 67.0h2M589 67.0h2M621 67.0h3M653 67.0h3M686 67.0h3M1017 67.0h19M1051 67.0h6M1322 67.0h3M1367 67.0h12M1409 67.0h3M1470 67.0h9M1701 67.0h8M146 77.3h4M183 77.3h14M214 77.3h10M308 77.3h7M348 77.3h2M380 77.3h2M408 77.3h3M444 77.3h2M471 77.3h2M505 77.3h3M535 77.3h3M567 77.3h2M596 77.3h4M629 77.3h3M661 77.3h2M703 77.3h17M733 77.3h23M763 77.3h6M800 77.3h7M812 77.3h22M852 77.3h20M884 77.3h16M1116 77.3h7M1135 77.3h35M1201 77.3h7M1214 77.3h8M1290 77.3h6M1401 77.3h3M1489 77.3h4M1691 77.3h3M1762 77.3h11M132 87.6h6M230 87.6h2M323 87.6h3M352 87.6h2M387 87.6h3M416 87.6h3M449 87.6h2M477 87.6h4M512 87.6h2M542 87.6h3M572 87.6h3M607 87.6h3M635 87.6h2M669 87.6h4M920 87.6h6M931 87.6h16M957 87.6h3M1098 87.6h3M1301 87.6h3M1392 87.6h3M1537 87.6h8M1547 87.6h14M1568 87.6h7M1582 87.6h6M1683 87.6h4M1735 87.6h4M125 97.8h3M236 97.8h3M329 97.8h2M357 97.8h3M394 97.8h2M422 97.8h3M454 97.8h3M488 97.8h3M517 97.8h2M550 97.8h4M580 97.8h3M614 97.8h2M641 97.8h3M679 97.8h3M970 97.8h17M1072 97.8h5M1311 97.8h5M1384 97.8h3M1605 97.8h6M1621 97.8h11M1669 97.8h4M1717 97.8h6M105 108.1h15M245 108.1h10M334 108.1h3M366 108.1h4M398 108.1h2M429 108.1h4M461 108.1h3M495 108.1h2M522 108.1h3M559 108.1h3M587 108.1h2M620 108.1h3M651 108.1h4M686 108.1h2M1018 108.1h20M1050 108.1h6M1323 108.1h3M1364 108.1h15M1409 108.1h4M1470 108.1h8M1701 108.1h9M282 118.3h17M341 118.3h3M374 118.3h2M403 118.3h2M439 118.3h3M467 118.3h2M501 118.3h3M530 118.3h4M565 118.3h2M593 118.3h4M628 118.3h3M660 118.3h3M703 118.3h17M732 118.3h24M763 118.3h6M800 118.3h6M812 118.3h22M851 118.3h21M884 118.3h16M1116 118.3h7M1135 118.3h35M1201 118.3h7M1215 118.3h7M1290 118.3h6M1401 118.3h3M1489 118.3h4M1691 118.3h3M1764 118.3h7M149 128.6h4M163 128.6h22M196 128.6h6M208 128.6h7M305 128.6h5M347 128.6h2M380 128.6h3M409 128.6h3M445 128.6h2M473 128.6h2M509 128.6h2M539 128.6h3M570 128.6h2M605 128.6h4M634 128.6h2M668 128.6h5M920 128.6h7M930 128.6h18M956 128.6h5M1097 128.6h4M1301 128.6h3M1392 128.6h3M1537 128.6h25M1567 128.6h8M1582 128.6h6M1683 128.6h4M1736 128.6h4M136 138.9h8M226 138.9h4M321 138.9h4M352 138.9h2M387 138.9h4M417 138.9h3M450 138.9h2M481 138.9h5M515 138.9h2M546 138.9h4M577 138.9h3M613 138.9h2M640 138.9h2M679 138.9h2M971 138.9h17M1072 138.9h4M1311 138.9h6M1384 138.9h2M1606 138.9h5M1620 138.9h13M1669 138.9h4M1718 138.9h6M127 149.1h4M234 149.1h2M328 149.1h3M357 149.1h3M394 149.1h2M423 149.1h3M456 149.1h3M491 149.1h3M520 149.1h2M556 149.1h3M585 149.1h2M619 149.1h2M650 149.1h4M685 149.1h3M1019 149.1h20M1049 149.1h6M1323 149.1h3M1362 149.1h16M1409 149.1h4M1469 149.1h8M1701 149.1h9M110 159.4h13M240 159.4h10M333 159.4h3M365 159.4h5M399 159.4h2M431 159.4h5M463 159.4h3M497 159.4h3M526 159.4h3M563 159.4h2M591 159.4h3M627 159.4h3M659 159.4h3M703 159.4h17M732 159.4h24M763 159.4h6M800 159.4h6M812 159.4h22M851 159.4h21M884 159.4h16M1116 159.4h7M1135 159.4h35M1201 159.4h7M1215 159.4h7M1290 159.4h6M1401 159.4h3M1488 159.4h5M1691 159.4h3M102 169.6h2M259 169.6h9M279 169.6h6M340 169.6h3M374 169.6h2M403 169.6h3M441 169.6h3M469 169.6h2M504 169.6h4M536 169.6h3M568 169.6h2M602 169.6h5M633 169.6h2M668 169.6h4M920 169.6h8M929 169.6h20M954 169.6h8M1097 169.6h4M1301 169.6h3M1391 169.6h4M1538 169.6h24M1567 169.6h7M1583 169.6h5M1683 169.6h3M1737 169.6h4M152 179.9h12M200 179.9h10M303 179.9h4M347 179.9h2M380 179.9h3M410 179.9h4M447 179.9h2M475 179.9h3M512 179.9h2M543 179.9h3M574 179.9h4M611 179.9h3M639 179.9h2M678 179.9h3M971 179.9h18M1071 179.9h5M1312 179.9h5M1384 179.9h2M1606 179.9h6M1619 179.9h15M1668 179.9h4M1718 179.9h7M143 190.2h5M188 190.2h5M219 190.2h9M317 190.2h6M351 190.2h2M388 190.2h3M418 190.2h3M452 190.2h2M486 190.2h4M517 190.2h2M552 190.2h4M583 190.2h3M617 190.2h3M648 190.2h5M685 190.2h3M1020 190.2h20M1048 190.2h6M1323 190.2h4M1361 190.2h17M1409 190.2h4M1444 190.2h4M1469 190.2h8M1702 190.2h9M130 200.4h4M231 200.4h3M327 200.4h3M356 200.4h3M395 200.4h2M424 200.4h3M458 200.4h3M494 200.4h2M522 200.4h3M561 200.4h2M590 200.4h2M625 200.4h3M659 200.4h2M703 200.4h17M732 200.4h24M763 200.4h6M800 200.4h6M813 200.4h21M851 200.4h21M884 200.4h16M1116 200.4h7M1135 200.4h35M1201 200.4h7M1215 200.4h7M1290 200.4h6M1401 200.4h3M1488 200.4h4M1691 200.4h3M122 210.7h4M238 210.7h4M332 210.7h3M365 210.7h5M399 210.7h2M433 210.7h5M465 210.7h3M500 210.7h3M531 210.7h4M566 210.7h2M598 210.7h6M632 210.7h3M667 210.7h4M921 210.7h42M1097 210.7h4M1301 210.7h3M1391 210.7h4M1538 210.7h25M1566 210.7h8M1583 210.7h6M1683 210.7h3M1737 210.7h5M102 220.9h4M255 220.9h26M339 220.9h4M374 220.9h2M404 220.9h2M443 220.9h2M471 220.9h2M508 220.9h3M540 220.9h3M572 220.9h3M610 220.9h2M638 220.9h2M678 220.9h3M972 220.9h18M1070 220.9h5M1312 220.9h6M1383 220.9h3M1607 220.9h6M1617 220.9h19M1643 220.9h6M1668 220.9h4M1719 220.9h8M299 231.2h6M346 231.2h2M380 231.2h3M411 231.2h4M448 231.2h2M478 231.2h5M515 231.2h2M548 231.2h4M580 231.2h4M616 231.2h2M646 231.2h6M685 231.2h3M1021 231.2h21M1046 231.2h7M1324 231.2h4M1339 231.2h7M1359 231.2h18M1409 231.2h5M1443 231.2h6M1469 231.2h7M1702 231.2h9M147 241.5h4M167 241.5h32M212 241.5h10M311 241.5h10M351 241.5h2M388 241.5h4M419 241.5h3M453 241.5h3M490 241.5h3M520 241.5h2M559 241.5h2M588 241.5h2M624 241.5h3M658 241.5h3M702 241.5h18M732 241.5h24M763 241.5h6M800 241.5h6M813 241.5h21M851 241.5h21M884 241.5h16M1116 241.5h7M1135 241.5h35M1201 241.5h6M1215 241.5h7M1290 241.5h6M1401 241.5h3M1488 241.5h4M1691 241.5h3M133 251.7h7M229 251.7h3M326 251.7h3M356 251.7h3M395 251.7h2M426 251.7h3M461 251.7h3M496 251.7h3M526 251.7h4M565 251.7h2M595 251.7h5M632 251.7h2M666 251.7h4M921 251.7h42M1097 251.7h4M1302 251.7h2M1391 251.7h4M1538 251.7h36M1583 251.7h6M1682 251.7h4M1738 251.7h5M125 262.0h3M235 262.0h4M331 262.0h3M364 262.0h6M400 262.0h2M436 262.0h4M467 262.0h3M504 262.0h3M537 262.0h3M570 262.0h2M608 262.0h3M637 262.0h3M678 262.0h3M972 262.0h19M1006 262.0h4M1070 262.0h5M1313 262.0h5M1383 262.0h3M1607 262.0h44M1667 262.0h4M1720 262.0h9M104 272.2h14M247 272.2h10M270 272.2h7M338 272.2h4M374 272.2h2M404 272.2h3M444 272.2h2M473 272.2h3M512 272.2h2M544 272.2h4M578 272.2h3M615 272.2h2M645 272.2h5M685 272.2h3M1023 272.2h4M1034 272.2h18M1324 272.2h5M1337 272.2h11M1358 272.2h18M1409 272.2h5M1423 272.2h3M1442 272.2h8M1468 272.2h7M1703 272.2h8M284 282.5h18M345 282.5h3M380 282.5h3M412 282.5h4M449 282.5h2M483 282.5h5M517 282.5h2M555 282.5h4M586 282.5h2M622 282.5h3M657 282.5h3M702 282.5h18M732 282.5h23M763 282.5h6M800 282.5h6M813 282.5h21M851 282.5h21M884 282.5h16M1116 282.5h7M1135 282.5h26M1162 282.5h8M1188 282.5h2M1200 282.5h7M1215 282.5h8M1290 282.5h6M1401 282.5h3M1488 282.5h4M1691 282.5h3M150 292.8h6M160 292.8h8M175 292.8h6M198 292.8h15M308 292.8h9M350 292.8h2M389 292.8h3M420 292.8h3M455 292.8h3M493 292.8h2M522 292.8h3M563 292.8h2M593 292.8h3M630 292.8h3M665 292.8h5M921 292.8h43M1097 292.8h4M1302 292.8h3M1391 292.8h4M1538 292.8h35M1584 292.8h6M1682 292.8h4M1739 292.8h5M138 303.0h8M225 303.0h5M324 303.0h3M355 303.0h3M395 303.0h2M427 303.0h4M463 303.0h3M499 303.0h3M532 303.0h4M568 303.0h2M606 303.0h3M636 303.0h3M677 303.0h3M973 303.0h19M1004 303.0h8M1069 303.0h5M1314 303.0h5M1383 303.0h2M1608 303.0h44M1667 303.0h4M1720 303.0h10M127 313.3h4M233 313.3h3M330 313.3h3M364 313.3h5M400 313.3h2M439 313.3h3M469 313.3h2M508 313.3h3M541 313.3h3M575 313.3h3M613 313.3h3M643 313.3h5M685 313.3h2M1036 313.3h15M1325 313.3h5M1335 313.3h15M1356 313.3h9M1371 313.3h3M1409 313.3h6M1421 313.3h7M1441 313.3h10M1468 313.3h6M1703 313.3h9M107 323.5h16M241 323.5h11M337 323.5h3M374 323.5h2M405 323.5h3M445 323.5h3M475 323.5h4M515 323.5h2M550 323.5h5M584 323.5h2M620 323.5h4M657 323.5h3M702 323.5h18M732 323.5h23M763 323.5h6M800 323.5h6M813 323.5h21M851 323.5h21M884 323.5h16M1116 323.5h7M1135 323.5h26M1163 323.5h7M1188 323.5h3M1200 323.5h7M1215 323.5h8M1283 323.5h3M1289 323.5h7M1401 323.5h3M1488 323.5h4M1691 323.5h3M281 333.8h7M344 333.8h3M380 333.8h3M413 333.8h4M451 333.8h2M488 333.8h4M520 333.8h2M560 333.8h3M591 333.8h3M629 333.8h3M665 333.8h4M921 333.8h43M1097 333.8h3M1302 333.8h3M1391 333.8h3M1539 333.8h34M1584 333.8h6M1682 333.8h4M1740 333.8h5M1753 333.8h3M1776 333.8h2M154 344.1h8M204 344.1h2M305 344.1h5M350 344.1h2M389 344.1h3M421 344.1h3M457 344.1h4M495 344.1h3M526 344.1h5M566 344.1h2M603 344.1h4M636 344.1h2M677 344.1h3M973 344.1h20M1003 344.1h10M1068 344.1h6M1314 344.1h5M1382 344.1h3M1608 344.1h17M1628 344.1h25M1666 344.1h5M1721 344.1h11M144 354.3h5M184 354.3h12M215 354.3h12M323 354.3h3M355 354.3h2M396 354.3h2M429 354.3h5M465 354.3h3M503 354.3h4M538 354.3h3M572 354.3h3M612 354.3h2M642 354.3h4M684 354.3h3M1037 354.3h13M1325 354.3h38M1410 354.3h6M1419 354.3h10M1440 354.3h12M1467 354.3h7M1704 354.3h8M130 364.6h5M231 364.6h3M329 364.6h3M363 364.6h6M400 364.6h3M441 364.6h3M471 364.6h3M511 364.6h3M546 364.6h4M581 364.6h3M619 364.6h3M656 364.6h3M701 364.6h19M732 364.6h23M764 364.6h5M799 364.6h6M813 364.6h22M851 364.6h21M884 364.6h16M1116 364.6h7M1135 364.6h25M1163 364.6h7M1187 364.6h4M1200 364.6h7M1215 364.6h8M1282 364.6h5M1289 364.6h7M1401 364.6h3M1488 364.6h4M1691 364.6h3M122 374.8h4M238 374.8h4M336 374.8h3M374 374.8h2M406 374.8h3M447 374.8h2M479 374.8h7M517 374.8h2M557 374.8h4M589 374.8h2M628 374.8h3M664 374.8h4M921 374.8h44M1096 374.8h4M1302 374.8h3M1390 374.8h4M1539 374.8h34M1584 374.8h7M1681 374.8h5M1740 374.8h19M1774 374.8h3M102 385.1h2M256 385.1h14M277 385.1h6M344 385.1h2M380 385.1h4M415 385.1h4M452 385.1h3M492 385.1h2M523 385.1h3M564 385.1h2M598 385.1h7M635 385.1h2M677 385.1h3M974 385.1h20M1001 385.1h13M1066 385.1h7M1315 385.1h5M1382 385.1h3M1609 385.1h14M1630 385.1h24M1666 385.1h4M1722 385.1h11M302 395.4h5M349 395.4h3M389 395.4h4M423 395.4h3M460 395.4h3M498 395.4h3M533 395.4h5M570 395.4h2M611 395.4h2M641 395.4h4M684 395.4h3M1039 395.4h10M1326 395.4h35M1410 395.4h21M1438 395.4h14M1467 395.4h6M1705 395.4h8M148 405.6h5M164 405.6h22M195 405.6h6M209 405.6h9M320 405.6h5M354 405.6h3M396 405.6h2M431 405.6h6M467 405.6h3M507 405.6h4M542 405.6h3M578 405.6h4M617 405.6h3M655 405.6h3M701 405.6h19M732 405.6h23M764 405.6h5M799 405.6h6M813 405.6h22M851 405.6h20M884 405.6h16M1116 405.6h7M1134 405.6h26M1164 405.6h7M1187 405.6h5M1200 405.6h7M1216 405.6h7M1231 405.6h2M1281 405.6h15M1401 405.6h3M1488 405.6h4M1691 405.6h3M133 415.9h9M228 415.9h4M328 415.9h3M362 415.9h7M401 415.9h2M443 415.9h2M473 415.9h3M514 415.9h3M553 415.9h5M587 415.9h2M626 415.9h3M663 415.9h4M921 415.9h18M940 415.9h25M1096 415.9h4M1302 415.9h3M1390 415.9h4M1539 415.9h33M1585 415.9h6M1681 415.9h5M1741 415.9h21M1773 415.9h4M125 426.1h4M235 426.1h4M334 426.1h4M373 426.1h3M407 426.1h3M448 426.1h3M486 426.1h4M520 426.1h2M562 426.1h2M594 426.1h6M634 426.1h2M676 426.1h3M975 426.1h21M999 426.1h16M1063 426.1h9M1316 426.1h4M1382 426.1h3M1609 426.1h13M1632 426.1h23M1665 426.1h5M1723 426.1h11M102 436.4h6M251 436.4h8M267 436.4h13M343 436.4h3M380 436.4h4M416 436.4h4M454 436.4h4M495 436.4h2M527 436.4h6M568 436.4h2M609 436.4h3M640 436.4h3M684 436.4h3M1040 436.4h8M1327 436.4h13M1346 436.4h14M1410 436.4h23M1437 436.4h16M1467 436.4h6M1706 436.4h7M287 446.7h17M349 446.7h2M390 446.7h3M424 446.7h3M463 446.7h3M502 446.7h4M539 446.7h3M575 446.7h4M616 446.7h3M653 446.7h4M701 446.7h19M732 446.7h23M764 446.7h6M799 446.7h6M813 446.7h22M851 446.7h20M884 446.7h17M1116 446.7h7M1134 446.7h25M1164 446.7h7M1187 446.7h5M1200 446.7h7M1216 446.7h8M1230 446.7h3M1280 446.7h17M1401 446.7h3M1488 446.7h4M1691 446.7h3M152 456.9h13M200 456.9h11M311 456.9h12M354 456.9h2M397 456.9h2M434 456.9h6M469 456.9h3M511 456.9h3M547 456.9h6M585 456.9h2M624 456.9h4M663 456.9h3M921 456.9h16M942 456.9h24M1096 456.9h4M1302 456.9h4M1390 456.9h4M1539 456.9h33M1585 456.9h7M1681 456.9h5M1742 456.9h22M1771 456.9h6M140 467.2h7M189 467.2h3M223 467.2h6M327 467.2h3M361 467.2h7M401 467.2h3M444 467.2h3M476 467.2h6M517 467.2h2M560 467.2h2M592 467.2h4M633 467.2h2M675 467.2h4M976 467.2h5M986 467.2h29M1059 467.2h13M1316 467.2h5M1381 467.2h3M1610 467.2h11M1633 467.2h23M1665 467.2h4M1725 467.2h10M128 477.4h3M233 477.4h3M333 477.4h4M373 477.4h3M407 477.4h5M450 477.4h2M490 477.4h3M523 477.4h3M566 477.4h2M607 477.4h3M639 477.4h3M684 477.4h2M1042 477.4h5M1327 477.4h11M1348 477.4h10M1410 477.4h43M1466 477.4h6M1707 477.4h7M105 487.7h18M241 487.7h13M341 487.7h4M380 487.7h4M418 487.7h3M456 487.7h4M497 487.7h4M535 487.7h4M572 487.7h3M614 487.7h3M652 487.7h4M700 487.7h20M732 487.7h23M764 487.7h6M799 487.7h6M814 487.7h21M851 487.7h20M884 487.7h17M1116 487.7h7M1134 487.7h25M1164 487.7h7M1186 487.7h7M1199 487.7h8M1216 487.7h8M1229 487.7h5M1280 487.7h17M1401 487.7h3M1488 487.7h4M1691 487.7h3M283 498.0h18M348 498.0h3M390 498.0h4M425 498.0h4M465 498.0h3M507 498.0h3M544 498.0h3M582 498.0h3M622 498.0h4M662 498.0h3M922 498.0h15M943 498.0h23M1096 498.0h4M1302 498.0h4M1390 498.0h4M1539 498.0h33M1585 498.0h8M1680 498.0h5M1743 498.0h34M307 508.2h13M353 508.2h3M397 508.2h2M438 508.2h4M471 508.2h3M514 508.2h3M556 508.2h4M590 508.2h3M632 508.2h2M675 508.2h4M988 508.2h28M1058 508.2h13M1317 508.2h4M1381 508.2h3M1610 508.2h10M1634 508.2h10M1649 508.2h8M1664 508.2h5M1728 508.2h7M146 518.5h4M167 518.5h31M213 518.5h13M326 518.5h3M361 518.5h7M402 518.5h2M446 518.5h2M481 518.5h7M520 518.5h2M564 518.5h2M603 518.5h5M638 518.5h3M684 518.5h2M1328 518.5h8M1350 518.5h6M1410 518.5h44M1466 518.5h6M1708 518.5h6M130 528.7h6M231 528.7h3M332 528.7h3M373 528.7h3M409 528.7h4M451 528.7h3M493 528.7h3M528 528.7h6M570 528.7h2M613 528.7h3M649 528.7h6M699 528.7h21M732 528.7h23M764 528.7h6M799 528.7h6M814 528.7h21M850 528.7h21M884 528.7h17M1116 528.7h7M1134 528.7h25M1164 528.7h7M1186 528.7h7M1199 528.7h8M1216 528.7h8M1228 528.7h6M1279 528.7h18M1401 528.7h3M1488 528.7h4M1691 528.7h3M121 539.0h5M237 539.0h6M340 539.0h4M380 539.0h5M419 539.0h3M459 539.0h4M501 539.0h4M540 539.0h3M579 539.0h4M621 539.0h3M661 539.0h4M922 539.0h14M943 539.0h23M1095 539.0h5M1303 539.0h3M1389 539.0h4M1540 539.0h31M1586 539.0h8M1680 539.0h5M1745 539.0h8M1757 539.0h18M259 549.3h8M279 549.3h6M348 549.3h2M391 549.3h3M427 549.3h5M467 549.3h3M511 549.3h3M550 549.3h6M588 549.3h3M630 549.3h3M674 549.3h4M989 549.3h17M1011 549.3h6M1056 549.3h14M1317 549.3h4M1381 549.3h3M1611 549.3h8M1636 549.3h5M1650 549.3h8M1663 549.3h5M1730 549.3h6M304 559.5h6M353 559.5h2M397 559.5h3M441 559.5h3M474 559.5h4M517 559.5h2M562 559.5h2M597 559.5h9M637 559.5h3M683 559.5h3M1330 559.5h4M1410 559.5h45M1465 559.5h6M1709 559.5h6M149 569.8h6M161 569.8h21M197 569.8h18M324 569.8h4M360 569.8h7M402 569.8h3M447 569.8h2M488 569.8h4M523 569.8h4M568 569.8h2M611 569.8h3M647 569.8h7M697 569.8h24M732 569.8h22M764 569.8h6M784 569.8h2M799 569.8h6M814 569.8h21M850 569.8h21M884 569.8h17M1116 569.8h7M1134 569.8h25M1165 569.8h6M1186 569.8h7M1199 569.8h7M1216 569.8h9M1228 569.8h6M1279 569.8h18M1401 569.8h3M1487 569.8h5M1691 569.8h3M134 580.0h10M228 580.0h4M331 580.0h3M373 580.0h3M410 580.0h5M453 580.0h4M496 580.0h4M536 580.0h4M575 580.0h5M619 580.0h3M661 580.0h3M922 580.0h14M944 580.0h23M1095 580.0h5M1303 580.0h4M1389 580.0h4M1540 580.0h31M1586 580.0h11M1679 580.0h6M1760 580.0h13M125 590.3h4M235 590.3h4M339 590.3h4M381 590.3h4M420 590.3h4M462 590.3h4M506 590.3h4M545 590.3h5M585 590.3h3M629 590.3h3M673 590.3h5M990 590.3h15M1012 590.3h6M1055 590.3h14M1318 590.3h4M1380 590.3h3M1612 590.3h6M1652 590.3h7M1662 590.3h6M1732 590.3h5M102 600.6h4M253 600.6h29M347 600.6h2M391 600.6h4M429 600.6h7M469 600.6h3M514 600.6h3M559 600.6h3M594 600.6h6M636 600.6h3M683 600.6h3M1411 600.6h35M1447 600.6h8M1465 600.6h6M1710 600.6h5M301 610.8h6M352 610.8h3M398 610.8h2M443 610.8h2M477 610.8h9M520 610.8h3M566 610.8h2M610 610.8h3M645 610.8h7M696 610.8h25M732 610.8h22M764 610.8h6M783 610.8h3M799 610.8h6M814 610.8h21M850 610.8h21M884 610.8h17M1116 610.8h7M1134 610.8h25M1165 610.8h6M1186 610.8h8M1199 610.8h7M1216 610.8h9M1227 610.8h8M1278 610.8h19M1401 610.8h3M1487 610.8h5M1691 610.8h3M153 621.1h9M202 621.1h6M322 621.1h4M359 621.1h8M403 621.1h3M449 621.1h2M492 621.1h3M529 621.1h6M572 621.1h4M617 621.1h3M660 621.1h3M922 621.1h13M945 621.1h22M1095 621.1h5M1303 621.1h4M1389 621.1h4M1540 621.1h31M1586 621.1h13M1678 621.1h7M1762 621.1h10M142 631.3h6M185 631.3h10M219 631.3h10M330 631.3h3M373 631.3h3M411 631.3h6M455 631.3h5M500 631.3h4M541 631.3h4M583 631.3h3M627 631.3h4M672 631.3h5M991 631.3h12M1013 631.3h6M1054 631.3h14M1319 631.3h3M1380 631.3h3M1613 631.3h4M1653 631.3h14M1733 631.3h5M128 641.6h4M233 641.6h3M337 641.6h5M381 641.6h5M422 641.6h3M465 641.6h3M511 641.6h2M554 641.6h5M591 641.6h4M635 641.6h3M683 641.6h3M1411 641.6h33M1449 641.6h7M1464 641.6h6M1710 641.6h6M103 651.9h20M241 651.9h16M269 651.9h9M346 651.9h3M392 651.9h3M431 651.9h8M472 651.9h3M517 651.9h2M563 651.9h3M608 651.9h3M643 651.9h7M695 651.9h26M732 651.9h22M764 651.9h6M783 651.9h4M799 651.9h6M814 651.9h21M850 651.9h21M884 651.9h17M1116 651.9h7M1134 651.9h24M1165 651.9h6M1185 651.9h9M1198 651.9h8M1216 651.9h19M1259 651.9h3M1278 651.9h19M1401 651.9h3M1487 651.9h4M1691 651.9h3M285 662.1h18M352 662.1h2M398 662.1h2M444 662.1h3M485 662.1h6M523 662.1h5M570 662.1h3M616 662.1h3M659 662.1h3M922 662.1h13M945 662.1h12M961 662.1h7M1080 662.1h5M1094 662.1h5M1303 662.1h4M1389 662.1h4M1540 662.1h30M1587 662.1h14M1678 662.1h7M1765 662.1h4M311 672.4h14M358 672.4h8M404 672.4h3M450 672.4h3M495 672.4h4M537 672.4h4M580 672.4h4M625 672.4h4M671 672.4h6M992 672.4h10M1014 672.4h6M1053 672.4h13M1319 672.4h4M1379 672.4h4M1653 672.4h14M1734 672.4h4M147 682.6h5M164 682.6h23M194 682.6h6M210 682.6h14M329 682.6h3M373 682.6h3M413 682.6h5M458 682.6h5M505 682.6h4M547 682.6h7M589 682.6h3M634 682.6h3M683 682.6h2M1411 682.6h31M1450 682.6h6M1464 682.6h6M1711 682.6h5M131 692.9h7M230 692.9h4M336 692.9h4M381 692.9h5M423 692.9h4M467 692.9h3M514 692.9h2M561 692.9h3M604 692.9h5M641 692.9h6M694 692.9h27M731 692.9h23M764 692.9h6M782 692.9h5M798 692.9h7M814 692.9h22M850 692.9h21M884 692.9h17M1116 692.9h7M1134 692.9h24M1165 692.9h6M1185 692.9h10M1198 692.9h8M1216 692.9h19M1258 692.9h5M1277 692.9h20M1401 692.9h4M1487 692.9h4M1691 692.9h3M107 703.2h8M120 703.2h6M237 703.2h8M345 703.2h3M392 703.2h3M436 703.2h6M474 703.2h6M520 703.2h3M567 703.2h3M614 703.2h3M658 703.2h4M922 703.2h12M946 703.2h10M962 703.2h6M1079 703.2h7M1094 703.2h5M1303 703.2h5M1388 703.2h4M1541 703.2h13M1555 703.2h15M1587 703.2h15M1677 703.2h7M281 713.4h18M351 713.4h3M399 713.4h2M446 713.4h2M491 713.4h3M531 713.4h6M576 713.4h4M623 713.4h5M670 713.4h6M994 713.4h7M1015 713.4h7M1030 713.4h2M1053 713.4h8M1320 713.4h3M1378 713.4h4M1654 713.4h12M1735 713.4h4M307 723.7h15M358 723.7h7M404 723.7h4M452 723.7h4M499 723.7h4M543 723.7h4M587 723.7h3M633 723.7h3M682 723.7h3M1411 723.7h30M1451 723.7h6M1463 723.7h6M1711 723.7h6M151 733.9h15M199 733.9h13M327 733.9h3M373 733.9h3M415 733.9h5M462 733.9h3M510 733.9h3M557 733.9h4M597 733.9h10M640 733.9h4M693 733.9h28M731 733.9h23M764 733.9h6M782 733.9h6M798 733.9h6M814 733.9h22M850 733.9h21M884 733.9h17M1116 733.9h7M1134 733.9h24M1165 733.9h6M1185 733.9h10M1197 733.9h9M1217 733.9h19M1257 733.9h7M1277 733.9h20M1401 733.9h4M1487 733.9h4M1691 733.9h3M135 744.2h11M227 744.2h4M334 744.2h5M381 744.2h6M424 744.2h5M470 744.2h2M517 744.2h2M565 744.2h3M612 744.2h3M657 744.2h4M923 744.2h11M947 744.2h8M963 744.2h5M1078 744.2h9M1094 744.2h5M1304 744.2h4M1388 744.2h4M1541 744.2h12M1557 744.2h13M1588 744.2h14M1676 744.2h8M125 754.5h4M235 754.5h4M344 754.5h3M393 754.5h3M440 754.5h4M479 754.5h10M524 754.5h5M572 754.5h4M621 754.5h5M669 754.5h7M995 754.5h4M1016 754.5h19M1052 754.5h6M1320 754.5h4M1363 754.5h7M1377 754.5h5M1655 754.5h11M1736 754.5h4M102 764.7h2M256 764.7h14M278 764.7h6M351 764.7h2M399 764.7h2M447 764.7h3M494 764.7h4M539 764.7h3M584 764.7h3M632 764.7h3M682 764.7h3M1412 764.7h10M1428 764.7h12M1451 764.7h7M1462 764.7h7M1712 764.7h6M304 775.0h6M357 775.0h6M405 775.0h4M454 775.0h5M504 775.0h5M550 775.0h8M593 775.0h8M639 775.0h3M692 775.0h29M731 775.0h23M765 775.0h5M782 775.0h6M798 775.0h6M815 775.0h21M850 775.0h21M884 775.0h17M1116 775.0h7M1134 775.0h24M1165 775.0h6M1185 775.0h21M1217 775.0h19M1257 775.0h8M1276 775.0h21M1401 775.0h4M1487 775.0h4M1691 775.0h3M156 785.2h3M326 785.2h3M373 785.2h3M417 785.2h4M465 785.2h3M514 785.2h2M563 785.2h2M611 785.2h3M656 785.2h4M923 785.2h10M948 785.2h5M964 785.2h5M1077 785.2h11M1093 785.2h6M1304 785.2h5M1388 785.2h4M1541 785.2h11M1558 785.2h11M1588 785.2h15M1675 785.2h9M144 795.5h5M169 795.5h6M181 795.5h17M215 795.5h13M333 795.5h4M381 795.5h6M426 795.5h7M472 795.5h4M520 795.5h3M569 795.5h4M619 795.5h4M667 795.5h8M1017 795.5h19M1051 795.5h6M1321 795.5h4M1361 795.5h11M1376 795.5h6M1656 795.5h9M1736 795.5h5M128 805.8h5M232 805.8h4M343 805.8h4M393 805.8h3M442 805.8h3M489 805.8h4M533 805.8h5M581 805.8h4M630 805.8h3M682 805.8h3M1412 805.8h9M1430 805.8h9M1452 805.8h17M1713 805.8h5M102 816.0h7M112 816.0h10M241 816.0h18M266 816.0h14M350 816.0h3M400 816.0h2M449 816.0h3M498 816.0h4M544 816.0h6M590 816.0h4M638 816.0h3M692 816.0h19M712 816.0h9M731 816.0h23M765 816.0h6M781 816.0h7M798 816.0h6M815 816.0h21M850 816.0h21M884 816.0h17M1116 816.0h7M1134 816.0h24M1165 816.0h6M1185 816.0h21M1217 816.0h19M1256 816.0h9M1276 816.0h22M1401 816.0h4M1487 816.0h4M1690 816.0h4M299 826.3h7M356 826.3h6M406 826.3h5M457 826.3h5M510 826.3h3M560 826.3h3M609 826.3h3M654 826.3h5M923 826.3h10M949 826.3h3M964 826.3h5M1076 826.3h14M1092 826.3h7M1304 826.3h5M1387 826.3h5M1542 826.3h9M1559 826.3h10M1588 826.3h16M1675 826.3h9M324 836.5h4M373 836.5h3M419 836.5h4M467 836.5h3M517 836.5h3M567 836.5h3M617 836.5h4M666 836.5h8M1018 836.5h20M1050 836.5h6M1321 836.5h4M1340 836.5h7M1359 836.5h22M1657 836.5h8M1737 836.5h5M149 846.8h4M162 846.8h21M197 846.8h6M207 846.8h10M332 846.8h3M381 846.8h7M428 846.8h11M475 846.8h10M524 846.8h7M576 846.8h5M629 846.8h3M681 846.8h3M1412 846.8h8M1432 846.8h6M1452 846.8h16M1713 846.8h6M131 857.1h10M230 857.1h3M342 857.1h4M394 857.1h3M444 857.1h3M493 857.1h3M540 857.1h4M588 857.1h3M637 857.1h3M692 857.1h19M713 857.1h8M731 857.1h23M765 857.1h6M781 857.1h8M798 857.1h6M815 857.1h21M850 857.1h20M884 857.1h18M1116 857.1h7M1133 857.1h24M1166 857.1h6M1184 857.1h22M1217 857.1h19M1256 857.1h10M1275 857.1h23M1401 857.1h4M1487 857.1h4M1690 857.1h4M105 867.3h21M237 867.3h16M272 867.3h4M349 867.3h3M400 867.3h3M451 867.3h3M502 867.3h6M555 867.3h5M605 867.3h5M652 867.3h6M923 867.3h10M965 867.3h4M1076 867.3h23M1304 867.3h6M1387 867.3h4M1542 867.3h8M1559 867.3h9M1589 867.3h15M1674 867.3h9M283 877.6h20M356 877.6h5M407 877.6h6M461 877.6h4M514 877.6h2M565 877.6h2M615 877.6h4M665 877.6h8M1019 877.6h20M1049 877.6h6M1322 877.6h4M1338 877.6h11M1357 877.6h24M1658 877.6h6M1738 877.6h5M1775 877.6h2M312 887.8h3M320 887.8h6M372 887.8h4M420 887.8h4M470 887.8h3M520 887.8h3M572 887.8h5M627 887.8h4M681 887.8h3M1413 887.8h6M1453 887.8h15M1714 887.8h6M152 898.1h11M201 898.1h8M330 898.1h4M382 898.1h7M433 898.1h9M484 898.1h7M535 898.1h5M585 898.1h3M636 898.1h3M691 898.1h19M713 898.1h8M731 898.1h22M765 898.1h6M781 898.1h8M798 898.1h6M815 898.1h21M850 898.1h20M884 898.1h18M1116 898.1h7M1133 898.1h24M1166 898.1h6M1184 898.1h22M1217 898.1h19M1256 898.1h10M1275 898.1h23M1401 898.1h4M1486 898.1h5M1690 898.1h4M137 908.4h10M186 908.4h9M225 908.4h6M340 908.4h5M395 908.4h2M446 908.4h3M497 908.4h4M546 908.4h9M596 908.4h12M648 908.4h9M923 908.4h9M965 908.4h5M1075 908.4h23M1305 908.4h6M1387 908.4h4M1542 908.4h7M1560 908.4h8M1589 908.4h16M1673 908.4h10M125 918.6h4M235 918.6h4M349 918.6h3M401 918.6h2M453 918.6h5M509 918.6h4M562 918.6h3M614 918.6h3M664 918.6h7M1020 918.6h21M1048 918.6h6M1322 918.6h5M1336 918.6h16M1355 918.6h25M1660 918.6h2M1739 918.6h5M1752 918.6h7M1773 918.6h4M258 928.9h9M280 928.9h6M355 928.9h5M408 928.9h8M465 928.9h3M517 928.9h3M569 928.9h4M624 928.9h5M681 928.9h3M1413 928.9h5M1454 928.9h13M1714 928.9h8M306 939.1h18M372 939.1h4M422 939.1h4M472 939.1h5M525 939.1h8M582 939.1h4M635 939.1h2M691 939.1h19M713 939.1h8M731 939.1h22M765 939.1h6M781 939.1h8M798 939.1h6M815 939.1h21M850 939.1h20M884 939.1h18M1116 939.1h7M1133 939.1h24M1166 939.1h6M1184 939.1h21M1217 939.1h20M1255 939.1h12M1274 939.1h24M1401 939.1h4M1486 939.1h5M1690 939.1h4M329 949.4h3M382 949.4h7M439 949.4h5M492 949.4h3M542 949.4h4M592 949.4h9M644 949.4h11M924 949.4h8M966 949.4h4M1074 949.4h24M1305 949.4h7M1387 949.4h4M1543 949.4h6M1561 949.4h7M1590 949.4h15M1673 949.4h10M146 959.7h5M165 959.7h23M193 959.7h7M212 959.7h15M338 959.7h6M395 959.7h3M448 959.7h3M501 959.7h6M559 959.7h4M612 959.7h3M663 959.7h6M1021 959.7h22M1046 959.7h7M1323 959.7h5M1335 959.7h29M1367 959.7h13M1740 959.7h22M1771 959.7h6M128 969.9h5M232 969.9h4M348 969.9h3M401 969.9h3M456 969.9h6M514 969.9h2M567 969.9h3M621 969.9h6M680 969.9h4M1414 969.9h3M1454 969.9h13M1715 969.9h10" stroke="#000018" stroke-opacity="0.20" stroke-width="8.5" fill="none"/>
</g></g>
<rect x="102.20" y="51.40" width="1674.20" height="923.90" fill="#000" filter="url(#vn)"/>
<rect x="102.20" y="66.00" width="1674.20" height="33.00" fill="url(#g2)"/>
<rect x="102.20" y="832.00" width="1674.20" height="34.00" fill="url(#g3)"/>
<rect x="121.10" y="51.40" width="4.50" height="159.10" fill="url(#g4)"/>
<rect x="260.60" y="51.40" width="35.10" height="159.10" fill="url(#g4)"/>
<rect x="742.90" y="51.40" width="10.10" height="159.10" fill="url(#g4)"/>
<rect x="820.70" y="51.40" width="11.70" height="159.10" fill="url(#g4)"/>
<rect x="833.60" y="51.40" width="24.50" height="159.10" fill="url(#g4)"/>
<rect x="281.40" y="70.00" width="0.90" height="30.00" fill="#ff926d" opacity="0.45"/>
<rect x="832.40" y="52.00" width="1.20" height="156.00" fill="#0000c0"/>
<rect x="686.40" y="51.40" width="12.50" height="256.60" fill="url(#g5)"/>
<rect x="700.50" y="51.40" width="20.10" height="256.60" fill="url(#g5)"/>
<rect x="723.10" y="51.40" width="11.00" height="256.60" fill="url(#g6)"/>
<rect x="698.90" y="60.00" width="1.60" height="147.00" fill="#0000a8"/>
<rect x="720.60" y="60.00" width="2.50" height="147.00" fill="#000054"/>
<rect x="705.50" y="212.00" width="6.50" height="60.00" fill="#000" opacity="0.75"/>
<rect x="700.50" y="296.00" width="20.10" height="16.00" fill="#000054" opacity="0.5"/>
<rect x="428.80" y="787.00" width="20.50" height="26.00" fill="url(#g7)"/>
<rect x="650.30" y="787.00" width="5.20" height="26.00" fill="url(#g8)"/>
<rect x="1673.70" y="787.50" width="20.50" height="26.00" fill="url(#g9)"/>
<rect x="172.50" y="74.75" width="8.50" height="22.50" fill="url(#g10)"/>
<rect x="228.20" y="74.75" width="11.80" height="22.50" fill="url(#g10)"/>
<rect x="228.20" y="76.00" width="1.20" height="20.00" fill="url(#g11)"/>
<rect x="320.20" y="75.25" width="14.40" height="22.50" fill="url(#g12)"/>
<rect x="349.30" y="73.50" width="2.20" height="25.00" fill="url(#g13)"/>
<rect x="230.80" y="179.75" width="9.20" height="32.50" fill="url(#g14)"/>
<rect x="244.30" y="180.00" width="5.00" height="30.00" fill="url(#g15)"/>
<rect x="318.90" y="174.50" width="7.10" height="30.00" fill="url(#g16)"/>
<rect x="326.00" y="174.50" width="5.20" height="30.00" fill="url(#g17)"/>
<rect x="333.40" y="174.25" width="8.80" height="27.50" fill="url(#g18)"/>
<rect x="413.00" y="189.00" width="12.00" height="20.00" fill="url(#g19)"/>
<rect x="1510.00" y="102.25" width="9.10" height="27.50" fill="url(#g20)"/>
<rect x="1532.60" y="102.25" width="14.90" height="27.50" fill="url(#g20)"/>
<rect x="1573.60" y="102.25" width="7.10" height="27.50" fill="url(#g21)"/>
<rect x="1557.60" y="181.00" width="11.00" height="30.00" fill="url(#g22)"/>
<rect x="1579.50" y="189.00" width="19.50" height="20.00" fill="url(#g23)"/>
<rect x="1354.00" y="177.75" width="11.70" height="22.50" fill="url(#g24)"/>
<rect x="1395.00" y="166.50" width="9.80" height="35.00" fill="url(#g25)"/>
<rect x="1326.00" y="155.50" width="1.60" height="45.00" fill="url(#g26)"/>
<rect x="1004.60" y="163.00" width="1.40" height="30.00" fill="url(#g27)"/>
<rect x="1098.00" y="62.50" width="1.20" height="35.00" fill="url(#g28)"/>
<rect x="409.70" y="51.40" width="2.50" height="23.60" fill="url(#g29)"/>
<rect x="413.90" y="51.40" width="1.70" height="23.60" fill="url(#g29)"/>
<rect x="423.20" y="51.40" width="2.50" height="23.60" fill="url(#g30)"/>
<rect x="429.00" y="51.40" width="4.00" height="23.60" fill="url(#g31)"/>
<rect x="433.00" y="51.40" width="5.30" height="23.60" fill="url(#g32)"/>
<rect x="441.00" y="51.40" width="3.00" height="23.60" fill="url(#g33)"/>
<rect x="450.00" y="51.40" width="6.00" height="23.60" fill="url(#g29)"/>
<rect x="459.00" y="51.40" width="7.20" height="23.60" fill="url(#g29)"/>
<rect x="466.20" y="51.40" width="5.90" height="23.60" fill="url(#g34)"/>
<rect x="472.10" y="51.40" width="4.90" height="23.60" fill="url(#g35)"/>
<rect x="477.00" y="51.40" width="15.00" height="23.60" fill="url(#g36)"/>
<rect x="492.00" y="51.40" width="5.00" height="23.60" fill="url(#g37)"/>
<rect x="497.00" y="51.40" width="6.00" height="23.60" fill="url(#g38)"/>
<rect x="503.00" y="51.40" width="7.00" height="23.60" fill="url(#g39)"/>
<rect x="516.90" y="51.40" width="14.30" height="23.60" fill="url(#g40)"/>
<rect x="533.70" y="51.40" width="5.80" height="23.60" fill="url(#g41)"/>
<rect x="547.20" y="51.40" width="6.80" height="23.60" fill="url(#g41)"/>
<rect x="556.50" y="51.40" width="8.50" height="23.60" fill="url(#g29)"/>
<rect x="928.30" y="51.40" width="12.70" height="23.60" fill="url(#g42)"/>
<rect x="941.00" y="51.40" width="6.30" height="23.60" fill="url(#g30)"/>
<rect x="953.70" y="51.40" width="3.80" height="23.60" fill="url(#g42)"/>
<rect x="958.10" y="51.40" width="6.40" height="23.60" fill="url(#g33)"/>
<rect x="970.20" y="51.40" width="10.10" height="23.60" fill="url(#g30)"/>
<rect x="980.30" y="51.40" width="15.30" height="23.60" fill="url(#g43)"/>
<rect x="995.60" y="51.40" width="9.50" height="23.60" fill="url(#g39)"/>
<rect x="1005.10" y="51.40" width="7.00" height="23.60" fill="url(#g44)"/>
<rect x="1012.10" y="51.40" width="17.90" height="23.60" fill="url(#g45)"/>
<rect x="1030.00" y="51.40" width="20.20" height="23.60" fill="url(#g44)"/>
<rect x="1055.90" y="51.40" width="10.20" height="23.60" fill="url(#g46)"/>
<rect x="1068.60" y="51.40" width="21.60" height="23.60" fill="url(#g47)"/>
<rect x="1094.00" y="51.40" width="7.60" height="23.60" fill="url(#g39)"/>
<rect x="1109.30" y="51.40" width="5.70" height="23.60" fill="url(#g48)"/>
<rect x="1129.00" y="51.40" width="2.00" height="23.60" fill="url(#g29)"/>
<rect x="1134.00" y="51.40" width="2.00" height="23.60" fill="url(#g29)"/>
<rect x="423.40" y="64.10" width="1.20" height="25.00" fill="url(#g49)"/>
<rect x="425.20" y="64.10" width="2.20" height="25.00" fill="url(#g50)"/>
<rect x="430.00" y="64.10" width="1.70" height="25.00" fill="url(#g49)"/>
<rect x="433.00" y="64.10" width="2.00" height="25.00" fill="url(#g51)"/>
<rect x="440.00" y="64.10" width="2.60" height="25.00" fill="url(#g52)"/>
<rect x="444.30" y="64.10" width="1.70" height="25.00" fill="url(#g49)"/>
<rect x="450.70" y="64.10" width="2.00" height="25.00" fill="url(#g53)"/>
<rect x="453.20" y="64.10" width="1.70" height="25.00" fill="url(#g53)"/>
<rect x="455.60" y="64.10" width="1.40" height="25.00" fill="url(#g54)"/>
<rect x="460.30" y="64.10" width="2.00" height="25.00" fill="url(#g53)"/>
<rect x="462.80" y="64.10" width="1.70" height="25.00" fill="url(#g50)"/>
<rect x="465.30" y="64.10" width="1.70" height="25.00" fill="url(#g52)"/>
<rect x="470.40" y="64.10" width="3.40" height="25.00" fill="url(#g55)"/>
<rect x="475.50" y="64.10" width="2.50" height="25.00" fill="url(#g53)"/>
<rect x="485.60" y="64.10" width="3.00" height="25.00" fill="url(#g56)"/>
<rect x="493.20" y="64.10" width="3.40" height="25.00" fill="url(#g50)"/>
<rect x="499.10" y="64.10" width="2.90" height="25.00" fill="url(#g50)"/>
<rect x="506.40" y="64.10" width="3.60" height="25.00" fill="url(#g57)"/>
<rect x="533.70" y="64.10" width="5.10" height="25.00" fill="url(#g50)"/>
<rect x="547.20" y="64.10" width="5.90" height="25.00" fill="url(#g53)"/>
<rect x="556.50" y="64.10" width="1.70" height="25.00" fill="url(#g52)"/>
<rect x="559.00" y="64.10" width="2.60" height="25.00" fill="url(#g58)"/>
<rect x="400.20" y="819.30" width="59.80" height="48.00" fill="url(#g59)"/>
<rect x="460.00" y="819.30" width="29.00" height="48.00" fill="url(#g60)"/>
<rect x="495.50" y="819.30" width="56.50" height="48.00" fill="url(#g61)"/>
<rect x="605.20" y="819.30" width="13.20" height="48.00" fill="url(#g59)"/>
<rect x="620.30" y="819.30" width="8.80" height="48.00" fill="url(#g59)"/>
<rect x="631.30" y="819.30" width="25.70" height="48.00" fill="url(#g59)"/>
<rect x="731.70" y="819.30" width="58.30" height="48.00" fill="url(#g62)"/>
<rect x="790.50" y="819.30" width="37.50" height="48.00" fill="url(#g62)"/>
<rect x="834.50" y="819.30" width="4.50" height="48.00" fill="url(#g61)"/>
<rect x="841.00" y="819.30" width="6.50" height="48.00" fill="url(#g63)"/>
<rect x="941.00" y="819.30" width="11.50" height="48.00" fill="url(#g61)"/>
<rect x="1006.30" y="819.30" width="36.70" height="48.00" fill="url(#g61)"/>
<rect x="1043.00" y="819.30" width="33.00" height="48.00" fill="url(#g64)"/>
<rect x="1403.10" y="819.30" width="16.20" height="48.00" fill="url(#g61)"/>
<rect x="1421.80" y="819.30" width="21.20" height="48.00" fill="url(#g59)"/>
<rect x="1446.00" y="819.30" width="34.00" height="48.00" fill="url(#g59)"/>
<rect x="1481.40" y="819.30" width="7.00" height="48.00" fill="url(#g61)"/>
<rect x="318.80" y="819.30" width="3.70" height="48.00" fill="url(#g61)"/>
<rect x="319.40" y="819.30" width="2.50" height="48.00" fill="url(#g65)"/>
<rect x="350.40" y="819.30" width="6.00" height="48.00" fill="url(#g61)"/>
<rect x="342.80" y="819.30" width="3.80" height="48.00" fill="url(#g61)"/>
<rect x="343.30" y="819.30" width="2.70" height="48.00" fill="url(#g65)"/>
<rect x="351.10" y="819.30" width="4.80" height="48.00" fill="url(#g66)"/>
<rect x="400.50" y="819.30" width="2.60" height="48.00" fill="url(#g66)"/>
<rect x="406.00" y="819.30" width="3.00" height="48.00" fill="url(#g67)"/>
<rect x="411.20" y="819.30" width="2.90" height="48.00" fill="url(#g66)"/>
<rect x="415.10" y="819.30" width="1.90" height="48.00" fill="url(#g66)"/>
<rect x="417.80" y="819.30" width="1.40" height="48.00" fill="url(#g68)"/>
<rect x="420.70" y="819.30" width="3.70" height="48.00" fill="url(#g69)"/>
<rect x="427.30" y="819.30" width="2.90" height="48.00" fill="url(#g70)"/>
<rect x="431.70" y="819.30" width="4.40" height="48.00" fill="url(#g71)"/>
<rect x="436.80" y="819.30" width="2.20" height="48.00" fill="url(#g70)"/>
<rect x="441.20" y="819.30" width="4.40" height="48.00" fill="url(#g72)"/>
<rect x="451.90" y="819.30" width="2.90" height="48.00" fill="url(#g73)"/>
<rect x="455.30" y="819.30" width="2.80" height="48.00" fill="url(#g73)"/>
<rect x="460.30" y="819.30" width="2.90" height="48.00" fill="url(#g74)"/>
<rect x="465.40" y="819.30" width="1.50" height="48.00" fill="url(#g61)"/>
<rect x="469.00" y="819.30" width="2.30" height="48.00" fill="url(#g75)"/>
<rect x="472.70" y="819.30" width="1.50" height="48.00" fill="url(#g76)"/>
<rect x="477.10" y="819.30" width="1.90" height="48.00" fill="url(#g77)"/>
<rect x="483.70" y="819.30" width="1.50" height="48.00" fill="url(#g66)"/>
<rect x="487.40" y="819.30" width="1.50" height="48.00" fill="url(#g63)"/>
<rect x="496.90" y="819.30" width="2.90" height="48.00" fill="url(#g66)"/>
<rect x="500.60" y="819.30" width="2.90" height="48.00" fill="url(#g66)"/>
<rect x="508.60" y="819.30" width="3.00" height="48.00" fill="url(#g65)"/>
<rect x="516.30" y="819.30" width="2.30" height="48.00" fill="url(#g66)"/>
<rect x="520.40" y="819.30" width="2.60" height="48.00" fill="url(#g66)"/>
<rect x="523.60" y="819.30" width="2.60" height="48.00" fill="url(#g66)"/>
<rect x="529.20" y="819.30" width="4.40" height="48.00" fill="url(#g73)"/>
<rect x="535.00" y="819.30" width="3.00" height="48.00" fill="url(#g78)"/>
<rect x="538.70" y="819.30" width="6.60" height="48.00" fill="url(#g79)"/>
<rect x="546.00" y="819.30" width="1.50" height="48.00" fill="url(#g72)"/>
<rect x="549.70" y="819.30" width="2.20" height="48.00" fill="url(#g69)"/>
<rect x="608.60" y="819.30" width="2.90" height="48.00" fill="url(#g66)"/>
<rect x="614.40" y="819.30" width="3.40" height="48.00" fill="url(#g65)"/>
<rect x="621.00" y="819.30" width="2.20" height="48.00" fill="url(#g78)"/>
<rect x="624.00" y="819.30" width="3.60" height="48.00" fill="url(#g66)"/>
<rect x="632.00" y="819.30" width="1.50" height="48.00" fill="url(#g72)"/>
<rect x="635.00" y="819.30" width="1.90" height="48.00" fill="url(#g77)"/>
<rect x="637.90" y="819.30" width="2.20" height="48.00" fill="url(#g65)"/>
<rect x="641.80" y="819.30" width="1.50" height="48.00" fill="url(#g66)"/>
<rect x="643.90" y="819.30" width="1.80" height="48.00" fill="url(#g66)"/>
<rect x="649.60" y="819.30" width="1.50" height="48.00" fill="url(#g72)"/>
<rect x="652.50" y="819.30" width="3.70" height="48.00" fill="url(#g73)"/>
<rect x="658.40" y="819.30" width="1.50" height="48.00" fill="url(#g69)"/>
<rect x="663.80" y="819.30" width="2.40" height="48.00" fill="url(#g69)"/>
<rect x="732.40" y="819.30" width="1.80" height="48.00" fill="url(#g72)"/>
<rect x="735.40" y="819.30" width="2.20" height="48.00" fill="url(#g69)"/>
<rect x="739.00" y="819.30" width="3.00" height="48.00" fill="url(#g72)"/>
<rect x="745.60" y="819.30" width="4.40" height="48.00" fill="url(#g65)"/>
<rect x="753.70" y="819.30" width="2.20" height="48.00" fill="url(#g78)"/>
<rect x="757.60" y="819.30" width="1.50" height="48.00" fill="url(#g69)"/>
<rect x="761.40" y="819.30" width="2.50" height="48.00" fill="url(#g67)"/>
<rect x="768.30" y="819.30" width="2.20" height="48.00" fill="url(#g65)"/>
<rect x="773.50" y="819.30" width="5.80" height="48.00" fill="url(#g76)"/>
<rect x="780.80" y="819.30" width="2.20" height="48.00" fill="url(#g72)"/>
<rect x="784.90" y="819.30" width="1.80" height="48.00" fill="url(#g69)"/>
<rect x="790.80" y="819.30" width="3.20" height="48.00" fill="url(#g66)"/>
<rect x="795.40" y="819.30" width="4.40" height="48.00" fill="url(#g73)"/>
<rect x="803.10" y="819.30" width="4.10" height="48.00" fill="url(#g65)"/>
<rect x="809.40" y="819.30" width="3.60" height="48.00" fill="url(#g78)"/>
<rect x="813.80" y="819.30" width="2.50" height="48.00" fill="url(#g66)"/>
<rect x="816.70" y="819.30" width="1.90" height="48.00" fill="url(#g67)"/>
<rect x="820.40" y="819.30" width="7.30" height="48.00" fill="url(#g66)"/>
<rect x="829.20" y="819.30" width="1.70" height="48.00" fill="url(#g69)"/>
<rect x="835.00" y="819.30" width="3.70" height="48.00" fill="url(#g66)"/>
<rect x="841.20" y="819.30" width="5.80" height="48.00" fill="url(#g80)"/>
<rect x="932.60" y="819.30" width="4.40" height="48.00" fill="url(#g61)"/>
<rect x="933.10" y="819.30" width="3.30" height="48.00" fill="url(#g81)"/>
<rect x="941.30" y="819.30" width="3.20" height="48.00" fill="url(#g80)"/>
<rect x="944.90" y="819.30" width="2.20" height="48.00" fill="url(#g66)"/>
<rect x="947.70" y="819.30" width="4.10" height="48.00" fill="url(#g65)"/>
<rect x="952.10" y="819.30" width="1.60" height="48.00" fill="url(#g74)"/>
<rect x="1006.80" y="819.30" width="2.90" height="48.00" fill="url(#g65)"/>
<rect x="1010.10" y="819.30" width="1.50" height="48.00" fill="url(#g77)"/>
<rect x="1012.20" y="819.30" width="1.50" height="48.00" fill="url(#g78)"/>
<rect x="1014.80" y="819.30" width="3.70" height="48.00" fill="url(#g65)"/>
<rect x="1020.00" y="819.30" width="1.40" height="48.00" fill="url(#g74)"/>
<rect x="1023.30" y="819.30" width="3.30" height="48.00" fill="url(#g80)"/>
<rect x="1027.30" y="819.30" width="5.10" height="48.00" fill="url(#g72)"/>
<rect x="1035.70" y="819.30" width="3.30" height="48.00" fill="url(#g78)"/>
<rect x="1039.80" y="819.30" width="2.60" height="48.00" fill="url(#g72)"/>
<rect x="1044.90" y="819.30" width="3.60" height="48.00" fill="url(#g76)"/>
<rect x="1050.30" y="819.30" width="1.50" height="48.00" fill="url(#g74)"/>
<rect x="1055.10" y="819.30" width="2.50" height="48.00" fill="url(#g69)"/>
<rect x="1060.60" y="819.30" width="1.90" height="48.00" fill="url(#g73)"/>
<rect x="1066.10" y="819.30" width="1.50" height="48.00" fill="url(#g82)"/>
<rect x="1069.40" y="819.30" width="1.90" height="48.00" fill="url(#g69)"/>
<rect x="1072.70" y="819.30" width="3.00" height="48.00" fill="url(#g66)"/>
<rect x="1077.10" y="819.30" width="1.50" height="48.00" fill="url(#g69)"/>
<rect x="1081.50" y="819.30" width="2.50" height="48.00" fill="url(#g75)"/>
<rect x="1089.60" y="819.30" width="3.70" height="48.00" fill="url(#g78)"/>
<rect x="1094.70" y="819.30" width="2.20" height="48.00" fill="url(#g74)"/>
<rect x="1098.40" y="819.30" width="1.50" height="48.00" fill="url(#g74)"/>
<rect x="1101.80" y="819.30" width="1.40" height="48.00" fill="url(#g77)"/>
<rect x="1107.90" y="819.30" width="1.50" height="48.00" fill="url(#g77)"/>
<rect x="1114.90" y="819.30" width="1.40" height="48.00" fill="url(#g63)"/>
<rect x="1118.60" y="819.30" width="2.10" height="48.00" fill="url(#g69)"/>
<rect x="1123.30" y="819.30" width="1.20" height="48.00" fill="url(#g82)"/>
<rect x="1127.70" y="819.30" width="1.50" height="48.00" fill="url(#g82)"/>
<rect x="1134.30" y="819.30" width="4.40" height="48.00" fill="url(#g76)"/>
<rect x="1139.10" y="819.30" width="1.50" height="48.00" fill="url(#g70)"/>
<rect x="1141.60" y="819.30" width="1.50" height="48.00" fill="url(#g83)"/>
<rect x="1403.10" y="819.30" width="3.90" height="48.00" fill="url(#g65)"/>
<rect x="1409.30" y="819.30" width="2.90" height="48.00" fill="url(#g66)"/>
<rect x="1412.80" y="819.30" width="6.30" height="48.00" fill="url(#g72)"/>
<rect x="1422.00" y="819.30" width="2.60" height="48.00" fill="url(#g78)"/>
<rect x="1425.90" y="819.30" width="2.00" height="48.00" fill="url(#g69)"/>
<rect x="1428.90" y="819.30" width="1.50" height="48.00" fill="url(#g69)"/>
<rect x="1431.20" y="819.30" width="2.00" height="48.00" fill="url(#g72)"/>
<rect x="1436.70" y="819.30" width="5.40" height="48.00" fill="url(#g66)"/>
<rect x="1446.40" y="819.30" width="4.90" height="48.00" fill="url(#g67)"/>
<rect x="1453.30" y="819.30" width="2.50" height="48.00" fill="url(#g78)"/>
<rect x="1457.20" y="819.30" width="1.90" height="48.00" fill="url(#g69)"/>
<rect x="1460.10" y="819.30" width="1.60" height="48.00" fill="url(#g69)"/>
<rect x="1463.00" y="819.30" width="1.00" height="48.00" fill="url(#g69)"/>
<rect x="1467.00" y="819.30" width="3.90" height="48.00" fill="url(#g67)"/>
<rect x="1472.20" y="819.30" width="3.20" height="48.00" fill="url(#g66)"/>
<rect x="1476.70" y="819.30" width="2.00" height="48.00" fill="url(#g69)"/>
<rect x="1481.60" y="819.30" width="2.00" height="48.00" fill="url(#g84)"/>
<rect x="1484.50" y="819.30" width="3.40" height="48.00" fill="url(#g78)"/>
<rect x="102.20" y="51.40" width="1674.20" height="923.90" fill="none" stroke="#000" stroke-width="1.33"/>
<line x1="96.37" y1="975.30" x2="102.20" y2="975.30" stroke="#000" stroke-width="1.33"/>
<text x="90.50" y="986.30" font-size="30" text-anchor="end">45</text>
<line x1="96.37" y1="843.31" x2="102.20" y2="843.31" stroke="#000" stroke-width="1.33"/>
<text x="90.50" y="854.31" font-size="30" text-anchor="end">50</text>
<line x1="96.37" y1="711.33" x2="102.20" y2="711.33" stroke="#000" stroke-width="1.33"/>
<text x="90.50" y="722.33" font-size="30" text-anchor="end">55</text>
<line x1="96.37" y1="579.34" x2="102.20" y2="579.34" stroke="#000" stroke-width="1.33"/>
<text x="90.50" y="590.34" font-size="30" text-anchor="end">60</text>
<line x1="96.37" y1="447.36" x2="102.20" y2="447.36" stroke="#000" stroke-width="1.33"/>
<text x="90.50" y="458.36" font-size="30" text-anchor="end">65</text>
<line x1="96.37" y1="315.37" x2="102.20" y2="315.37" stroke="#000" stroke-width="1.33"/>
<text x="90.50" y="326.37" font-size="30" text-anchor="end">70</text>
<line x1="96.37" y1="183.39" x2="102.20" y2="183.39" stroke="#000" stroke-width="1.33"/>
<text x="90.50" y="194.39" font-size="30" text-anchor="end">75</text>
<line x1="96.37" y1="51.40" x2="102.20" y2="51.40" stroke="#000" stroke-width="1.33"/>
<text x="90.50" y="62.40" font-size="30" text-anchor="end">80</text>
<line x1="102.20" y1="975.30" x2="102.20" y2="981.13" stroke="#000" stroke-width="1.33"/>
<text x="102.20" y="1009.80" font-size="30" text-anchor="middle">13:00</text>
<line x1="213.81" y1="975.30" x2="213.81" y2="981.13" stroke="#000" stroke-width="1.33"/>
<text x="213.81" y="1009.80" font-size="30" text-anchor="middle">13:01</text>
<line x1="325.43" y1="975.30" x2="325.43" y2="981.13" stroke="#000" stroke-width="1.33"/>
<text x="325.43" y="1009.80" font-size="30" text-anchor="middle">13:02</text>
<line x1="437.04" y1="975.30" x2="437.04" y2="981.13" stroke="#000" stroke-width="1.33"/>
<text x="437.04" y="1009.80" font-size="30" text-anchor="middle">13:03</text>
<line x1="548.65" y1="975.30" x2="548.65" y2="981.13" stroke="#000" stroke-width="1.33"/>
<text x="548.65" y="1009.80" font-size="30" text-anchor="middle">13:04</text>
<line x1="660.27" y1="975.30" x2="660.27" y2="981.13" stroke="#000" stroke-width="1.33"/>
<text x="660.27" y="1009.80" font-size="30" text-anchor="middle">13:05</text>
<line x1="771.88" y1="975.30" x2="771.88" y2="981.13" stroke="#000" stroke-width="1.33"/>
<text x="771.88" y="1009.80" font-size="30" text-anchor="middle">13:06</text>
<line x1="883.49" y1="975.30" x2="883.49" y2="981.13" stroke="#000" stroke-width="1.33"/>
<text x="883.49" y="1009.80" font-size="30" text-anchor="middle">13:07</text>
<line x1="995.11" y1="975.30" x2="995.11" y2="981.13" stroke="#000" stroke-width="1.33"/>
<text x="995.11" y="1009.80" font-size="30" text-anchor="middle">13:08</text>
<line x1="1106.72" y1="975.30" x2="1106.72" y2="981.13" stroke="#000" stroke-width="1.33"/>
<text x="1106.72" y="1009.80" font-size="30" text-anchor="middle">13:09</text>
<line x1="1218.33" y1="975.30" x2="1218.33" y2="981.13" stroke="#000" stroke-width="1.33"/>
<text x="1218.33" y="1009.80" font-size="30" text-anchor="middle">13:10</text>
<line x1="1329.95" y1="975.30" x2="1329.95" y2="981.13" stroke="#000" stroke-width="1.33"/>
<text x="1329.95" y="1009.80" font-size="30" text-anchor="middle">13:11</text>
<line x1="1441.56" y1="975.30" x2="1441.56" y2="981.13" stroke="#000" stroke-width="1.33"/>
<text x="1441.56" y="1009.80" font-size="30" text-anchor="middle">13:12</text>
<line x1="1553.17" y1="975.30" x2="1553.17" y2="981.13" stroke="#000" stroke-width="1.33"/>
<text x="1553.17" y="1009.80" font-size="30" text-anchor="middle">13:13</text>
<line x1="1664.79" y1="975.30" x2="1664.79" y2="981.13" stroke="#000" stroke-width="1.33"/>
<text x="1664.79" y="1009.80" font-size="30" text-anchor="middle">13:14</text>
<text x="939.30" y="40.80" font-size="36.63" text-anchor="middle" xml:space="preserve">2026/03/01  Radio flux density, e-CALLISTO (TRIEST), Focuscode: 57</text>
<text x="939.30" y="1048.60" font-size="33.33" text-anchor="middle">Observation time [UTC]</text>
<text transform="translate(37.70 513.35) rotate(-90)" font-size="33.33" text-anchor="middle">Frequency [MHz]</text>
<rect x="1916.40" y="27.30" width="43.40" height="959.70" fill="url(#cb)" stroke="#000" stroke-width="1.33"/>
<line x1="1959.80" y1="987.00" x2="1965.63" y2="987.00" stroke="#000" stroke-width="1.33"/>
<text x="1971.50" y="992.30" font-size="16.67">−2</text>
<line x1="1959.80" y1="874.09" x2="1965.63" y2="874.09" stroke="#000" stroke-width="1.33"/>
<text x="1971.50" y="879.39" font-size="16.67">0</text>
<line x1="1959.80" y1="761.19" x2="1965.63" y2="761.19" stroke="#000" stroke-width="1.33"/>
<text x="1971.50" y="766.49" font-size="16.67">2</text>
<line x1="1959.80" y1="648.28" x2="1965.63" y2="648.28" stroke="#000" stroke-width="1.33"/>
<text x="1971.50" y="653.58" font-size="16.67">4</text>
<line x1="1959.80" y1="535.38" x2="1965.63" y2="535.38" stroke="#000" stroke-width="1.33"/>
<text x="1971.50" y="540.68" font-size="16.67">6</text>
<line x1="1959.80" y1="422.47" x2="1965.63" y2="422.47" stroke="#000" stroke-width="1.33"/>
<text x="1971.50" y="427.77" font-size="16.67">8</text>
<line x1="1959.80" y1="309.56" x2="1965.63" y2="309.56" stroke="#000" stroke-width="1.33"/>
<text x="1971.50" y="314.86" font-size="16.67">10</text>
<line x1="1959.80" y1="196.66" x2="1965.63" y2="196.66" stroke="#000" stroke-width="1.33"/>
<text x="1971.50" y="201.96" font-size="16.67">12</text>
<line x1="1959.80" y1="83.75" x2="1965.63" y2="83.75" stroke="#000" stroke-width="1.33"/>
<text x="1971.50" y="89.05" font-size="16.67">14</text>
<text transform="translate(2027.60 507.15) rotate(-90)" font-size="33.33" text-anchor="middle">dB above background</text>
</svg>
</body></html>
